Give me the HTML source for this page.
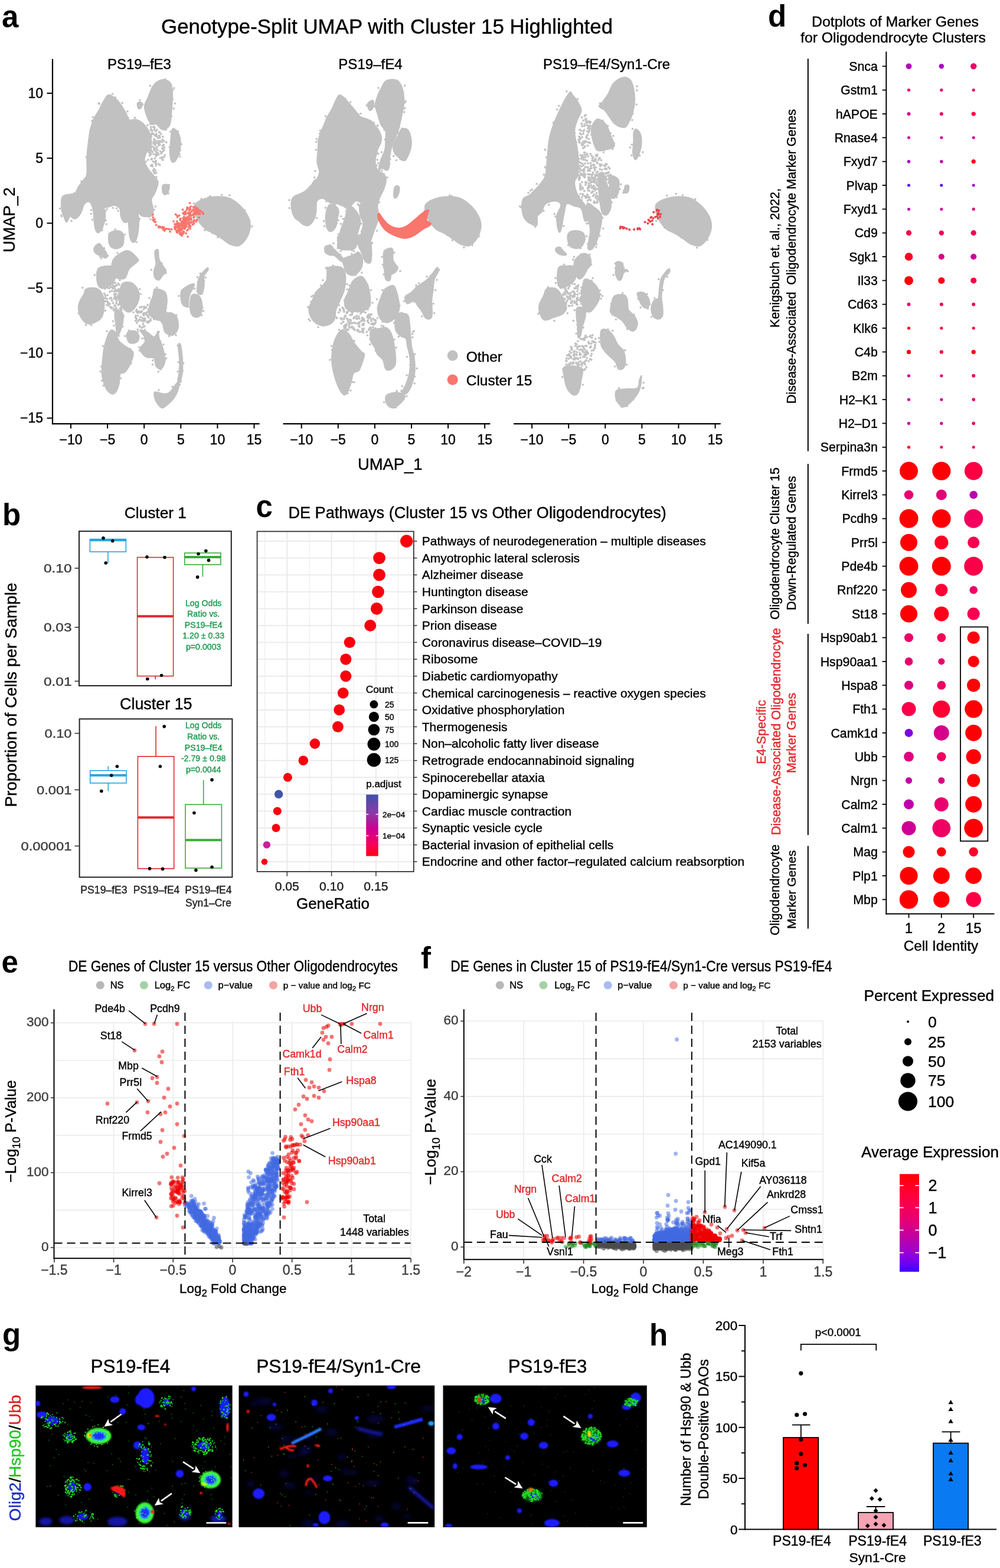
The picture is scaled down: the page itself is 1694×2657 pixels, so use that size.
<!DOCTYPE html>
<html><head><meta charset="utf-8"><title>Figure</title>
<style>
html,body{margin:0;padding:0;background:#fff;}
svg{display:block;}
text{font-family:"Liberation Sans",Arial,Helvetica,sans-serif;}
</style></head>
<body>
<svg width="1694" height="2657" viewBox="0 0 1694 2657">
<rect width="1694" height="2657" fill="#fff"/>
<text x="3.0" y="46.0" font-size="51.00" font-weight="bold">a</text>
<text x="4.0" y="889.8" font-size="51.00" font-weight="bold">b</text>
<text x="433.5" y="876.0" font-size="51.00" font-weight="bold">c</text>
<text x="1301.0" y="45.0" font-size="51.00" font-weight="bold">d</text>
<text x="2.5" y="1648.3" font-size="51.00" font-weight="bold">e</text>
<text x="713.0" y="1641.3" font-size="51.00" font-weight="bold">f</text>
<text x="4.0" y="2278.6" font-size="51.00" font-weight="bold">g</text>
<text x="1100.0" y="2279.9" font-size="51.00" font-weight="bold">h</text>
<text x="273.0" y="57.0" font-size="34.88" stroke="#000" stroke-width="0.4">Genotype-Split UMAP with Cluster 15 Highlighted</text>
<text x="182.0" y="116.5" font-size="23.98" stroke="#000" stroke-width="0.4">PS19–fE3</text>
<text x="573.3" y="116.5" font-size="24.07" stroke="#000" stroke-width="0.4">PS19–fE4</text>
<text x="920.0" y="116.5" font-size="23.88" stroke="#000" stroke-width="0.4">PS19–fE4/Syn1-Cre</text>
<g fill="#c1c1c1" stroke="#c1c1c1" stroke-width="2" stroke-linejoin="round"><path d="M183.9,160.8 C187.5,159.9 192.6,164.6 196.1,167.3 C199.6,170.1 201.8,173.2 204.7,177.3 C207.6,181.4 210.9,187.3 213.3,191.6 C215.7,195.9 216.1,201.3 219.0,203.1 C221.9,204.9 226.7,201.4 230.5,202.4 C234.3,203.4 238.3,205.6 241.9,208.8 C245.5,212.0 249.6,216.9 252.0,221.7 C254.4,226.5 255.8,232.5 256.3,237.5 C256.8,242.5 256.2,248.2 254.8,251.8 C253.4,255.4 249.4,255.4 247.7,259.0 C246.0,262.6 244.1,268.5 244.8,273.3 C245.5,278.1 249.6,283.9 252.0,287.7 C254.4,291.5 256.5,292.7 259.1,296.3 C261.7,299.9 267.2,303.9 267.7,309.2 C268.2,314.4 263.9,323.0 262.0,327.8 C260.1,332.6 256.8,333.5 256.3,337.8 C255.8,342.1 258.9,349.1 259.1,353.6 C259.3,358.2 260.6,363.0 257.7,365.1 C254.8,367.2 246.0,367.5 241.9,366.5 C237.8,365.5 235.9,361.4 233.3,359.3 C230.7,357.2 228.6,354.1 226.2,353.6 C223.8,353.1 220.4,353.1 219.0,356.5 C217.6,359.9 219.0,370.4 217.6,373.7 C216.2,377.0 212.6,377.7 210.4,376.5 C208.3,375.3 205.9,370.3 204.7,366.5 C203.5,362.7 204.9,356.7 203.2,353.6 C201.5,350.5 197.9,348.4 194.6,347.9 C191.3,347.4 186.3,349.8 183.2,350.7 C180.1,351.6 178.2,349.8 176.0,353.6 C173.8,357.4 171.5,368.0 170.3,373.7 C169.1,379.4 169.8,385.1 168.8,388.0 C167.8,390.9 165.9,393.3 164.5,390.9 C163.1,388.5 161.4,379.9 160.2,373.7 C159.0,367.5 158.8,358.9 157.4,353.6 C156.0,348.3 154.0,343.5 151.6,342.1 C149.2,340.7 145.2,342.6 143.0,345.0 C140.8,347.4 140.4,352.9 138.7,356.5 C137.0,360.1 135.2,364.1 133.0,366.5 C130.8,368.9 128.2,370.8 125.8,370.8 C123.4,370.8 120.8,365.6 118.7,366.5 C116.5,367.4 114.6,376.3 112.9,376.5 C111.2,376.7 110.0,371.7 108.6,367.9 C107.2,364.1 104.8,359.3 104.3,353.6 C103.8,347.9 103.4,337.6 105.8,333.5 C108.2,329.4 115.1,330.1 118.7,329.2 C122.3,328.2 124.9,329.9 127.3,327.8 C129.7,325.7 130.6,320.1 133.0,316.3 C135.4,312.5 139.2,308.5 141.6,304.9 C144.0,301.3 146.3,301.2 147.3,294.8 C148.3,288.4 146.8,275.8 147.3,266.2 C147.8,256.6 149.2,245.4 150.2,237.5 C151.2,229.6 151.7,224.9 153.1,218.9 C154.5,212.9 156.4,207.0 158.8,201.7 C161.2,196.4 164.8,192.1 167.4,187.3 C170.0,182.5 171.8,177.4 174.6,173.0 C177.3,168.6 180.3,161.8 183.9,160.8Z"/><path d="M277.8,135.0 C281.6,135.5 286.8,137.6 289.2,141.5 C291.6,145.4 291.8,151.1 292.1,158.7 C292.3,166.3 291.4,178.7 290.7,187.3 C290.0,195.9 289.5,205.0 287.8,210.3 C286.1,215.6 283.0,217.5 280.6,218.9 C278.2,220.3 276.1,220.3 273.5,218.9 C270.9,217.5 267.8,211.7 264.9,210.3 C262.0,208.9 258.9,212.5 256.3,210.3 C253.7,208.2 251.0,202.4 249.1,197.4 C247.2,192.4 244.6,185.5 244.8,180.2 C245.0,174.9 248.3,171.1 250.5,165.8 C252.7,160.5 255.1,153.1 257.7,148.6 C260.3,144.1 262.9,140.9 266.3,138.6 C269.7,136.3 274.0,134.5 277.8,135.0Z"/><path d="M233.5,174.0 C234.6,172.9 238.3,172.5 239.5,173.5 C240.7,174.5 241.1,178.2 240.5,180.0 C239.9,181.8 237.2,184.5 236.0,184.5 C234.8,184.5 233.4,181.8 233.0,180.0 C232.6,178.2 232.4,175.1 233.5,174.0Z"/><path d="M292.1,218.9 C294.0,216.5 298.4,219.9 300.7,223.2 C303.0,226.5 305.2,232.9 305.7,238.9 C306.2,244.9 305.1,253.3 303.6,259.0 C302.0,264.7 298.5,270.9 296.4,273.3 C294.2,275.7 292.1,275.7 290.7,273.3 C289.3,270.9 288.1,265.0 287.8,259.0 C287.6,253.0 288.5,244.2 289.2,237.5 C289.9,230.8 290.2,221.3 292.1,218.9Z"/><path d="M276.0,314.0 C277.5,311.8 283.3,312.5 285.0,313.5 C286.7,314.5 286.9,317.4 286.4,320.0 C285.9,322.6 283.7,328.0 282.0,329.2 C280.3,330.4 277.0,329.5 276.0,327.0 C275.0,324.5 274.5,316.2 276.0,314.0Z"/><path d="M160.2,353.6 C162.8,349.1 173.1,350.2 176.0,353.6 C178.9,357.0 178.4,367.5 177.4,373.7 C176.5,379.9 172.5,387.6 170.3,390.9 C168.2,394.2 166.2,395.4 164.5,393.7 C162.8,392.0 160.9,387.5 160.2,380.8 C159.5,374.1 157.6,358.1 160.2,353.6Z"/><path d="M186.0,395.0 C188.7,392.3 196.2,390.5 200.0,391.0 C203.8,391.5 207.7,394.0 209.0,398.0 C210.3,402.0 209.8,411.2 208.0,415.0 C206.2,418.8 201.3,420.5 198.0,421.0 C194.7,421.5 190.3,420.3 188.0,418.0 C185.7,415.7 184.3,410.8 184.0,407.0 C183.7,403.2 183.3,397.7 186.0,395.0Z"/><path d="M219.0,356.0 C221.2,349.8 229.3,354.0 232.0,358.0 C234.7,362.0 235.2,372.2 235.0,380.0 C234.8,387.8 232.8,400.0 231.0,405.0 C229.2,410.0 226.0,411.7 224.0,410.0 C222.0,408.3 219.8,404.0 219.0,395.0 C218.2,386.0 216.8,362.2 219.0,356.0Z"/><path d="M331.0,345.7 C333.9,342.3 340.5,338.7 347.0,336.6 C353.5,334.5 362.6,333.2 369.8,333.2 C377.0,333.2 383.9,333.8 390.3,336.6 C396.8,339.5 403.6,345.4 408.5,350.3 C413.4,355.2 417.3,361.0 419.9,366.3 C422.5,371.6 423.9,376.9 424.0,382.2 C424.1,387.5 422.2,393.6 420.4,398.2 C418.6,402.8 415.8,406.6 413.1,409.6 C410.4,412.6 407.8,415.6 404.0,416.4 C400.2,417.1 394.9,416.0 390.3,414.1 C385.7,412.2 381.2,408.0 376.6,405.0 C372.0,402.0 367.5,398.5 362.9,395.9 C358.3,393.2 353.0,391.8 349.2,389.1 C345.4,386.4 342.8,383.3 340.1,379.9 C337.5,376.5 335.0,372.3 333.3,368.5 C331.6,364.7 330.3,360.9 329.9,357.1 C329.5,353.3 328.2,349.1 331.0,345.7Z"/></g>
<g fill="#c1c1c1" stroke="#c1c1c1" stroke-width="2" stroke-linejoin="round" opacity="1.00"><path d="M159.3,420.3 C160.3,417.6 165.3,412.7 167.8,412.7 C170.3,412.7 172.2,417.3 174.5,420.3 C176.8,423.3 180.5,427.7 181.3,430.5 C182.2,433.3 181.3,436.7 179.6,437.3 C177.9,437.9 174.1,435.3 171.1,433.9 C168.1,432.5 163.8,431.1 161.8,428.8 C159.8,426.5 158.3,423.0 159.3,420.3Z"/><path d="M191.5,440.7 C194.0,435.6 200.5,431.4 205.0,428.8 C209.5,426.2 213.8,423.7 218.6,425.4 C223.4,427.1 231.6,435.9 233.8,439.0 C236.1,442.1 234.6,441.2 232.1,444.0 C229.6,446.8 222.0,451.4 218.6,455.9 C215.2,460.4 215.2,468.6 211.8,471.1 C208.4,473.6 201.9,473.1 198.2,471.1 C194.5,469.1 190.9,464.4 189.8,459.3 C188.7,454.2 189.0,445.8 191.5,440.7Z"/><path d="M166.1,455.9 C168.9,451.7 176.5,451.1 181.3,450.8 C186.1,450.5 192.6,450.5 194.9,454.2 C197.2,457.9 196.6,467.7 194.9,472.8 C193.2,477.9 188.7,482.1 184.7,484.7 C180.7,487.2 174.5,489.5 171.1,488.1 C167.7,486.7 165.2,481.6 164.4,476.2 C163.6,470.8 163.3,460.1 166.1,455.9Z"/><path d="M145.7,489.8 C148.8,488.1 156.8,487.2 161.0,488.1 C165.2,489.0 168.6,491.2 171.1,494.9 C173.6,498.6 175.6,503.9 176.2,510.1 C176.8,516.3 175.9,526.7 174.5,532.1 C173.1,537.5 171.8,539.5 167.8,542.3 C163.9,545.1 155.6,549.3 150.8,549.0 C146.0,548.7 142.0,544.6 139.0,540.6 C136.0,536.6 133.7,530.1 133.0,525.3 C132.3,520.5 133.1,516.3 134.7,511.8 C136.2,507.3 140.5,501.9 142.3,498.2 C144.1,494.5 142.6,491.5 145.7,489.8Z"/><path d="M208.4,479.6 C211.8,477.6 219.4,477.6 223.6,479.6 C227.8,481.6 231.8,487.3 233.8,491.5 C235.8,495.7 236.1,500.5 235.5,505.0 C234.9,509.5 233.2,514.6 230.4,518.6 C227.6,522.6 222.3,528.1 218.6,528.7 C214.9,529.3 211.2,525.4 208.4,522.0 C205.6,518.6 202.4,513.5 201.6,508.4 C200.7,503.3 202.2,496.3 203.3,491.5 C204.4,486.7 205.0,481.6 208.4,479.6Z"/><path d="M194.9,528.7 C196.6,524.8 204.4,526.2 206.7,528.7 C208.9,531.2 209.0,538.4 208.4,544.0 C207.8,549.6 205.0,558.6 203.3,562.6 C201.6,566.6 199.3,569.4 198.2,567.7 C197.1,566.0 197.0,558.9 196.5,552.4 C196.0,545.9 193.2,532.7 194.9,528.7Z"/><path d="M262.6,425.4 C263.5,423.7 266.6,421.4 267.7,423.7 C268.8,426.0 268.0,434.5 269.4,439.0 C270.8,443.5 274.2,447.4 276.2,450.8 C278.2,454.2 281.5,456.5 281.2,459.3 C280.9,462.1 276.5,465.3 274.5,467.8 C272.5,470.3 271.4,473.9 269.4,474.5 C267.4,475.1 264.0,473.6 262.6,471.1 C261.2,468.6 260.6,463.2 260.9,459.3 C261.2,455.4 264.0,451.6 264.3,447.4 C264.6,443.2 262.9,437.6 262.6,433.9 C262.3,430.2 261.8,427.1 262.6,425.4Z"/><path d="M262.6,489.8 C266.0,488.7 276.1,491.5 279.5,494.9 C282.9,498.3 282.6,504.5 282.9,510.1 C283.2,515.7 279.8,525.3 281.2,528.7 C282.6,532.1 288.3,528.7 291.4,530.4 C294.5,532.1 298.2,534.7 299.9,538.9 C301.6,543.1 302.7,551.0 301.6,555.8 C300.5,560.6 296.8,566.6 293.1,567.7 C289.4,568.8 282.6,566.3 279.5,562.6 C276.4,558.9 277.3,549.4 274.5,545.7 C271.7,542.0 266.3,542.9 262.6,540.6 C258.9,538.3 253.8,536.3 252.4,532.1 C251.0,527.9 253.0,520.3 254.1,515.2 C255.2,510.1 257.8,505.8 259.2,501.6 C260.6,497.4 259.2,490.9 262.6,489.8Z"/><path d="M350.7,454.2 C353.0,452.5 353.2,455.3 352.4,457.6 C351.5,459.9 346.7,463.3 345.6,467.8 C344.5,472.3 346.2,479.6 345.6,484.7 C345.0,489.8 343.9,496.2 342.2,498.2 C340.5,500.2 336.8,499.3 335.5,496.5 C334.2,493.7 334.0,486.1 334.6,481.3 C335.1,476.5 336.1,472.3 338.8,467.8 C341.5,463.3 348.4,455.9 350.7,454.2Z"/><path d="M325.3,499.9 C327.8,497.1 334.3,499.1 337.1,501.6 C339.9,504.2 341.6,510.1 342.2,515.2 C342.8,520.3 341.9,528.4 340.5,532.1 C339.1,535.8 336.3,536.9 333.8,537.2 C331.3,537.5 327.3,536.9 325.3,533.8 C323.3,530.7 321.9,524.2 321.9,518.6 C321.9,513.0 322.8,502.7 325.3,499.9Z"/><path d="M308.3,491.5 C311.4,487.6 321.9,482.4 325.3,481.3 C328.7,480.2 329.6,481.3 328.7,484.7 C327.8,488.1 321.9,496.0 320.2,501.6 C318.5,507.2 320.2,516.1 318.5,518.6 C316.8,521.1 312.0,519.2 310.0,516.9 C308.0,514.6 306.9,509.2 306.6,505.0 C306.3,500.8 305.2,495.4 308.3,491.5Z"/><path d="M186.4,560.9 C189.2,557.5 192.4,559.8 194.9,562.6 C197.4,565.4 198.8,573.8 201.6,577.8 C204.4,581.8 207.8,583.2 211.8,586.3 C215.8,589.4 223.6,592.0 225.3,596.5 C227.0,601.0 224.2,607.8 222.0,613.4 C219.8,619.0 214.9,627.0 211.8,630.4 C208.7,633.8 205.0,630.3 203.3,633.7 C201.6,637.1 203.0,645.3 201.6,650.7 C200.2,656.1 197.4,663.4 194.9,665.9 C192.4,668.4 189.2,667.9 186.4,665.9 C183.6,663.9 180.2,659.5 177.9,654.1 C175.6,648.7 173.4,642.2 172.8,633.7 C172.2,625.2 173.7,611.8 174.5,603.3 C175.3,594.8 175.9,590.0 177.9,582.9 C179.9,575.8 183.6,564.3 186.4,560.9Z"/><path d="M216.9,562.6 C219.2,560.6 225.6,559.8 228.7,560.9 C231.8,562.0 234.9,566.3 235.5,569.4 C236.1,572.5 234.6,577.5 232.1,579.5 C229.6,581.5 223.1,582.3 220.3,581.2 C217.5,580.1 215.8,575.9 215.2,572.8 C214.6,569.7 214.7,564.6 216.9,562.6Z"/><path d="M237.2,559.2 C238.0,558.1 245.1,560.6 249.0,562.6 C252.9,564.6 257.8,571.1 260.9,571.1 C264.0,571.1 266.3,562.3 267.7,562.6 C269.1,562.9 268.0,568.0 269.4,572.8 C270.8,577.6 274.5,584.9 276.2,591.4 C277.9,597.9 280.1,606.1 279.5,611.7 C278.9,617.4 275.3,623.9 272.8,625.3 C270.3,626.7 266.3,623.3 264.3,620.2 C262.3,617.1 263.7,609.1 260.9,606.6 C258.1,604.1 251.4,607.5 247.4,605.0 C243.5,602.5 237.5,595.6 237.2,591.4 C236.9,587.1 244.6,583.2 245.7,579.5 C246.8,575.8 245.4,572.8 244.0,569.4 C242.6,566.0 236.4,560.3 237.2,559.2Z"/><path d="M262.6,664.2 C265.3,663.4 273.6,667.6 277.8,667.6 C282.0,667.6 284.6,667.0 288.0,664.2 C291.4,661.4 295.6,653.5 298.2,650.7 C300.8,647.9 302.7,645.6 303.3,647.3 C303.9,649.0 303.0,656.3 301.6,660.8 C300.2,665.3 297.9,670.2 294.8,674.4 C291.7,678.6 286.3,683.4 282.9,686.2 C279.5,689.0 277.3,691.8 274.5,691.3 C271.7,690.8 268.1,686.0 266.0,682.9 C263.9,679.8 262.4,675.8 261.8,672.7 C261.2,669.6 259.9,665.1 262.6,664.2Z"/><path d="M302.0,585.0 C302.3,581.2 304.8,580.8 306.0,585.0 C307.2,589.2 308.5,602.5 309.0,610.0 C309.5,617.5 309.7,623.8 309.0,630.0 C308.3,636.2 306.3,644.2 305.0,647.0 C303.7,649.8 301.2,650.2 301.0,647.0 C300.8,643.8 303.5,634.5 304.0,628.0 C304.5,621.5 304.3,615.2 304.0,608.0 C303.7,600.8 301.7,588.8 302.0,585.0Z"/></g>
<g fill="#c1c1c1"><circle cx="269.9" cy="239.6" r="1.9"/><circle cx="276.7" cy="246.4" r="1.9"/><circle cx="269.4" cy="223.9" r="1.9"/><circle cx="264.8" cy="241.7" r="1.9"/><circle cx="256.2" cy="231.2" r="1.9"/><circle cx="267.1" cy="254.3" r="1.9"/><circle cx="275.2" cy="269.4" r="1.9"/><circle cx="260.9" cy="286.2" r="1.9"/><circle cx="260.2" cy="240.1" r="1.9"/><circle cx="270.7" cy="279.6" r="1.9"/><circle cx="263.3" cy="289.0" r="1.9"/><circle cx="265.3" cy="263.2" r="1.9"/><circle cx="260.1" cy="226.9" r="1.9"/><circle cx="264.3" cy="280.6" r="1.9"/><circle cx="256.2" cy="254.8" r="1.9"/><circle cx="265.6" cy="230.6" r="1.9"/><circle cx="274.6" cy="266.6" r="1.9"/><circle cx="264.1" cy="275.6" r="1.9"/><circle cx="264.9" cy="228.0" r="1.9"/><circle cx="253.6" cy="258.6" r="1.9"/><circle cx="255.6" cy="261.4" r="1.9"/><circle cx="257.3" cy="226.7" r="1.9"/><circle cx="277.8" cy="254.5" r="1.9"/><circle cx="281.8" cy="241.2" r="1.9"/><circle cx="269.3" cy="244.5" r="1.9"/><circle cx="254.6" cy="252.4" r="1.9"/><circle cx="267.4" cy="242.7" r="1.9"/><circle cx="255.7" cy="215.1" r="1.9"/><circle cx="275.4" cy="236.6" r="1.9"/><circle cx="262.8" cy="244.0" r="1.9"/><circle cx="265.4" cy="239.4" r="1.9"/><circle cx="267.6" cy="259.3" r="1.9"/><circle cx="260.8" cy="253.3" r="1.9"/><circle cx="256.6" cy="227.7" r="1.9"/><circle cx="261.9" cy="239.1" r="1.9"/><circle cx="261.3" cy="254.0" r="1.9"/><circle cx="272.8" cy="259.8" r="1.9"/><circle cx="257.7" cy="225.6" r="1.9"/><circle cx="257.7" cy="279.1" r="1.9"/><circle cx="278.0" cy="265.8" r="1.9"/><circle cx="269.0" cy="239.0" r="1.9"/><circle cx="270.5" cy="232.7" r="1.9"/><circle cx="262.5" cy="268.3" r="1.9"/><circle cx="259.5" cy="289.2" r="1.9"/><circle cx="261.5" cy="219.3" r="1.9"/><circle cx="270.3" cy="233.3" r="1.9"/><circle cx="264.5" cy="257.5" r="1.9"/><circle cx="257.9" cy="226.7" r="1.9"/><circle cx="255.7" cy="218.9" r="1.9"/><circle cx="253.5" cy="263.7" r="1.9"/><circle cx="267.3" cy="233.7" r="1.9"/><circle cx="263.1" cy="245.8" r="1.9"/><circle cx="262.1" cy="274.7" r="1.9"/><circle cx="255.2" cy="241.5" r="1.9"/><circle cx="265.8" cy="219.9" r="1.9"/><circle cx="264.9" cy="227.2" r="1.9"/><circle cx="258.1" cy="221.7" r="1.9"/><circle cx="254.3" cy="260.3" r="1.9"/><circle cx="258.4" cy="281.8" r="1.9"/><circle cx="262.0" cy="293.7" r="1.9"/><circle cx="256.4" cy="220.4" r="1.9"/><circle cx="255.9" cy="270.1" r="1.9"/><circle cx="254.5" cy="253.5" r="1.9"/><circle cx="260.4" cy="243.7" r="1.9"/><circle cx="264.6" cy="292.9" r="1.9"/><circle cx="259.3" cy="273.5" r="1.9"/><circle cx="257.9" cy="257.3" r="1.9"/><circle cx="262.1" cy="228.9" r="1.9"/><circle cx="264.0" cy="261.5" r="1.9"/><circle cx="270.0" cy="230.0" r="1.9"/><circle cx="264.0" cy="264.6" r="1.9"/><circle cx="261.1" cy="250.3" r="1.9"/><circle cx="260.1" cy="261.1" r="1.9"/><circle cx="271.5" cy="256.4" r="1.9"/><circle cx="266.2" cy="260.3" r="1.9"/><circle cx="275.8" cy="247.5" r="1.9"/><circle cx="272.6" cy="239.1" r="1.9"/><circle cx="279.4" cy="262.8" r="1.9"/><circle cx="278.2" cy="238.8" r="1.9"/><circle cx="278.6" cy="250.0" r="1.9"/><circle cx="255.5" cy="250.8" r="1.9"/><circle cx="264.0" cy="230.7" r="1.9"/><circle cx="260.9" cy="214.9" r="1.9"/><circle cx="260.8" cy="235.7" r="1.9"/><circle cx="277.1" cy="245.5" r="1.9"/><circle cx="256.3" cy="249.0" r="1.9"/><circle cx="270.8" cy="224.1" r="1.9"/><circle cx="268.4" cy="277.8" r="1.9"/><circle cx="275.9" cy="231.7" r="1.9"/><circle cx="276.2" cy="246.1" r="1.9"/><circle cx="264.0" cy="256.9" r="1.9"/><circle cx="263.0" cy="252.6" r="1.9"/><circle cx="261.7" cy="216.3" r="1.9"/><circle cx="268.7" cy="261.8" r="1.9"/><circle cx="275.6" cy="256.7" r="1.9"/><circle cx="265.5" cy="249.5" r="1.9"/><circle cx="272.8" cy="227.1" r="1.9"/><circle cx="265.1" cy="251.3" r="1.9"/><circle cx="255.7" cy="220.8" r="1.9"/><circle cx="255.6" cy="231.9" r="1.9"/><circle cx="268.6" cy="246.6" r="1.9"/><circle cx="257.4" cy="268.9" r="1.9"/><circle cx="270.5" cy="241.4" r="1.9"/><circle cx="268.3" cy="242.4" r="1.9"/><circle cx="262.3" cy="237.1" r="1.9"/><circle cx="255.6" cy="280.9" r="1.9"/><circle cx="252.9" cy="255.7" r="1.9"/><circle cx="273.6" cy="259.4" r="1.9"/><circle cx="257.3" cy="257.5" r="1.9"/><circle cx="274.8" cy="251.4" r="1.9"/><circle cx="270.8" cy="232.8" r="1.9"/><circle cx="261.0" cy="292.1" r="1.9"/><circle cx="264.2" cy="272.5" r="1.9"/><circle cx="257.7" cy="257.4" r="1.9"/><circle cx="252.5" cy="258.2" r="1.9"/><circle cx="270.1" cy="230.5" r="1.9"/><circle cx="264.0" cy="277.7" r="1.9"/><circle cx="270.9" cy="245.2" r="1.9"/><circle cx="261.2" cy="242.4" r="1.9"/><circle cx="275.1" cy="240.6" r="1.9"/><circle cx="263.7" cy="222.4" r="1.9"/><circle cx="271.4" cy="267.8" r="1.9"/><circle cx="260.1" cy="243.2" r="1.9"/><circle cx="276.2" cy="251.9" r="1.9"/><circle cx="263.7" cy="256.6" r="1.9"/><circle cx="275.8" cy="271.0" r="1.9"/><circle cx="197.6" cy="483.5" r="1.9"/><circle cx="206.0" cy="500.9" r="1.9"/><circle cx="191.2" cy="488.9" r="1.9"/><circle cx="185.2" cy="514.3" r="1.9"/><circle cx="194.7" cy="489.0" r="1.9"/><circle cx="177.8" cy="479.1" r="1.9"/><circle cx="201.0" cy="515.6" r="1.9"/><circle cx="182.8" cy="513.5" r="1.9"/><circle cx="202.7" cy="512.1" r="1.9"/><circle cx="195.5" cy="498.9" r="1.9"/><circle cx="196.6" cy="491.8" r="1.9"/><circle cx="187.6" cy="486.3" r="1.9"/><circle cx="180.7" cy="480.0" r="1.9"/><circle cx="199.8" cy="502.4" r="1.9"/><circle cx="200.5" cy="500.0" r="1.9"/><circle cx="196.6" cy="497.6" r="1.9"/><circle cx="193.4" cy="493.9" r="1.9"/><circle cx="200.6" cy="499.9" r="1.9"/><circle cx="203.9" cy="515.9" r="1.9"/><circle cx="186.8" cy="484.6" r="1.9"/><circle cx="198.1" cy="492.3" r="1.9"/><circle cx="189.8" cy="487.1" r="1.9"/><circle cx="205.1" cy="520.5" r="1.9"/><circle cx="190.4" cy="481.7" r="1.9"/><circle cx="187.2" cy="520.1" r="1.9"/><circle cx="205.5" cy="520.3" r="1.9"/><circle cx="187.9" cy="521.3" r="1.9"/><circle cx="191.4" cy="485.3" r="1.9"/><circle cx="180.4" cy="482.7" r="1.9"/><circle cx="191.7" cy="513.2" r="1.9"/><circle cx="176.1" cy="505.4" r="1.9"/><circle cx="200.4" cy="516.6" r="1.9"/><circle cx="194.7" cy="493.4" r="1.9"/><circle cx="202.5" cy="506.5" r="1.9"/><circle cx="202.8" cy="497.8" r="1.9"/><circle cx="188.1" cy="505.4" r="1.9"/><circle cx="195.9" cy="484.3" r="1.9"/><circle cx="205.7" cy="489.5" r="1.9"/><circle cx="178.3" cy="500.9" r="1.9"/><circle cx="184.9" cy="488.6" r="1.9"/><circle cx="192.4" cy="525.2" r="1.9"/><circle cx="186.1" cy="505.8" r="1.9"/><circle cx="180.7" cy="510.6" r="1.9"/><circle cx="198.9" cy="491.7" r="1.9"/><circle cx="200.5" cy="494.1" r="1.9"/><circle cx="203.5" cy="522.8" r="1.9"/><circle cx="205.6" cy="508.4" r="1.9"/><circle cx="192.8" cy="486.1" r="1.9"/><circle cx="195.2" cy="479.1" r="1.9"/><circle cx="208.2" cy="519.5" r="1.9"/><circle cx="200.2" cy="480.5" r="1.9"/><circle cx="196.2" cy="505.4" r="1.9"/><circle cx="181.0" cy="483.1" r="1.9"/><circle cx="174.0" cy="485.3" r="1.9"/><circle cx="194.1" cy="485.5" r="1.9"/><circle cx="181.0" cy="516.7" r="1.9"/><circle cx="197.0" cy="505.6" r="1.9"/><circle cx="188.1" cy="504.6" r="1.9"/><circle cx="195.5" cy="518.7" r="1.9"/><circle cx="196.4" cy="483.2" r="1.9"/><circle cx="197.7" cy="493.0" r="1.9"/><circle cx="188.8" cy="522.0" r="1.9"/><circle cx="196.8" cy="522.2" r="1.9"/><circle cx="200.5" cy="506.9" r="1.9"/><circle cx="194.4" cy="501.1" r="1.9"/><circle cx="202.9" cy="512.4" r="1.9"/><circle cx="194.4" cy="503.4" r="1.9"/><circle cx="189.7" cy="509.2" r="1.9"/><circle cx="204.7" cy="500.9" r="1.9"/><circle cx="188.8" cy="520.8" r="1.9"/><circle cx="176.7" cy="497.4" r="1.9"/><circle cx="192.0" cy="521.9" r="1.9"/><circle cx="199.2" cy="504.1" r="1.9"/><circle cx="179.2" cy="480.4" r="1.9"/><circle cx="194.8" cy="484.8" r="1.9"/><circle cx="201.8" cy="499.7" r="1.9"/><circle cx="209.8" cy="503.5" r="1.9"/><circle cx="197.5" cy="510.5" r="1.9"/><circle cx="193.1" cy="505.9" r="1.9"/><circle cx="208.7" cy="497.2" r="1.9"/><circle cx="193.6" cy="498.4" r="1.9"/><circle cx="182.1" cy="500.1" r="1.9"/><circle cx="178.0" cy="489.2" r="1.9"/><circle cx="194.1" cy="526.2" r="1.9"/><circle cx="197.8" cy="503.0" r="1.9"/><circle cx="204.0" cy="515.5" r="1.9"/><circle cx="198.6" cy="525.8" r="1.9"/><circle cx="178.3" cy="510.3" r="1.9"/><circle cx="205.9" cy="490.2" r="1.9"/><circle cx="196.0" cy="526.5" r="1.9"/><circle cx="209.6" cy="514.5" r="1.9"/><circle cx="206.6" cy="511.8" r="1.9"/><circle cx="196.6" cy="522.4" r="1.9"/><circle cx="183.7" cy="517.9" r="1.9"/><circle cx="182.1" cy="487.6" r="1.9"/><circle cx="189.8" cy="480.5" r="1.9"/><circle cx="181.1" cy="506.3" r="1.9"/><circle cx="200.3" cy="492.6" r="1.9"/><circle cx="185.9" cy="494.5" r="1.9"/><circle cx="194.0" cy="517.3" r="1.9"/><circle cx="206.0" cy="524.9" r="1.9"/><circle cx="182.6" cy="511.1" r="1.9"/><circle cx="195.8" cy="524.1" r="1.9"/><circle cx="185.8" cy="515.2" r="1.9"/><circle cx="204.7" cy="524.6" r="1.9"/><circle cx="203.2" cy="503.2" r="1.9"/><circle cx="201.8" cy="482.5" r="1.9"/><circle cx="191.9" cy="478.7" r="1.9"/><circle cx="197.2" cy="514.2" r="1.9"/><circle cx="201.1" cy="491.0" r="1.9"/><circle cx="204.6" cy="522.2" r="1.9"/><circle cx="194.3" cy="504.8" r="1.9"/><circle cx="209.4" cy="517.3" r="1.9"/><circle cx="191.9" cy="484.7" r="1.9"/><circle cx="196.5" cy="507.7" r="1.9"/><circle cx="189.4" cy="493.0" r="1.9"/><circle cx="179.5" cy="484.3" r="1.9"/><circle cx="229.9" cy="535.0" r="1.9"/><circle cx="243.9" cy="544.6" r="1.9"/><circle cx="242.5" cy="532.4" r="1.9"/><circle cx="241.5" cy="538.8" r="1.9"/><circle cx="250.4" cy="535.8" r="1.9"/><circle cx="243.2" cy="533.0" r="1.9"/><circle cx="241.6" cy="544.1" r="1.9"/><circle cx="250.1" cy="534.2" r="1.9"/><circle cx="255.0" cy="543.3" r="1.9"/><circle cx="238.7" cy="542.1" r="1.9"/><circle cx="243.4" cy="523.8" r="1.9"/><circle cx="234.5" cy="544.0" r="1.9"/><circle cx="229.7" cy="543.3" r="1.9"/><circle cx="250.0" cy="516.8" r="1.9"/><circle cx="244.7" cy="541.9" r="1.9"/><circle cx="247.0" cy="520.5" r="1.9"/><circle cx="248.2" cy="533.2" r="1.9"/><circle cx="250.9" cy="537.1" r="1.9"/><circle cx="251.4" cy="524.0" r="1.9"/><circle cx="236.9" cy="553.8" r="1.9"/><circle cx="240.3" cy="527.5" r="1.9"/><circle cx="231.0" cy="539.5" r="1.9"/><circle cx="250.9" cy="545.0" r="1.9"/><circle cx="242.4" cy="549.0" r="1.9"/><circle cx="251.6" cy="537.5" r="1.9"/><circle cx="231.1" cy="527.2" r="1.9"/><circle cx="243.2" cy="541.0" r="1.9"/><circle cx="239.9" cy="520.0" r="1.9"/><circle cx="243.9" cy="519.7" r="1.9"/><circle cx="243.9" cy="534.4" r="1.9"/><circle cx="231.5" cy="528.3" r="1.9"/><circle cx="247.0" cy="521.6" r="1.9"/><circle cx="244.8" cy="552.9" r="1.9"/><circle cx="239.3" cy="528.5" r="1.9"/><circle cx="240.4" cy="555.4" r="1.9"/><circle cx="244.8" cy="521.9" r="1.9"/><circle cx="231.1" cy="542.6" r="1.9"/><circle cx="239.4" cy="543.2" r="1.9"/><circle cx="243.8" cy="530.6" r="1.9"/><circle cx="246.6" cy="521.0" r="1.9"/><circle cx="236.8" cy="528.1" r="1.9"/><circle cx="255.0" cy="540.4" r="1.9"/><circle cx="231.3" cy="524.6" r="1.9"/><circle cx="236.7" cy="529.1" r="1.9"/><circle cx="229.5" cy="538.1" r="1.9"/><circle cx="250.7" cy="528.1" r="1.9"/><circle cx="243.0" cy="553.5" r="1.9"/><circle cx="233.3" cy="534.8" r="1.9"/><circle cx="245.3" cy="530.8" r="1.9"/><circle cx="245.8" cy="542.6" r="1.9"/><circle cx="245.6" cy="539.3" r="1.9"/><circle cx="234.6" cy="527.6" r="1.9"/><circle cx="247.4" cy="530.8" r="1.9"/><circle cx="236.9" cy="520.8" r="1.9"/><circle cx="233.1" cy="530.2" r="1.9"/><circle cx="231.7" cy="547.0" r="1.9"/><circle cx="250.1" cy="546.5" r="1.9"/><circle cx="238.1" cy="537.2" r="1.9"/><circle cx="238.6" cy="529.4" r="1.9"/><circle cx="248.5" cy="529.5" r="1.9"/><circle cx="251.9" cy="546.3" r="1.9"/><circle cx="248.8" cy="545.3" r="1.9"/><circle cx="253.1" cy="543.7" r="1.9"/><circle cx="236.0" cy="541.3" r="1.9"/><circle cx="236.4" cy="552.1" r="1.9"/></g>
<g fill="#c1c1c1"><circle cx="190.6" cy="159.2" r="1.8"/><circle cx="195.4" cy="165.0" r="1.8"/><circle cx="207.2" cy="174.4" r="1.8"/><circle cx="204.8" cy="181.4" r="1.8"/><circle cx="216.0" cy="188.9" r="1.8"/><circle cx="217.0" cy="199.6" r="1.8"/><circle cx="228.5" cy="199.2" r="1.8"/><circle cx="250.0" cy="212.0" r="1.8"/><circle cx="255.1" cy="232.2" r="1.8"/><circle cx="258.1" cy="226.5" r="1.8"/><circle cx="259.0" cy="248.4" r="1.8"/><circle cx="250.5" cy="270.9" r="1.8"/><circle cx="247.3" cy="273.9" r="1.8"/><circle cx="258.6" cy="298.3" r="1.8"/><circle cx="265.0" cy="299.7" r="1.8"/><circle cx="263.2" cy="349.9" r="1.8"/><circle cx="255.2" cy="339.1" r="1.8"/><circle cx="258.7" cy="352.3" r="1.8"/><circle cx="257.2" cy="358.4" r="1.8"/><circle cx="260.9" cy="355.5" r="1.8"/><circle cx="255.1" cy="371.7" r="1.8"/><circle cx="252.6" cy="367.6" r="1.8"/><circle cx="233.7" cy="359.5" r="1.8"/><circle cx="219.1" cy="367.5" r="1.8"/><circle cx="206.6" cy="370.0" r="1.8"/><circle cx="200.1" cy="357.3" r="1.8"/><circle cx="205.6" cy="362.3" r="1.8"/><circle cx="197.3" cy="353.1" r="1.8"/><circle cx="191.5" cy="352.3" r="1.8"/><circle cx="181.3" cy="354.4" r="1.8"/><circle cx="172.0" cy="362.4" r="1.8"/><circle cx="168.8" cy="364.7" r="1.8"/><circle cx="174.9" cy="371.6" r="1.8"/><circle cx="168.7" cy="384.6" r="1.8"/><circle cx="173.1" cy="386.7" r="1.8"/><circle cx="164.9" cy="389.8" r="1.8"/><circle cx="162.2" cy="379.8" r="1.8"/><circle cx="156.6" cy="372.3" r="1.8"/><circle cx="154.2" cy="362.3" r="1.8"/><circle cx="159.1" cy="362.0" r="1.8"/><circle cx="158.6" cy="356.7" r="1.8"/><circle cx="143.1" cy="344.8" r="1.8"/><circle cx="136.2" cy="360.8" r="1.8"/><circle cx="127.1" cy="367.8" r="1.8"/><circle cx="120.9" cy="374.4" r="1.8"/><circle cx="112.2" cy="373.6" r="1.8"/><circle cx="103.9" cy="364.7" r="1.8"/><circle cx="104.3" cy="366.6" r="1.8"/><circle cx="104.9" cy="345.9" r="1.8"/><circle cx="101.6" cy="353.2" r="1.8"/><circle cx="125.6" cy="327.4" r="1.8"/><circle cx="130.8" cy="322.3" r="1.8"/><circle cx="137.8" cy="307.3" r="1.8"/><circle cx="137.2" cy="315.4" r="1.8"/><circle cx="146.5" cy="266.4" r="1.8"/><circle cx="151.8" cy="238.7" r="1.8"/><circle cx="156.5" cy="204.2" r="1.8"/><circle cx="155.9" cy="204.9" r="1.8"/><circle cx="157.5" cy="198.5" r="1.8"/><circle cx="167.1" cy="174.9" r="1.8"/><circle cx="168.4" cy="175.9" r="1.8"/><circle cx="184.2" cy="162.9" r="1.8"/><circle cx="279.8" cy="134.4" r="1.8"/><circle cx="292.8" cy="152.6" r="1.8"/><circle cx="295.0" cy="149.3" r="1.8"/><circle cx="294.3" cy="183.9" r="1.8"/><circle cx="292.6" cy="168.3" r="1.8"/><circle cx="296.4" cy="175.5" r="1.8"/><circle cx="290.5" cy="197.3" r="1.8"/><circle cx="286.6" cy="197.6" r="1.8"/><circle cx="281.1" cy="219.9" r="1.8"/><circle cx="277.4" cy="219.4" r="1.8"/><circle cx="259.4" cy="215.2" r="1.8"/><circle cx="254.6" cy="210.4" r="1.8"/><circle cx="256.2" cy="206.2" r="1.8"/><circle cx="254.5" cy="145.2" r="1.8"/><circle cx="236.9" cy="169.7" r="1.8"/><circle cx="241.6" cy="176.9" r="1.8"/><circle cx="237.3" cy="181.9" r="1.8"/><circle cx="301.4" cy="222.7" r="1.8"/><circle cx="305.3" cy="254.6" r="1.8"/><circle cx="307.2" cy="244.3" r="1.8"/><circle cx="304.9" cy="265.8" r="1.8"/><circle cx="304.0" cy="261.6" r="1.8"/><circle cx="287.3" cy="249.6" r="1.8"/><circle cx="288.6" cy="223.0" r="1.8"/><circle cx="286.4" cy="313.2" r="1.8"/><circle cx="285.4" cy="327.8" r="1.8"/><circle cx="279.0" cy="325.5" r="1.8"/><circle cx="276.0" cy="315.1" r="1.8"/><circle cx="179.0" cy="373.4" r="1.8"/><circle cx="173.6" cy="359.2" r="1.8"/><circle cx="178.8" cy="357.3" r="1.8"/><circle cx="172.7" cy="390.4" r="1.8"/><circle cx="180.4" cy="380.0" r="1.8"/><circle cx="154.6" cy="356.0" r="1.8"/><circle cx="161.4" cy="370.2" r="1.8"/><circle cx="195.3" cy="388.8" r="1.8"/><circle cx="211.4" cy="397.5" r="1.8"/><circle cx="187.0" cy="409.8" r="1.8"/><circle cx="185.0" cy="396.4" r="1.8"/><circle cx="228.3" cy="354.5" r="1.8"/><circle cx="232.6" cy="376.8" r="1.8"/><circle cx="236.3" cy="370.3" r="1.8"/><circle cx="234.4" cy="360.8" r="1.8"/><circle cx="235.4" cy="373.4" r="1.8"/><circle cx="231.2" cy="410.3" r="1.8"/><circle cx="217.4" cy="368.7" r="1.8"/><circle cx="215.4" cy="359.9" r="1.8"/><circle cx="216.3" cy="359.9" r="1.8"/><circle cx="343.4" cy="339.9" r="1.8"/><circle cx="341.0" cy="337.0" r="1.8"/><circle cx="355.8" cy="332.5" r="1.8"/><circle cx="352.9" cy="334.5" r="1.8"/><circle cx="375.7" cy="330.2" r="1.8"/><circle cx="373.4" cy="335.1" r="1.8"/><circle cx="388.8" cy="331.0" r="1.8"/><circle cx="402.0" cy="348.3" r="1.8"/><circle cx="411.3" cy="358.7" r="1.8"/><circle cx="414.8" cy="356.2" r="1.8"/><circle cx="411.1" cy="355.3" r="1.8"/><circle cx="422.8" cy="373.9" r="1.8"/><circle cx="427.0" cy="383.7" r="1.8"/><circle cx="368.8" cy="402.1" r="1.8"/><circle cx="360.0" cy="395.3" r="1.8"/><circle cx="347.0" cy="390.1" r="1.8"/><circle cx="335.7" cy="364.5" r="1.8"/><circle cx="328.3" cy="344.6" r="1.8"/><circle cx="166.5" cy="416.8" r="1.8"/><circle cx="173.3" cy="421.9" r="1.8"/><circle cx="176.5" cy="420.5" r="1.8"/><circle cx="182.7" cy="433.5" r="1.8"/><circle cx="171.7" cy="438.0" r="1.8"/><circle cx="169.8" cy="435.1" r="1.8"/><circle cx="198.9" cy="428.7" r="1.8"/><circle cx="232.1" cy="442.0" r="1.8"/><circle cx="202.9" cy="474.7" r="1.8"/><circle cx="195.9" cy="468.0" r="1.8"/><circle cx="194.6" cy="442.7" r="1.8"/><circle cx="177.2" cy="452.0" r="1.8"/><circle cx="189.9" cy="451.0" r="1.8"/><circle cx="185.7" cy="452.0" r="1.8"/><circle cx="197.6" cy="460.3" r="1.8"/><circle cx="196.3" cy="459.7" r="1.8"/><circle cx="192.2" cy="479.8" r="1.8"/><circle cx="189.9" cy="477.0" r="1.8"/><circle cx="169.5" cy="486.4" r="1.8"/><circle cx="165.2" cy="462.5" r="1.8"/><circle cx="160.3" cy="465.9" r="1.8"/><circle cx="159.2" cy="490.0" r="1.8"/><circle cx="149.7" cy="489.0" r="1.8"/><circle cx="178.9" cy="504.9" r="1.8"/><circle cx="178.5" cy="501.3" r="1.8"/><circle cx="175.4" cy="507.2" r="1.8"/><circle cx="178.4" cy="526.4" r="1.8"/><circle cx="173.7" cy="511.1" r="1.8"/><circle cx="154.6" cy="551.1" r="1.8"/><circle cx="141.9" cy="537.9" r="1.8"/><circle cx="145.4" cy="550.8" r="1.8"/><circle cx="133.2" cy="530.9" r="1.8"/><circle cx="133.3" cy="518.0" r="1.8"/><circle cx="138.6" cy="507.1" r="1.8"/><circle cx="138.8" cy="505.8" r="1.8"/><circle cx="139.9" cy="487.5" r="1.8"/><circle cx="230.6" cy="487.8" r="1.8"/><circle cx="236.7" cy="489.8" r="1.8"/><circle cx="234.0" cy="500.0" r="1.8"/><circle cx="238.1" cy="498.3" r="1.8"/><circle cx="226.2" cy="529.2" r="1.8"/><circle cx="202.3" cy="503.8" r="1.8"/><circle cx="202.1" cy="498.3" r="1.8"/><circle cx="201.0" cy="489.8" r="1.8"/><circle cx="200.1" cy="525.3" r="1.8"/><circle cx="208.6" cy="533.5" r="1.8"/><circle cx="209.1" cy="536.3" r="1.8"/><circle cx="207.5" cy="546.5" r="1.8"/><circle cx="207.8" cy="553.5" r="1.8"/><circle cx="201.3" cy="569.1" r="1.8"/><circle cx="191.4" cy="544.2" r="1.8"/><circle cx="193.0" cy="551.7" r="1.8"/><circle cx="274.2" cy="446.3" r="1.8"/><circle cx="280.3" cy="459.1" r="1.8"/><circle cx="280.9" cy="462.9" r="1.8"/><circle cx="278.7" cy="460.6" r="1.8"/><circle cx="264.4" cy="451.9" r="1.8"/><circle cx="256.3" cy="457.3" r="1.8"/><circle cx="265.7" cy="487.2" r="1.8"/><circle cx="281.3" cy="521.0" r="1.8"/><circle cx="296.9" cy="534.8" r="1.8"/><circle cx="298.8" cy="534.1" r="1.8"/><circle cx="298.0" cy="568.0" r="1.8"/><circle cx="286.5" cy="569.6" r="1.8"/><circle cx="281.7" cy="563.6" r="1.8"/><circle cx="274.3" cy="546.3" r="1.8"/><circle cx="279.6" cy="560.5" r="1.8"/><circle cx="267.7" cy="541.9" r="1.8"/><circle cx="260.7" cy="540.9" r="1.8"/><circle cx="256.7" cy="508.5" r="1.8"/><circle cx="252.9" cy="504.9" r="1.8"/><circle cx="348.2" cy="470.3" r="1.8"/><circle cx="343.4" cy="483.6" r="1.8"/><circle cx="345.8" cy="475.9" r="1.8"/><circle cx="335.8" cy="496.4" r="1.8"/><circle cx="334.0" cy="493.6" r="1.8"/><circle cx="334.4" cy="469.7" r="1.8"/><circle cx="339.3" cy="463.4" r="1.8"/><circle cx="339.6" cy="509.3" r="1.8"/><circle cx="342.9" cy="521.2" r="1.8"/><circle cx="344.6" cy="527.0" r="1.8"/><circle cx="341.6" cy="534.2" r="1.8"/><circle cx="333.4" cy="537.1" r="1.8"/><circle cx="318.8" cy="519.9" r="1.8"/><circle cx="326.4" cy="503.6" r="1.8"/><circle cx="325.9" cy="503.4" r="1.8"/><circle cx="329.7" cy="489.3" r="1.8"/><circle cx="320.7" cy="501.1" r="1.8"/><circle cx="318.8" cy="505.4" r="1.8"/><circle cx="311.7" cy="516.3" r="1.8"/><circle cx="311.9" cy="516.8" r="1.8"/><circle cx="308.3" cy="492.6" r="1.8"/><circle cx="302.8" cy="501.5" r="1.8"/><circle cx="202.3" cy="580.3" r="1.8"/><circle cx="220.1" cy="591.0" r="1.8"/><circle cx="221.7" cy="611.7" r="1.8"/><circle cx="221.9" cy="615.9" r="1.8"/><circle cx="204.6" cy="641.0" r="1.8"/><circle cx="178.1" cy="652.8" r="1.8"/><circle cx="180.2" cy="657.8" r="1.8"/><circle cx="175.3" cy="653.4" r="1.8"/><circle cx="172.7" cy="644.9" r="1.8"/><circle cx="176.2" cy="642.4" r="1.8"/><circle cx="170.2" cy="629.6" r="1.8"/><circle cx="171.7" cy="621.0" r="1.8"/><circle cx="174.6" cy="586.5" r="1.8"/><circle cx="181.0" cy="561.3" r="1.8"/><circle cx="218.4" cy="560.0" r="1.8"/><circle cx="233.1" cy="558.2" r="1.8"/><circle cx="231.9" cy="574.2" r="1.8"/><circle cx="212.0" cy="569.4" r="1.8"/><circle cx="245.6" cy="558.8" r="1.8"/><circle cx="244.1" cy="561.6" r="1.8"/><circle cx="269.2" cy="562.5" r="1.8"/><circle cx="267.4" cy="562.1" r="1.8"/><circle cx="271.8" cy="578.6" r="1.8"/><circle cx="276.9" cy="583.7" r="1.8"/><circle cx="280.2" cy="600.2" r="1.8"/><circle cx="281.6" cy="607.4" r="1.8"/><circle cx="272.6" cy="625.8" r="1.8"/><circle cx="268.3" cy="629.8" r="1.8"/><circle cx="258.5" cy="617.8" r="1.8"/><circle cx="258.8" cy="610.6" r="1.8"/><circle cx="236.4" cy="593.9" r="1.8"/><circle cx="235.9" cy="588.3" r="1.8"/><circle cx="244.6" cy="573.7" r="1.8"/><circle cx="240.8" cy="573.3" r="1.8"/><circle cx="234.0" cy="561.8" r="1.8"/><circle cx="268.8" cy="661.0" r="1.8"/><circle cx="267.7" cy="666.1" r="1.8"/><circle cx="292.1" cy="655.2" r="1.8"/><circle cx="304.6" cy="651.6" r="1.8"/><circle cx="298.1" cy="661.8" r="1.8"/><circle cx="291.8" cy="676.0" r="1.8"/><circle cx="308.5" cy="607.4" r="1.8"/><circle cx="309.3" cy="628.9" r="1.8"/><circle cx="310.7" cy="615.4" r="1.8"/><circle cx="306.4" cy="646.6" r="1.8"/><circle cx="301.1" cy="629.5" r="1.8"/><circle cx="304.1" cy="624.9" r="1.8"/><circle cx="302.1" cy="613.7" r="1.8"/><circle cx="301.1" cy="585.6" r="1.8"/></g>
<line x1="88.5" y1="718.2" x2="439.7" y2="718.2" stroke="#000" stroke-width="2.20" />
<line x1="120.0" y1="718.2" x2="120.0" y2="726.0" stroke="#000" stroke-width="2.00" />
<text x="120.0" y="753.0" font-size="23.00" text-anchor="middle" stroke="#000" stroke-width="0.4">−10</text>
<line x1="182.1" y1="718.2" x2="182.1" y2="726.0" stroke="#000" stroke-width="2.00" />
<text x="182.1" y="753.0" font-size="23.00" text-anchor="middle" stroke="#000" stroke-width="0.4">−5</text>
<line x1="244.2" y1="718.2" x2="244.2" y2="726.0" stroke="#000" stroke-width="2.00" />
<text x="244.2" y="753.0" font-size="23.00" text-anchor="middle" stroke="#000" stroke-width="0.4">0</text>
<line x1="306.3" y1="718.2" x2="306.3" y2="726.0" stroke="#000" stroke-width="2.00" />
<text x="306.3" y="753.0" font-size="23.00" text-anchor="middle" stroke="#000" stroke-width="0.4">5</text>
<line x1="368.4" y1="718.2" x2="368.4" y2="726.0" stroke="#000" stroke-width="2.00" />
<text x="368.4" y="753.0" font-size="23.00" text-anchor="middle" stroke="#000" stroke-width="0.4">10</text>
<line x1="430.5" y1="718.2" x2="430.5" y2="726.0" stroke="#000" stroke-width="2.00" />
<text x="430.5" y="753.0" font-size="23.00" text-anchor="middle" stroke="#000" stroke-width="0.4">15</text>
<g fill="#c1c1c1" stroke="#c1c1c1" stroke-width="2" stroke-linejoin="round"><path d="M574.5,161.1 C576.9,160.2 580.0,163.1 582.9,165.6 C585.8,168.1 589.1,172.6 592.1,176.1 C595.1,179.6 598.4,183.0 601.2,186.5 C604.0,190.0 606.2,194.5 609.0,196.9 C611.8,199.3 614.9,199.5 618.1,200.8 C621.4,202.1 625.5,202.5 628.5,204.7 C631.6,206.9 634.0,210.8 636.4,213.8 C638.8,216.9 641.3,219.5 642.9,223.0 C644.5,226.5 645.9,231.2 646.1,234.7 C646.3,238.2 645.2,241.0 644.2,243.8 C643.2,246.6 641.4,248.8 640.3,251.6 C639.2,254.4 638.5,257.4 637.7,260.7 C636.9,264.0 635.9,267.7 635.7,271.2 C635.5,274.7 635.4,278.4 636.4,281.6 C637.4,284.9 639.6,288.8 641.6,290.7 C643.6,292.6 646.2,291.8 648.1,293.3 C650.0,294.8 652.4,297.0 653.3,299.8 C654.2,302.6 653.9,306.6 653.3,310.3 C652.6,314.0 650.7,318.8 649.4,322.0 C648.1,325.2 646.8,327.0 645.5,329.8 C644.2,332.6 642.7,335.2 641.6,338.9 C640.5,342.6 639.2,348.7 639.0,352.0 C638.8,355.3 642.9,359.2 640.3,358.5 C637.7,357.8 627.4,350.2 623.3,348.0 C619.2,345.8 618.8,346.7 615.5,345.4 C612.3,344.1 606.8,340.2 603.8,340.2 C600.8,340.2 599.7,343.2 597.3,345.4 C594.9,347.6 592.0,352.6 589.4,353.3 C586.8,354.0 584.6,350.6 581.6,349.3 C578.6,348.0 574.7,346.3 571.2,345.4 C567.7,344.5 564.7,345.6 560.8,344.1 C556.9,342.6 551.3,337.4 547.8,336.3 C544.3,335.2 541.9,336.5 539.9,337.6 C537.9,338.7 536.8,339.3 536.0,342.8 C535.3,346.3 536.0,353.7 535.4,358.5 C534.8,363.3 534.2,367.6 532.1,371.5 C530.0,375.4 526.0,380.4 523.0,381.9 C520.0,383.4 516.7,381.9 513.9,380.6 C511.1,379.3 508.5,376.1 506.1,374.1 C503.7,372.2 501.5,371.9 499.5,368.9 C497.5,365.9 495.2,360.9 494.3,355.9 C493.4,350.9 493.4,342.8 494.3,338.9 C495.2,335.0 497.1,334.1 499.5,332.4 C501.9,330.7 505.6,330.0 508.7,328.5 C511.7,327.0 514.8,325.7 517.8,323.3 C520.8,320.9 524.5,317.0 526.9,314.2 C529.3,311.4 530.4,308.4 532.1,306.4 C533.8,304.4 535.8,305.0 537.3,302.4 C538.8,299.8 541.2,295.2 541.2,290.7 C541.2,286.1 537.7,281.2 537.3,275.1 C536.9,269.0 538.2,260.7 538.6,254.2 C539.0,247.7 539.0,241.2 539.9,236.0 C540.8,230.8 542.3,227.1 543.8,223.0 C545.3,218.9 547.6,214.9 549.1,211.2 C550.6,207.5 551.5,204.1 553.0,200.8 C554.5,197.6 556.5,194.7 558.2,191.7 C559.9,188.7 561.7,186.1 563.4,182.6 C565.1,179.1 566.8,174.4 568.6,170.8 C570.5,167.2 572.1,162.0 574.5,161.1Z"/><path d="M558.2,346.7 C560.8,345.2 566.0,347.3 568.6,349.3 C571.2,351.3 573.4,354.8 573.8,358.5 C574.2,362.2 572.1,367.2 571.2,371.5 C570.3,375.8 570.3,381.0 568.6,384.5 C566.9,388.0 563.2,391.9 560.8,392.3 C558.4,392.7 555.8,390.6 554.3,387.1 C552.8,383.6 551.9,376.3 551.7,371.5 C551.5,366.7 551.9,362.6 553.0,358.5 C554.1,354.4 555.6,348.2 558.2,346.7Z"/><path d="M589.4,351.3 C591.6,347.9 594.2,349.0 597.3,351.3 C600.3,353.6 605.5,360.6 607.7,365.0 C609.9,369.4 610.7,372.6 610.3,378.0 C609.9,383.4 606.6,390.4 605.1,397.6 C603.6,404.8 606.2,417.1 601.0,421.0 C595.8,424.9 578.5,423.8 574.0,421.0 C569.5,418.2 573.0,410.2 573.8,404.1 C574.6,398.0 577.3,389.9 579.0,384.5 C580.7,379.1 582.5,377.0 584.2,371.5 C585.9,366.0 587.2,354.7 589.4,351.3Z"/><path d="M610.3,346.0 C612.5,343.3 618.9,347.0 623.3,348.6 C627.6,350.2 633.6,352.1 636.4,355.9 C639.2,359.7 640.7,365.6 640.3,371.5 C639.8,377.4 635.9,384.5 633.7,391.0 C631.5,397.5 628.8,405.6 627.2,410.6 C625.6,415.6 627.3,419.3 624.3,421.0 C621.3,422.7 611.1,424.9 609.0,421.0 C606.9,417.1 610.5,404.8 611.6,397.6 C612.7,390.4 615.7,383.4 615.5,378.0 C615.3,372.6 611.2,370.3 610.3,365.0 C609.4,359.7 608.1,348.7 610.3,346.0Z"/><path d="M660.2,135.1 C663.7,134.7 669.7,134.6 673.0,136.3 C676.3,138.1 678.3,141.9 680.0,145.6 C681.8,149.3 682.8,153.4 683.5,158.4 C684.2,163.4 684.5,170.2 684.1,175.8 C683.7,181.4 682.3,186.7 681.2,192.1 C680.1,197.5 678.9,203.4 677.7,208.4 C676.5,213.4 675.7,217.7 674.2,222.3 C672.6,227.0 670.1,232.0 668.4,236.3 C666.6,240.6 665.1,243.1 663.7,247.9 C662.3,252.7 661.0,259.5 660.2,265.3 C659.4,271.1 659.9,278.9 659.1,282.8 C658.3,286.7 657.6,288.2 655.6,288.6 C653.6,289.0 649.7,285.3 647.4,285.1 C645.1,284.9 642.0,289.7 641.6,287.4 C641.2,285.1 643.4,276.8 645.1,271.2 C646.9,265.6 650.7,259.5 652.1,253.7 C653.5,247.9 653.1,241.5 653.3,236.3 C653.5,231.1 654.7,226.6 653.3,222.3 C651.9,218.0 647.2,215.1 645.1,210.7 C643.0,206.2 642.1,201.0 640.5,195.6 C639.0,190.2 635.8,183.9 635.8,178.1 C635.8,172.3 638.6,165.9 640.5,160.7 C642.4,155.5 645.5,150.4 647.4,146.7 C649.3,143.0 650.0,140.5 652.1,138.6 C654.2,136.7 656.7,135.5 660.2,135.1Z"/><path d="M623.5,174.7 C624.9,172.8 630.0,169.4 631.6,170.2 C633.2,171.0 633.8,176.5 633.2,179.3 C632.5,182.2 629.4,186.9 627.7,187.3 C626.0,187.7 623.9,183.7 623.2,181.6 C622.5,179.5 622.1,176.6 623.5,174.7Z"/><path d="M680.0,218.8 C682.3,217.2 686.9,217.4 689.3,218.8 C691.7,220.2 693.2,223.1 694.5,227.0 C695.8,230.9 696.8,237.7 696.9,242.1 C697.0,246.5 696.0,250.2 695.1,253.7 C694.2,257.2 693.0,260.1 691.6,263.0 C690.2,265.9 688.9,269.8 687.0,271.2 C685.1,272.6 682.1,272.2 680.0,271.2 C677.9,270.2 676.1,267.2 674.2,265.3 C672.3,263.4 669.8,262.4 668.4,259.5 C667.0,256.6 665.6,251.8 666.0,247.9 C666.4,244.0 669.1,239.6 670.7,236.3 C672.2,233.0 673.7,231.0 675.3,228.1 C676.8,225.2 677.7,220.4 680.0,218.8Z"/><path d="M669.0,316.5 C670.3,314.8 673.8,314.6 675.0,315.5 C676.3,316.4 676.8,319.1 676.5,322.0 C676.2,324.9 674.4,330.8 673.0,333.0 C671.6,335.2 669.0,336.2 668.0,335.0 C667.0,333.8 667.0,329.1 667.2,326.0 C667.4,322.9 667.7,318.2 669.0,316.5Z"/><path d="M721.7,345.7 C724.5,342.3 731.2,338.7 737.7,336.6 C744.2,334.5 753.3,333.2 760.5,333.2 C767.7,333.2 774.6,333.8 781.0,336.6 C787.5,339.5 794.3,345.4 799.2,350.3 C804.1,355.2 808.0,361.0 810.6,366.3 C813.2,371.6 814.6,376.9 814.7,382.2 C814.8,387.5 812.9,393.6 811.1,398.2 C809.3,402.8 806.5,406.6 803.8,409.6 C801.1,412.6 798.5,415.6 794.7,416.4 C790.9,417.1 785.6,416.0 781.0,414.1 C776.4,412.2 771.9,408.0 767.3,405.0 C762.7,402.0 758.2,398.5 753.6,395.9 C749.0,393.2 743.7,391.8 739.9,389.1 C736.1,386.4 733.4,383.3 730.8,379.9 C728.1,376.5 725.7,372.3 724.0,368.5 C722.3,364.7 721.0,360.9 720.6,357.1 C720.2,353.3 718.8,349.1 721.7,345.7Z"/></g>
<g fill="#c1c1c1" stroke="#c1c1c1" stroke-width="2" stroke-linejoin="round" opacity="1.00"><path d="M573.5,400.0 C577.7,397.7 596.7,397.0 600.8,400.0 C605.0,403.0 600.8,414.4 598.6,418.2 C596.3,422.0 591.0,423.6 587.2,422.8 C583.4,422.0 578.0,417.5 575.8,413.7 C573.5,409.9 569.3,402.3 573.5,400.0Z"/><path d="M605.4,400.0 C608.6,397.7 622.1,393.2 625.9,400.0 C629.8,406.8 629.7,433.7 628.7,441.0 C627.6,448.3 622.3,446.1 619.5,443.8 C616.8,441.5 614.4,432.4 612.2,427.4 C610.1,422.3 607.7,418.2 606.5,413.7 C605.4,409.1 602.2,402.3 605.4,400.0Z"/><path d="M550.7,418.2 C552.1,416.3 557.2,414.7 559.8,415.5 C562.4,416.3 563.5,420.1 566.2,422.8 C568.8,425.5 573.1,429.1 575.8,431.9 C578.4,434.8 581.8,438.1 582.2,439.9 C582.5,441.7 580.6,444.0 578.0,442.9 C575.5,441.7 569.9,434.8 566.6,433.1 C563.4,431.3 561.2,433.3 558.7,432.4 C556.1,431.4 552.5,429.7 551.1,427.4 C549.8,425.0 549.2,420.2 550.7,418.2Z"/><path d="M581.5,438.8 C584.1,435.7 594.2,433.8 598.6,431.9 C602.9,430.0 605.1,425.8 607.7,427.4 C610.3,428.9 613.6,436.1 614.1,441.0 C614.5,446.0 613.0,452.7 610.4,457.0 C607.8,461.3 602.4,465.7 598.6,466.6 C594.7,467.4 589.8,464.8 587.2,462.0 C584.5,459.3 583.6,454.0 582.6,450.2 C581.7,446.3 578.8,441.8 581.5,438.8Z"/><path d="M555.2,454.7 C557.3,452.6 562.5,451.3 566.6,451.3 C570.8,451.3 577.2,451.9 580.3,454.7 C583.4,457.6 584.9,462.3 585.3,468.4 C585.8,474.5 584.7,484.4 583.1,491.2 C581.5,498.0 578.1,503.7 575.8,509.4 C573.4,515.1 570.4,520.1 568.9,525.4 C567.4,530.7 568.9,537.1 566.6,541.4 C564.4,545.6 559.8,549.5 555.2,550.9 C550.7,552.4 543.8,551.7 539.3,549.8 C534.7,547.9 530.5,544.0 527.9,539.5 C525.2,535.1 523.1,528.1 523.3,523.1 C523.5,518.1 527.1,514.0 529.0,509.4 C530.9,504.9 531.9,499.9 534.7,495.8 C537.6,491.6 543.1,487.8 546.1,484.4 C549.2,480.9 551.6,478.7 553.0,475.2 C554.3,471.8 553.7,467.3 554.1,463.8 C554.5,460.4 553.2,456.8 555.2,454.7Z"/><path d="M598.6,475.2 C601.6,472.6 608.4,467.6 612.2,468.4 C616.0,469.2 619.0,474.9 621.4,479.8 C623.7,484.7 625.5,491.6 626.4,498.0 C627.2,504.5 628.0,513.9 626.4,518.6 C624.8,523.2 620.7,524.3 616.8,525.9 C612.9,527.5 608.1,528.5 603.1,528.1 C598.2,527.8 590.4,526.7 587.2,523.6 C583.9,520.5 583.4,514.1 583.7,509.4 C584.1,504.8 587.7,499.9 589.4,495.8 C591.2,491.6 592.5,487.8 594.0,484.4 C595.5,480.9 595.5,477.9 598.6,475.2Z"/><path d="M651.0,425.1 C653.5,421.9 662.2,419.0 664.7,421.7 C667.2,424.3 664.3,435.7 665.8,441.0 C667.4,446.4 673.2,450.2 673.8,453.6 C674.4,457.0 671.2,459.5 669.3,461.6 C667.4,463.7 663.9,463.8 662.4,466.1 C660.9,468.4 661.7,474.1 660.1,475.2 C658.6,476.4 654.8,476.0 653.3,473.0 C651.8,469.9 651.6,462.3 651.0,457.0 C650.4,451.7 649.9,446.4 649.9,441.0 C649.9,435.7 648.5,428.3 651.0,425.1Z"/><path d="M653.3,488.9 C656.3,487.0 663.6,482.1 667.0,484.4 C670.4,486.6 672.2,496.5 673.8,502.6 C675.4,508.7 676.9,515.5 676.5,520.8 C676.2,526.2 674.3,531.1 672.0,535.0 C669.6,538.9 665.5,542.2 662.4,544.1 C659.3,546.0 656.3,547.1 653.3,546.4 C650.3,545.6 646.5,543.4 644.2,539.5 C641.9,535.7 639.6,528.5 639.6,523.1 C639.6,517.7 642.6,511.7 644.2,507.2 C645.7,502.6 647.2,498.8 648.7,495.8 C650.3,492.7 650.3,490.8 653.3,488.9Z"/><path d="M739.9,453.6 C741.9,452.4 743.4,456.1 742.7,459.3 C742.0,462.5 737.4,467.6 735.8,473.0 C734.3,478.3 734.3,485.1 733.6,491.2 C732.8,497.3 731.7,501.8 731.3,509.4 C730.9,517.0 732.9,531.8 731.3,536.8 C729.7,541.8 724.4,541.1 721.7,539.5 C719.0,538.0 717.1,531.2 714.9,527.7 C712.6,524.2 710.3,521.5 708.0,518.6 C705.7,515.6 704.2,510.6 701.2,509.9 C698.1,509.2 692.2,515.7 689.8,514.5 C687.3,513.2 685.2,505.7 686.4,502.6 C687.5,499.5 693.4,498.4 696.6,495.8 C699.8,493.1 701.6,490.1 705.7,486.6 C709.9,483.2 717.5,478.7 721.7,475.2 C725.9,471.8 727.8,469.7 730.8,466.1 C733.9,462.5 738.0,454.7 739.9,453.6Z"/><path d="M578.0,559.6 C581.8,557.3 585.6,560.4 589.4,564.2 C593.2,568.0 597.0,577.1 600.8,582.4 C604.6,587.7 609.5,593.1 612.2,596.1 C615.0,599.1 617.2,597.2 617.3,600.7 C617.3,604.1 614.3,612.1 612.7,616.6 C611.1,621.2 610.0,625.4 607.7,628.0 C605.3,630.7 600.8,628.8 598.6,632.6 C596.3,636.4 595.9,645.0 594.0,650.8 C592.1,656.6 589.4,664.5 587.2,667.2 C584.9,670.0 583.0,670.0 580.3,667.2 C577.7,664.5 573.9,657.4 571.2,650.8 C568.5,644.3 565.9,635.6 564.4,628.0 C562.8,620.4 561.7,613.6 562.1,605.2 C562.5,596.9 564.0,585.5 566.6,577.9 C569.3,570.3 574.2,561.9 578.0,559.6Z"/><path d="M628.2,559.6 C630.1,556.2 635.4,558.1 639.6,557.3 C643.8,556.6 649.5,553.9 653.3,555.0 C657.1,556.2 660.1,559.6 662.4,564.2 C664.8,568.7 666.2,576.3 667.4,582.4 C668.6,588.5 669.3,595.0 669.7,600.7 C670.1,606.4 670.9,612.4 669.7,616.6 C668.5,620.9 665.1,624.8 662.4,626.2 C659.7,627.6 655.6,627.8 653.3,625.0 C651.0,622.3 651.0,613.8 648.7,609.8 C646.5,605.7 641.9,604.1 639.6,600.7 C637.3,597.2 636.9,593.1 635.0,589.3 C633.1,585.5 629.3,582.8 628.2,577.9 C627.1,572.9 626.3,563.0 628.2,559.6Z"/><path d="M671.5,532.2 C674.2,529.8 681.8,530.3 685.2,531.1 C688.6,531.9 690.5,532.1 692.1,536.8 C693.6,541.6 694.0,551.2 694.8,559.6 C695.6,568.0 695.9,579.4 697.1,587.0 C698.2,594.6 700.7,598.4 701.6,605.2 C702.6,612.1 703.1,621.2 702.8,628.0 C702.4,634.9 701.1,640.6 699.3,646.3 C697.6,652.0 694.9,658.5 692.5,662.2 C690.2,665.9 687.2,667.9 685.2,668.4 C683.2,668.8 680.2,667.9 680.7,665.0 C681.1,662.0 685.7,657.0 687.9,650.8 C690.2,644.7 693.3,635.6 694.3,628.0 C695.4,620.4 695.0,612.1 694.3,605.2 C693.6,598.4 691.4,592.2 690.2,587.0 C689.1,581.7 689.5,576.7 687.5,573.7 C685.5,570.8 681.2,571.5 678.4,569.2 C675.5,566.8 671.9,563.5 670.4,559.6 C668.9,555.7 669.1,550.5 669.3,545.9 C669.4,541.4 668.9,534.7 671.5,532.2Z"/><path d="M655.6,669.1 C658.2,667.0 665.1,666.0 669.3,665.6 C673.4,665.3 677.9,665.4 680.7,666.8 C683.4,668.1 686.4,670.6 685.7,673.6 C685.0,676.7 679.7,682.1 676.5,685.0 C673.4,687.9 670.1,690.7 667.0,691.2 C663.9,691.6 660.1,689.9 657.9,687.8 C655.6,685.6 653.7,681.3 653.3,678.2 C652.9,675.1 652.9,671.1 655.6,669.1Z"/></g>
<g fill="#c1c1c1"><circle cx="598.7" cy="555.4" r="1.9"/><circle cx="605.2" cy="539.7" r="1.9"/><circle cx="587.5" cy="549.4" r="1.9"/><circle cx="577.8" cy="539.1" r="1.9"/><circle cx="609.3" cy="562.4" r="1.9"/><circle cx="629.3" cy="532.8" r="1.9"/><circle cx="614.8" cy="558.1" r="1.9"/><circle cx="583.3" cy="556.2" r="1.9"/><circle cx="586.3" cy="552.6" r="1.9"/><circle cx="636.1" cy="556.5" r="1.9"/><circle cx="627.0" cy="533.1" r="1.9"/><circle cx="576.2" cy="526.2" r="1.9"/><circle cx="577.2" cy="539.4" r="1.9"/><circle cx="622.9" cy="544.7" r="1.9"/><circle cx="610.6" cy="531.5" r="1.9"/><circle cx="581.2" cy="545.2" r="1.9"/><circle cx="597.3" cy="529.6" r="1.9"/><circle cx="612.5" cy="528.7" r="1.9"/><circle cx="591.7" cy="554.9" r="1.9"/><circle cx="636.2" cy="547.1" r="1.9"/><circle cx="612.2" cy="544.0" r="1.9"/><circle cx="599.0" cy="556.6" r="1.9"/><circle cx="593.4" cy="526.0" r="1.9"/><circle cx="595.9" cy="533.2" r="1.9"/><circle cx="582.5" cy="524.4" r="1.9"/><circle cx="619.2" cy="529.7" r="1.9"/><circle cx="630.7" cy="548.5" r="1.9"/><circle cx="629.1" cy="549.4" r="1.9"/><circle cx="628.9" cy="543.9" r="1.9"/><circle cx="633.8" cy="542.1" r="1.9"/><circle cx="624.4" cy="536.8" r="1.9"/><circle cx="594.7" cy="547.9" r="1.9"/><circle cx="604.3" cy="534.8" r="1.9"/><circle cx="625.6" cy="536.7" r="1.9"/><circle cx="636.1" cy="542.3" r="1.9"/><circle cx="607.9" cy="536.5" r="1.9"/><circle cx="613.2" cy="541.8" r="1.9"/><circle cx="573.7" cy="529.3" r="1.9"/><circle cx="591.4" cy="546.8" r="1.9"/><circle cx="602.7" cy="537.7" r="1.9"/><circle cx="594.8" cy="554.8" r="1.9"/><circle cx="595.8" cy="527.2" r="1.9"/><circle cx="585.3" cy="554.9" r="1.9"/><circle cx="593.0" cy="534.0" r="1.9"/><circle cx="588.4" cy="529.4" r="1.9"/><circle cx="589.7" cy="558.2" r="1.9"/><circle cx="604.2" cy="540.6" r="1.9"/><circle cx="606.7" cy="559.2" r="1.9"/><circle cx="582.5" cy="540.6" r="1.9"/><circle cx="584.2" cy="550.8" r="1.9"/><circle cx="586.8" cy="558.6" r="1.9"/><circle cx="634.5" cy="548.8" r="1.9"/><circle cx="617.5" cy="543.4" r="1.9"/><circle cx="578.9" cy="540.9" r="1.9"/><circle cx="625.5" cy="532.6" r="1.9"/><circle cx="593.7" cy="544.9" r="1.9"/><circle cx="616.3" cy="557.0" r="1.9"/><circle cx="627.0" cy="557.1" r="1.9"/><circle cx="609.4" cy="545.7" r="1.9"/><circle cx="583.2" cy="538.1" r="1.9"/><circle cx="583.0" cy="528.2" r="1.9"/><circle cx="613.8" cy="557.1" r="1.9"/><circle cx="596.2" cy="553.1" r="1.9"/><circle cx="632.0" cy="554.5" r="1.9"/><circle cx="630.9" cy="548.6" r="1.9"/><circle cx="590.4" cy="525.9" r="1.9"/><circle cx="608.1" cy="549.3" r="1.9"/><circle cx="605.6" cy="560.6" r="1.9"/><circle cx="585.2" cy="535.9" r="1.9"/><circle cx="575.5" cy="524.2" r="1.9"/><circle cx="627.4" cy="555.2" r="1.9"/><circle cx="622.2" cy="537.1" r="1.9"/><circle cx="582.9" cy="553.2" r="1.9"/><circle cx="592.0" cy="524.4" r="1.9"/><circle cx="616.4" cy="548.1" r="1.9"/><circle cx="597.4" cy="547.3" r="1.9"/><circle cx="605.9" cy="528.2" r="1.9"/><circle cx="587.5" cy="528.9" r="1.9"/><circle cx="592.2" cy="541.6" r="1.9"/><circle cx="591.3" cy="551.7" r="1.9"/><circle cx="601.6" cy="547.4" r="1.9"/><circle cx="581.7" cy="545.8" r="1.9"/><circle cx="591.9" cy="548.4" r="1.9"/><circle cx="633.0" cy="550.0" r="1.9"/><circle cx="589.8" cy="545.6" r="1.9"/><circle cx="614.4" cy="560.1" r="1.9"/><circle cx="586.3" cy="558.7" r="1.9"/><circle cx="632.1" cy="540.2" r="1.9"/><circle cx="626.1" cy="556.5" r="1.9"/><circle cx="615.8" cy="550.9" r="1.9"/><circle cx="580.2" cy="521.2" r="1.9"/><circle cx="632.5" cy="548.0" r="1.9"/><circle cx="613.5" cy="550.2" r="1.9"/><circle cx="584.4" cy="554.5" r="1.9"/><circle cx="634.6" cy="559.6" r="1.9"/><circle cx="596.5" cy="526.7" r="1.9"/><circle cx="599.6" cy="546.9" r="1.9"/><circle cx="636.4" cy="543.9" r="1.9"/><circle cx="615.3" cy="559.2" r="1.9"/><circle cx="606.1" cy="558.8" r="1.9"/><circle cx="628.5" cy="540.6" r="1.9"/><circle cx="589.5" cy="559.2" r="1.9"/><circle cx="601.1" cy="559.1" r="1.9"/><circle cx="607.6" cy="546.8" r="1.9"/><circle cx="596.0" cy="532.3" r="1.9"/><circle cx="600.4" cy="537.5" r="1.9"/><circle cx="614.1" cy="539.9" r="1.9"/><circle cx="623.3" cy="534.3" r="1.9"/><circle cx="594.3" cy="542.7" r="1.9"/><circle cx="609.0" cy="553.8" r="1.9"/><circle cx="614.9" cy="549.7" r="1.9"/><circle cx="599.2" cy="539.4" r="1.9"/><circle cx="600.7" cy="558.7" r="1.9"/><circle cx="606.1" cy="561.0" r="1.9"/><circle cx="589.3" cy="542.5" r="1.9"/><circle cx="607.9" cy="552.3" r="1.9"/><circle cx="624.5" cy="547.1" r="1.9"/><circle cx="608.7" cy="539.8" r="1.9"/><circle cx="587.7" cy="530.6" r="1.9"/><circle cx="627.1" cy="537.5" r="1.9"/><circle cx="585.0" cy="534.6" r="1.9"/><circle cx="621.2" cy="562.4" r="1.9"/><circle cx="624.2" cy="539.5" r="1.9"/><circle cx="616.5" cy="540.5" r="1.9"/><circle cx="587.8" cy="539.6" r="1.9"/><circle cx="586.1" cy="552.0" r="1.9"/><circle cx="582.1" cy="525.8" r="1.9"/><circle cx="580.9" cy="522.2" r="1.9"/><circle cx="615.2" cy="542.1" r="1.9"/><circle cx="613.2" cy="528.8" r="1.9"/><circle cx="615.6" cy="543.0" r="1.9"/><circle cx="628.4" cy="555.4" r="1.9"/><circle cx="605.0" cy="548.1" r="1.9"/><circle cx="622.3" cy="537.2" r="1.9"/><circle cx="624.6" cy="559.0" r="1.9"/><circle cx="578.1" cy="548.1" r="1.9"/><circle cx="598.2" cy="556.8" r="1.9"/><circle cx="622.8" cy="543.1" r="1.9"/><circle cx="615.2" cy="563.5" r="1.9"/><circle cx="613.7" cy="538.2" r="1.9"/><circle cx="612.6" cy="561.9" r="1.9"/></g>
<g fill="#c1c1c1"><circle cx="593.7" cy="173.1" r="1.8"/><circle cx="584.7" cy="167.3" r="1.8"/><circle cx="592.9" cy="178.1" r="1.8"/><circle cx="607.1" cy="193.7" r="1.8"/><circle cx="610.9" cy="192.5" r="1.8"/><circle cx="621.2" cy="202.2" r="1.8"/><circle cx="633.4" cy="208.0" r="1.8"/><circle cx="639.9" cy="219.7" r="1.8"/><circle cx="639.5" cy="212.6" r="1.8"/><circle cx="640.7" cy="260.2" r="1.8"/><circle cx="640.0" cy="260.4" r="1.8"/><circle cx="640.3" cy="276.7" r="1.8"/><circle cx="639.2" cy="270.7" r="1.8"/><circle cx="642.1" cy="289.7" r="1.8"/><circle cx="638.0" cy="280.4" r="1.8"/><circle cx="646.8" cy="289.2" r="1.8"/><circle cx="650.4" cy="295.1" r="1.8"/><circle cx="656.0" cy="300.7" r="1.8"/><circle cx="642.3" cy="342.6" r="1.8"/><circle cx="638.3" cy="349.3" r="1.8"/><circle cx="639.1" cy="352.7" r="1.8"/><circle cx="632.8" cy="355.9" r="1.8"/><circle cx="618.4" cy="348.9" r="1.8"/><circle cx="606.4" cy="345.8" r="1.8"/><circle cx="604.1" cy="339.0" r="1.8"/><circle cx="591.3" cy="348.2" r="1.8"/><circle cx="566.6" cy="347.4" r="1.8"/><circle cx="564.4" cy="349.0" r="1.8"/><circle cx="552.8" cy="341.3" r="1.8"/><circle cx="551.6" cy="336.6" r="1.8"/><circle cx="558.1" cy="341.4" r="1.8"/><circle cx="546.0" cy="334.3" r="1.8"/><circle cx="533.7" cy="343.2" r="1.8"/><circle cx="536.7" cy="369.3" r="1.8"/><circle cx="512.9" cy="377.5" r="1.8"/><circle cx="500.0" cy="367.8" r="1.8"/><circle cx="490.3" cy="352.7" r="1.8"/><circle cx="489.9" cy="339.1" r="1.8"/><circle cx="495.3" cy="337.9" r="1.8"/><circle cx="499.1" cy="333.4" r="1.8"/><circle cx="524.9" cy="316.5" r="1.8"/><circle cx="532.6" cy="300.7" r="1.8"/><circle cx="534.0" cy="289.8" r="1.8"/><circle cx="539.4" cy="279.1" r="1.8"/><circle cx="539.2" cy="275.5" r="1.8"/><circle cx="535.3" cy="253.9" r="1.8"/><circle cx="536.4" cy="235.6" r="1.8"/><circle cx="535.7" cy="240.5" r="1.8"/><circle cx="539.8" cy="238.4" r="1.8"/><circle cx="541.6" cy="226.0" r="1.8"/><circle cx="544.6" cy="224.6" r="1.8"/><circle cx="542.3" cy="221.2" r="1.8"/><circle cx="551.7" cy="196.9" r="1.8"/><circle cx="567.2" cy="346.7" r="1.8"/><circle cx="577.7" cy="366.5" r="1.8"/><circle cx="572.9" cy="373.3" r="1.8"/><circle cx="570.4" cy="378.5" r="1.8"/><circle cx="562.0" cy="389.7" r="1.8"/><circle cx="561.8" cy="388.9" r="1.8"/><circle cx="555.2" cy="384.8" r="1.8"/><circle cx="552.0" cy="372.4" r="1.8"/><circle cx="548.6" cy="374.9" r="1.8"/><circle cx="549.6" cy="383.3" r="1.8"/><circle cx="554.1" cy="355.5" r="1.8"/><circle cx="551.3" cy="351.9" r="1.8"/><circle cx="594.9" cy="347.1" r="1.8"/><circle cx="598.5" cy="353.0" r="1.8"/><circle cx="614.7" cy="374.3" r="1.8"/><circle cx="610.4" cy="378.5" r="1.8"/><circle cx="599.3" cy="416.4" r="1.8"/><circle cx="600.8" cy="418.7" r="1.8"/><circle cx="584.1" cy="421.5" r="1.8"/><circle cx="579.4" cy="423.0" r="1.8"/><circle cx="575.6" cy="406.5" r="1.8"/><circle cx="572.2" cy="407.4" r="1.8"/><circle cx="573.6" cy="401.0" r="1.8"/><circle cx="573.6" cy="396.7" r="1.8"/><circle cx="577.5" cy="379.2" r="1.8"/><circle cx="581.3" cy="370.9" r="1.8"/><circle cx="584.4" cy="370.1" r="1.8"/><circle cx="588.3" cy="360.5" r="1.8"/><circle cx="586.5" cy="357.6" r="1.8"/><circle cx="618.7" cy="344.4" r="1.8"/><circle cx="615.8" cy="348.4" r="1.8"/><circle cx="636.0" cy="350.5" r="1.8"/><circle cx="645.7" cy="371.4" r="1.8"/><circle cx="638.7" cy="391.1" r="1.8"/><circle cx="631.9" cy="390.0" r="1.8"/><circle cx="624.5" cy="412.9" r="1.8"/><circle cx="627.7" cy="417.9" r="1.8"/><circle cx="615.1" cy="420.5" r="1.8"/><circle cx="609.6" cy="408.0" r="1.8"/><circle cx="612.1" cy="379.0" r="1.8"/><circle cx="612.6" cy="391.8" r="1.8"/><circle cx="607.2" cy="347.9" r="1.8"/><circle cx="664.2" cy="135.2" r="1.8"/><circle cx="685.8" cy="145.1" r="1.8"/><circle cx="685.7" cy="173.9" r="1.8"/><circle cx="687.3" cy="171.5" r="1.8"/><circle cx="684.9" cy="190.1" r="1.8"/><circle cx="685.9" cy="183.1" r="1.8"/><circle cx="683.2" cy="184.7" r="1.8"/><circle cx="676.5" cy="204.9" r="1.8"/><circle cx="675.9" cy="215.8" r="1.8"/><circle cx="677.8" cy="225.2" r="1.8"/><circle cx="672.4" cy="225.0" r="1.8"/><circle cx="660.8" cy="260.4" r="1.8"/><circle cx="659.7" cy="277.4" r="1.8"/><circle cx="660.8" cy="269.9" r="1.8"/><circle cx="642.8" cy="286.6" r="1.8"/><circle cx="644.4" cy="279.5" r="1.8"/><circle cx="646.5" cy="257.9" r="1.8"/><circle cx="652.4" cy="236.6" r="1.8"/><circle cx="655.5" cy="222.6" r="1.8"/><circle cx="640.1" cy="213.1" r="1.8"/><circle cx="650.8" cy="219.6" r="1.8"/><circle cx="634.5" cy="180.5" r="1.8"/><circle cx="641.0" cy="149.0" r="1.8"/><circle cx="641.2" cy="161.8" r="1.8"/><circle cx="632.3" cy="178.8" r="1.8"/><circle cx="621.1" cy="178.5" r="1.8"/><circle cx="680.9" cy="217.8" r="1.8"/><circle cx="694.5" cy="252.9" r="1.8"/><circle cx="692.7" cy="254.5" r="1.8"/><circle cx="671.5" cy="271.5" r="1.8"/><circle cx="666.6" cy="264.5" r="1.8"/><circle cx="674.7" cy="225.5" r="1.8"/><circle cx="669.6" cy="333.9" r="1.8"/><circle cx="729.3" cy="340.5" r="1.8"/><circle cx="743.6" cy="335.6" r="1.8"/><circle cx="761.8" cy="331.0" r="1.8"/><circle cx="776.0" cy="335.7" r="1.8"/><circle cx="765.2" cy="332.3" r="1.8"/><circle cx="811.5" cy="400.2" r="1.8"/><circle cx="800.7" cy="408.0" r="1.8"/><circle cx="800.1" cy="415.4" r="1.8"/><circle cx="788.2" cy="414.4" r="1.8"/><circle cx="785.9" cy="419.2" r="1.8"/><circle cx="758.5" cy="398.5" r="1.8"/><circle cx="766.3" cy="407.1" r="1.8"/><circle cx="736.2" cy="380.9" r="1.8"/><circle cx="719.1" cy="357.1" r="1.8"/><circle cx="721.2" cy="348.1" r="1.8"/><circle cx="580.4" cy="394.9" r="1.8"/><circle cx="591.5" cy="394.6" r="1.8"/><circle cx="605.5" cy="405.9" r="1.8"/><circle cx="596.5" cy="424.3" r="1.8"/><circle cx="581.2" cy="420.1" r="1.8"/><circle cx="626.8" cy="428.7" r="1.8"/><circle cx="626.8" cy="431.3" r="1.8"/><circle cx="625.9" cy="412.4" r="1.8"/><circle cx="627.0" cy="431.7" r="1.8"/><circle cx="629.1" cy="431.6" r="1.8"/><circle cx="630.5" cy="411.9" r="1.8"/><circle cx="615.2" cy="437.4" r="1.8"/><circle cx="605.7" cy="412.7" r="1.8"/><circle cx="604.4" cy="402.8" r="1.8"/><circle cx="564.7" cy="412.3" r="1.8"/><circle cx="572.2" cy="420.4" r="1.8"/><circle cx="576.9" cy="425.7" r="1.8"/><circle cx="576.4" cy="431.5" r="1.8"/><circle cx="576.7" cy="437.0" r="1.8"/><circle cx="552.3" cy="421.0" r="1.8"/><circle cx="595.8" cy="430.3" r="1.8"/><circle cx="599.8" cy="425.8" r="1.8"/><circle cx="618.6" cy="442.0" r="1.8"/><circle cx="612.9" cy="462.1" r="1.8"/><circle cx="602.2" cy="466.2" r="1.8"/><circle cx="595.6" cy="464.3" r="1.8"/><circle cx="553.8" cy="453.3" r="1.8"/><circle cx="563.9" cy="450.0" r="1.8"/><circle cx="577.8" cy="455.9" r="1.8"/><circle cx="581.1" cy="480.6" r="1.8"/><circle cx="584.0" cy="469.6" r="1.8"/><circle cx="587.9" cy="481.4" r="1.8"/><circle cx="577.0" cy="500.9" r="1.8"/><circle cx="574.5" cy="517.3" r="1.8"/><circle cx="570.8" cy="539.3" r="1.8"/><circle cx="570.2" cy="537.7" r="1.8"/><circle cx="547.2" cy="552.0" r="1.8"/><circle cx="538.9" cy="554.5" r="1.8"/><circle cx="525.2" cy="543.3" r="1.8"/><circle cx="527.8" cy="536.8" r="1.8"/><circle cx="523.0" cy="540.9" r="1.8"/><circle cx="526.8" cy="511.4" r="1.8"/><circle cx="521.7" cy="520.2" r="1.8"/><circle cx="530.1" cy="501.0" r="1.8"/><circle cx="527.8" cy="502.5" r="1.8"/><circle cx="543.6" cy="483.8" r="1.8"/><circle cx="539.2" cy="491.1" r="1.8"/><circle cx="546.9" cy="474.8" r="1.8"/><circle cx="552.2" cy="454.8" r="1.8"/><circle cx="601.8" cy="474.4" r="1.8"/><circle cx="603.4" cy="473.1" r="1.8"/><circle cx="628.5" cy="491.5" r="1.8"/><circle cx="622.8" cy="483.4" r="1.8"/><circle cx="626.5" cy="508.2" r="1.8"/><circle cx="626.7" cy="502.8" r="1.8"/><circle cx="630.9" cy="513.1" r="1.8"/><circle cx="623.1" cy="524.7" r="1.8"/><circle cx="616.3" cy="528.4" r="1.8"/><circle cx="596.9" cy="526.4" r="1.8"/><circle cx="595.5" cy="528.4" r="1.8"/><circle cx="590.9" cy="527.0" r="1.8"/><circle cx="583.4" cy="509.1" r="1.8"/><circle cx="588.1" cy="490.5" r="1.8"/><circle cx="591.8" cy="489.9" r="1.8"/><circle cx="592.1" cy="483.5" r="1.8"/><circle cx="661.3" cy="424.5" r="1.8"/><circle cx="667.8" cy="428.0" r="1.8"/><circle cx="666.3" cy="427.8" r="1.8"/><circle cx="677.9" cy="459.2" r="1.8"/><circle cx="660.8" cy="470.4" r="1.8"/><circle cx="656.2" cy="471.8" r="1.8"/><circle cx="650.0" cy="465.1" r="1.8"/><circle cx="648.3" cy="448.5" r="1.8"/><circle cx="650.3" cy="451.9" r="1.8"/><circle cx="650.5" cy="453.2" r="1.8"/><circle cx="647.1" cy="435.3" r="1.8"/><circle cx="668.4" cy="488.6" r="1.8"/><circle cx="672.9" cy="501.0" r="1.8"/><circle cx="677.0" cy="517.8" r="1.8"/><circle cx="671.6" cy="533.0" r="1.8"/><circle cx="672.0" cy="530.7" r="1.8"/><circle cx="671.8" cy="532.9" r="1.8"/><circle cx="663.1" cy="543.0" r="1.8"/><circle cx="657.7" cy="545.0" r="1.8"/><circle cx="648.4" cy="545.3" r="1.8"/><circle cx="648.2" cy="541.5" r="1.8"/><circle cx="639.4" cy="539.0" r="1.8"/><circle cx="638.4" cy="507.1" r="1.8"/><circle cx="643.0" cy="513.8" r="1.8"/><circle cx="647.8" cy="491.6" r="1.8"/><circle cx="743.8" cy="457.5" r="1.8"/><circle cx="738.9" cy="457.8" r="1.8"/><circle cx="739.9" cy="474.2" r="1.8"/><circle cx="737.5" cy="491.8" r="1.8"/><circle cx="734.1" cy="514.6" r="1.8"/><circle cx="731.0" cy="517.8" r="1.8"/><circle cx="735.5" cy="530.5" r="1.8"/><circle cx="714.8" cy="536.0" r="1.8"/><circle cx="714.8" cy="525.7" r="1.8"/><circle cx="701.1" cy="511.0" r="1.8"/><circle cx="684.5" cy="510.3" r="1.8"/><circle cx="695.1" cy="498.4" r="1.8"/><circle cx="705.3" cy="486.6" r="1.8"/><circle cx="705.1" cy="483.3" r="1.8"/><circle cx="709.7" cy="479.7" r="1.8"/><circle cx="711.1" cy="484.1" r="1.8"/><circle cx="723.0" cy="468.5" r="1.8"/><circle cx="729.7" cy="467.1" r="1.8"/><circle cx="740.5" cy="457.7" r="1.8"/><circle cx="741.1" cy="455.4" r="1.8"/><circle cx="586.1" cy="562.0" r="1.8"/><circle cx="593.4" cy="570.1" r="1.8"/><circle cx="600.1" cy="577.5" r="1.8"/><circle cx="603.7" cy="588.4" r="1.8"/><circle cx="614.2" cy="605.9" r="1.8"/><circle cx="609.1" cy="620.3" r="1.8"/><circle cx="611.7" cy="617.8" r="1.8"/><circle cx="600.0" cy="647.7" r="1.8"/><circle cx="597.3" cy="647.5" r="1.8"/><circle cx="588.9" cy="666.2" r="1.8"/><circle cx="593.9" cy="661.8" r="1.8"/><circle cx="559.0" cy="609.8" r="1.8"/><circle cx="564.7" cy="612.3" r="1.8"/><circle cx="561.5" cy="586.2" r="1.8"/><circle cx="562.3" cy="593.0" r="1.8"/><circle cx="569.2" cy="573.6" r="1.8"/><circle cx="574.6" cy="558.9" r="1.8"/><circle cx="646.2" cy="551.7" r="1.8"/><circle cx="649.5" cy="552.7" r="1.8"/><circle cx="658.5" cy="563.5" r="1.8"/><circle cx="668.0" cy="575.2" r="1.8"/><circle cx="671.3" cy="589.1" r="1.8"/><circle cx="668.9" cy="607.2" r="1.8"/><circle cx="667.9" cy="619.7" r="1.8"/><circle cx="636.3" cy="594.1" r="1.8"/><circle cx="626.8" cy="583.5" r="1.8"/><circle cx="626.8" cy="574.7" r="1.8"/><circle cx="622.5" cy="568.2" r="1.8"/><circle cx="680.2" cy="530.1" r="1.8"/><circle cx="693.8" cy="561.5" r="1.8"/><circle cx="699.7" cy="562.0" r="1.8"/><circle cx="698.6" cy="565.7" r="1.8"/><circle cx="701.3" cy="561.0" r="1.8"/><circle cx="699.0" cy="571.5" r="1.8"/><circle cx="694.3" cy="588.7" r="1.8"/><circle cx="702.6" cy="600.3" r="1.8"/><circle cx="706.2" cy="624.3" r="1.8"/><circle cx="702.7" cy="638.0" r="1.8"/><circle cx="693.9" cy="655.1" r="1.8"/><circle cx="702.3" cy="649.7" r="1.8"/><circle cx="688.9" cy="671.2" r="1.8"/><circle cx="681.4" cy="654.3" r="1.8"/><circle cx="679.8" cy="662.4" r="1.8"/><circle cx="689.1" cy="635.8" r="1.8"/><circle cx="693.2" cy="643.2" r="1.8"/><circle cx="694.7" cy="618.5" r="1.8"/><circle cx="696.9" cy="614.3" r="1.8"/><circle cx="689.3" cy="604.7" r="1.8"/><circle cx="682.0" cy="570.2" r="1.8"/><circle cx="675.3" cy="570.4" r="1.8"/><circle cx="667.7" cy="547.1" r="1.8"/><circle cx="668.5" cy="536.9" r="1.8"/><circle cx="668.4" cy="665.7" r="1.8"/><circle cx="672.1" cy="662.4" r="1.8"/><circle cx="672.4" cy="665.1" r="1.8"/><circle cx="682.3" cy="664.2" r="1.8"/><circle cx="682.6" cy="677.4" r="1.8"/><circle cx="670.4" cy="690.6" r="1.8"/><circle cx="650.6" cy="681.6" r="1.8"/></g>
<path d="M641.6,360.7 C643.0,361.0 646.1,366.9 648.6,370.0 C651.1,373.1 653.6,376.8 656.7,379.3 C659.8,381.8 663.5,383.9 667.2,385.1 C670.9,386.3 674.9,386.9 678.8,386.3 C682.7,385.7 686.6,383.9 690.5,381.6 C694.4,379.3 698.6,375.2 702.1,372.3 C705.6,369.4 708.3,366.7 711.4,364.2 C714.5,361.7 718.2,358.6 720.7,357.2 C723.2,355.8 725.9,354.8 726.5,356.0 C727.1,357.2 724.8,361.3 724.2,364.2 C723.6,367.1 722.0,371.2 723.0,373.5 C724.0,375.8 729.2,376.6 730.0,378.1 C730.8,379.7 729.6,381.2 727.7,382.8 C725.8,384.4 721.3,385.6 718.4,387.4 C715.5,389.1 713.3,391.2 710.2,393.3 C707.1,395.4 704.0,398.2 700.0,400.0 C696.0,401.8 691.4,404.0 686.4,404.0 C681.4,404.0 675.2,402.0 670.0,400.0 C664.8,398.0 659.2,395.3 655.0,392.0 C650.8,388.7 647.5,384.0 645.0,380.0 C642.5,376.0 640.6,371.2 640.0,368.0 C639.4,364.8 640.2,360.4 641.6,360.7Z" fill="#f8766d" stroke="#f8766d" stroke-width="1.5"/>
<line x1="479.6" y1="718.2" x2="830.4" y2="718.2" stroke="#000" stroke-width="2.20" />
<line x1="510.7" y1="718.2" x2="510.7" y2="726.0" stroke="#000" stroke-width="2.00" />
<text x="510.7" y="753.0" font-size="23.00" text-anchor="middle" stroke="#000" stroke-width="0.4">−10</text>
<line x1="572.8" y1="718.2" x2="572.8" y2="726.0" stroke="#000" stroke-width="2.00" />
<text x="572.8" y="753.0" font-size="23.00" text-anchor="middle" stroke="#000" stroke-width="0.4">−5</text>
<line x1="634.9" y1="718.2" x2="634.9" y2="726.0" stroke="#000" stroke-width="2.00" />
<text x="634.9" y="753.0" font-size="23.00" text-anchor="middle" stroke="#000" stroke-width="0.4">0</text>
<line x1="697.0" y1="718.2" x2="697.0" y2="726.0" stroke="#000" stroke-width="2.00" />
<text x="697.0" y="753.0" font-size="23.00" text-anchor="middle" stroke="#000" stroke-width="0.4">5</text>
<line x1="759.1" y1="718.2" x2="759.1" y2="726.0" stroke="#000" stroke-width="2.00" />
<text x="759.1" y="753.0" font-size="23.00" text-anchor="middle" stroke="#000" stroke-width="0.4">10</text>
<line x1="821.2" y1="718.2" x2="821.2" y2="726.0" stroke="#000" stroke-width="2.00" />
<text x="821.2" y="753.0" font-size="23.00" text-anchor="middle" stroke="#000" stroke-width="0.4">15</text>
<g fill="#c1c1c1" stroke="#c1c1c1" stroke-width="2" stroke-linejoin="round"><path d="M963.9,158.0 C968.2,152.5 967.8,159.0 970.3,161.5 C972.8,164.0 976.5,168.7 978.9,173.0 C981.3,177.3 984.9,182.1 984.7,187.3 C984.5,192.6 979.4,198.5 977.5,204.5 C975.6,210.5 973.0,214.1 973.2,223.2 C973.4,232.3 977.9,247.1 978.9,259.0 C979.8,270.9 979.8,286.4 978.9,294.8 C977.9,303.2 973.2,303.2 973.2,309.2 C973.2,315.2 975.3,323.3 978.9,330.7 C982.5,338.1 991.8,346.9 994.7,353.6 C997.6,360.3 996.8,367.5 996.1,370.8 C995.4,374.1 992.3,376.6 990.4,373.7 C988.5,370.8 987.6,357.7 984.7,353.6 C981.8,349.5 977.3,350.7 973.2,349.3 C969.1,347.9 963.2,343.3 960.3,345.0 C957.4,346.7 957.7,351.9 956.0,359.3 C954.3,366.7 952.0,384.1 950.3,389.4 C948.6,394.7 947.2,394.7 946.0,390.9 C944.8,387.1 942.4,373.7 943.1,366.5 C943.8,359.3 950.5,352.2 950.3,347.9 C950.1,343.6 946.0,341.2 941.7,340.7 C937.4,340.2 928.6,341.9 924.5,345.0 C920.4,348.1 919.7,355.7 917.3,359.3 C914.9,362.9 911.5,362.7 910.1,366.5 C908.7,370.3 911.8,381.1 908.7,382.3 C905.6,383.5 895.5,377.5 891.5,373.7 C887.5,369.9 886.0,365.3 885.0,359.3 C884.0,353.3 883.5,342.8 885.8,337.8 C888.1,332.8 893.5,334.0 898.7,329.2 C904.0,324.4 913.0,314.9 917.3,309.2 C921.6,303.5 922.8,302.0 924.5,294.8 C926.2,287.6 926.1,276.9 927.3,266.2 C928.5,255.4 928.7,242.2 931.6,230.3 C934.5,218.4 939.1,206.6 944.5,194.5 C949.9,182.4 959.6,163.5 963.9,158.0Z"/><path d="M1013.3,201.7 C1016.6,202.2 1022.6,205.5 1026.2,210.3 C1029.8,215.1 1032.4,224.1 1034.8,230.3 C1037.2,236.5 1041.8,243.7 1040.6,247.5 C1039.4,251.3 1032.5,252.1 1027.7,253.3 C1022.9,254.5 1015.7,257.1 1011.9,254.7 C1008.1,252.3 1006.4,244.9 1004.7,238.9 C1003.0,232.9 1001.6,224.2 1001.9,218.9 C1002.1,213.7 1004.3,210.3 1006.2,207.4 C1008.1,204.5 1010.0,201.2 1013.3,201.7Z"/><path d="M1054.9,131.4 C1059.7,130.4 1064.7,132.3 1067.8,135.7 C1070.9,139.0 1072.3,145.3 1073.5,151.5 C1074.7,157.7 1075.5,165.8 1075.0,173.0 C1074.5,180.2 1072.6,188.3 1070.7,194.5 C1068.8,200.7 1065.9,206.7 1063.5,210.3 C1061.1,213.9 1059.9,216.0 1056.3,216.0 C1052.7,216.0 1046.1,213.4 1042.0,210.3 C1038.0,207.2 1034.9,201.2 1032.0,197.4 C1029.1,193.6 1027.7,190.2 1024.8,187.3 C1021.9,184.4 1015.5,182.6 1014.8,180.2 C1014.1,177.8 1017.9,176.6 1020.5,173.0 C1023.1,169.4 1027.4,163.9 1030.5,158.7 C1033.6,153.4 1035.0,146.1 1039.1,141.5 C1043.2,136.9 1050.1,132.4 1054.9,131.4Z"/><path d="M1077.8,218.9 C1079.7,219.4 1083.6,223.2 1085.0,227.5 C1086.4,231.8 1086.9,239.0 1086.4,244.7 C1085.9,250.4 1083.8,257.6 1082.1,261.9 C1080.4,266.2 1078.1,271.0 1076.4,270.5 C1074.7,270.0 1072.6,264.3 1072.1,259.0 C1071.6,253.7 1073.3,244.6 1073.5,238.9 C1073.7,233.2 1072.8,227.9 1073.5,224.6 C1074.2,221.3 1075.9,218.4 1077.8,218.9Z"/><path d="M1013.3,297.7 C1014.5,292.2 1018.4,289.9 1022.0,297.0 C1025.6,304.1 1033.5,329.1 1034.8,340.0 C1036.1,350.9 1032.5,358.9 1030.0,362.2 C1027.5,365.5 1022.5,365.4 1020.0,360.0 C1017.5,354.6 1016.1,340.4 1015.0,330.0 C1013.9,319.6 1012.1,303.2 1013.3,297.7Z"/><path d="M1032.0,297.7 C1034.5,296.0 1045.4,299.6 1047.7,305.0 C1050.0,310.4 1048.0,325.0 1046.0,330.0 C1044.1,335.0 1038.2,337.5 1036.0,335.0 C1033.8,332.5 1033.7,321.2 1033.0,315.0 C1032.3,308.8 1029.6,299.4 1032.0,297.7Z"/><path d="M963.2,395.0 C965.4,392.1 970.9,390.9 975.0,390.9 C979.1,390.9 985.4,392.1 988.0,395.0 C990.6,397.9 991.4,403.8 990.4,408.0 C989.4,412.2 985.7,418.2 982.0,420.0 C978.3,421.8 971.3,421.0 968.0,419.0 C964.7,417.0 962.8,412.0 962.0,408.0 C961.2,404.0 961.0,397.9 963.2,395.0Z"/><path d="M994.7,345.0 C996.4,342.5 1001.0,346.7 1005.0,350.0 C1009.0,353.3 1017.3,357.5 1019.0,365.0 C1020.7,372.5 1017.3,385.8 1015.0,395.0 C1012.7,404.2 1008.2,415.8 1005.0,420.0 C1001.8,424.2 996.8,425.0 996.0,420.0 C995.2,415.0 1000.2,399.2 1000.0,390.0 C999.8,380.8 995.9,372.5 995.0,365.0 C994.1,357.5 993.0,347.5 994.7,345.0Z"/><path d="M1059.0,315.0 C1060.2,313.1 1064.2,313.2 1065.0,314.9 C1065.8,316.6 1065.2,323.1 1064.0,325.0 C1062.8,326.9 1058.8,328.1 1058.0,326.4 C1057.2,324.7 1057.8,316.9 1059.0,315.0Z"/><path d="M1112.1,345.7 C1114.9,342.3 1121.6,338.7 1128.1,336.6 C1134.6,334.5 1143.7,333.2 1150.9,333.2 C1158.1,333.2 1165.0,333.8 1171.4,336.6 C1177.9,339.5 1184.7,345.4 1189.6,350.3 C1194.5,355.2 1198.4,361.0 1201.0,366.3 C1203.6,371.6 1205.0,376.9 1205.1,382.2 C1205.2,387.5 1203.3,393.6 1201.5,398.2 C1199.7,402.8 1196.9,406.6 1194.2,409.6 C1191.5,412.6 1188.9,415.6 1185.1,416.4 C1181.3,417.1 1176.0,416.0 1171.4,414.1 C1166.8,412.2 1162.3,408.0 1157.7,405.0 C1153.1,402.0 1148.6,398.5 1144.0,395.9 C1139.4,393.2 1134.1,391.8 1130.3,389.1 C1126.5,386.4 1123.8,383.3 1121.2,379.9 C1118.5,376.5 1116.1,372.3 1114.4,368.5 C1112.7,364.7 1111.4,360.9 1111.0,357.1 C1110.6,353.3 1109.2,349.1 1112.1,345.7Z"/></g>
<g fill="#c1c1c1" stroke="#c1c1c1" stroke-width="2" stroke-linejoin="round" opacity="1.00"><path d="M941.0,422.0 C941.6,420.3 945.5,418.0 947.8,418.6 C950.0,419.2 952.5,423.3 954.5,425.4 C956.5,427.5 959.9,430.2 959.6,431.3 C959.3,432.4 955.3,432.6 952.8,432.2 C950.3,431.8 946.4,430.5 944.4,428.8 C942.4,427.1 940.4,423.7 941.0,422.0Z"/><path d="M974.9,439.0 C977.6,435.5 984.4,430.5 988.4,429.6 C992.3,428.8 996.5,430.9 998.6,433.9 C1000.7,436.9 1001.7,443.7 1001.1,447.4 C1000.5,451.1 997.3,452.5 995.2,455.9 C993.1,459.3 990.7,465.0 988.4,467.8 C986.1,470.6 983.9,473.4 981.6,472.8 C979.4,472.2 976.4,468.1 974.9,464.4 C973.3,460.7 972.3,455.0 972.3,450.8 C972.3,446.6 972.2,442.5 974.9,439.0Z"/><path d="M946.0,454.2 C948.4,449.1 955.1,451.1 959.6,450.8 C964.1,450.5 970.7,449.1 973.2,452.5 C975.8,455.9 975.7,466.6 974.9,471.1 C974.0,475.6 971.8,476.8 968.1,479.6 C964.4,482.4 956.6,487.8 952.8,488.1 C949.0,488.4 946.3,487.0 945.2,481.3 C944.1,475.6 943.6,459.3 946.0,454.2Z"/><path d="M925.7,489.8 C928.8,487.6 935.6,487.2 939.3,488.1 C943.0,489.0 945.3,491.5 947.8,494.9 C950.3,498.3 952.5,503.9 954.5,508.4 C956.5,512.9 959.9,518.0 959.6,522.0 C959.3,526.0 956.2,529.6 952.8,532.1 C949.4,534.6 944.4,535.5 939.3,537.2 C934.2,538.9 926.5,543.7 922.3,542.3 C918.1,540.9 915.3,533.2 913.9,528.7 C912.5,524.2 912.8,519.7 913.9,515.2 C915.0,510.7 918.7,505.8 920.7,501.6 C922.7,497.4 922.6,492.1 925.7,489.8Z"/><path d="M991.8,472.8 C994.9,472.0 1001.6,476.5 1005.3,479.6 C1009.0,482.7 1012.1,487.3 1013.8,491.5 C1015.5,495.7 1016.4,500.5 1015.5,505.0 C1014.6,509.5 1011.5,514.6 1008.7,518.6 C1005.9,522.6 1002.0,528.1 998.6,528.7 C995.2,529.3 990.7,526.5 988.4,522.0 C986.1,517.5 985.3,507.8 985.0,501.6 C984.7,495.4 985.6,489.5 986.7,484.7 C987.8,479.9 988.7,473.6 991.8,472.8Z"/><path d="M977.4,522.0 C979.4,519.8 986.0,519.8 988.4,522.0 C990.8,524.2 992.1,530.4 991.8,535.5 C991.5,540.6 988.1,546.8 986.7,552.4 C985.3,558.0 984.6,566.3 983.3,569.4 C982.0,572.5 980.0,573.9 979.1,571.1 C978.3,568.3 978.6,558.3 978.2,552.4 C977.8,546.5 976.6,540.6 976.5,535.5 C976.4,530.4 975.4,524.2 977.4,522.0Z"/><path d="M1040.9,501.6 C1044.6,499.1 1054.1,498.5 1057.8,499.9 C1061.5,501.3 1061.8,505.9 1062.9,510.1 C1064.0,514.3 1062.6,521.1 1064.6,525.3 C1066.6,529.5 1072.2,531.5 1074.8,535.5 C1077.3,539.5 1080.2,544.8 1079.9,549.0 C1079.6,553.2 1075.9,559.8 1073.1,560.9 C1070.3,562.0 1066.0,558.6 1062.9,555.8 C1059.8,553.0 1057.9,547.4 1054.5,544.0 C1051.1,540.6 1046.0,538.0 1042.6,535.5 C1039.2,533.0 1035.2,532.1 1034.1,528.7 C1033.0,525.3 1034.7,519.7 1035.8,515.2 C1036.9,510.7 1037.2,504.2 1040.9,501.6Z"/><path d="M1132.4,455.9 C1134.7,454.2 1135.2,458.5 1134.1,461.0 C1133.0,463.5 1127.6,467.2 1125.6,471.1 C1123.6,475.1 1123.0,479.1 1122.2,484.7 C1121.4,490.3 1120.5,499.4 1120.5,505.0 C1120.5,510.6 1121.9,513.5 1122.2,518.6 C1122.5,523.7 1123.6,531.8 1122.2,535.5 C1120.8,539.2 1116.5,540.9 1113.7,540.6 C1110.9,540.3 1107.0,537.5 1105.3,533.8 C1103.6,530.1 1103.0,522.8 1103.6,518.6 C1104.2,514.4 1106.7,510.7 1108.7,508.4 C1110.7,506.1 1114.0,508.4 1115.4,505.0 C1116.8,501.6 1116.2,493.8 1117.1,488.1 C1117.9,482.5 1118.0,476.5 1120.5,471.1 C1123.1,465.7 1130.1,457.6 1132.4,455.9Z"/><path d="M1079.9,496.5 C1081.6,495.1 1088.3,494.2 1091.7,496.5 C1095.1,498.8 1099.4,505.9 1100.2,510.1 C1101.0,514.4 1098.8,520.6 1096.8,522.0 C1094.8,523.4 1090.8,521.4 1088.3,518.6 C1085.8,515.8 1083.0,508.7 1081.6,505.0 C1080.2,501.3 1078.2,497.9 1079.9,496.5Z"/><path d="M1044.3,444.0 C1046.2,442.6 1052.5,443.7 1054.5,445.7 C1056.5,447.7 1054.8,453.9 1056.2,455.9 C1057.6,457.9 1062.9,456.5 1062.9,457.6 C1062.9,458.7 1057.9,460.2 1056.2,462.7 C1054.5,465.2 1054.2,470.8 1052.8,472.8 C1051.4,474.8 1049.4,475.9 1047.7,474.5 C1046.0,473.1 1043.3,467.8 1042.6,464.4 C1041.9,461.0 1043.1,457.6 1043.4,454.2 C1043.7,450.8 1042.4,445.4 1044.3,444.0Z"/><path d="M956.2,621.9 C961.0,619.1 980.3,619.6 985.0,623.6 C989.7,627.6 985.1,638.8 984.2,645.6 C983.4,652.4 982.0,660.2 979.9,664.2 C977.8,668.2 974.6,670.1 971.5,669.3 C968.4,668.4 963.8,663.9 961.3,659.1 C958.8,654.3 957.1,646.7 956.2,640.5 C955.4,634.3 951.4,624.7 956.2,621.9Z"/><path d="M1018.9,559.2 C1020.9,556.9 1025.7,557.5 1029.1,559.2 C1032.5,560.9 1036.4,565.4 1039.2,569.4 C1042.0,573.4 1043.2,578.8 1046.0,583.0 C1048.8,587.2 1054.0,590.0 1056.2,594.8 C1058.5,599.6 1059.5,606.9 1059.5,611.7 C1059.5,616.5 1058.2,621.3 1056.2,623.6 C1054.2,625.9 1050.0,627.0 1047.7,625.3 C1045.4,623.6 1045.1,617.1 1042.6,613.4 C1040.0,609.7 1035.2,606.1 1032.4,603.3 C1029.6,600.5 1028.0,599.3 1025.7,596.5 C1023.5,593.7 1020.3,590.2 1018.9,586.3 C1017.5,582.3 1017.2,577.3 1017.2,572.8 C1017.2,568.3 1016.9,561.5 1018.9,559.2Z"/><path d="M1046.0,660.8 C1049.4,659.4 1057.2,659.6 1062.9,659.1 C1068.5,658.6 1076.5,660.0 1079.9,657.5 C1083.3,655.0 1082.2,647.3 1083.3,643.9 C1084.4,640.5 1086.3,635.4 1086.6,637.1 C1086.9,638.8 1085.8,649.6 1085.0,654.1 C1084.2,658.6 1083.3,660.8 1081.6,664.2 C1079.9,667.6 1077.9,670.7 1074.8,674.4 C1071.7,678.1 1066.3,683.7 1062.9,686.2 C1059.5,688.7 1057.5,690.7 1054.5,689.6 C1051.5,688.5 1047.1,683.2 1045.1,679.5 C1043.1,675.8 1042.4,670.7 1042.6,667.6 C1042.7,664.5 1042.6,662.2 1046.0,660.8Z"/></g>
<g fill="#c1c1c1"><circle cx="1037.8" cy="303.5" r="1.9"/><circle cx="1012.3" cy="297.7" r="1.9"/><circle cx="989.7" cy="258.4" r="1.9"/><circle cx="1002.7" cy="300.3" r="1.9"/><circle cx="1026.1" cy="285.6" r="1.9"/><circle cx="991.6" cy="266.5" r="1.9"/><circle cx="1012.3" cy="332.6" r="1.9"/><circle cx="1021.6" cy="329.5" r="1.9"/><circle cx="1001.4" cy="314.0" r="1.9"/><circle cx="996.0" cy="276.7" r="1.9"/><circle cx="995.6" cy="339.9" r="1.9"/><circle cx="1004.9" cy="332.1" r="1.9"/><circle cx="986.5" cy="277.3" r="1.9"/><circle cx="978.7" cy="297.6" r="1.9"/><circle cx="1036.9" cy="301.8" r="1.9"/><circle cx="981.7" cy="275.1" r="1.9"/><circle cx="994.2" cy="272.2" r="1.9"/><circle cx="1016.0" cy="267.7" r="1.9"/><circle cx="1008.0" cy="303.4" r="1.9"/><circle cx="1003.4" cy="268.6" r="1.9"/><circle cx="1016.7" cy="318.7" r="1.9"/><circle cx="1002.6" cy="297.8" r="1.9"/><circle cx="1019.4" cy="279.6" r="1.9"/><circle cx="997.4" cy="317.9" r="1.9"/><circle cx="1006.3" cy="330.1" r="1.9"/><circle cx="1005.6" cy="320.3" r="1.9"/><circle cx="1011.8" cy="276.5" r="1.9"/><circle cx="1000.6" cy="305.2" r="1.9"/><circle cx="1007.3" cy="318.4" r="1.9"/><circle cx="1019.8" cy="317.5" r="1.9"/><circle cx="993.1" cy="333.0" r="1.9"/><circle cx="1033.9" cy="297.9" r="1.9"/><circle cx="994.8" cy="260.6" r="1.9"/><circle cx="1020.6" cy="316.9" r="1.9"/><circle cx="1018.9" cy="293.1" r="1.9"/><circle cx="1016.4" cy="313.9" r="1.9"/><circle cx="1011.9" cy="343.0" r="1.9"/><circle cx="1009.8" cy="297.0" r="1.9"/><circle cx="1016.2" cy="286.7" r="1.9"/><circle cx="1009.2" cy="334.3" r="1.9"/><circle cx="1020.8" cy="337.2" r="1.9"/><circle cx="1008.5" cy="271.6" r="1.9"/><circle cx="1008.2" cy="322.5" r="1.9"/><circle cx="997.4" cy="311.0" r="1.9"/><circle cx="1019.6" cy="287.7" r="1.9"/><circle cx="1014.3" cy="334.7" r="1.9"/><circle cx="1030.3" cy="333.8" r="1.9"/><circle cx="1023.0" cy="314.2" r="1.9"/><circle cx="1023.5" cy="321.0" r="1.9"/><circle cx="1007.8" cy="288.7" r="1.9"/><circle cx="988.6" cy="290.4" r="1.9"/><circle cx="1010.3" cy="336.0" r="1.9"/><circle cx="992.9" cy="335.0" r="1.9"/><circle cx="1026.4" cy="286.6" r="1.9"/><circle cx="1019.7" cy="343.0" r="1.9"/><circle cx="1032.8" cy="323.2" r="1.9"/><circle cx="998.9" cy="289.5" r="1.9"/><circle cx="1002.3" cy="280.2" r="1.9"/><circle cx="1006.1" cy="330.0" r="1.9"/><circle cx="1023.5" cy="280.4" r="1.9"/><circle cx="1018.8" cy="307.5" r="1.9"/><circle cx="984.1" cy="276.1" r="1.9"/><circle cx="993.9" cy="262.2" r="1.9"/><circle cx="1020.6" cy="312.2" r="1.9"/><circle cx="1000.7" cy="339.1" r="1.9"/><circle cx="1003.3" cy="272.2" r="1.9"/><circle cx="1004.5" cy="292.5" r="1.9"/><circle cx="989.0" cy="286.7" r="1.9"/><circle cx="1021.6" cy="311.3" r="1.9"/><circle cx="983.8" cy="314.6" r="1.9"/><circle cx="995.7" cy="319.1" r="1.9"/><circle cx="1027.1" cy="325.6" r="1.9"/><circle cx="998.7" cy="334.4" r="1.9"/><circle cx="1011.2" cy="314.0" r="1.9"/><circle cx="996.1" cy="283.9" r="1.9"/><circle cx="986.7" cy="266.7" r="1.9"/><circle cx="1018.9" cy="292.9" r="1.9"/><circle cx="997.8" cy="295.6" r="1.9"/><circle cx="1030.8" cy="309.5" r="1.9"/><circle cx="1005.2" cy="307.6" r="1.9"/><circle cx="992.0" cy="334.6" r="1.9"/><circle cx="1028.2" cy="317.3" r="1.9"/><circle cx="1018.2" cy="333.3" r="1.9"/><circle cx="988.7" cy="294.7" r="1.9"/><circle cx="982.4" cy="286.0" r="1.9"/><circle cx="1022.0" cy="326.0" r="1.9"/><circle cx="1005.7" cy="315.4" r="1.9"/><circle cx="1002.1" cy="284.9" r="1.9"/><circle cx="989.6" cy="290.7" r="1.9"/><circle cx="1036.5" cy="311.2" r="1.9"/><circle cx="1005.6" cy="306.1" r="1.9"/><circle cx="1015.7" cy="321.5" r="1.9"/><circle cx="1010.1" cy="303.7" r="1.9"/><circle cx="996.3" cy="322.3" r="1.9"/><circle cx="1034.9" cy="308.4" r="1.9"/><circle cx="984.1" cy="288.2" r="1.9"/><circle cx="1018.6" cy="271.4" r="1.9"/><circle cx="1034.6" cy="321.9" r="1.9"/><circle cx="1014.0" cy="306.1" r="1.9"/><circle cx="1033.5" cy="299.0" r="1.9"/><circle cx="1010.1" cy="331.3" r="1.9"/><circle cx="987.2" cy="328.7" r="1.9"/><circle cx="1008.0" cy="317.9" r="1.9"/><circle cx="1002.2" cy="264.1" r="1.9"/><circle cx="1013.3" cy="337.8" r="1.9"/><circle cx="1001.0" cy="285.0" r="1.9"/><circle cx="1022.3" cy="295.5" r="1.9"/><circle cx="978.9" cy="291.1" r="1.9"/><circle cx="990.6" cy="331.9" r="1.9"/><circle cx="1020.4" cy="311.5" r="1.9"/><circle cx="1006.8" cy="280.0" r="1.9"/><circle cx="1004.6" cy="324.7" r="1.9"/><circle cx="998.9" cy="316.5" r="1.9"/><circle cx="992.2" cy="282.8" r="1.9"/><circle cx="996.4" cy="300.7" r="1.9"/><circle cx="1027.2" cy="339.0" r="1.9"/><circle cx="1008.9" cy="272.5" r="1.9"/><circle cx="980.8" cy="268.8" r="1.9"/><circle cx="999.6" cy="289.4" r="1.9"/><circle cx="1016.7" cy="330.4" r="1.9"/><circle cx="1022.5" cy="312.7" r="1.9"/><circle cx="1027.7" cy="338.1" r="1.9"/><circle cx="997.8" cy="302.9" r="1.9"/><circle cx="983.3" cy="319.6" r="1.9"/><circle cx="1010.7" cy="308.2" r="1.9"/><circle cx="1027.8" cy="278.3" r="1.9"/><circle cx="1032.7" cy="285.7" r="1.9"/><circle cx="1029.1" cy="293.2" r="1.9"/><circle cx="1015.3" cy="337.5" r="1.9"/><circle cx="993.1" cy="309.7" r="1.9"/><circle cx="998.5" cy="300.5" r="1.9"/><circle cx="986.5" cy="317.8" r="1.9"/><circle cx="1016.6" cy="339.3" r="1.9"/><circle cx="1005.1" cy="278.8" r="1.9"/><circle cx="983.3" cy="296.4" r="1.9"/><circle cx="1003.3" cy="317.2" r="1.9"/><circle cx="980.1" cy="282.5" r="1.9"/><circle cx="1029.3" cy="335.0" r="1.9"/><circle cx="1018.4" cy="278.8" r="1.9"/><circle cx="1005.7" cy="273.3" r="1.9"/><circle cx="981.2" cy="304.8" r="1.9"/><circle cx="1022.0" cy="293.2" r="1.9"/><circle cx="1031.2" cy="292.0" r="1.9"/><circle cx="981.3" cy="284.3" r="1.9"/><circle cx="1009.5" cy="263.7" r="1.9"/><circle cx="1000.5" cy="276.4" r="1.9"/><circle cx="1012.4" cy="290.9" r="1.9"/><circle cx="1005.9" cy="301.3" r="1.9"/><circle cx="998.2" cy="286.6" r="1.9"/><circle cx="1028.1" cy="293.0" r="1.9"/><circle cx="1032.2" cy="331.9" r="1.9"/><circle cx="987.2" cy="319.5" r="1.9"/><circle cx="986.8" cy="320.0" r="1.9"/><circle cx="1017.0" cy="322.2" r="1.9"/><circle cx="979.0" cy="268.8" r="1.9"/><circle cx="1011.3" cy="264.4" r="1.9"/><circle cx="1014.7" cy="300.6" r="1.9"/><circle cx="992.0" cy="309.1" r="1.9"/><circle cx="1034.8" cy="302.7" r="1.9"/><circle cx="1016.1" cy="306.7" r="1.9"/><circle cx="1010.5" cy="327.2" r="1.9"/><circle cx="1009.1" cy="343.4" r="1.9"/><circle cx="987.0" cy="297.5" r="1.9"/><circle cx="1015.8" cy="267.8" r="1.9"/><circle cx="1015.9" cy="278.3" r="1.9"/><circle cx="986.0" cy="308.7" r="1.9"/><circle cx="1015.6" cy="300.0" r="1.9"/><circle cx="991.1" cy="270.8" r="1.9"/><circle cx="1023.6" cy="331.8" r="1.9"/><circle cx="1017.3" cy="342.0" r="1.9"/><circle cx="986.4" cy="317.7" r="1.9"/><circle cx="1030.8" cy="283.2" r="1.9"/><circle cx="979.8" cy="273.2" r="1.9"/><circle cx="995.1" cy="329.7" r="1.9"/><circle cx="1009.4" cy="283.7" r="1.9"/><circle cx="1006.3" cy="283.6" r="1.9"/><circle cx="1007.1" cy="309.3" r="1.9"/><circle cx="1012.0" cy="296.0" r="1.9"/><circle cx="988.3" cy="270.7" r="1.9"/><circle cx="1034.8" cy="312.0" r="1.9"/><circle cx="1011.0" cy="262.4" r="1.9"/><circle cx="1007.4" cy="285.4" r="1.9"/><circle cx="1011.8" cy="262.1" r="1.9"/><circle cx="1003.2" cy="308.4" r="1.9"/><circle cx="1008.9" cy="297.3" r="1.9"/><circle cx="982.5" cy="316.9" r="1.9"/><circle cx="980.9" cy="286.0" r="1.9"/><circle cx="991.1" cy="258.6" r="1.9"/><circle cx="981.8" cy="302.3" r="1.9"/><circle cx="991.0" cy="297.0" r="1.9"/><circle cx="1014.4" cy="315.4" r="1.9"/><circle cx="996.3" cy="265.0" r="1.9"/><circle cx="987.2" cy="289.1" r="1.9"/><circle cx="993.4" cy="309.0" r="1.9"/><circle cx="991.2" cy="276.8" r="1.9"/><circle cx="980.2" cy="297.1" r="1.9"/><circle cx="989.9" cy="297.8" r="1.9"/><circle cx="1021.0" cy="323.5" r="1.9"/><circle cx="999.4" cy="303.3" r="1.9"/><circle cx="1000.6" cy="309.8" r="1.9"/><circle cx="992.5" cy="262.5" r="1.9"/><circle cx="1011.6" cy="275.4" r="1.9"/><circle cx="983.1" cy="262.8" r="1.9"/><circle cx="1021.8" cy="298.2" r="1.9"/><circle cx="984.9" cy="269.1" r="1.9"/><circle cx="1003.1" cy="302.7" r="1.9"/><circle cx="1034.3" cy="296.1" r="1.9"/><circle cx="981.7" cy="291.1" r="1.9"/><circle cx="991.0" cy="294.8" r="1.9"/><circle cx="1024.3" cy="286.0" r="1.9"/><circle cx="990.1" cy="300.5" r="1.9"/><circle cx="1015.0" cy="268.3" r="1.9"/><circle cx="1023.5" cy="320.9" r="1.9"/><circle cx="994.2" cy="334.7" r="1.9"/><circle cx="990.7" cy="299.6" r="1.9"/><circle cx="1000.3" cy="261.0" r="1.9"/><circle cx="1008.1" cy="302.8" r="1.9"/><circle cx="1026.4" cy="301.9" r="1.9"/><circle cx="1038.9" cy="302.5" r="1.9"/><circle cx="990.0" cy="323.6" r="1.9"/><circle cx="981.4" cy="300.8" r="1.9"/><circle cx="1024.7" cy="335.1" r="1.9"/><circle cx="1008.0" cy="296.3" r="1.9"/><circle cx="982.7" cy="312.0" r="1.9"/><circle cx="986.2" cy="295.4" r="1.9"/><circle cx="1005.7" cy="314.7" r="1.9"/><circle cx="996.9" cy="305.2" r="1.9"/><circle cx="998.1" cy="338.0" r="1.9"/><circle cx="1027.1" cy="313.9" r="1.9"/><circle cx="988.3" cy="266.7" r="1.9"/><circle cx="1025.1" cy="325.4" r="1.9"/><circle cx="985.3" cy="281.8" r="1.9"/><circle cx="1020.5" cy="299.0" r="1.9"/><circle cx="1022.3" cy="326.1" r="1.9"/><circle cx="1002.1" cy="326.6" r="1.9"/><circle cx="1034.1" cy="304.8" r="1.9"/><circle cx="1003.7" cy="295.4" r="1.9"/><circle cx="1020.1" cy="342.3" r="1.9"/><circle cx="995.8" cy="295.2" r="1.9"/><circle cx="1026.2" cy="277.9" r="1.9"/><circle cx="991.9" cy="313.0" r="1.9"/><circle cx="1003.2" cy="324.9" r="1.9"/><circle cx="996.5" cy="315.6" r="1.9"/><circle cx="1026.2" cy="293.9" r="1.9"/><circle cx="1009.3" cy="297.1" r="1.9"/><circle cx="999.9" cy="295.4" r="1.9"/><circle cx="1018.4" cy="310.1" r="1.9"/><circle cx="1002.7" cy="318.3" r="1.9"/><circle cx="1022.6" cy="340.9" r="1.9"/><circle cx="1001.0" cy="307.9" r="1.9"/><circle cx="1026.1" cy="294.6" r="1.9"/><circle cx="1011.3" cy="320.3" r="1.9"/><circle cx="1033.6" cy="309.0" r="1.9"/><circle cx="1020.3" cy="325.9" r="1.9"/><circle cx="1008.9" cy="269.1" r="1.9"/><circle cx="1027.7" cy="286.3" r="1.9"/><circle cx="1005.4" cy="306.2" r="1.9"/><circle cx="1016.3" cy="295.4" r="1.9"/><circle cx="1007.4" cy="270.5" r="1.9"/><circle cx="987.5" cy="266.9" r="1.9"/><circle cx="987.1" cy="331.1" r="1.9"/><circle cx="1019.9" cy="344.3" r="1.9"/><circle cx="980.7" cy="302.4" r="1.9"/><circle cx="1027.1" cy="304.5" r="1.9"/><circle cx="988.4" cy="279.9" r="1.9"/><circle cx="991.3" cy="283.7" r="1.9"/><circle cx="1034.5" cy="301.3" r="1.9"/><circle cx="1011.0" cy="320.1" r="1.9"/><circle cx="1013.8" cy="271.1" r="1.9"/><circle cx="1032.2" cy="319.2" r="1.9"/><circle cx="987.0" cy="263.0" r="1.9"/><circle cx="1006.4" cy="341.1" r="1.9"/><circle cx="1010.6" cy="292.6" r="1.9"/><circle cx="1006.1" cy="343.8" r="1.9"/><circle cx="990.5" cy="262.7" r="1.9"/><circle cx="1022.9" cy="332.2" r="1.9"/><circle cx="982.2" cy="300.9" r="1.9"/><circle cx="1025.1" cy="298.6" r="1.9"/><circle cx="998.1" cy="323.6" r="1.9"/><circle cx="1005.5" cy="303.8" r="1.9"/><circle cx="1027.2" cy="318.4" r="1.9"/><circle cx="1028.6" cy="314.5" r="1.9"/><circle cx="994.5" cy="332.0" r="1.9"/><circle cx="981.5" cy="300.1" r="1.9"/><circle cx="1027.4" cy="314.3" r="1.9"/><circle cx="1024.6" cy="341.4" r="1.9"/><circle cx="999.8" cy="307.0" r="1.9"/><circle cx="1004.7" cy="266.3" r="1.9"/><circle cx="1006.4" cy="300.8" r="1.9"/><circle cx="1029.6" cy="297.7" r="1.9"/><circle cx="984.1" cy="293.8" r="1.9"/><circle cx="978.6" cy="294.1" r="1.9"/><circle cx="985.3" cy="265.2" r="1.9"/><circle cx="1024.2" cy="340.7" r="1.9"/><circle cx="1000.9" cy="281.0" r="1.9"/><circle cx="989.6" cy="287.0" r="1.9"/><circle cx="1032.1" cy="296.8" r="1.9"/><circle cx="1016.8" cy="281.5" r="1.9"/><circle cx="997.4" cy="313.7" r="1.9"/><circle cx="995.7" cy="289.0" r="1.9"/><circle cx="996.0" cy="283.6" r="1.9"/><circle cx="991.8" cy="308.6" r="1.9"/><circle cx="1025.5" cy="281.3" r="1.9"/><circle cx="1007.7" cy="306.2" r="1.9"/><circle cx="1025.9" cy="313.2" r="1.9"/><circle cx="996.7" cy="333.5" r="1.9"/><circle cx="983.2" cy="321.4" r="1.9"/><circle cx="994.2" cy="212.3" r="1.9"/><circle cx="997.9" cy="205.3" r="1.9"/><circle cx="993.8" cy="233.8" r="1.9"/><circle cx="984.1" cy="221.3" r="1.9"/><circle cx="994.8" cy="222.3" r="1.9"/><circle cx="985.8" cy="245.0" r="1.9"/><circle cx="990.3" cy="210.8" r="1.9"/><circle cx="981.4" cy="241.6" r="1.9"/><circle cx="999.4" cy="242.2" r="1.9"/><circle cx="995.5" cy="246.7" r="1.9"/><circle cx="989.4" cy="242.3" r="1.9"/><circle cx="996.1" cy="241.2" r="1.9"/><circle cx="986.4" cy="246.3" r="1.9"/><circle cx="998.1" cy="221.6" r="1.9"/><circle cx="985.3" cy="242.7" r="1.9"/><circle cx="990.2" cy="249.6" r="1.9"/><circle cx="996.2" cy="223.0" r="1.9"/><circle cx="985.6" cy="198.8" r="1.9"/><circle cx="998.7" cy="241.7" r="1.9"/><circle cx="991.2" cy="238.8" r="1.9"/><circle cx="982.4" cy="226.2" r="1.9"/><circle cx="997.7" cy="213.4" r="1.9"/><circle cx="982.2" cy="219.8" r="1.9"/><circle cx="993.0" cy="208.1" r="1.9"/><circle cx="997.3" cy="224.3" r="1.9"/><circle cx="1002.0" cy="228.3" r="1.9"/><circle cx="982.6" cy="233.6" r="1.9"/><circle cx="987.5" cy="245.3" r="1.9"/><circle cx="987.5" cy="251.0" r="1.9"/><circle cx="982.8" cy="235.4" r="1.9"/><circle cx="981.2" cy="231.3" r="1.9"/><circle cx="993.3" cy="232.6" r="1.9"/><circle cx="985.5" cy="210.1" r="1.9"/><circle cx="993.7" cy="230.6" r="1.9"/><circle cx="989.7" cy="220.1" r="1.9"/><circle cx="997.4" cy="235.4" r="1.9"/><circle cx="988.1" cy="222.5" r="1.9"/><circle cx="995.9" cy="217.2" r="1.9"/><circle cx="985.3" cy="209.4" r="1.9"/><circle cx="981.3" cy="235.9" r="1.9"/><circle cx="998.8" cy="217.9" r="1.9"/><circle cx="989.9" cy="213.6" r="1.9"/><circle cx="993.0" cy="240.0" r="1.9"/><circle cx="986.2" cy="213.8" r="1.9"/><circle cx="1000.1" cy="212.9" r="1.9"/><circle cx="994.2" cy="206.8" r="1.9"/><circle cx="988.1" cy="226.5" r="1.9"/><circle cx="996.1" cy="212.6" r="1.9"/><circle cx="990.7" cy="247.8" r="1.9"/><circle cx="988.4" cy="204.2" r="1.9"/><circle cx="990.6" cy="240.6" r="1.9"/><circle cx="995.0" cy="207.5" r="1.9"/><circle cx="992.0" cy="194.7" r="1.9"/><circle cx="985.0" cy="227.8" r="1.9"/><circle cx="993.0" cy="204.6" r="1.9"/><circle cx="987.9" cy="239.9" r="1.9"/><circle cx="991.8" cy="202.1" r="1.9"/><circle cx="995.5" cy="228.3" r="1.9"/><circle cx="981.4" cy="239.2" r="1.9"/><circle cx="998.8" cy="215.9" r="1.9"/><circle cx="1000.3" cy="206.6" r="1.9"/><circle cx="990.5" cy="196.7" r="1.9"/><circle cx="998.7" cy="220.1" r="1.9"/><circle cx="993.3" cy="205.2" r="1.9"/><circle cx="999.2" cy="208.2" r="1.9"/><circle cx="997.4" cy="207.4" r="1.9"/><circle cx="993.1" cy="201.4" r="1.9"/><circle cx="986.0" cy="232.5" r="1.9"/><circle cx="976.9" cy="515.3" r="1.9"/><circle cx="956.8" cy="495.8" r="1.9"/><circle cx="968.1" cy="512.5" r="1.9"/><circle cx="987.4" cy="495.8" r="1.9"/><circle cx="958.9" cy="514.9" r="1.9"/><circle cx="957.1" cy="487.7" r="1.9"/><circle cx="966.8" cy="512.9" r="1.9"/><circle cx="962.7" cy="488.7" r="1.9"/><circle cx="972.9" cy="495.7" r="1.9"/><circle cx="970.8" cy="494.3" r="1.9"/><circle cx="978.8" cy="486.0" r="1.9"/><circle cx="986.0" cy="503.1" r="1.9"/><circle cx="980.5" cy="508.1" r="1.9"/><circle cx="961.0" cy="509.5" r="1.9"/><circle cx="977.7" cy="508.9" r="1.9"/><circle cx="972.2" cy="500.5" r="1.9"/><circle cx="977.4" cy="515.5" r="1.9"/><circle cx="961.4" cy="496.0" r="1.9"/><circle cx="984.8" cy="493.0" r="1.9"/><circle cx="953.8" cy="498.6" r="1.9"/><circle cx="970.3" cy="503.8" r="1.9"/><circle cx="967.0" cy="496.3" r="1.9"/><circle cx="956.0" cy="496.0" r="1.9"/><circle cx="964.5" cy="483.6" r="1.9"/><circle cx="965.4" cy="504.2" r="1.9"/><circle cx="977.2" cy="506.7" r="1.9"/><circle cx="985.7" cy="493.2" r="1.9"/><circle cx="958.2" cy="494.5" r="1.9"/><circle cx="972.9" cy="500.8" r="1.9"/><circle cx="986.1" cy="500.6" r="1.9"/><circle cx="968.8" cy="513.1" r="1.9"/><circle cx="973.1" cy="488.3" r="1.9"/><circle cx="954.4" cy="505.3" r="1.9"/><circle cx="965.8" cy="500.2" r="1.9"/><circle cx="973.1" cy="510.1" r="1.9"/><circle cx="986.5" cy="491.1" r="1.9"/><circle cx="954.5" cy="500.2" r="1.9"/><circle cx="968.2" cy="501.2" r="1.9"/><circle cx="985.6" cy="502.5" r="1.9"/><circle cx="969.3" cy="480.6" r="1.9"/><circle cx="960.5" cy="493.5" r="1.9"/><circle cx="983.4" cy="510.8" r="1.9"/><circle cx="976.6" cy="512.0" r="1.9"/><circle cx="972.7" cy="498.8" r="1.9"/><circle cx="964.4" cy="485.6" r="1.9"/><circle cx="986.4" cy="497.7" r="1.9"/><circle cx="958.3" cy="498.8" r="1.9"/><circle cx="984.1" cy="506.6" r="1.9"/><circle cx="969.4" cy="517.7" r="1.9"/><circle cx="969.1" cy="509.9" r="1.9"/><circle cx="978.0" cy="516.3" r="1.9"/><circle cx="974.9" cy="488.7" r="1.9"/><circle cx="978.6" cy="489.7" r="1.9"/><circle cx="983.7" cy="504.0" r="1.9"/><circle cx="964.1" cy="497.4" r="1.9"/><circle cx="960.5" cy="502.3" r="1.9"/><circle cx="962.7" cy="506.4" r="1.9"/><circle cx="978.3" cy="499.1" r="1.9"/><circle cx="964.3" cy="503.0" r="1.9"/><circle cx="973.4" cy="481.3" r="1.9"/><circle cx="979.5" cy="483.5" r="1.9"/><circle cx="977.2" cy="505.5" r="1.9"/><circle cx="971.4" cy="493.6" r="1.9"/><circle cx="956.1" cy="485.2" r="1.9"/><circle cx="960.0" cy="480.8" r="1.9"/><circle cx="987.6" cy="488.1" r="1.9"/><circle cx="982.6" cy="507.3" r="1.9"/><circle cx="962.9" cy="497.7" r="1.9"/><circle cx="976.1" cy="485.6" r="1.9"/><circle cx="965.1" cy="518.3" r="1.9"/><circle cx="978.9" cy="484.8" r="1.9"/><circle cx="978.6" cy="504.1" r="1.9"/><circle cx="974.2" cy="512.7" r="1.9"/><circle cx="978.1" cy="493.7" r="1.9"/><circle cx="959.1" cy="512.0" r="1.9"/><circle cx="973.0" cy="513.0" r="1.9"/><circle cx="970.1" cy="502.1" r="1.9"/><circle cx="966.3" cy="507.0" r="1.9"/><circle cx="985.1" cy="487.3" r="1.9"/><circle cx="957.7" cy="489.3" r="1.9"/><circle cx="956.0" cy="507.2" r="1.9"/><circle cx="970.2" cy="494.2" r="1.9"/><circle cx="960.7" cy="503.2" r="1.9"/><circle cx="974.6" cy="498.3" r="1.9"/><circle cx="973.3" cy="502.2" r="1.9"/><circle cx="958.2" cy="491.2" r="1.9"/><circle cx="969.9" cy="616.5" r="1.9"/><circle cx="967.1" cy="605.5" r="1.9"/><circle cx="1001.3" cy="582.1" r="1.9"/><circle cx="1000.8" cy="586.9" r="1.9"/><circle cx="1001.7" cy="609.5" r="1.9"/><circle cx="993.6" cy="586.3" r="1.9"/><circle cx="979.0" cy="619.3" r="1.9"/><circle cx="993.8" cy="600.1" r="1.9"/><circle cx="962.8" cy="601.7" r="1.9"/><circle cx="976.3" cy="606.9" r="1.9"/><circle cx="966.6" cy="614.4" r="1.9"/><circle cx="990.1" cy="572.6" r="1.9"/><circle cx="995.8" cy="597.9" r="1.9"/><circle cx="959.4" cy="617.3" r="1.9"/><circle cx="990.7" cy="592.3" r="1.9"/><circle cx="962.0" cy="619.5" r="1.9"/><circle cx="958.9" cy="611.1" r="1.9"/><circle cx="980.4" cy="617.8" r="1.9"/><circle cx="991.3" cy="625.5" r="1.9"/><circle cx="977.1" cy="596.7" r="1.9"/><circle cx="970.8" cy="613.6" r="1.9"/><circle cx="976.7" cy="601.7" r="1.9"/><circle cx="986.3" cy="586.7" r="1.9"/><circle cx="979.5" cy="587.5" r="1.9"/><circle cx="966.8" cy="605.9" r="1.9"/><circle cx="987.9" cy="596.8" r="1.9"/><circle cx="1003.2" cy="577.9" r="1.9"/><circle cx="973.3" cy="609.3" r="1.9"/><circle cx="983.4" cy="606.2" r="1.9"/><circle cx="978.6" cy="616.8" r="1.9"/><circle cx="999.1" cy="570.5" r="1.9"/><circle cx="983.7" cy="574.3" r="1.9"/><circle cx="978.9" cy="578.1" r="1.9"/><circle cx="1002.7" cy="572.3" r="1.9"/><circle cx="986.3" cy="586.5" r="1.9"/><circle cx="963.8" cy="600.5" r="1.9"/><circle cx="1000.3" cy="569.2" r="1.9"/><circle cx="983.4" cy="612.3" r="1.9"/><circle cx="994.2" cy="571.2" r="1.9"/><circle cx="968.6" cy="591.6" r="1.9"/><circle cx="960.9" cy="602.1" r="1.9"/><circle cx="1007.2" cy="589.7" r="1.9"/><circle cx="992.8" cy="610.4" r="1.9"/><circle cx="1008.2" cy="584.4" r="1.9"/><circle cx="986.1" cy="574.5" r="1.9"/><circle cx="997.1" cy="612.0" r="1.9"/><circle cx="996.3" cy="599.0" r="1.9"/><circle cx="967.5" cy="606.8" r="1.9"/><circle cx="990.5" cy="604.7" r="1.9"/><circle cx="1003.7" cy="568.0" r="1.9"/><circle cx="968.7" cy="592.8" r="1.9"/><circle cx="963.1" cy="607.9" r="1.9"/><circle cx="988.6" cy="574.6" r="1.9"/><circle cx="985.1" cy="616.3" r="1.9"/><circle cx="973.3" cy="599.7" r="1.9"/><circle cx="983.7" cy="600.5" r="1.9"/><circle cx="976.5" cy="600.5" r="1.9"/><circle cx="990.0" cy="601.2" r="1.9"/><circle cx="967.8" cy="591.6" r="1.9"/><circle cx="971.5" cy="608.2" r="1.9"/><circle cx="963.7" cy="616.9" r="1.9"/><circle cx="1005.4" cy="593.6" r="1.9"/><circle cx="993.4" cy="621.9" r="1.9"/><circle cx="1008.0" cy="585.0" r="1.9"/><circle cx="989.1" cy="626.9" r="1.9"/><circle cx="994.7" cy="597.7" r="1.9"/><circle cx="964.8" cy="603.3" r="1.9"/><circle cx="997.1" cy="579.2" r="1.9"/><circle cx="989.1" cy="575.9" r="1.9"/><circle cx="986.6" cy="592.9" r="1.9"/><circle cx="967.2" cy="587.8" r="1.9"/><circle cx="976.7" cy="616.3" r="1.9"/><circle cx="988.4" cy="587.3" r="1.9"/><circle cx="981.9" cy="598.3" r="1.9"/><circle cx="983.7" cy="601.0" r="1.9"/><circle cx="965.6" cy="616.9" r="1.9"/><circle cx="980.4" cy="613.6" r="1.9"/><circle cx="989.5" cy="613.7" r="1.9"/><circle cx="972.6" cy="602.9" r="1.9"/><circle cx="1006.4" cy="578.6" r="1.9"/><circle cx="1006.4" cy="591.1" r="1.9"/><circle cx="991.4" cy="571.6" r="1.9"/><circle cx="986.0" cy="617.1" r="1.9"/><circle cx="994.3" cy="594.7" r="1.9"/><circle cx="991.3" cy="596.3" r="1.9"/><circle cx="971.8" cy="596.5" r="1.9"/><circle cx="976.0" cy="614.4" r="1.9"/><circle cx="986.3" cy="615.2" r="1.9"/><circle cx="981.8" cy="593.2" r="1.9"/><circle cx="1002.3" cy="594.1" r="1.9"/><circle cx="982.3" cy="601.2" r="1.9"/><circle cx="973.5" cy="595.0" r="1.9"/><circle cx="986.8" cy="594.6" r="1.9"/><circle cx="979.0" cy="608.6" r="1.9"/><circle cx="988.8" cy="589.5" r="1.9"/><circle cx="987.9" cy="604.5" r="1.9"/><circle cx="968.2" cy="588.8" r="1.9"/><circle cx="999.6" cy="608.3" r="1.9"/><circle cx="994.5" cy="606.6" r="1.9"/><circle cx="1007.9" cy="588.4" r="1.9"/><circle cx="971.6" cy="615.6" r="1.9"/><circle cx="990.4" cy="575.3" r="1.9"/><circle cx="992.0" cy="611.5" r="1.9"/><circle cx="989.8" cy="615.2" r="1.9"/><circle cx="964.1" cy="600.3" r="1.9"/><circle cx="978.1" cy="591.1" r="1.9"/><circle cx="960.0" cy="611.9" r="1.9"/><circle cx="998.0" cy="581.8" r="1.9"/><circle cx="1001.1" cy="603.1" r="1.9"/><circle cx="979.4" cy="607.1" r="1.9"/><circle cx="982.0" cy="586.4" r="1.9"/><circle cx="1008.8" cy="574.1" r="1.9"/><circle cx="991.9" cy="585.9" r="1.9"/><circle cx="992.7" cy="601.1" r="1.9"/><circle cx="999.5" cy="588.8" r="1.9"/><circle cx="967.0" cy="603.9" r="1.9"/><circle cx="997.2" cy="581.9" r="1.9"/><circle cx="971.3" cy="601.9" r="1.9"/><circle cx="977.6" cy="587.7" r="1.9"/><circle cx="987.0" cy="595.1" r="1.9"/><circle cx="985.7" cy="574.4" r="1.9"/><circle cx="985.7" cy="619.6" r="1.9"/><circle cx="983.6" cy="592.1" r="1.9"/><circle cx="981.4" cy="618.0" r="1.9"/><circle cx="991.2" cy="602.7" r="1.9"/><circle cx="967.5" cy="598.1" r="1.9"/><circle cx="1004.9" cy="580.1" r="1.9"/><circle cx="974.7" cy="582.1" r="1.9"/><circle cx="991.6" cy="598.9" r="1.9"/><circle cx="1000.5" cy="588.2" r="1.9"/><circle cx="991.9" cy="568.7" r="1.9"/><circle cx="1008.8" cy="580.6" r="1.9"/><circle cx="977.1" cy="607.1" r="1.9"/><circle cx="965.1" cy="595.7" r="1.9"/><circle cx="1002.3" cy="599.7" r="1.9"/><circle cx="976.9" cy="583.2" r="1.9"/><circle cx="959.8" cy="607.2" r="1.9"/><circle cx="974.1" cy="606.3" r="1.9"/><circle cx="991.1" cy="617.4" r="1.9"/><circle cx="986.9" cy="626.7" r="1.9"/><circle cx="974.5" cy="586.2" r="1.9"/></g>
<g fill="#c1c1c1"><circle cx="967.1" cy="159.5" r="1.8"/><circle cx="978.4" cy="167.8" r="1.8"/><circle cx="982.6" cy="189.4" r="1.8"/><circle cx="980.1" cy="195.6" r="1.8"/><circle cx="973.6" cy="225.3" r="1.8"/><circle cx="980.1" cy="237.4" r="1.8"/><circle cx="976.4" cy="241.2" r="1.8"/><circle cx="982.6" cy="280.5" r="1.8"/><circle cx="983.2" cy="328.5" r="1.8"/><circle cx="985.9" cy="334.7" r="1.8"/><circle cx="988.5" cy="346.4" r="1.8"/><circle cx="981.1" cy="332.5" r="1.8"/><circle cx="985.5" cy="339.1" r="1.8"/><circle cx="995.0" cy="356.2" r="1.8"/><circle cx="990.9" cy="370.6" r="1.8"/><circle cx="957.7" cy="347.6" r="1.8"/><circle cx="954.8" cy="383.0" r="1.8"/><circle cx="943.0" cy="368.0" r="1.8"/><circle cx="939.2" cy="362.6" r="1.8"/><circle cx="941.0" cy="366.8" r="1.8"/><circle cx="929.7" cy="347.1" r="1.8"/><circle cx="920.9" cy="357.4" r="1.8"/><circle cx="911.4" cy="362.0" r="1.8"/><circle cx="909.6" cy="371.3" r="1.8"/><circle cx="907.2" cy="381.3" r="1.8"/><circle cx="907.8" cy="381.8" r="1.8"/><circle cx="895.1" cy="376.8" r="1.8"/><circle cx="906.7" cy="384.3" r="1.8"/><circle cx="880.6" cy="349.7" r="1.8"/><circle cx="882.3" cy="350.9" r="1.8"/><circle cx="895.0" cy="326.8" r="1.8"/><circle cx="898.7" cy="323.1" r="1.8"/><circle cx="909.2" cy="311.6" r="1.8"/><circle cx="901.6" cy="321.3" r="1.8"/><circle cx="921.3" cy="295.9" r="1.8"/><circle cx="923.2" cy="283.1" r="1.8"/><circle cx="925.9" cy="286.7" r="1.8"/><circle cx="924.4" cy="283.9" r="1.8"/><circle cx="926.6" cy="279.6" r="1.8"/><circle cx="923.5" cy="254.0" r="1.8"/><circle cx="923.3" cy="253.5" r="1.8"/><circle cx="925.6" cy="266.8" r="1.8"/><circle cx="930.4" cy="247.1" r="1.8"/><circle cx="937.3" cy="208.1" r="1.8"/><circle cx="936.4" cy="218.6" r="1.8"/><circle cx="939.8" cy="206.4" r="1.8"/><circle cx="946.7" cy="179.2" r="1.8"/><circle cx="961.3" cy="163.2" r="1.8"/><circle cx="959.9" cy="154.9" r="1.8"/><circle cx="943.7" cy="185.6" r="1.8"/><circle cx="1020.9" cy="204.3" r="1.8"/><circle cx="1034.4" cy="225.8" r="1.8"/><circle cx="1029.7" cy="213.4" r="1.8"/><circle cx="1039.1" cy="230.2" r="1.8"/><circle cx="1040.4" cy="242.9" r="1.8"/><circle cx="1037.8" cy="252.4" r="1.8"/><circle cx="1029.4" cy="251.5" r="1.8"/><circle cx="1022.7" cy="258.1" r="1.8"/><circle cx="997.4" cy="216.6" r="1.8"/><circle cx="1078.9" cy="146.2" r="1.8"/><circle cx="1078.9" cy="153.1" r="1.8"/><circle cx="1078.3" cy="177.0" r="1.8"/><circle cx="1072.0" cy="192.8" r="1.8"/><circle cx="1071.0" cy="203.4" r="1.8"/><circle cx="1039.0" cy="201.6" r="1.8"/><circle cx="1034.6" cy="198.2" r="1.8"/><circle cx="1037.9" cy="201.4" r="1.8"/><circle cx="1016.5" cy="174.7" r="1.8"/><circle cx="1034.3" cy="155.9" r="1.8"/><circle cx="1079.1" cy="224.2" r="1.8"/><circle cx="1088.9" cy="257.9" r="1.8"/><circle cx="1082.7" cy="256.4" r="1.8"/><circle cx="1083.5" cy="263.8" r="1.8"/><circle cx="1069.7" cy="263.2" r="1.8"/><circle cx="1067.6" cy="249.9" r="1.8"/><circle cx="1070.4" cy="245.0" r="1.8"/><circle cx="1071.6" cy="218.4" r="1.8"/><circle cx="1031.4" cy="320.9" r="1.8"/><circle cx="1029.4" cy="322.6" r="1.8"/><circle cx="1026.8" cy="310.5" r="1.8"/><circle cx="1026.4" cy="299.8" r="1.8"/><circle cx="1028.5" cy="322.4" r="1.8"/><circle cx="1034.1" cy="347.8" r="1.8"/><circle cx="1032.4" cy="353.7" r="1.8"/><circle cx="1036.2" cy="342.9" r="1.8"/><circle cx="1021.4" cy="361.5" r="1.8"/><circle cx="1011.9" cy="340.1" r="1.8"/><circle cx="1016.1" cy="341.5" r="1.8"/><circle cx="1008.5" cy="299.3" r="1.8"/><circle cx="1010.2" cy="311.5" r="1.8"/><circle cx="1036.9" cy="302.6" r="1.8"/><circle cx="1039.2" cy="299.5" r="1.8"/><circle cx="1047.0" cy="324.9" r="1.8"/><circle cx="1051.9" cy="312.3" r="1.8"/><circle cx="1050.1" cy="320.5" r="1.8"/><circle cx="1039.1" cy="333.1" r="1.8"/><circle cx="1044.5" cy="334.3" r="1.8"/><circle cx="1032.1" cy="317.5" r="1.8"/><circle cx="1030.8" cy="334.9" r="1.8"/><circle cx="1029.2" cy="304.2" r="1.8"/><circle cx="977.1" cy="392.3" r="1.8"/><circle cx="993.6" cy="400.2" r="1.8"/><circle cx="983.6" cy="420.5" r="1.8"/><circle cx="974.8" cy="417.9" r="1.8"/><circle cx="975.9" cy="418.8" r="1.8"/><circle cx="962.6" cy="415.5" r="1.8"/><circle cx="964.9" cy="403.8" r="1.8"/><circle cx="1020.9" cy="357.7" r="1.8"/><circle cx="1021.9" cy="387.0" r="1.8"/><circle cx="1020.7" cy="368.9" r="1.8"/><circle cx="1015.7" cy="399.2" r="1.8"/><circle cx="1010.0" cy="418.8" r="1.8"/><circle cx="1010.6" cy="413.9" r="1.8"/><circle cx="1014.2" cy="399.3" r="1.8"/><circle cx="995.8" cy="413.2" r="1.8"/><circle cx="999.1" cy="401.7" r="1.8"/><circle cx="999.7" cy="408.2" r="1.8"/><circle cx="1000.8" cy="408.5" r="1.8"/><circle cx="993.8" cy="378.9" r="1.8"/><circle cx="996.7" cy="378.3" r="1.8"/><circle cx="989.9" cy="351.1" r="1.8"/><circle cx="1064.6" cy="317.4" r="1.8"/><circle cx="1062.5" cy="325.2" r="1.8"/><circle cx="1056.6" cy="322.9" r="1.8"/><circle cx="1056.0" cy="326.4" r="1.8"/><circle cx="1145.3" cy="328.3" r="1.8"/><circle cx="1129.7" cy="331.4" r="1.8"/><circle cx="1156.4" cy="330.8" r="1.8"/><circle cx="1182.2" cy="346.4" r="1.8"/><circle cx="1177.6" cy="337.4" r="1.8"/><circle cx="1201.9" cy="375.4" r="1.8"/><circle cx="1198.5" cy="406.6" r="1.8"/><circle cx="1180.5" cy="419.8" r="1.8"/><circle cx="1154.3" cy="401.1" r="1.8"/><circle cx="1154.0" cy="402.1" r="1.8"/><circle cx="1150.8" cy="398.4" r="1.8"/><circle cx="1125.9" cy="385.8" r="1.8"/><circle cx="1111.8" cy="374.5" r="1.8"/><circle cx="1106.9" cy="359.9" r="1.8"/><circle cx="950.0" cy="420.9" r="1.8"/><circle cx="983.0" cy="432.6" r="1.8"/><circle cx="972.2" cy="435.4" r="1.8"/><circle cx="984.4" cy="430.8" r="1.8"/><circle cx="998.8" cy="431.3" r="1.8"/><circle cx="998.3" cy="436.6" r="1.8"/><circle cx="995.6" cy="452.1" r="1.8"/><circle cx="1001.4" cy="448.3" r="1.8"/><circle cx="970.9" cy="464.5" r="1.8"/><circle cx="970.7" cy="440.1" r="1.8"/><circle cx="955.7" cy="448.2" r="1.8"/><circle cx="949.6" cy="488.0" r="1.8"/><circle cx="945.3" cy="479.7" r="1.8"/><circle cx="941.3" cy="479.6" r="1.8"/><circle cx="944.3" cy="468.9" r="1.8"/><circle cx="944.6" cy="472.8" r="1.8"/><circle cx="940.9" cy="471.2" r="1.8"/><circle cx="928.3" cy="486.5" r="1.8"/><circle cx="957.1" cy="506.9" r="1.8"/><circle cx="963.3" cy="518.4" r="1.8"/><circle cx="961.4" cy="530.8" r="1.8"/><circle cx="947.1" cy="533.0" r="1.8"/><circle cx="939.0" cy="543.6" r="1.8"/><circle cx="912.0" cy="531.8" r="1.8"/><circle cx="913.5" cy="530.5" r="1.8"/><circle cx="920.9" cy="536.3" r="1.8"/><circle cx="927.5" cy="497.0" r="1.8"/><circle cx="1004.1" cy="471.3" r="1.8"/><circle cx="1002.2" cy="475.6" r="1.8"/><circle cx="1002.1" cy="478.5" r="1.8"/><circle cx="1016.2" cy="492.1" r="1.8"/><circle cx="1017.6" cy="498.9" r="1.8"/><circle cx="1020.4" cy="501.5" r="1.8"/><circle cx="1018.3" cy="506.2" r="1.8"/><circle cx="992.6" cy="528.4" r="1.8"/><circle cx="982.1" cy="497.0" r="1.8"/><circle cx="986.4" cy="487.7" r="1.8"/><circle cx="989.4" cy="475.3" r="1.8"/><circle cx="984.3" cy="515.0" r="1.8"/><circle cx="988.5" cy="523.7" r="1.8"/><circle cx="987.4" cy="548.5" r="1.8"/><circle cx="988.0" cy="555.0" r="1.8"/><circle cx="976.2" cy="565.2" r="1.8"/><circle cx="978.8" cy="558.0" r="1.8"/><circle cx="978.1" cy="550.8" r="1.8"/><circle cx="971.3" cy="543.4" r="1.8"/><circle cx="973.3" cy="525.6" r="1.8"/><circle cx="1054.7" cy="496.9" r="1.8"/><circle cx="1047.6" cy="499.7" r="1.8"/><circle cx="1062.3" cy="508.4" r="1.8"/><circle cx="1060.8" cy="505.3" r="1.8"/><circle cx="1074.1" cy="533.3" r="1.8"/><circle cx="1076.6" cy="557.5" r="1.8"/><circle cx="1062.4" cy="557.7" r="1.8"/><circle cx="1043.4" cy="541.2" r="1.8"/><circle cx="1038.0" cy="533.7" r="1.8"/><circle cx="1041.9" cy="535.1" r="1.8"/><circle cx="1035.3" cy="514.7" r="1.8"/><circle cx="1132.5" cy="463.1" r="1.8"/><circle cx="1130.1" cy="469.1" r="1.8"/><circle cx="1124.5" cy="472.8" r="1.8"/><circle cx="1122.1" cy="473.5" r="1.8"/><circle cx="1123.0" cy="491.6" r="1.8"/><circle cx="1120.6" cy="521.5" r="1.8"/><circle cx="1121.4" cy="525.4" r="1.8"/><circle cx="1103.6" cy="537.0" r="1.8"/><circle cx="1108.9" cy="505.0" r="1.8"/><circle cx="1119.2" cy="491.7" r="1.8"/><circle cx="1117.9" cy="488.2" r="1.8"/><circle cx="1115.8" cy="473.2" r="1.8"/><circle cx="1123.3" cy="470.4" r="1.8"/><circle cx="1095.9" cy="498.2" r="1.8"/><circle cx="1100.2" cy="515.0" r="1.8"/><circle cx="1100.3" cy="515.5" r="1.8"/><circle cx="1097.6" cy="522.8" r="1.8"/><circle cx="1081.1" cy="506.2" r="1.8"/><circle cx="1085.1" cy="521.0" r="1.8"/><circle cx="1056.5" cy="454.2" r="1.8"/><circle cx="1063.6" cy="459.8" r="1.8"/><circle cx="1051.0" cy="471.7" r="1.8"/><circle cx="1039.1" cy="466.1" r="1.8"/><circle cx="1044.1" cy="462.0" r="1.8"/><circle cx="1042.5" cy="454.7" r="1.8"/><circle cx="1042.5" cy="446.4" r="1.8"/><circle cx="985.8" cy="627.9" r="1.8"/><circle cx="987.3" cy="652.0" r="1.8"/><circle cx="978.4" cy="661.1" r="1.8"/><circle cx="975.8" cy="666.1" r="1.8"/><circle cx="963.5" cy="658.3" r="1.8"/><circle cx="961.7" cy="657.3" r="1.8"/><circle cx="959.3" cy="652.6" r="1.8"/><circle cx="953.7" cy="625.6" r="1.8"/><circle cx="952.7" cy="638.9" r="1.8"/><circle cx="1025.2" cy="559.2" r="1.8"/><circle cx="1037.9" cy="560.5" r="1.8"/><circle cx="1029.9" cy="558.0" r="1.8"/><circle cx="1055.8" cy="593.6" r="1.8"/><circle cx="1056.8" cy="600.9" r="1.8"/><circle cx="1059.0" cy="593.6" r="1.8"/><circle cx="1061.4" cy="617.9" r="1.8"/><circle cx="1041.6" cy="621.0" r="1.8"/><circle cx="1037.7" cy="606.6" r="1.8"/><circle cx="1029.4" cy="599.3" r="1.8"/><circle cx="1014.5" cy="572.9" r="1.8"/><circle cx="1015.0" cy="579.4" r="1.8"/><circle cx="1048.3" cy="657.9" r="1.8"/><circle cx="1090.0" cy="648.6" r="1.8"/><circle cx="1088.4" cy="657.9" r="1.8"/><circle cx="1090.1" cy="657.1" r="1.8"/><circle cx="1072.7" cy="677.0" r="1.8"/><circle cx="1062.2" cy="688.2" r="1.8"/><circle cx="1053.1" cy="689.2" r="1.8"/><circle cx="1044.6" cy="678.4" r="1.8"/></g>
<line x1="870.0" y1="718.2" x2="1220.8" y2="718.2" stroke="#000" stroke-width="2.20" />
<line x1="901.1" y1="718.2" x2="901.1" y2="726.0" stroke="#000" stroke-width="2.00" />
<text x="901.1" y="753.0" font-size="23.00" text-anchor="middle" stroke="#000" stroke-width="0.4">−10</text>
<line x1="963.2" y1="718.2" x2="963.2" y2="726.0" stroke="#000" stroke-width="2.00" />
<text x="963.2" y="753.0" font-size="23.00" text-anchor="middle" stroke="#000" stroke-width="0.4">−5</text>
<line x1="1025.3" y1="718.2" x2="1025.3" y2="726.0" stroke="#000" stroke-width="2.00" />
<text x="1025.3" y="753.0" font-size="23.00" text-anchor="middle" stroke="#000" stroke-width="0.4">0</text>
<line x1="1087.4" y1="718.2" x2="1087.4" y2="726.0" stroke="#000" stroke-width="2.00" />
<text x="1087.4" y="753.0" font-size="23.00" text-anchor="middle" stroke="#000" stroke-width="0.4">5</text>
<line x1="1149.5" y1="718.2" x2="1149.5" y2="726.0" stroke="#000" stroke-width="2.00" />
<text x="1149.5" y="753.0" font-size="23.00" text-anchor="middle" stroke="#000" stroke-width="0.4">10</text>
<line x1="1211.6" y1="718.2" x2="1211.6" y2="726.0" stroke="#000" stroke-width="2.00" />
<text x="1211.6" y="753.0" font-size="23.00" text-anchor="middle" stroke="#000" stroke-width="0.4">15</text>
<g fill="#f8766d"><circle cx="315.4" cy="384.1" r="1.9"/><circle cx="308.3" cy="395.8" r="1.9"/><circle cx="317.3" cy="370.5" r="1.9"/><circle cx="318.8" cy="373.9" r="1.9"/><circle cx="299.0" cy="390.3" r="1.9"/><circle cx="303.5" cy="390.4" r="1.9"/><circle cx="315.8" cy="377.2" r="1.9"/><circle cx="305.0" cy="382.2" r="1.9"/><circle cx="328.3" cy="373.5" r="1.9"/><circle cx="311.3" cy="375.3" r="1.9"/><circle cx="344.1" cy="362.3" r="1.9"/><circle cx="312.8" cy="384.2" r="1.9"/><circle cx="308.0" cy="390.4" r="1.9"/><circle cx="331.5" cy="362.8" r="1.9"/><circle cx="299.3" cy="380.3" r="1.9"/><circle cx="309.0" cy="375.0" r="1.9"/><circle cx="320.6" cy="372.5" r="1.9"/><circle cx="307.5" cy="385.6" r="1.9"/><circle cx="319.5" cy="362.1" r="1.9"/><circle cx="322.2" cy="371.3" r="1.9"/><circle cx="312.7" cy="372.4" r="1.9"/><circle cx="333.2" cy="372.7" r="1.9"/><circle cx="302.4" cy="378.4" r="1.9"/><circle cx="327.6" cy="355.2" r="1.9"/><circle cx="321.8" cy="360.6" r="1.9"/><circle cx="318.1" cy="401.1" r="1.9"/><circle cx="314.4" cy="376.5" r="1.9"/><circle cx="313.8" cy="370.8" r="1.9"/><circle cx="296.5" cy="388.0" r="1.9"/><circle cx="312.0" cy="363.2" r="1.9"/><circle cx="327.3" cy="354.9" r="1.9"/><circle cx="328.0" cy="375.7" r="1.9"/><circle cx="310.3" cy="361.3" r="1.9"/><circle cx="335.7" cy="357.3" r="1.9"/><circle cx="315.3" cy="373.2" r="1.9"/><circle cx="322.7" cy="363.4" r="1.9"/><circle cx="332.2" cy="375.5" r="1.9"/><circle cx="309.1" cy="381.4" r="1.9"/><circle cx="312.6" cy="377.2" r="1.9"/><circle cx="314.9" cy="373.7" r="1.9"/><circle cx="306.8" cy="387.7" r="1.9"/><circle cx="327.9" cy="363.1" r="1.9"/><circle cx="304.2" cy="388.2" r="1.9"/><circle cx="335.6" cy="362.4" r="1.9"/><circle cx="296.0" cy="384.6" r="1.9"/><circle cx="332.9" cy="359.2" r="1.9"/><circle cx="331.3" cy="362.4" r="1.9"/><circle cx="311.0" cy="373.7" r="1.9"/><circle cx="322.1" cy="387.4" r="1.9"/><circle cx="296.0" cy="379.6" r="1.9"/><circle cx="306.2" cy="386.6" r="1.9"/><circle cx="320.5" cy="376.9" r="1.9"/><circle cx="320.3" cy="369.3" r="1.9"/><circle cx="314.8" cy="376.7" r="1.9"/><circle cx="300.6" cy="367.9" r="1.9"/><circle cx="318.7" cy="360.6" r="1.9"/><circle cx="311.9" cy="367.3" r="1.9"/><circle cx="296.1" cy="386.5" r="1.9"/><circle cx="333.4" cy="358.5" r="1.9"/><circle cx="317.2" cy="351.7" r="1.9"/><circle cx="311.4" cy="375.7" r="1.9"/><circle cx="323.4" cy="368.8" r="1.9"/><circle cx="305.0" cy="393.7" r="1.9"/><circle cx="306.7" cy="388.1" r="1.9"/><circle cx="311.6" cy="379.6" r="1.9"/><circle cx="304.9" cy="387.3" r="1.9"/><circle cx="302.3" cy="388.6" r="1.9"/><circle cx="331.4" cy="358.5" r="1.9"/><circle cx="323.6" cy="370.4" r="1.9"/><circle cx="315.0" cy="382.0" r="1.9"/><circle cx="319.8" cy="384.9" r="1.9"/><circle cx="341.8" cy="359.1" r="1.9"/><circle cx="313.8" cy="372.5" r="1.9"/><circle cx="303.3" cy="389.4" r="1.9"/><circle cx="310.7" cy="378.6" r="1.9"/><circle cx="315.1" cy="395.4" r="1.9"/><circle cx="306.5" cy="397.8" r="1.9"/><circle cx="302.7" cy="385.7" r="1.9"/><circle cx="325.1" cy="376.8" r="1.9"/><circle cx="335.2" cy="354.4" r="1.9"/><circle cx="328.7" cy="357.0" r="1.9"/><circle cx="308.6" cy="375.1" r="1.9"/><circle cx="306.3" cy="387.4" r="1.9"/><circle cx="320.6" cy="356.0" r="1.9"/><circle cx="312.8" cy="381.4" r="1.9"/><circle cx="343.9" cy="361.5" r="1.9"/><circle cx="333.1" cy="361.5" r="1.9"/><circle cx="316.5" cy="355.3" r="1.9"/><circle cx="302.6" cy="379.9" r="1.9"/><circle cx="300.0" cy="391.7" r="1.9"/><circle cx="299.7" cy="391.6" r="1.9"/><circle cx="328.0" cy="368.6" r="1.9"/><circle cx="321.6" cy="344.2" r="1.9"/><circle cx="338.5" cy="356.6" r="1.9"/><circle cx="330.8" cy="352.3" r="1.9"/><circle cx="310.3" cy="386.6" r="1.9"/><circle cx="308.6" cy="387.2" r="1.9"/><circle cx="338.5" cy="362.8" r="1.9"/><circle cx="321.6" cy="352.5" r="1.9"/><circle cx="328.8" cy="361.6" r="1.9"/><circle cx="296.3" cy="384.6" r="1.9"/><circle cx="317.4" cy="353.0" r="1.9"/><circle cx="322.8" cy="360.0" r="1.9"/><circle cx="327.9" cy="361.6" r="1.9"/><circle cx="315.7" cy="383.7" r="1.9"/><circle cx="300.1" cy="365.6" r="1.9"/><circle cx="321.7" cy="384.0" r="1.9"/><circle cx="302.7" cy="384.0" r="1.9"/><circle cx="310.7" cy="394.0" r="1.9"/><circle cx="337.4" cy="368.6" r="1.9"/><circle cx="311.5" cy="393.4" r="1.9"/><circle cx="309.6" cy="355.2" r="1.9"/><circle cx="309.2" cy="376.8" r="1.9"/><circle cx="299.2" cy="392.1" r="1.9"/><circle cx="330.1" cy="350.5" r="1.9"/><circle cx="327.3" cy="350.8" r="1.9"/><circle cx="321.7" cy="381.6" r="1.9"/><circle cx="299.8" cy="378.6" r="1.9"/><circle cx="307.4" cy="382.2" r="1.9"/><circle cx="324.0" cy="372.8" r="1.9"/><circle cx="306.2" cy="380.7" r="1.9"/><circle cx="333.1" cy="357.5" r="1.9"/><circle cx="305.3" cy="373.1" r="1.9"/><circle cx="333.3" cy="358.1" r="1.9"/><circle cx="319.8" cy="380.9" r="1.9"/><circle cx="315.2" cy="369.0" r="1.9"/><circle cx="323.7" cy="377.0" r="1.9"/><circle cx="306.6" cy="386.5" r="1.9"/><circle cx="300.6" cy="394.1" r="1.9"/><circle cx="313.2" cy="371.4" r="1.9"/><circle cx="320.8" cy="360.0" r="1.9"/><circle cx="316.2" cy="370.8" r="1.9"/><circle cx="319.7" cy="371.2" r="1.9"/><circle cx="316.9" cy="368.4" r="1.9"/><circle cx="306.8" cy="381.9" r="1.9"/><circle cx="326.4" cy="380.5" r="1.9"/><circle cx="320.1" cy="371.1" r="1.9"/><circle cx="303.5" cy="365.2" r="1.9"/><circle cx="314.9" cy="362.9" r="1.9"/><circle cx="323.8" cy="365.0" r="1.9"/><circle cx="309.6" cy="369.8" r="1.9"/><circle cx="331.6" cy="353.9" r="1.9"/><circle cx="333.3" cy="372.7" r="1.9"/><circle cx="299.9" cy="375.1" r="1.9"/><circle cx="328.8" cy="378.8" r="1.9"/><circle cx="300.8" cy="384.7" r="1.9"/><circle cx="301.9" cy="386.8" r="1.9"/><circle cx="308.7" cy="384.2" r="1.9"/><circle cx="297.6" cy="386.5" r="1.9"/><circle cx="323.2" cy="349.8" r="1.9"/><circle cx="303.3" cy="385.7" r="1.9"/><circle cx="297.0" cy="381.0" r="1.9"/><circle cx="334.4" cy="360.6" r="1.9"/><circle cx="332.5" cy="353.9" r="1.9"/><circle cx="297.6" cy="363.3" r="1.9"/><circle cx="330.3" cy="360.6" r="1.9"/><circle cx="299.4" cy="381.8" r="1.9"/><circle cx="314.2" cy="381.9" r="1.9"/><circle cx="302.9" cy="382.3" r="1.9"/><circle cx="307.9" cy="399.3" r="1.9"/><circle cx="318.2" cy="370.0" r="1.9"/><circle cx="311.6" cy="380.2" r="1.9"/><circle cx="319.7" cy="366.3" r="1.9"/><circle cx="334.2" cy="353.1" r="1.9"/><circle cx="329.9" cy="363.4" r="1.9"/><circle cx="308.5" cy="382.2" r="1.9"/><circle cx="301.7" cy="392.4" r="1.9"/><circle cx="300.0" cy="384.5" r="1.9"/><circle cx="322.7" cy="383.4" r="1.9"/><circle cx="303.5" cy="378.4" r="1.9"/><circle cx="310.8" cy="392.5" r="1.9"/><circle cx="321.0" cy="361.9" r="1.9"/><circle cx="310.2" cy="396.3" r="1.9"/><circle cx="317.4" cy="378.5" r="1.9"/><circle cx="309.0" cy="396.5" r="1.9"/><circle cx="325.0" cy="358.2" r="1.9"/><circle cx="303.7" cy="391.0" r="1.9"/><circle cx="328.5" cy="356.9" r="1.9"/><circle cx="312.0" cy="371.8" r="1.9"/><circle cx="338.0" cy="360.5" r="1.9"/><circle cx="313.4" cy="386.3" r="1.9"/><circle cx="312.6" cy="387.7" r="1.9"/><circle cx="304.3" cy="389.7" r="1.9"/><circle cx="308.1" cy="386.4" r="1.9"/><circle cx="307.5" cy="378.0" r="1.9"/><circle cx="318.2" cy="388.9" r="1.9"/><circle cx="319.3" cy="374.9" r="1.9"/><circle cx="304.5" cy="396.5" r="1.9"/><circle cx="316.9" cy="390.6" r="1.9"/><circle cx="319.8" cy="371.6" r="1.9"/><circle cx="294.0" cy="375.1" r="1.9"/><circle cx="305.2" cy="390.7" r="1.9"/><circle cx="322.9" cy="355.1" r="1.9"/><circle cx="331.6" cy="361.6" r="1.9"/><circle cx="305.4" cy="370.4" r="1.9"/><circle cx="333.9" cy="353.0" r="1.9"/><circle cx="315.7" cy="383.0" r="1.9"/><circle cx="314.8" cy="361.2" r="1.9"/><circle cx="312.8" cy="376.0" r="1.9"/><circle cx="305.5" cy="389.3" r="1.9"/><circle cx="301.8" cy="390.3" r="1.9"/><circle cx="301.2" cy="383.2" r="1.9"/><circle cx="308.3" cy="395.0" r="1.9"/><circle cx="314.3" cy="358.3" r="1.9"/><circle cx="309.7" cy="382.1" r="1.9"/><circle cx="320.2" cy="378.5" r="1.9"/><circle cx="301.2" cy="383.6" r="1.9"/><circle cx="334.9" cy="355.4" r="1.9"/><circle cx="330.1" cy="350.4" r="1.9"/><circle cx="332.5" cy="353.0" r="1.9"/><circle cx="310.3" cy="380.6" r="1.9"/><circle cx="313.2" cy="378.0" r="1.9"/><circle cx="312.8" cy="371.0" r="1.9"/><circle cx="317.3" cy="372.8" r="1.9"/><circle cx="299.5" cy="393.0" r="1.9"/><circle cx="315.9" cy="379.1" r="1.9"/><circle cx="305.4" cy="395.6" r="1.9"/><circle cx="308.4" cy="384.4" r="1.9"/><circle cx="311.6" cy="362.0" r="1.9"/><circle cx="321.2" cy="365.2" r="1.9"/><circle cx="328.7" cy="367.5" r="1.9"/><circle cx="307.4" cy="376.9" r="1.9"/><circle cx="339.4" cy="357.6" r="1.9"/><circle cx="329.1" cy="373.1" r="1.9"/><circle cx="306.7" cy="396.5" r="1.9"/><circle cx="312.1" cy="359.5" r="1.9"/><circle cx="326.6" cy="364.4" r="1.9"/><circle cx="315.4" cy="369.7" r="1.9"/><circle cx="322.2" cy="377.0" r="1.9"/><circle cx="320.5" cy="352.6" r="1.9"/><circle cx="275.5" cy="384.7" r="1.9"/><circle cx="278.0" cy="388.0" r="1.9"/><circle cx="260.2" cy="372.9" r="1.9"/><circle cx="282.2" cy="387.7" r="1.9"/><circle cx="274.5" cy="385.2" r="1.9"/><circle cx="259.0" cy="363.8" r="1.9"/><circle cx="268.7" cy="384.1" r="1.9"/><circle cx="259.2" cy="368.2" r="1.9"/><circle cx="259.3" cy="372.1" r="1.9"/><circle cx="262.0" cy="371.3" r="1.9"/><circle cx="269.2" cy="385.5" r="1.9"/><circle cx="277.8" cy="385.5" r="1.9"/><circle cx="276.7" cy="387.4" r="1.9"/><circle cx="263.4" cy="376.0" r="1.9"/><circle cx="273.6" cy="385.9" r="1.9"/><circle cx="262.7" cy="375.8" r="1.9"/><circle cx="276.8" cy="389.2" r="1.9"/><circle cx="268.8" cy="383.8" r="1.9"/><circle cx="288.2" cy="392.4" r="1.9"/><circle cx="290.6" cy="388.6" r="1.9"/><circle cx="285.0" cy="388.1" r="1.9"/><circle cx="264.7" cy="381.3" r="1.9"/><circle cx="261.6" cy="375.2" r="1.9"/><circle cx="272.3" cy="384.8" r="1.9"/><circle cx="280.3" cy="388.3" r="1.9"/><circle cx="278.7" cy="390.9" r="1.9"/><circle cx="270.4" cy="384.2" r="1.9"/><circle cx="269.2" cy="384.7" r="1.9"/><circle cx="260.1" cy="373.8" r="1.9"/><circle cx="286.9" cy="388.5" r="1.9"/></g>
<g fill="#e8434a"><circle cx="1118.0" cy="367.8" r="2.0"/><circle cx="1114.5" cy="369.9" r="2.0"/><circle cx="1115.0" cy="360.5" r="2.0"/><circle cx="1104.8" cy="374.1" r="2.0"/><circle cx="1116.1" cy="356.8" r="2.0"/><circle cx="1102.3" cy="368.8" r="2.0"/><circle cx="1100.6" cy="374.8" r="2.0"/><circle cx="1114.2" cy="363.0" r="2.0"/><circle cx="1101.5" cy="375.4" r="2.0"/><circle cx="1098.6" cy="372.6" r="2.0"/><circle cx="1106.4" cy="369.9" r="2.0"/><circle cx="1119.1" cy="363.1" r="2.0"/><circle cx="1116.4" cy="363.3" r="2.0"/><circle cx="1112.7" cy="356.8" r="2.0"/><circle cx="1112.9" cy="355.6" r="2.0"/><circle cx="1092.6" cy="376.2" r="2.0"/><circle cx="1107.4" cy="359.4" r="2.0"/><circle cx="1110.2" cy="367.8" r="2.0"/><circle cx="1105.1" cy="380.1" r="2.0"/><circle cx="1097.5" cy="378.4" r="2.0"/><circle cx="1103.5" cy="368.0" r="2.0"/><circle cx="1113.1" cy="366.6" r="2.0"/><circle cx="1084.2" cy="388.5" r="2.0"/><circle cx="1057.9" cy="386.0" r="2.0"/><circle cx="1055.3" cy="385.8" r="2.0"/><circle cx="1080.5" cy="387.0" r="2.0"/><circle cx="1083.2" cy="386.9" r="2.0"/><circle cx="1054.1" cy="385.1" r="2.0"/><circle cx="1061.6" cy="387.6" r="2.0"/><circle cx="1055.0" cy="384.8" r="2.0"/><circle cx="1074.2" cy="388.8" r="2.0"/><circle cx="1066.2" cy="389.0" r="2.0"/><circle cx="1050.6" cy="387.1" r="2.0"/><circle cx="1051.3" cy="384.2" r="2.0"/><circle cx="1080.1" cy="388.5" r="2.0"/><circle cx="1056.2" cy="386.9" r="2.0"/></g>
<line x1="89.0" y1="100.0" x2="89.0" y2="719.3" stroke="#000" stroke-width="2.20" />
<line x1="79.5" y1="158.0" x2="89.0" y2="158.0" stroke="#000" stroke-width="2.00" />
<text x="73.0" y="165.8" font-size="23.00" text-anchor="end" stroke="#000" stroke-width="0.4">10</text>
<line x1="79.5" y1="268.1" x2="89.0" y2="268.1" stroke="#000" stroke-width="2.00" />
<text x="73.0" y="275.9" font-size="23.00" text-anchor="end" stroke="#000" stroke-width="0.4">5</text>
<line x1="79.5" y1="378.2" x2="89.0" y2="378.2" stroke="#000" stroke-width="2.00" />
<text x="73.0" y="386.0" font-size="23.00" text-anchor="end" stroke="#000" stroke-width="0.4">0</text>
<line x1="79.5" y1="488.3" x2="89.0" y2="488.3" stroke="#000" stroke-width="2.00" />
<text x="73.0" y="496.1" font-size="23.00" text-anchor="end" stroke="#000" stroke-width="0.4">−5</text>
<line x1="79.5" y1="598.4" x2="89.0" y2="598.4" stroke="#000" stroke-width="2.00" />
<text x="73.0" y="606.2" font-size="23.00" text-anchor="end" stroke="#000" stroke-width="0.4">−10</text>
<line x1="79.5" y1="708.5" x2="89.0" y2="708.5" stroke="#000" stroke-width="2.00" />
<text x="73.0" y="716.3" font-size="23.00" text-anchor="end" stroke="#000" stroke-width="0.4">−15</text>
<text x="24.9" y="372.6" font-size="27.59" text-anchor="middle" stroke="#000" stroke-width="0.4" transform="rotate(-90 24.9 372.6)">UMAP_2</text>
<text x="605.9" y="795.5" font-size="27.42" stroke="#000" stroke-width="0.4">UMAP_1</text>
<circle cx="766.7" cy="602.5" r="9.00" fill="#c1c1c1" />
<circle cx="766.7" cy="643.4" r="9.00" fill="#f8766d" />
<text x="789.7" y="612.7" font-size="24.50" stroke="#000" stroke-width="0.4">Other</text>
<text x="789.7" y="652.8" font-size="24.50" stroke="#000" stroke-width="0.4">Cluster 15</text>
<text x="210.7" y="877.5" font-size="26.32" stroke="#000" stroke-width="0.4">Cluster 1</text>
<text x="203.0" y="1202.4" font-size="26.90" stroke="#000" stroke-width="0.4">Cluster 15</text>
<rect x="134.0" y="900.2" width="257.8" height="261.8" fill="none" stroke="#222" stroke-width="2.00" />
<rect x="134.6" y="1218.3" width="258.8" height="268.1" fill="none" stroke="#222" stroke-width="2.00" />
<line x1="126.5" y1="962.8" x2="134.0" y2="962.8" stroke="#333" stroke-width="1.60" />
<text x="121.5" y="970.1" font-size="20.50" text-anchor="end" fill="#3d3d3d" stroke="#3d3d3d" stroke-width="0.4" textLength="47.5" lengthAdjust="spacingAndGlyphs">0.10</text>
<line x1="126.5" y1="1063.0" x2="134.0" y2="1063.0" stroke="#333" stroke-width="1.60" />
<text x="121.5" y="1070.3" font-size="20.50" text-anchor="end" fill="#3d3d3d" stroke="#3d3d3d" stroke-width="0.4" textLength="47.5" lengthAdjust="spacingAndGlyphs">0.03</text>
<line x1="126.5" y1="1154.3" x2="134.0" y2="1154.3" stroke="#333" stroke-width="1.60" />
<text x="121.5" y="1161.6" font-size="20.50" text-anchor="end" fill="#3d3d3d" stroke="#3d3d3d" stroke-width="0.4" textLength="47.5" lengthAdjust="spacingAndGlyphs">0.01</text>
<line x1="126.5" y1="1242.6" x2="134.0" y2="1242.6" stroke="#333" stroke-width="1.60" />
<text x="121.5" y="1249.9" font-size="20.50" text-anchor="end" fill="#3d3d3d" stroke="#3d3d3d" stroke-width="0.4" textLength="46.0" lengthAdjust="spacingAndGlyphs">0.10</text>
<line x1="126.5" y1="1338.4" x2="134.0" y2="1338.4" stroke="#333" stroke-width="1.60" />
<text x="121.5" y="1345.7" font-size="20.50" text-anchor="end" fill="#3d3d3d" stroke="#3d3d3d" stroke-width="0.4" textLength="59.5" lengthAdjust="spacingAndGlyphs">0.001</text>
<line x1="126.5" y1="1433.6" x2="134.0" y2="1433.6" stroke="#333" stroke-width="1.60" />
<text x="121.5" y="1440.9" font-size="20.50" text-anchor="end" fill="#3d3d3d" stroke="#3d3d3d" stroke-width="0.4" textLength="86.0" lengthAdjust="spacingAndGlyphs">0.00001</text>
<rect x="152.4" y="913.6" width="61.0" height="21.4" fill="none" stroke="#27a5df" stroke-width="1.60" />
<line x1="152.4" y1="915.3" x2="213.4" y2="915.3" stroke="#27a5df" stroke-width="4.00" />
<line x1="182.9" y1="935.0" x2="182.9" y2="954.0" stroke="#27a5df" stroke-width="1.60" />
<rect x="232.6" y="944.5" width="61.0" height="201.1" fill="none" stroke="#e2272e" stroke-width="1.60" />
<line x1="232.6" y1="1044.3" x2="293.6" y2="1044.3" stroke="#e2272e" stroke-width="4.00" />
<line x1="263.1" y1="1145.6" x2="263.1" y2="1151.0" stroke="#e2272e" stroke-width="1.60" />
<rect x="312.7" y="937.0" width="61.3" height="19.8" fill="none" stroke="#3aab3a" stroke-width="1.60" />
<line x1="312.7" y1="944.0" x2="374.0" y2="944.0" stroke="#3aab3a" stroke-width="4.00" />
<line x1="343.4" y1="956.8" x2="343.4" y2="977.3" stroke="#3aab3a" stroke-width="1.60" />
<circle cx="175.0" cy="911.7" r="2.80" fill="#000" />
<circle cx="190.7" cy="916.6" r="2.80" fill="#000" />
<circle cx="179.2" cy="954.0" r="2.80" fill="#000" />
<circle cx="249.0" cy="943.7" r="2.80" fill="#000" />
<circle cx="279.0" cy="944.5" r="2.80" fill="#000" />
<circle cx="249.8" cy="1150.5" r="2.80" fill="#000" />
<circle cx="273.6" cy="1144.5" r="2.80" fill="#000" />
<circle cx="336.0" cy="938.5" r="2.80" fill="#000" />
<circle cx="348.8" cy="933.5" r="2.80" fill="#000" />
<circle cx="353.5" cy="949.4" r="2.80" fill="#000" />
<circle cx="334.6" cy="977.9" r="2.80" fill="#000" />
<rect x="152.7" y="1305.8" width="61.3" height="21.1" fill="none" stroke="#27a5df" stroke-width="1.60" />
<line x1="152.7" y1="1313.8" x2="214.0" y2="1313.8" stroke="#27a5df" stroke-width="4.00" />
<line x1="183.3" y1="1298.2" x2="183.3" y2="1305.8" stroke="#27a5df" stroke-width="1.60" />
<line x1="183.3" y1="1326.9" x2="183.3" y2="1340.6" stroke="#27a5df" stroke-width="1.60" />
<rect x="233.4" y="1281.8" width="61.3" height="190.1" fill="none" stroke="#e2272e" stroke-width="1.60" />
<line x1="233.4" y1="1385.2" x2="294.7" y2="1385.2" stroke="#e2272e" stroke-width="4.00" />
<line x1="264.1" y1="1230.6" x2="264.1" y2="1281.8" stroke="#e2272e" stroke-width="1.60" />
<rect x="314.0" y="1363.3" width="61.4" height="107.7" fill="none" stroke="#3aab3a" stroke-width="1.60" />
<line x1="314.0" y1="1423.5" x2="375.4" y2="1423.5" stroke="#3aab3a" stroke-width="4.00" />
<line x1="344.7" y1="1322.0" x2="344.7" y2="1363.3" stroke="#3aab3a" stroke-width="1.60" />
<circle cx="198.4" cy="1298.7" r="2.80" fill="#000" />
<circle cx="188.8" cy="1314.0" r="2.80" fill="#000" />
<circle cx="171.8" cy="1340.6" r="2.80" fill="#000" />
<circle cx="278.2" cy="1231.1" r="2.80" fill="#000" />
<circle cx="271.4" cy="1298.7" r="2.80" fill="#000" />
<circle cx="253.6" cy="1471.9" r="2.80" fill="#000" />
<circle cx="275.5" cy="1472.4" r="2.80" fill="#000" />
<circle cx="359.0" cy="1321.4" r="2.80" fill="#000" />
<circle cx="328.9" cy="1377.5" r="2.80" fill="#000" />
<circle cx="359.0" cy="1469.2" r="2.80" fill="#000" />
<circle cx="331.9" cy="1474.6" r="2.80" fill="#000" />
<text x="344.7" y="1026.6" font-size="14.20" text-anchor="middle" fill="#1e9a50" stroke="#1e9a50" stroke-width="0.4">Log Odds</text>
<text x="344.7" y="1045.2" font-size="14.20" text-anchor="middle" fill="#1e9a50" stroke="#1e9a50" stroke-width="0.4">Ratio vs.</text>
<text x="344.7" y="1063.8" font-size="14.20" text-anchor="middle" fill="#1e9a50" stroke="#1e9a50" stroke-width="0.4">PS19–fE4</text>
<text x="344.7" y="1082.4" font-size="14.20" text-anchor="middle" fill="#1e9a50" stroke="#1e9a50" stroke-width="0.4">1.20 ± 0.33</text>
<text x="344.7" y="1101.0" font-size="14.20" text-anchor="middle" fill="#1e9a50" stroke="#1e9a50" stroke-width="0.4">p=0.0003</text>
<text x="344.7" y="1233.9" font-size="14.20" text-anchor="middle" fill="#1e9a50" stroke="#1e9a50" stroke-width="0.4">Log Odds</text>
<text x="344.7" y="1252.7" font-size="14.20" text-anchor="middle" fill="#1e9a50" stroke="#1e9a50" stroke-width="0.4">Ratio vs.</text>
<text x="344.7" y="1271.5" font-size="14.20" text-anchor="middle" fill="#1e9a50" stroke="#1e9a50" stroke-width="0.4">PS19–fE4</text>
<text x="344.7" y="1290.3" font-size="14.20" text-anchor="middle" fill="#1e9a50" stroke="#1e9a50" stroke-width="0.4">-2.79 ± 0.98</text>
<text x="344.7" y="1309.1" font-size="14.20" text-anchor="middle" fill="#1e9a50" stroke="#1e9a50" stroke-width="0.4">p=0.0044</text>
<text x="176.0" y="1514.3" font-size="17.61" text-anchor="middle" fill="#222" stroke="#222" stroke-width="0.4">PS19–fE3</text>
<text x="265.0" y="1514.3" font-size="17.43" text-anchor="middle" fill="#222" stroke="#222" stroke-width="0.4">PS19–fE4</text>
<text x="353.0" y="1514.3" font-size="17.61" text-anchor="middle" fill="#222" stroke="#222" stroke-width="0.4">PS19–fE4</text>
<text x="353.0" y="1536.2" font-size="17.50" text-anchor="middle" fill="#222" stroke="#222" stroke-width="0.4">Syn1–Cre</text>
<text x="28.3" y="1177.6" font-size="27.91" text-anchor="middle" stroke="#000" stroke-width="0.4" transform="rotate(-90 28.3 1177.6)">Proportion of Cells per Sample</text>
<text x="488.4" y="877.7" font-size="28.00" stroke="#000" stroke-width="0.4" textLength="640.5" lengthAdjust="spacingAndGlyphs">DE Pathways (Cluster 15 vs Other Oligodendrocytes)</text>
<g stroke="#ebebeb">
<line x1="448.6" y1="900.5" x2="448.6" y2="1477.0" stroke-width="1"/>
<line x1="524.0" y1="900.5" x2="524.0" y2="1477.0" stroke-width="1"/>
<line x1="599.2" y1="900.5" x2="599.2" y2="1477.0" stroke-width="1"/>
<line x1="674.5" y1="900.5" x2="674.5" y2="1477.0" stroke-width="1"/>
<line x1="486.3" y1="900.5" x2="486.3" y2="1477.0" stroke-width="2"/>
<line x1="561.6" y1="900.5" x2="561.6" y2="1477.0" stroke-width="2"/>
<line x1="636.9" y1="900.5" x2="636.9" y2="1477.0" stroke-width="2"/>
<line x1="435.6" y1="917.0" x2="700.8" y2="917.0" stroke-width="2"/>
<line x1="435.6" y1="945.6" x2="700.8" y2="945.6" stroke-width="2"/>
<line x1="435.6" y1="974.2" x2="700.8" y2="974.2" stroke-width="2"/>
<line x1="435.6" y1="1002.8" x2="700.8" y2="1002.8" stroke-width="2"/>
<line x1="435.6" y1="1031.4" x2="700.8" y2="1031.4" stroke-width="2"/>
<line x1="435.6" y1="1060.0" x2="700.8" y2="1060.0" stroke-width="2"/>
<line x1="435.6" y1="1088.5" x2="700.8" y2="1088.5" stroke-width="2"/>
<line x1="435.6" y1="1117.1" x2="700.8" y2="1117.1" stroke-width="2"/>
<line x1="435.6" y1="1145.7" x2="700.8" y2="1145.7" stroke-width="2"/>
<line x1="435.6" y1="1174.3" x2="700.8" y2="1174.3" stroke-width="2"/>
<line x1="435.6" y1="1202.9" x2="700.8" y2="1202.9" stroke-width="2"/>
<line x1="435.6" y1="1231.5" x2="700.8" y2="1231.5" stroke-width="2"/>
<line x1="435.6" y1="1260.1" x2="700.8" y2="1260.1" stroke-width="2"/>
<line x1="435.6" y1="1288.7" x2="700.8" y2="1288.7" stroke-width="2"/>
<line x1="435.6" y1="1317.3" x2="700.8" y2="1317.3" stroke-width="2"/>
<line x1="435.6" y1="1345.8" x2="700.8" y2="1345.8" stroke-width="2"/>
<line x1="435.6" y1="1374.4" x2="700.8" y2="1374.4" stroke-width="2"/>
<line x1="435.6" y1="1403.0" x2="700.8" y2="1403.0" stroke-width="2"/>
<line x1="435.6" y1="1431.6" x2="700.8" y2="1431.6" stroke-width="2"/>
<line x1="435.6" y1="1460.2" x2="700.8" y2="1460.2" stroke-width="2"/>
</g>
<circle cx="688.7" cy="917.0" r="10.70" fill="#f8000e" />
<circle cx="642.5" cy="945.6" r="10.40" fill="#f8000e" />
<circle cx="642.5" cy="974.2" r="10.40" fill="#f8000e" />
<circle cx="640.5" cy="1002.8" r="10.40" fill="#f8000e" />
<circle cx="638.2" cy="1031.4" r="10.30" fill="#f8000e" />
<circle cx="627.2" cy="1060.0" r="10.00" fill="#f8000e" />
<circle cx="592.3" cy="1088.5" r="9.60" fill="#f8000e" />
<circle cx="585.8" cy="1117.1" r="9.60" fill="#f8000e" />
<circle cx="585.8" cy="1145.7" r="9.60" fill="#f8000e" />
<circle cx="581.2" cy="1174.3" r="9.40" fill="#f8000e" />
<circle cx="574.7" cy="1202.9" r="9.40" fill="#f8000e" />
<circle cx="572.4" cy="1231.5" r="9.40" fill="#f8000e" />
<circle cx="533.4" cy="1260.1" r="8.80" fill="#f8000e" />
<circle cx="513.8" cy="1288.7" r="8.30" fill="#f8000e" />
<circle cx="487.4" cy="1317.3" r="7.50" fill="#f8000e" />
<circle cx="472.1" cy="1345.8" r="7.20" fill="#3f55a8" />
<circle cx="469.8" cy="1374.4" r="7.00" fill="#f8000e" />
<circle cx="467.6" cy="1403.0" r="7.00" fill="#f8000e" />
<circle cx="451.9" cy="1431.6" r="6.20" fill="#cc1e9c" />
<circle cx="448.0" cy="1460.2" r="5.30" fill="#f8000e" />
<text x="619.7" y="1174.0" font-size="17.31" stroke="#000" stroke-width="0.4">Count</text>
<circle cx="633.4" cy="1193.6" r="7.00" fill="#000" />
<text x="651.9" y="1198.6" font-size="14.00" stroke="#000" stroke-width="0.4">25</text>
<circle cx="633.4" cy="1214.7" r="8.60" fill="#000" />
<text x="651.9" y="1219.7" font-size="14.00" stroke="#000" stroke-width="0.4">50</text>
<circle cx="633.4" cy="1236.5" r="9.80" fill="#000" />
<text x="651.9" y="1241.5" font-size="14.00" stroke="#000" stroke-width="0.4">75</text>
<circle cx="633.4" cy="1261.0" r="10.90" fill="#000" />
<text x="651.9" y="1266.0" font-size="14.00" stroke="#000" stroke-width="0.4">100</text>
<circle cx="633.4" cy="1287.7" r="11.70" fill="#000" />
<text x="651.9" y="1292.7" font-size="14.00" stroke="#000" stroke-width="0.4">125</text>
<text x="620.2" y="1334.0" font-size="17.02" stroke="#000" stroke-width="0.4">p.adjust</text>
<defs><linearGradient id="padj" x1="0" y1="0" x2="0" y2="1"><stop offset="0" stop-color="#3f52a9"/><stop offset="0.3" stop-color="#8a3aa6"/><stop offset="0.55" stop-color="#cc0096"/><stop offset="0.8" stop-color="#f5005c"/><stop offset="1" stop-color="#ff0012"/></linearGradient></defs>
<rect x="620.2" y="1346.4" width="20.5" height="104.2" fill="url(#padj)" stroke="none" stroke-width="1.00" />
<line x1="620.2" y1="1379.8" x2="624.2" y2="1379.8" stroke="#fff" stroke-width="1.50" />
<line x1="636.7" y1="1379.8" x2="640.7" y2="1379.8" stroke="#fff" stroke-width="1.50" />
<line x1="620.2" y1="1416.1" x2="624.2" y2="1416.1" stroke="#fff" stroke-width="1.50" />
<line x1="636.7" y1="1416.1" x2="640.7" y2="1416.1" stroke="#fff" stroke-width="1.50" />
<text x="647.9" y="1385.0" font-size="13.67" stroke="#000" stroke-width="0.4">2e−04</text>
<text x="647.9" y="1421.3" font-size="13.67" stroke="#000" stroke-width="0.4">1e−04</text>
<rect x="435.6" y="900.5" width="265.2" height="576.5" fill="none" stroke="#333" stroke-width="1.80" />
<line x1="700.8" y1="917.0" x2="706.5" y2="917.0" stroke="#333" stroke-width="1.50" />
<line x1="700.8" y1="945.6" x2="706.5" y2="945.6" stroke="#333" stroke-width="1.50" />
<line x1="700.8" y1="974.2" x2="706.5" y2="974.2" stroke="#333" stroke-width="1.50" />
<line x1="700.8" y1="1002.8" x2="706.5" y2="1002.8" stroke="#333" stroke-width="1.50" />
<line x1="700.8" y1="1031.4" x2="706.5" y2="1031.4" stroke="#333" stroke-width="1.50" />
<line x1="700.8" y1="1060.0" x2="706.5" y2="1060.0" stroke="#333" stroke-width="1.50" />
<line x1="700.8" y1="1088.5" x2="706.5" y2="1088.5" stroke="#333" stroke-width="1.50" />
<line x1="700.8" y1="1117.1" x2="706.5" y2="1117.1" stroke="#333" stroke-width="1.50" />
<line x1="700.8" y1="1145.7" x2="706.5" y2="1145.7" stroke="#333" stroke-width="1.50" />
<line x1="700.8" y1="1174.3" x2="706.5" y2="1174.3" stroke="#333" stroke-width="1.50" />
<line x1="700.8" y1="1202.9" x2="706.5" y2="1202.9" stroke="#333" stroke-width="1.50" />
<line x1="700.8" y1="1231.5" x2="706.5" y2="1231.5" stroke="#333" stroke-width="1.50" />
<line x1="700.8" y1="1260.1" x2="706.5" y2="1260.1" stroke="#333" stroke-width="1.50" />
<line x1="700.8" y1="1288.7" x2="706.5" y2="1288.7" stroke="#333" stroke-width="1.50" />
<line x1="700.8" y1="1317.3" x2="706.5" y2="1317.3" stroke="#333" stroke-width="1.50" />
<line x1="700.8" y1="1345.8" x2="706.5" y2="1345.8" stroke="#333" stroke-width="1.50" />
<line x1="700.8" y1="1374.4" x2="706.5" y2="1374.4" stroke="#333" stroke-width="1.50" />
<line x1="700.8" y1="1403.0" x2="706.5" y2="1403.0" stroke="#333" stroke-width="1.50" />
<line x1="700.8" y1="1431.6" x2="706.5" y2="1431.6" stroke="#333" stroke-width="1.50" />
<line x1="700.8" y1="1460.2" x2="706.5" y2="1460.2" stroke="#333" stroke-width="1.50" />
<text x="714.8" y="924.2" font-size="21.00" stroke="#000" stroke-width="0.4">Pathways of neurodegeneration – multiple diseases</text>
<text x="714.8" y="952.8" font-size="21.00" stroke="#000" stroke-width="0.4">Amyotrophic lateral sclerosis</text>
<text x="714.8" y="981.4" font-size="21.00" stroke="#000" stroke-width="0.4">Alzheimer disease</text>
<text x="714.8" y="1010.0" font-size="21.00" stroke="#000" stroke-width="0.4">Huntington disease</text>
<text x="714.8" y="1038.6" font-size="21.00" stroke="#000" stroke-width="0.4">Parkinson disease</text>
<text x="714.8" y="1067.2" font-size="21.00" stroke="#000" stroke-width="0.4">Prion disease</text>
<text x="714.8" y="1095.7" font-size="21.00" stroke="#000" stroke-width="0.4">Coronavirus disease–COVID–19</text>
<text x="714.8" y="1124.3" font-size="21.00" stroke="#000" stroke-width="0.4">Ribosome</text>
<text x="714.8" y="1152.9" font-size="21.00" stroke="#000" stroke-width="0.4">Diabetic cardiomyopathy</text>
<text x="714.8" y="1181.5" font-size="21.00" stroke="#000" stroke-width="0.4">Chemical carcinogenesis – reactive oxygen species</text>
<text x="714.8" y="1210.1" font-size="21.00" stroke="#000" stroke-width="0.4">Oxidative phosphorylation</text>
<text x="714.8" y="1238.7" font-size="21.00" stroke="#000" stroke-width="0.4">Thermogenesis</text>
<text x="714.8" y="1267.3" font-size="21.00" stroke="#000" stroke-width="0.4">Non–alcoholic fatty liver disease</text>
<text x="714.8" y="1295.9" font-size="21.00" stroke="#000" stroke-width="0.4">Retrograde endocannabinoid signaling</text>
<text x="714.8" y="1324.5" font-size="21.00" stroke="#000" stroke-width="0.4">Spinocerebellar ataxia</text>
<text x="714.8" y="1353.0" font-size="21.00" stroke="#000" stroke-width="0.4">Dopaminergic synapse</text>
<text x="714.8" y="1381.6" font-size="21.00" stroke="#000" stroke-width="0.4">Cardiac muscle contraction</text>
<text x="714.8" y="1410.2" font-size="21.00" stroke="#000" stroke-width="0.4">Synaptic vesicle cycle</text>
<text x="714.8" y="1438.8" font-size="21.00" stroke="#000" stroke-width="0.4">Bacterial invasion of epithelial cells</text>
<text x="714.8" y="1467.4" font-size="21.00" stroke="#000" stroke-width="0.4">Endocrine and other factor–regulated calcium reabsorption</text>
<line x1="486.3" y1="1477.0" x2="486.3" y2="1484.7" stroke="#333" stroke-width="1.50" />
<text x="486.3" y="1509.0" font-size="21.12" text-anchor="middle" fill="#1a1a1a" stroke="#1a1a1a" stroke-width="0.4">0.05</text>
<line x1="561.6" y1="1477.0" x2="561.6" y2="1484.7" stroke="#333" stroke-width="1.50" />
<text x="561.6" y="1509.0" font-size="21.12" text-anchor="middle" fill="#1a1a1a" stroke="#1a1a1a" stroke-width="0.4">0.10</text>
<line x1="636.9" y1="1477.0" x2="636.9" y2="1484.7" stroke="#333" stroke-width="1.50" />
<text x="636.9" y="1509.0" font-size="21.12" text-anchor="middle" fill="#1a1a1a" stroke="#1a1a1a" stroke-width="0.4">0.15</text>
<text x="502.0" y="1540.0" font-size="25.94" stroke="#000" stroke-width="0.4">GeneRatio</text>
<text x="1375.0" y="45.0" font-size="24.84" stroke="#000" stroke-width="0.4">Dotplots of Marker Genes</text>
<text x="1356.0" y="72.0" font-size="24.78" stroke="#000" stroke-width="0.4">for Oligodendrocyte Clusters</text>
<circle cx="1539.5" cy="112.3" r="4.90" fill="#b200b8" />
<circle cx="1594.8" cy="112.3" r="4.20" fill="#ab00c0" />
<circle cx="1649.2" cy="112.3" r="5.20" fill="#e9006d" />
<circle cx="1539.5" cy="152.6" r="2.60" fill="#e9006d" />
<circle cx="1594.8" cy="152.6" r="2.60" fill="#e9006d" />
<circle cx="1649.2" cy="152.6" r="2.60" fill="#ec0068" />
<circle cx="1539.5" cy="193.0" r="3.00" fill="#d6008a" />
<circle cx="1594.8" cy="193.0" r="3.00" fill="#ef0062" />
<circle cx="1649.2" cy="193.0" r="3.60" fill="#fa0048" />
<circle cx="1539.5" cy="233.3" r="2.50" fill="#d20090" />
<circle cx="1594.8" cy="233.3" r="2.50" fill="#d20090" />
<circle cx="1649.2" cy="233.3" r="2.50" fill="#d6008a" />
<circle cx="1539.5" cy="273.7" r="2.80" fill="#a500c8" />
<circle cx="1594.8" cy="273.7" r="2.80" fill="#c200a3" />
<circle cx="1649.2" cy="273.7" r="3.60" fill="#ff0020" />
<circle cx="1539.5" cy="314.0" r="2.50" fill="#5300f9" />
<circle cx="1594.8" cy="314.0" r="2.50" fill="#5300f9" />
<circle cx="1649.2" cy="314.0" r="2.50" fill="#a500c8" />
<circle cx="1539.5" cy="354.4" r="2.50" fill="#b800b0" />
<circle cx="1594.8" cy="354.4" r="2.50" fill="#cd0096" />
<circle cx="1649.2" cy="354.4" r="2.60" fill="#e9006d" />
<circle cx="1539.5" cy="394.7" r="4.60" fill="#f8004e" />
<circle cx="1594.8" cy="394.7" r="4.20" fill="#f50058" />
<circle cx="1649.2" cy="394.7" r="4.60" fill="#f8004e" />
<circle cx="1539.5" cy="435.0" r="6.80" fill="#ff0020" />
<circle cx="1594.8" cy="435.0" r="5.00" fill="#da0084" />
<circle cx="1649.2" cy="435.0" r="5.00" fill="#cd0096" />
<circle cx="1539.5" cy="475.4" r="7.50" fill="#fe0007" />
<circle cx="1594.8" cy="475.4" r="5.60" fill="#ff0013" />
<circle cx="1649.2" cy="475.4" r="5.00" fill="#fb0043" />
<circle cx="1539.5" cy="515.7" r="3.00" fill="#e20078" />
<circle cx="1594.8" cy="515.7" r="3.00" fill="#f2005d" />
<circle cx="1649.2" cy="515.7" r="3.00" fill="#f50058" />
<circle cx="1539.5" cy="556.1" r="2.60" fill="#ff0020" />
<circle cx="1594.8" cy="556.1" r="2.60" fill="#fd003e" />
<circle cx="1649.2" cy="556.1" r="2.60" fill="#fa0048" />
<circle cx="1539.5" cy="596.4" r="3.60" fill="#ff0013" />
<circle cx="1594.8" cy="596.4" r="3.10" fill="#fd003e" />
<circle cx="1649.2" cy="596.4" r="3.60" fill="#ff0020" />
<circle cx="1539.5" cy="636.8" r="2.60" fill="#c8009d" />
<circle cx="1594.8" cy="636.8" r="2.60" fill="#da0084" />
<circle cx="1649.2" cy="636.8" r="3.00" fill="#f50058" />
<circle cx="1539.5" cy="677.1" r="2.60" fill="#d20090" />
<circle cx="1594.8" cy="677.1" r="2.60" fill="#d20090" />
<circle cx="1649.2" cy="677.1" r="2.80" fill="#ec0068" />
<circle cx="1539.5" cy="717.4" r="2.60" fill="#c200a3" />
<circle cx="1594.8" cy="717.4" r="2.60" fill="#d20090" />
<circle cx="1649.2" cy="717.4" r="2.80" fill="#ef0062" />
<circle cx="1539.5" cy="757.8" r="2.60" fill="#fe002c" />
<circle cx="1594.8" cy="757.8" r="2.50" fill="#fa0048" />
<circle cx="1649.2" cy="757.8" r="2.50" fill="#fa0048" />
<circle cx="1539.5" cy="798.1" r="15.50" fill="#fe0001" />
<circle cx="1594.8" cy="798.1" r="15.60" fill="#fe0004" />
<circle cx="1649.2" cy="798.1" r="15.30" fill="#fb0043" />
<circle cx="1539.5" cy="838.5" r="7.80" fill="#e60072" />
<circle cx="1594.8" cy="838.5" r="9.00" fill="#e20078" />
<circle cx="1649.2" cy="838.5" r="6.80" fill="#b800b0" />
<circle cx="1539.5" cy="878.8" r="16.00" fill="#fe0001" />
<circle cx="1594.8" cy="878.8" r="15.80" fill="#fe0004" />
<circle cx="1649.2" cy="878.8" r="16.00" fill="#f2005d" />
<circle cx="1539.5" cy="919.2" r="14.50" fill="#fe0004" />
<circle cx="1594.8" cy="919.2" r="11.60" fill="#ff0026" />
<circle cx="1649.2" cy="919.2" r="10.00" fill="#f8004e" />
<circle cx="1539.5" cy="959.5" r="16.00" fill="#fe0001" />
<circle cx="1594.8" cy="959.5" r="16.00" fill="#fe0004" />
<circle cx="1649.2" cy="959.5" r="16.00" fill="#fa0048" />
<circle cx="1539.5" cy="999.8" r="13.50" fill="#fe0007" />
<circle cx="1594.8" cy="999.8" r="10.60" fill="#fd0038" />
<circle cx="1649.2" cy="999.8" r="6.80" fill="#ec0068" />
<circle cx="1539.5" cy="1040.2" r="14.60" fill="#fe0004" />
<circle cx="1594.8" cy="1040.2" r="12.50" fill="#ff001a" />
<circle cx="1649.2" cy="1040.2" r="10.60" fill="#f70053" />
<circle cx="1539.5" cy="1080.5" r="7.60" fill="#ec0068" />
<circle cx="1594.8" cy="1080.5" r="7.40" fill="#f50058" />
<circle cx="1649.2" cy="1080.5" r="10.60" fill="#fe000d" />
<circle cx="1539.5" cy="1120.9" r="6.80" fill="#e9006d" />
<circle cx="1594.8" cy="1120.9" r="5.60" fill="#e9006d" />
<circle cx="1649.2" cy="1120.9" r="9.60" fill="#fe000d" />
<circle cx="1539.5" cy="1161.2" r="7.60" fill="#de007e" />
<circle cx="1594.8" cy="1161.2" r="7.40" fill="#ef0062" />
<circle cx="1649.2" cy="1161.2" r="11.20" fill="#fe0007" />
<circle cx="1539.5" cy="1201.6" r="12.00" fill="#fa0048" />
<circle cx="1594.8" cy="1201.6" r="14.60" fill="#fe0032" />
<circle cx="1649.2" cy="1201.6" r="15.00" fill="#fe0004" />
<circle cx="1539.5" cy="1241.9" r="7.00" fill="#7e00e6" />
<circle cx="1594.8" cy="1241.9" r="13.00" fill="#d6008a" />
<circle cx="1649.2" cy="1241.9" r="14.00" fill="#fe0004" />
<circle cx="1539.5" cy="1282.2" r="8.40" fill="#de007e" />
<circle cx="1594.8" cy="1282.2" r="7.80" fill="#ef0062" />
<circle cx="1649.2" cy="1282.2" r="12.60" fill="#fe0007" />
<circle cx="1539.5" cy="1322.6" r="5.60" fill="#c200a3" />
<circle cx="1594.8" cy="1322.6" r="5.60" fill="#da0084" />
<circle cx="1649.2" cy="1322.6" r="11.00" fill="#fe0007" />
<circle cx="1539.5" cy="1362.9" r="8.50" fill="#bd00aa" />
<circle cx="1594.8" cy="1362.9" r="12.00" fill="#e9006d" />
<circle cx="1649.2" cy="1362.9" r="14.00" fill="#fe0004" />
<circle cx="1539.5" cy="1403.3" r="12.10" fill="#cd0096" />
<circle cx="1594.8" cy="1403.3" r="15.40" fill="#ef0062" />
<circle cx="1649.2" cy="1403.3" r="15.90" fill="#fe0004" />
<circle cx="1539.5" cy="1443.6" r="10.10" fill="#fe0007" />
<circle cx="1594.8" cy="1443.6" r="7.80" fill="#fe000d" />
<circle cx="1649.2" cy="1443.6" r="7.80" fill="#fe002c" />
<circle cx="1539.5" cy="1484.0" r="15.10" fill="#fe0001" />
<circle cx="1594.8" cy="1484.0" r="13.90" fill="#fe0004" />
<circle cx="1649.2" cy="1484.0" r="13.90" fill="#fe000a" />
<circle cx="1539.5" cy="1524.3" r="15.80" fill="#fe0001" />
<circle cx="1594.8" cy="1524.3" r="13.70" fill="#fe0004" />
<circle cx="1649.2" cy="1524.3" r="12.80" fill="#fb0043" />
<line x1="1501.3" y1="87.5" x2="1501.3" y2="1549.4" stroke="#000" stroke-width="2.00" />
<line x1="1500.4" y1="1548.5" x2="1684.5" y2="1548.5" stroke="#000" stroke-width="2.00" />
<line x1="1494.6" y1="112.3" x2="1501.3" y2="112.3" stroke="#000" stroke-width="1.80" />
<text x="1486.8" y="119.9" font-size="21.30" text-anchor="end" stroke="#000" stroke-width="0.4">Snca</text>
<line x1="1494.6" y1="152.6" x2="1501.3" y2="152.6" stroke="#000" stroke-width="1.80" />
<text x="1486.8" y="160.2" font-size="21.30" text-anchor="end" stroke="#000" stroke-width="0.4">Gstm1</text>
<line x1="1494.6" y1="193.0" x2="1501.3" y2="193.0" stroke="#000" stroke-width="1.80" />
<text x="1486.8" y="200.6" font-size="21.30" text-anchor="end" stroke="#000" stroke-width="0.4">hAPOE</text>
<line x1="1494.6" y1="233.3" x2="1501.3" y2="233.3" stroke="#000" stroke-width="1.80" />
<text x="1486.8" y="240.9" font-size="21.30" text-anchor="end" stroke="#000" stroke-width="0.4">Rnase4</text>
<line x1="1494.6" y1="273.7" x2="1501.3" y2="273.7" stroke="#000" stroke-width="1.80" />
<text x="1486.8" y="281.3" font-size="21.30" text-anchor="end" stroke="#000" stroke-width="0.4">Fxyd7</text>
<line x1="1494.6" y1="314.0" x2="1501.3" y2="314.0" stroke="#000" stroke-width="1.80" />
<text x="1486.8" y="321.6" font-size="21.30" text-anchor="end" stroke="#000" stroke-width="0.4">Plvap</text>
<line x1="1494.6" y1="354.4" x2="1501.3" y2="354.4" stroke="#000" stroke-width="1.80" />
<text x="1486.8" y="362.0" font-size="21.30" text-anchor="end" stroke="#000" stroke-width="0.4">Fxyd1</text>
<line x1="1494.6" y1="394.7" x2="1501.3" y2="394.7" stroke="#000" stroke-width="1.80" />
<text x="1486.8" y="402.3" font-size="21.30" text-anchor="end" stroke="#000" stroke-width="0.4">Cd9</text>
<line x1="1494.6" y1="435.0" x2="1501.3" y2="435.0" stroke="#000" stroke-width="1.80" />
<text x="1486.8" y="442.6" font-size="21.30" text-anchor="end" stroke="#000" stroke-width="0.4">Sgk1</text>
<line x1="1494.6" y1="475.4" x2="1501.3" y2="475.4" stroke="#000" stroke-width="1.80" />
<text x="1486.8" y="483.0" font-size="21.30" text-anchor="end" stroke="#000" stroke-width="0.4">Il33</text>
<line x1="1494.6" y1="515.7" x2="1501.3" y2="515.7" stroke="#000" stroke-width="1.80" />
<text x="1486.8" y="523.3" font-size="21.30" text-anchor="end" stroke="#000" stroke-width="0.4">Cd63</text>
<line x1="1494.6" y1="556.1" x2="1501.3" y2="556.1" stroke="#000" stroke-width="1.80" />
<text x="1486.8" y="563.7" font-size="21.30" text-anchor="end" stroke="#000" stroke-width="0.4">Klk6</text>
<line x1="1494.6" y1="596.4" x2="1501.3" y2="596.4" stroke="#000" stroke-width="1.80" />
<text x="1486.8" y="604.0" font-size="21.30" text-anchor="end" stroke="#000" stroke-width="0.4">C4b</text>
<line x1="1494.6" y1="636.8" x2="1501.3" y2="636.8" stroke="#000" stroke-width="1.80" />
<text x="1486.8" y="644.4" font-size="21.30" text-anchor="end" stroke="#000" stroke-width="0.4">B2m</text>
<line x1="1494.6" y1="677.1" x2="1501.3" y2="677.1" stroke="#000" stroke-width="1.80" />
<text x="1486.8" y="684.7" font-size="21.30" text-anchor="end" stroke="#000" stroke-width="0.4">H2–K1</text>
<line x1="1494.6" y1="717.4" x2="1501.3" y2="717.4" stroke="#000" stroke-width="1.80" />
<text x="1486.8" y="725.0" font-size="21.30" text-anchor="end" stroke="#000" stroke-width="0.4">H2–D1</text>
<line x1="1494.6" y1="757.8" x2="1501.3" y2="757.8" stroke="#000" stroke-width="1.80" />
<text x="1486.8" y="765.4" font-size="21.30" text-anchor="end" stroke="#000" stroke-width="0.4">Serpina3n</text>
<line x1="1494.6" y1="798.1" x2="1501.3" y2="798.1" stroke="#000" stroke-width="1.80" />
<text x="1486.8" y="805.7" font-size="21.30" text-anchor="end" stroke="#000" stroke-width="0.4">Frmd5</text>
<line x1="1494.6" y1="838.5" x2="1501.3" y2="838.5" stroke="#000" stroke-width="1.80" />
<text x="1486.8" y="846.1" font-size="21.30" text-anchor="end" stroke="#000" stroke-width="0.4">Kirrel3</text>
<line x1="1494.6" y1="878.8" x2="1501.3" y2="878.8" stroke="#000" stroke-width="1.80" />
<text x="1486.8" y="886.4" font-size="21.30" text-anchor="end" stroke="#000" stroke-width="0.4">Pcdh9</text>
<line x1="1494.6" y1="919.2" x2="1501.3" y2="919.2" stroke="#000" stroke-width="1.80" />
<text x="1486.8" y="926.8" font-size="21.30" text-anchor="end" stroke="#000" stroke-width="0.4">Prr5l</text>
<line x1="1494.6" y1="959.5" x2="1501.3" y2="959.5" stroke="#000" stroke-width="1.80" />
<text x="1486.8" y="967.1" font-size="21.30" text-anchor="end" stroke="#000" stroke-width="0.4">Pde4b</text>
<line x1="1494.6" y1="999.8" x2="1501.3" y2="999.8" stroke="#000" stroke-width="1.80" />
<text x="1486.8" y="1007.4" font-size="21.30" text-anchor="end" stroke="#000" stroke-width="0.4">Rnf220</text>
<line x1="1494.6" y1="1040.2" x2="1501.3" y2="1040.2" stroke="#000" stroke-width="1.80" />
<text x="1486.8" y="1047.8" font-size="21.30" text-anchor="end" stroke="#000" stroke-width="0.4">St18</text>
<line x1="1494.6" y1="1080.5" x2="1501.3" y2="1080.5" stroke="#000" stroke-width="1.80" />
<text x="1486.8" y="1088.1" font-size="21.30" text-anchor="end" stroke="#000" stroke-width="0.4">Hsp90ab1</text>
<line x1="1494.6" y1="1120.9" x2="1501.3" y2="1120.9" stroke="#000" stroke-width="1.80" />
<text x="1486.8" y="1128.5" font-size="21.30" text-anchor="end" stroke="#000" stroke-width="0.4">Hsp90aa1</text>
<line x1="1494.6" y1="1161.2" x2="1501.3" y2="1161.2" stroke="#000" stroke-width="1.80" />
<text x="1486.8" y="1168.8" font-size="21.30" text-anchor="end" stroke="#000" stroke-width="0.4">Hspa8</text>
<line x1="1494.6" y1="1201.6" x2="1501.3" y2="1201.6" stroke="#000" stroke-width="1.80" />
<text x="1486.8" y="1209.2" font-size="21.30" text-anchor="end" stroke="#000" stroke-width="0.4">Fth1</text>
<line x1="1494.6" y1="1241.9" x2="1501.3" y2="1241.9" stroke="#000" stroke-width="1.80" />
<text x="1486.8" y="1249.5" font-size="21.30" text-anchor="end" stroke="#000" stroke-width="0.4">Camk1d</text>
<line x1="1494.6" y1="1282.2" x2="1501.3" y2="1282.2" stroke="#000" stroke-width="1.80" />
<text x="1486.8" y="1289.8" font-size="21.30" text-anchor="end" stroke="#000" stroke-width="0.4">Ubb</text>
<line x1="1494.6" y1="1322.6" x2="1501.3" y2="1322.6" stroke="#000" stroke-width="1.80" />
<text x="1486.8" y="1330.2" font-size="21.30" text-anchor="end" stroke="#000" stroke-width="0.4">Nrgn</text>
<line x1="1494.6" y1="1362.9" x2="1501.3" y2="1362.9" stroke="#000" stroke-width="1.80" />
<text x="1486.8" y="1370.5" font-size="21.30" text-anchor="end" stroke="#000" stroke-width="0.4">Calm2</text>
<line x1="1494.6" y1="1403.3" x2="1501.3" y2="1403.3" stroke="#000" stroke-width="1.80" />
<text x="1486.8" y="1410.9" font-size="21.30" text-anchor="end" stroke="#000" stroke-width="0.4">Calm1</text>
<line x1="1494.6" y1="1443.6" x2="1501.3" y2="1443.6" stroke="#000" stroke-width="1.80" />
<text x="1486.8" y="1451.2" font-size="21.30" text-anchor="end" stroke="#000" stroke-width="0.4">Mag</text>
<line x1="1494.6" y1="1484.0" x2="1501.3" y2="1484.0" stroke="#000" stroke-width="1.80" />
<text x="1486.8" y="1491.6" font-size="21.30" text-anchor="end" stroke="#000" stroke-width="0.4">Plp1</text>
<line x1="1494.6" y1="1524.3" x2="1501.3" y2="1524.3" stroke="#000" stroke-width="1.80" />
<text x="1486.8" y="1531.9" font-size="21.30" text-anchor="end" stroke="#000" stroke-width="0.4">Mbp</text>
<line x1="1539.5" y1="1548.5" x2="1539.5" y2="1555.5" stroke="#000" stroke-width="1.80" />
<text x="1539.5" y="1581.2" font-size="24.00" text-anchor="middle" stroke="#000" stroke-width="0.4">1</text>
<line x1="1594.8" y1="1548.5" x2="1594.8" y2="1555.5" stroke="#000" stroke-width="1.80" />
<text x="1594.8" y="1581.2" font-size="24.00" text-anchor="middle" stroke="#000" stroke-width="0.4">2</text>
<line x1="1649.2" y1="1548.5" x2="1649.2" y2="1555.5" stroke="#000" stroke-width="1.80" />
<text x="1649.2" y="1581.2" font-size="24.00" text-anchor="middle" stroke="#000" stroke-width="0.4">15</text>
<text x="1530.8" y="1610.6" font-size="24.16" stroke="#000" stroke-width="0.4">Cell Identity</text>
<rect x="1627.0" y="1062.4" width="46.3" height="362.9" fill="none" stroke="#000" stroke-width="1.80" />
<line x1="1368.8" y1="99.4" x2="1368.8" y2="764.6" stroke="#000" stroke-width="2.00" />
<line x1="1368.8" y1="786.0" x2="1368.8" y2="1057.0" stroke="#000" stroke-width="2.00" />
<line x1="1368.8" y1="1074.0" x2="1368.8" y2="1415.0" stroke="#000" stroke-width="2.00" />
<line x1="1368.8" y1="1433.4" x2="1368.8" y2="1573.6" stroke="#000" stroke-width="2.00" />
<text x="1319.5" y="437.0" font-size="21.44" text-anchor="middle" stroke="#000" stroke-width="0.4" transform="rotate(-90 1319.5 437.0)">Kenigsbuch et. al., 2022,</text>
<text x="1348.2" y="434.5" font-size="21.43" text-anchor="middle" stroke="#000" stroke-width="0.4" transform="rotate(-90 1348.2 434.5)">Disease-Associated  Oligodendrocyte Marker Genes</text>
<text x="1319.8" y="921.0" font-size="21.29" text-anchor="middle" stroke="#000" stroke-width="0.4" transform="rotate(-90 1319.8 921.0)">Oligodendrocyte Cluster 15</text>
<text x="1348.2" y="920.3" font-size="21.31" text-anchor="middle" stroke="#000" stroke-width="0.4" transform="rotate(-90 1348.2 920.3)">Down-Regulated Genes</text>
<text x="1297.0" y="1240.4" font-size="21.49" text-anchor="middle" fill="#e3262b" stroke="#e3262b" stroke-width="0.4" transform="rotate(-90 1297.0 1240.4)">E4-Specific</text>
<text x="1322.0" y="1239.5" font-size="21.41" text-anchor="middle" fill="#e3262b" stroke="#e3262b" stroke-width="0.4" transform="rotate(-90 1322.0 1239.5)">Disease-Associated Oligodendrocyte</text>
<text x="1348.2" y="1242.0" font-size="21.47" text-anchor="middle" fill="#e3262b" stroke="#e3262b" stroke-width="0.4" transform="rotate(-90 1348.2 1242.0)">Marker Genes</text>
<text x="1320.0" y="1508.0" font-size="21.15" text-anchor="middle" stroke="#000" stroke-width="0.4" transform="rotate(-90 1320.0 1508.0)">Oligodendrocyte</text>
<text x="1348.5" y="1507.4" font-size="21.04" text-anchor="middle" stroke="#000" stroke-width="0.4" transform="rotate(-90 1348.5 1507.4)">Marker Genes</text>
<text x="1463.6" y="1696.0" font-size="26.09" stroke="#000" stroke-width="0.4">Percent Expressed</text>
<circle cx="1538.0" cy="1731.3" r="2.00" fill="#000" />
<text x="1572.0" y="1741.3" font-size="26.50" stroke="#000" stroke-width="0.4">0</text>
<circle cx="1538.0" cy="1765.2" r="6.00" fill="#000" />
<text x="1572.0" y="1775.0" font-size="26.50" stroke="#000" stroke-width="0.4">25</text>
<circle cx="1538.0" cy="1798.2" r="9.00" fill="#000" />
<text x="1572.0" y="1807.7" font-size="26.50" stroke="#000" stroke-width="0.4">50</text>
<circle cx="1538.0" cy="1831.0" r="12.70" fill="#000" />
<text x="1572.0" y="1840.3" font-size="26.50" stroke="#000" stroke-width="0.4">75</text>
<circle cx="1538.0" cy="1866.3" r="16.10" fill="#000" />
<text x="1572.0" y="1875.6" font-size="26.50" stroke="#000" stroke-width="0.4">100</text>
<text x="1459.0" y="1960.7" font-size="26.09" stroke="#000" stroke-width="0.4">Average Expression</text>
<defs><linearGradient id="avgexp" x1="0" y1="0" x2="0" y2="1"><stop offset="0.00" stop-color="#fe0000"/><stop offset="0.10" stop-color="#ff001b"/><stop offset="0.20" stop-color="#fe0036"/><stop offset="0.30" stop-color="#f8004d"/><stop offset="0.40" stop-color="#ee0064"/><stop offset="0.50" stop-color="#df007c"/><stop offset="0.60" stop-color="#cc0097"/><stop offset="0.70" stop-color="#b500b3"/><stop offset="0.80" stop-color="#9900d6"/><stop offset="0.90" stop-color="#7400ec"/><stop offset="1.00" stop-color="#4000ff"/></linearGradient></defs>
<rect x="1524.0" y="1989.4" width="33.0" height="165.6" fill="url(#avgexp)" stroke="none" stroke-width="1.00" />
<line x1="1524.0" y1="2008.9" x2="1530.6" y2="2008.9" stroke="#fff" stroke-width="1.80" />
<line x1="1550.4" y1="2008.9" x2="1557.0" y2="2008.9" stroke="#fff" stroke-width="1.80" />
<text x="1572.6" y="2018.4" font-size="27.00" stroke="#000" stroke-width="0.4">2</text>
<line x1="1524.0" y1="2046.4" x2="1530.6" y2="2046.4" stroke="#fff" stroke-width="1.80" />
<line x1="1550.4" y1="2046.4" x2="1557.0" y2="2046.4" stroke="#fff" stroke-width="1.80" />
<text x="1572.6" y="2055.9" font-size="27.00" stroke="#000" stroke-width="0.4">1</text>
<line x1="1524.0" y1="2084.5" x2="1530.6" y2="2084.5" stroke="#fff" stroke-width="1.80" />
<line x1="1550.4" y1="2084.5" x2="1557.0" y2="2084.5" stroke="#fff" stroke-width="1.80" />
<text x="1572.6" y="2094.0" font-size="27.00" stroke="#000" stroke-width="0.4">0</text>
<line x1="1524.0" y1="2122.7" x2="1530.6" y2="2122.7" stroke="#fff" stroke-width="1.80" />
<line x1="1550.4" y1="2122.7" x2="1557.0" y2="2122.7" stroke="#fff" stroke-width="1.80" />
<text x="1572.6" y="2132.2" font-size="27.00" stroke="#000" stroke-width="0.4">−1</text>
<text x="115.9" y="1645.5" font-size="25.00" stroke="#000" stroke-width="0.4" textLength="558.0" lengthAdjust="spacingAndGlyphs">DE Genes of Cluster 15 versus Other Oligodendrocytes</text>
<circle cx="169.8" cy="1669.4" r="7.00" fill="#b8b8b8" />
<circle cx="243.9" cy="1669.4" r="7.00" fill="#a6d1a6" />
<circle cx="352.7" cy="1669.4" r="7.00" fill="#a9bbf0" />
<circle cx="463.0" cy="1669.4" r="7.00" fill="#f5a3a3" />
<text x="186.7" y="1675.2" font-size="16.50" stroke="#000" stroke-width="0.4">NS</text>
<text x="261.7" y="1675.2" font-size="16.5" stroke="#000" stroke-width="0.4">Log<tspan font-size="11.5" dy="4">2</tspan><tspan dy="-4"> FC</tspan></text>
<text x="369.6" y="1675.2" font-size="16.50" stroke="#000" stroke-width="0.4">p−value</text>
<text x="479.8" y="1675.2" font-size="15.3" stroke="#000" stroke-width="0.4">p − value and log<tspan font-size="11.5" dy="4">2</tspan><tspan dy="-4"> FC</tspan></text>
<g stroke="#ebebeb" stroke-width="1.6">
<line x1="91.5" y1="2114.0" x2="695.6" y2="2114.0"/>
<line x1="91.5" y1="2050.6" x2="695.6" y2="2050.6"/>
<line x1="91.5" y1="1987.1" x2="695.6" y2="1987.1"/>
<line x1="91.5" y1="1923.7" x2="695.6" y2="1923.7"/>
<line x1="91.5" y1="1860.2" x2="695.6" y2="1860.2"/>
<line x1="91.5" y1="1796.8" x2="695.6" y2="1796.8"/>
<line x1="91.5" y1="1733.3" x2="695.6" y2="1733.3"/>
<line x1="192.6" y1="1730.2" x2="192.6" y2="2132.2"/>
<line x1="293.3" y1="1730.2" x2="293.3" y2="2132.2"/>
<line x1="394.0" y1="1730.2" x2="394.0" y2="2132.2"/>
<line x1="494.7" y1="1730.2" x2="494.7" y2="2132.2"/>
<line x1="595.4" y1="1730.2" x2="595.4" y2="2132.2"/>
<line x1="696.1" y1="1730.2" x2="696.1" y2="2132.2"/>
</g>
<g fill="#4169e1" fill-opacity="0.50"><circle cx="346.0" cy="2083.5" r="3.4"/><circle cx="361.5" cy="2088.3" r="3.4"/><circle cx="334.9" cy="2061.3" r="3.4"/><circle cx="354.8" cy="2088.0" r="3.4"/><circle cx="356.2" cy="2086.1" r="3.4"/><circle cx="332.7" cy="2064.2" r="3.4"/><circle cx="331.4" cy="2068.5" r="3.4"/><circle cx="364.8" cy="2097.7" r="3.4"/><circle cx="367.1" cy="2099.1" r="3.4"/><circle cx="365.0" cy="2095.9" r="3.4"/><circle cx="316.5" cy="2040.8" r="3.4"/><circle cx="321.2" cy="2047.2" r="3.4"/><circle cx="337.8" cy="2066.3" r="3.4"/><circle cx="355.7" cy="2086.7" r="3.4"/><circle cx="352.6" cy="2082.9" r="3.4"/><circle cx="352.6" cy="2084.8" r="3.4"/><circle cx="355.8" cy="2095.0" r="3.4"/><circle cx="340.0" cy="2055.2" r="3.4"/><circle cx="340.2" cy="2056.9" r="3.4"/><circle cx="330.2" cy="2062.7" r="3.4"/><circle cx="336.2" cy="2060.9" r="3.4"/><circle cx="370.0" cy="2104.0" r="3.4"/><circle cx="314.2" cy="2037.5" r="3.4"/><circle cx="320.7" cy="2038.9" r="3.4"/><circle cx="356.0" cy="2077.0" r="3.4"/><circle cx="356.1" cy="2086.2" r="3.4"/><circle cx="347.5" cy="2080.9" r="3.4"/><circle cx="361.0" cy="2099.9" r="3.4"/><circle cx="337.7" cy="2053.9" r="3.4"/><circle cx="346.5" cy="2080.1" r="3.4"/><circle cx="353.4" cy="2077.3" r="3.4"/><circle cx="328.3" cy="2038.4" r="3.4"/><circle cx="359.6" cy="2101.6" r="3.4"/><circle cx="324.2" cy="2026.6" r="3.4"/><circle cx="353.8" cy="2088.1" r="3.4"/><circle cx="363.2" cy="2098.9" r="3.4"/><circle cx="352.5" cy="2078.2" r="3.4"/><circle cx="353.1" cy="2087.0" r="3.4"/><circle cx="321.4" cy="2045.5" r="3.4"/><circle cx="324.5" cy="2058.7" r="3.4"/><circle cx="340.3" cy="2056.7" r="3.4"/><circle cx="350.5" cy="2084.9" r="3.4"/><circle cx="368.2" cy="2097.0" r="3.4"/><circle cx="323.2" cy="2054.0" r="3.4"/><circle cx="342.5" cy="2069.1" r="3.4"/><circle cx="323.4" cy="2041.3" r="3.4"/><circle cx="360.1" cy="2098.9" r="3.4"/><circle cx="331.0" cy="2062.7" r="3.4"/><circle cx="350.2" cy="2070.1" r="3.4"/><circle cx="369.6" cy="2095.8" r="3.4"/><circle cx="358.3" cy="2094.8" r="3.4"/><circle cx="320.3" cy="2042.5" r="3.4"/><circle cx="340.0" cy="2055.6" r="3.4"/><circle cx="370.6" cy="2106.6" r="3.4"/><circle cx="324.8" cy="2054.2" r="3.4"/><circle cx="351.8" cy="2089.9" r="3.4"/><circle cx="352.9" cy="2079.2" r="3.4"/><circle cx="332.2" cy="2059.1" r="3.4"/><circle cx="326.3" cy="2058.2" r="3.4"/><circle cx="351.3" cy="2081.2" r="3.4"/><circle cx="355.2" cy="2077.7" r="3.4"/><circle cx="344.6" cy="2072.4" r="3.4"/><circle cx="342.0" cy="2065.3" r="3.4"/><circle cx="363.8" cy="2107.0" r="3.4"/><circle cx="342.7" cy="2063.2" r="3.4"/><circle cx="335.1" cy="2046.4" r="3.4"/><circle cx="360.1" cy="2081.9" r="3.4"/><circle cx="339.6" cy="2060.8" r="3.4"/><circle cx="320.2" cy="2051.7" r="3.4"/><circle cx="355.4" cy="2084.0" r="3.4"/><circle cx="349.6" cy="2077.0" r="3.4"/><circle cx="323.4" cy="2045.7" r="3.4"/><circle cx="323.8" cy="2035.1" r="3.4"/><circle cx="348.2" cy="2069.9" r="3.4"/><circle cx="370.7" cy="2093.5" r="3.4"/><circle cx="321.2" cy="2048.2" r="3.4"/><circle cx="369.8" cy="2104.1" r="3.4"/><circle cx="326.8" cy="2052.6" r="3.4"/><circle cx="363.5" cy="2097.8" r="3.4"/><circle cx="371.0" cy="2096.7" r="3.4"/><circle cx="357.8" cy="2098.7" r="3.4"/><circle cx="366.6" cy="2091.4" r="3.4"/><circle cx="340.1" cy="2063.5" r="3.4"/><circle cx="338.3" cy="2059.3" r="3.4"/><circle cx="342.2" cy="2061.6" r="3.4"/><circle cx="344.6" cy="2063.8" r="3.4"/><circle cx="338.1" cy="2052.8" r="3.4"/><circle cx="361.8" cy="2107.0" r="3.4"/><circle cx="338.6" cy="2052.0" r="3.4"/><circle cx="354.9" cy="2090.9" r="3.4"/><circle cx="345.5" cy="2073.5" r="3.4"/><circle cx="326.7" cy="2035.2" r="3.4"/><circle cx="361.0" cy="2069.3" r="3.4"/><circle cx="335.0" cy="2060.8" r="3.4"/><circle cx="354.2" cy="2087.8" r="3.4"/><circle cx="329.8" cy="2063.7" r="3.4"/><circle cx="369.9" cy="2105.8" r="3.4"/><circle cx="341.0" cy="2075.6" r="3.4"/><circle cx="344.7" cy="2068.3" r="3.4"/><circle cx="331.5" cy="2052.1" r="3.4"/><circle cx="355.9" cy="2096.8" r="3.4"/><circle cx="344.1" cy="2065.5" r="3.4"/><circle cx="350.8" cy="2086.2" r="3.4"/><circle cx="351.5" cy="2060.5" r="3.4"/><circle cx="348.2" cy="2082.1" r="3.4"/><circle cx="346.5" cy="2081.6" r="3.4"/><circle cx="353.7" cy="2090.4" r="3.4"/><circle cx="340.3" cy="2076.9" r="3.4"/><circle cx="362.6" cy="2098.3" r="3.4"/><circle cx="358.7" cy="2076.8" r="3.4"/><circle cx="355.8" cy="2076.5" r="3.4"/><circle cx="369.0" cy="2099.7" r="3.4"/><circle cx="329.9" cy="2054.9" r="3.4"/><circle cx="349.4" cy="2068.5" r="3.4"/><circle cx="331.9" cy="2057.5" r="3.4"/><circle cx="359.3" cy="2073.8" r="3.4"/><circle cx="347.5" cy="2078.5" r="3.4"/><circle cx="354.1" cy="2083.3" r="3.4"/><circle cx="357.6" cy="2094.6" r="3.4"/><circle cx="370.1" cy="2097.3" r="3.4"/><circle cx="359.3" cy="2089.0" r="3.4"/><circle cx="335.6" cy="2069.3" r="3.4"/><circle cx="353.9" cy="2088.1" r="3.4"/><circle cx="345.2" cy="2085.7" r="3.4"/><circle cx="342.3" cy="2078.0" r="3.4"/><circle cx="319.7" cy="2040.2" r="3.4"/><circle cx="342.7" cy="2059.4" r="3.4"/><circle cx="326.5" cy="2045.4" r="3.4"/><circle cx="367.9" cy="2102.9" r="3.4"/><circle cx="365.8" cy="2086.8" r="3.4"/><circle cx="313.0" cy="2041.7" r="3.4"/><circle cx="335.9" cy="2058.4" r="3.4"/><circle cx="331.4" cy="2051.3" r="3.4"/><circle cx="362.9" cy="2091.2" r="3.4"/><circle cx="362.5" cy="2063.7" r="3.4"/><circle cx="346.6" cy="2086.0" r="3.4"/><circle cx="364.8" cy="2103.2" r="3.4"/><circle cx="337.9" cy="2070.4" r="3.4"/><circle cx="344.5" cy="2078.5" r="3.4"/><circle cx="370.2" cy="2099.1" r="3.4"/><circle cx="355.7" cy="2087.4" r="3.4"/><circle cx="362.0" cy="2086.7" r="3.4"/><circle cx="347.6" cy="2069.9" r="3.4"/><circle cx="331.8" cy="2050.6" r="3.4"/><circle cx="347.0" cy="2072.0" r="3.4"/><circle cx="324.9" cy="2052.9" r="3.4"/><circle cx="345.5" cy="2039.3" r="3.4"/><circle cx="328.7" cy="2042.4" r="3.4"/><circle cx="362.0" cy="2089.2" r="3.4"/><circle cx="319.6" cy="2042.5" r="3.4"/><circle cx="338.5" cy="2058.0" r="3.4"/><circle cx="355.9" cy="2091.2" r="3.4"/><circle cx="330.7" cy="2060.5" r="3.4"/><circle cx="352.9" cy="2078.5" r="3.4"/><circle cx="331.9" cy="2053.7" r="3.4"/><circle cx="328.6" cy="2051.8" r="3.4"/><circle cx="326.9" cy="2059.6" r="3.4"/><circle cx="369.6" cy="2104.8" r="3.4"/><circle cx="333.9" cy="2042.0" r="3.4"/><circle cx="344.3" cy="2073.2" r="3.4"/><circle cx="330.8" cy="2036.1" r="3.4"/><circle cx="326.2" cy="2036.5" r="3.4"/><circle cx="346.7" cy="2080.5" r="3.4"/><circle cx="356.7" cy="2081.7" r="3.4"/><circle cx="347.1" cy="2070.8" r="3.4"/><circle cx="339.1" cy="2063.6" r="3.4"/><circle cx="365.1" cy="2090.7" r="3.4"/><circle cx="322.7" cy="2047.5" r="3.4"/><circle cx="346.0" cy="2071.0" r="3.4"/><circle cx="355.8" cy="2090.0" r="3.4"/><circle cx="370.8" cy="2098.3" r="3.4"/><circle cx="343.9" cy="2066.7" r="3.4"/><circle cx="370.6" cy="2102.1" r="3.4"/><circle cx="359.7" cy="2091.5" r="3.4"/><circle cx="330.4" cy="2045.7" r="3.4"/><circle cx="339.5" cy="2054.0" r="3.4"/><circle cx="333.4" cy="2069.2" r="3.4"/><circle cx="357.8" cy="2083.9" r="3.4"/><circle cx="351.5" cy="2090.8" r="3.4"/><circle cx="360.7" cy="2085.9" r="3.4"/><circle cx="353.2" cy="2079.1" r="3.4"/><circle cx="341.4" cy="2063.6" r="3.4"/><circle cx="341.7" cy="2061.5" r="3.4"/><circle cx="348.5" cy="2085.1" r="3.4"/><circle cx="346.2" cy="2059.8" r="3.4"/><circle cx="355.1" cy="2087.1" r="3.4"/><circle cx="328.0" cy="2053.0" r="3.4"/><circle cx="332.3" cy="2049.9" r="3.4"/><circle cx="347.2" cy="2076.5" r="3.4"/><circle cx="327.2" cy="2062.3" r="3.4"/><circle cx="342.7" cy="2084.9" r="3.4"/><circle cx="332.7" cy="2047.0" r="3.4"/><circle cx="357.3" cy="2087.9" r="3.4"/><circle cx="334.6" cy="2062.7" r="3.4"/><circle cx="366.6" cy="2105.7" r="3.4"/><circle cx="359.3" cy="2089.2" r="3.4"/><circle cx="352.6" cy="2074.8" r="3.4"/><circle cx="369.8" cy="2107.0" r="3.4"/><circle cx="346.2" cy="2073.8" r="3.4"/><circle cx="332.3" cy="2061.5" r="3.4"/><circle cx="346.0" cy="2079.7" r="3.4"/><circle cx="361.5" cy="2087.1" r="3.4"/><circle cx="359.8" cy="2073.8" r="3.4"/><circle cx="357.2" cy="2080.3" r="3.4"/><circle cx="344.3" cy="2066.2" r="3.4"/><circle cx="348.8" cy="2086.1" r="3.4"/><circle cx="366.4" cy="2102.6" r="3.4"/><circle cx="368.7" cy="2093.0" r="3.4"/><circle cx="341.4" cy="2056.3" r="3.4"/><circle cx="359.9" cy="2077.3" r="3.4"/><circle cx="357.6" cy="2094.1" r="3.4"/><circle cx="347.4" cy="2073.5" r="3.4"/><circle cx="327.6" cy="2040.3" r="3.4"/><circle cx="349.5" cy="2079.7" r="3.4"/><circle cx="321.7" cy="2054.4" r="3.4"/><circle cx="361.0" cy="2097.8" r="3.4"/><circle cx="329.8" cy="2063.2" r="3.4"/><circle cx="350.0" cy="2086.6" r="3.4"/><circle cx="340.6" cy="2062.3" r="3.4"/><circle cx="358.6" cy="2094.3" r="3.4"/><circle cx="341.6" cy="2070.2" r="3.4"/><circle cx="345.0" cy="2059.1" r="3.4"/><circle cx="336.5" cy="2040.3" r="3.4"/><circle cx="353.4" cy="2070.1" r="3.4"/><circle cx="362.6" cy="2091.3" r="3.4"/><circle cx="358.8" cy="2089.7" r="3.4"/><circle cx="364.7" cy="2099.8" r="3.4"/><circle cx="345.3" cy="2068.4" r="3.4"/><circle cx="320.8" cy="2045.0" r="3.4"/><circle cx="356.5" cy="2075.6" r="3.4"/><circle cx="370.9" cy="2100.6" r="3.4"/><circle cx="365.0" cy="2099.9" r="3.4"/><circle cx="335.1" cy="2052.1" r="3.4"/><circle cx="364.9" cy="2095.3" r="3.4"/><circle cx="359.2" cy="2094.3" r="3.4"/><circle cx="347.5" cy="2071.3" r="3.4"/><circle cx="356.2" cy="2081.7" r="3.4"/><circle cx="327.8" cy="2038.5" r="3.4"/><circle cx="362.2" cy="2106.1" r="3.4"/><circle cx="335.2" cy="2063.5" r="3.4"/><circle cx="364.8" cy="2101.4" r="3.4"/><circle cx="326.6" cy="2048.9" r="3.4"/><circle cx="365.2" cy="2086.1" r="3.4"/><circle cx="335.7" cy="2071.5" r="3.4"/><circle cx="350.0" cy="2071.5" r="3.4"/><circle cx="372.9" cy="2103.6" r="3.4"/><circle cx="356.4" cy="2089.6" r="3.4"/><circle cx="323.7" cy="2052.7" r="3.4"/><circle cx="347.4" cy="2048.5" r="3.4"/><circle cx="326.8" cy="2053.9" r="3.4"/><circle cx="328.5" cy="2043.7" r="3.4"/><circle cx="332.0" cy="2065.2" r="3.4"/><circle cx="325.5" cy="2037.5" r="3.4"/><circle cx="332.8" cy="2047.8" r="3.4"/><circle cx="356.6" cy="2072.6" r="3.4"/><circle cx="352.2" cy="2078.2" r="3.4"/><circle cx="360.2" cy="2095.3" r="3.4"/><circle cx="327.2" cy="2043.1" r="3.4"/><circle cx="347.2" cy="2077.3" r="3.4"/><circle cx="345.2" cy="2068.0" r="3.4"/><circle cx="359.8" cy="2093.7" r="3.4"/><circle cx="354.0" cy="2085.5" r="3.4"/><circle cx="370.2" cy="2101.8" r="3.4"/><circle cx="362.0" cy="2089.0" r="3.4"/><circle cx="363.0" cy="2092.7" r="3.4"/><circle cx="337.9" cy="2067.1" r="3.4"/><circle cx="323.6" cy="2044.0" r="3.4"/><circle cx="360.3" cy="2098.9" r="3.4"/><circle cx="317.2" cy="2044.9" r="3.4"/><circle cx="352.0" cy="2075.0" r="3.4"/><circle cx="323.9" cy="2045.2" r="3.4"/><circle cx="364.6" cy="2084.7" r="3.4"/><circle cx="340.8" cy="2065.8" r="3.4"/><circle cx="332.4" cy="2050.8" r="3.4"/><circle cx="360.4" cy="2093.6" r="3.4"/><circle cx="363.6" cy="2089.6" r="3.4"/><circle cx="328.8" cy="2040.3" r="3.4"/><circle cx="353.6" cy="2085.8" r="3.4"/><circle cx="326.1" cy="2034.1" r="3.4"/><circle cx="345.8" cy="2082.2" r="3.4"/><circle cx="330.6" cy="2053.4" r="3.4"/><circle cx="361.0" cy="2094.9" r="3.4"/><circle cx="315.6" cy="2038.4" r="3.4"/><circle cx="354.4" cy="2082.3" r="3.4"/><circle cx="339.8" cy="2061.6" r="3.4"/><circle cx="355.2" cy="2088.4" r="3.4"/><circle cx="319.7" cy="2040.8" r="3.4"/><circle cx="325.2" cy="2054.5" r="3.4"/><circle cx="329.5" cy="2063.1" r="3.4"/><circle cx="356.6" cy="2086.1" r="3.4"/><circle cx="354.9" cy="2071.4" r="3.4"/><circle cx="365.0" cy="2097.0" r="3.4"/><circle cx="355.6" cy="2088.8" r="3.4"/><circle cx="362.9" cy="2094.4" r="3.4"/><circle cx="360.5" cy="2102.4" r="3.4"/><circle cx="346.3" cy="2074.6" r="3.4"/><circle cx="335.8" cy="2065.7" r="3.4"/><circle cx="354.1" cy="2078.6" r="3.4"/><circle cx="362.6" cy="2090.3" r="3.4"/><circle cx="333.0" cy="2051.6" r="3.4"/><circle cx="349.2" cy="2085.4" r="3.4"/><circle cx="358.4" cy="2088.0" r="3.4"/><circle cx="352.2" cy="2074.8" r="3.4"/><circle cx="320.3" cy="2045.8" r="3.4"/><circle cx="332.8" cy="2064.7" r="3.4"/><circle cx="337.0" cy="2072.9" r="3.4"/><circle cx="330.9" cy="2046.4" r="3.4"/><circle cx="345.9" cy="2069.1" r="3.4"/><circle cx="364.6" cy="2101.4" r="3.4"/><circle cx="339.8" cy="2062.1" r="3.4"/><circle cx="363.2" cy="2099.2" r="3.4"/><circle cx="332.8" cy="2053.9" r="3.4"/><circle cx="342.3" cy="2074.6" r="3.4"/><circle cx="340.4" cy="2065.6" r="3.4"/><circle cx="347.0" cy="2088.1" r="3.4"/><circle cx="359.9" cy="2091.7" r="3.4"/><circle cx="361.9" cy="2096.9" r="3.4"/><circle cx="371.4" cy="2103.3" r="3.4"/><circle cx="358.5" cy="2080.0" r="3.4"/><circle cx="364.2" cy="2097.4" r="3.4"/><circle cx="361.0" cy="2085.9" r="3.4"/><circle cx="337.5" cy="2064.8" r="3.4"/><circle cx="340.3" cy="2052.7" r="3.4"/><circle cx="330.5" cy="2044.1" r="3.4"/><circle cx="364.8" cy="2092.7" r="3.4"/><circle cx="353.9" cy="2091.3" r="3.4"/><circle cx="335.3" cy="2051.6" r="3.4"/><circle cx="342.2" cy="2065.3" r="3.4"/><circle cx="332.3" cy="2055.5" r="3.4"/><circle cx="345.4" cy="2081.9" r="3.4"/><circle cx="351.0" cy="2067.9" r="3.4"/><circle cx="341.3" cy="2077.7" r="3.4"/><circle cx="355.9" cy="2078.8" r="3.4"/><circle cx="336.6" cy="2052.6" r="3.4"/><circle cx="343.0" cy="2081.7" r="3.4"/><circle cx="355.9" cy="2086.8" r="3.4"/><circle cx="327.0" cy="2051.8" r="3.4"/><circle cx="331.0" cy="2048.9" r="3.4"/><circle cx="342.2" cy="2056.0" r="3.4"/><circle cx="365.0" cy="2096.8" r="3.4"/><circle cx="323.6" cy="2051.2" r="3.4"/><circle cx="355.9" cy="2077.4" r="3.4"/><circle cx="340.4" cy="2053.4" r="3.4"/><circle cx="322.0" cy="2045.4" r="3.4"/><circle cx="320.4" cy="2042.2" r="3.4"/><circle cx="367.2" cy="2081.8" r="3.4"/><circle cx="327.1" cy="2053.2" r="3.4"/><circle cx="345.5" cy="2071.0" r="3.4"/><circle cx="362.8" cy="2101.0" r="3.4"/><circle cx="347.7" cy="2077.8" r="3.4"/><circle cx="361.0" cy="2083.6" r="3.4"/><circle cx="343.1" cy="2064.9" r="3.4"/><circle cx="363.3" cy="2091.7" r="3.4"/><circle cx="356.8" cy="2095.5" r="3.4"/><circle cx="348.4" cy="2048.3" r="3.4"/><circle cx="341.3" cy="2059.0" r="3.4"/><circle cx="330.0" cy="2031.7" r="3.4"/><circle cx="338.8" cy="2056.9" r="3.4"/><circle cx="344.6" cy="2067.0" r="3.4"/><circle cx="347.0" cy="2063.9" r="3.4"/><circle cx="363.7" cy="2103.1" r="3.4"/><circle cx="366.9" cy="2100.9" r="3.4"/><circle cx="351.2" cy="2084.9" r="3.4"/><circle cx="330.4" cy="2059.3" r="3.4"/><circle cx="338.9" cy="2057.5" r="3.4"/><circle cx="328.8" cy="2042.8" r="3.4"/><circle cx="366.8" cy="2095.4" r="3.4"/><circle cx="345.2" cy="2064.7" r="3.4"/><circle cx="362.8" cy="2092.8" r="3.4"/><circle cx="358.0" cy="2089.3" r="3.4"/><circle cx="351.8" cy="2076.1" r="3.4"/><circle cx="360.4" cy="2085.0" r="3.4"/><circle cx="344.3" cy="2068.0" r="3.4"/><circle cx="344.9" cy="2076.2" r="3.4"/><circle cx="330.3" cy="2048.9" r="3.4"/><circle cx="366.2" cy="2104.3" r="3.4"/><circle cx="362.7" cy="2099.8" r="3.4"/><circle cx="361.0" cy="2084.6" r="3.4"/><circle cx="331.5" cy="2058.4" r="3.4"/><circle cx="363.6" cy="2086.8" r="3.4"/><circle cx="360.9" cy="2095.0" r="3.4"/><circle cx="353.4" cy="2094.7" r="3.4"/><circle cx="345.6" cy="2062.1" r="3.4"/><circle cx="346.1" cy="2060.5" r="3.4"/><circle cx="352.6" cy="2077.0" r="3.4"/><circle cx="352.9" cy="2083.0" r="3.4"/><circle cx="345.7" cy="2065.1" r="3.4"/><circle cx="367.6" cy="2099.8" r="3.4"/><circle cx="315.1" cy="2043.0" r="3.4"/><circle cx="354.4" cy="2089.8" r="3.4"/><circle cx="370.3" cy="2099.7" r="3.4"/><circle cx="323.1" cy="2052.2" r="3.4"/><circle cx="341.5" cy="2076.6" r="3.4"/><circle cx="359.0" cy="2088.4" r="3.4"/><circle cx="355.2" cy="2079.9" r="3.4"/><circle cx="353.0" cy="2080.0" r="3.4"/><circle cx="345.1" cy="2065.0" r="3.4"/><circle cx="367.8" cy="2103.5" r="3.4"/><circle cx="352.5" cy="2087.7" r="3.4"/><circle cx="341.1" cy="2074.3" r="3.4"/><circle cx="341.2" cy="2061.5" r="3.4"/><circle cx="324.8" cy="2042.5" r="3.4"/><circle cx="337.1" cy="2062.3" r="3.4"/><circle cx="334.1" cy="2062.7" r="3.4"/><circle cx="340.5" cy="2058.9" r="3.4"/><circle cx="342.0" cy="2064.3" r="3.4"/><circle cx="347.5" cy="2075.6" r="3.4"/><circle cx="354.9" cy="2075.8" r="3.4"/><circle cx="331.6" cy="2058.7" r="3.4"/><circle cx="346.0" cy="2073.1" r="3.4"/><circle cx="350.0" cy="2069.5" r="3.4"/><circle cx="343.1" cy="2063.1" r="3.4"/><circle cx="342.5" cy="2073.2" r="3.4"/><circle cx="372.1" cy="2105.2" r="3.4"/><circle cx="367.4" cy="2105.3" r="3.4"/><circle cx="354.4" cy="2088.5" r="3.4"/><circle cx="339.3" cy="2076.6" r="3.4"/><circle cx="346.5" cy="2074.0" r="3.4"/><circle cx="340.2" cy="2067.9" r="3.4"/><circle cx="333.7" cy="2068.9" r="3.4"/><circle cx="351.9" cy="2075.3" r="3.4"/><circle cx="362.7" cy="2091.3" r="3.4"/><circle cx="364.3" cy="2093.4" r="3.4"/><circle cx="372.5" cy="2103.4" r="3.4"/><circle cx="354.2" cy="2078.3" r="3.4"/><circle cx="358.1" cy="2081.7" r="3.4"/><circle cx="348.2" cy="2076.6" r="3.4"/><circle cx="332.0" cy="2049.6" r="3.4"/><circle cx="366.2" cy="2088.0" r="3.4"/><circle cx="328.4" cy="2050.9" r="3.4"/><circle cx="431.6" cy="2048.4" r="3.4"/><circle cx="425.0" cy="2078.1" r="3.4"/><circle cx="460.9" cy="2001.2" r="3.4"/><circle cx="431.4" cy="2026.5" r="3.4"/><circle cx="427.9" cy="2084.0" r="3.4"/><circle cx="421.1" cy="2086.6" r="3.4"/><circle cx="430.1" cy="2085.4" r="3.4"/><circle cx="468.5" cy="1980.3" r="3.4"/><circle cx="414.9" cy="2077.3" r="3.4"/><circle cx="470.3" cy="1965.1" r="3.4"/><circle cx="469.3" cy="1972.4" r="3.4"/><circle cx="444.6" cy="2017.8" r="3.4"/><circle cx="425.1" cy="2053.8" r="3.4"/><circle cx="459.0" cy="2042.7" r="3.4"/><circle cx="435.5" cy="2013.6" r="3.4"/><circle cx="431.1" cy="2079.3" r="3.4"/><circle cx="445.9" cy="2047.4" r="3.4"/><circle cx="435.8" cy="2015.4" r="3.4"/><circle cx="437.5" cy="1996.5" r="3.4"/><circle cx="451.2" cy="2058.6" r="3.4"/><circle cx="459.7" cy="1989.9" r="3.4"/><circle cx="434.7" cy="2082.8" r="3.4"/><circle cx="454.4" cy="1977.1" r="3.4"/><circle cx="466.6" cy="2010.9" r="3.4"/><circle cx="456.5" cy="1982.4" r="3.4"/><circle cx="471.5" cy="1977.8" r="3.4"/><circle cx="432.9" cy="2072.3" r="3.4"/><circle cx="469.6" cy="1974.3" r="3.4"/><circle cx="418.8" cy="2107.0" r="3.4"/><circle cx="444.2" cy="2084.8" r="3.4"/><circle cx="440.4" cy="2048.9" r="3.4"/><circle cx="423.6" cy="2049.9" r="3.4"/><circle cx="414.6" cy="2093.8" r="3.4"/><circle cx="429.6" cy="2090.0" r="3.4"/><circle cx="456.9" cy="2001.9" r="3.4"/><circle cx="468.5" cy="1988.1" r="3.4"/><circle cx="457.5" cy="2000.7" r="3.4"/><circle cx="414.5" cy="2092.5" r="3.4"/><circle cx="420.4" cy="2072.5" r="3.4"/><circle cx="468.0" cy="2011.0" r="3.4"/><circle cx="436.3" cy="2081.3" r="3.4"/><circle cx="432.3" cy="2018.5" r="3.4"/><circle cx="417.4" cy="2092.4" r="3.4"/><circle cx="465.4" cy="1986.4" r="3.4"/><circle cx="415.4" cy="2077.2" r="3.4"/><circle cx="432.8" cy="2029.0" r="3.4"/><circle cx="414.5" cy="2094.7" r="3.4"/><circle cx="436.0" cy="2054.8" r="3.4"/><circle cx="438.4" cy="2051.0" r="3.4"/><circle cx="434.0" cy="2079.8" r="3.4"/><circle cx="450.5" cy="1981.7" r="3.4"/><circle cx="420.8" cy="2102.0" r="3.4"/><circle cx="420.0" cy="2096.0" r="3.4"/><circle cx="418.4" cy="2092.9" r="3.4"/><circle cx="422.8" cy="2046.6" r="3.4"/><circle cx="420.4" cy="2103.9" r="3.4"/><circle cx="454.6" cy="1994.4" r="3.4"/><circle cx="418.7" cy="2101.2" r="3.4"/><circle cx="462.4" cy="1993.2" r="3.4"/><circle cx="454.9" cy="2013.9" r="3.4"/><circle cx="416.9" cy="2107.0" r="3.4"/><circle cx="456.9" cy="1981.8" r="3.4"/><circle cx="456.3" cy="1971.2" r="3.4"/><circle cx="469.1" cy="2009.7" r="3.4"/><circle cx="443.1" cy="2029.6" r="3.4"/><circle cx="469.0" cy="1988.1" r="3.4"/><circle cx="439.2" cy="2063.2" r="3.4"/><circle cx="440.6" cy="2020.2" r="3.4"/><circle cx="424.2" cy="2083.8" r="3.4"/><circle cx="413.0" cy="2084.0" r="3.4"/><circle cx="416.1" cy="2101.7" r="3.4"/><circle cx="454.0" cy="2038.9" r="3.4"/><circle cx="421.4" cy="2080.7" r="3.4"/><circle cx="437.0" cy="2022.1" r="3.4"/><circle cx="453.6" cy="1999.5" r="3.4"/><circle cx="415.1" cy="2096.1" r="3.4"/><circle cx="413.0" cy="2092.8" r="3.4"/><circle cx="422.1" cy="2098.7" r="3.4"/><circle cx="422.6" cy="2063.8" r="3.4"/><circle cx="419.2" cy="2107.0" r="3.4"/><circle cx="438.7" cy="2076.7" r="3.4"/><circle cx="450.9" cy="2029.8" r="3.4"/><circle cx="422.3" cy="2076.7" r="3.4"/><circle cx="419.3" cy="2089.9" r="3.4"/><circle cx="425.6" cy="2107.0" r="3.4"/><circle cx="442.2" cy="2022.8" r="3.4"/><circle cx="458.4" cy="2054.4" r="3.4"/><circle cx="448.9" cy="2000.5" r="3.4"/><circle cx="419.6" cy="2055.4" r="3.4"/><circle cx="451.8" cy="2056.7" r="3.4"/><circle cx="435.7" cy="2078.7" r="3.4"/><circle cx="461.7" cy="2030.4" r="3.4"/><circle cx="425.7" cy="2039.7" r="3.4"/><circle cx="463.5" cy="2028.3" r="3.4"/><circle cx="448.0" cy="1991.7" r="3.4"/><circle cx="432.7" cy="2077.1" r="3.4"/><circle cx="459.6" cy="2035.0" r="3.4"/><circle cx="453.0" cy="2019.2" r="3.4"/><circle cx="453.0" cy="2046.2" r="3.4"/><circle cx="422.9" cy="2107.0" r="3.4"/><circle cx="460.6" cy="1976.4" r="3.4"/><circle cx="429.1" cy="2082.8" r="3.4"/><circle cx="435.6" cy="2080.7" r="3.4"/><circle cx="433.6" cy="2062.9" r="3.4"/><circle cx="422.1" cy="2063.3" r="3.4"/><circle cx="428.8" cy="2097.7" r="3.4"/><circle cx="451.2" cy="2055.9" r="3.4"/><circle cx="436.4" cy="2058.5" r="3.4"/><circle cx="414.9" cy="2084.7" r="3.4"/><circle cx="439.1" cy="2045.5" r="3.4"/><circle cx="418.5" cy="2087.3" r="3.4"/><circle cx="444.9" cy="2053.4" r="3.4"/><circle cx="439.2" cy="2023.9" r="3.4"/><circle cx="445.7" cy="2017.0" r="3.4"/><circle cx="429.9" cy="2094.3" r="3.4"/><circle cx="455.6" cy="2055.4" r="3.4"/><circle cx="446.7" cy="2042.8" r="3.4"/><circle cx="469.6" cy="1992.6" r="3.4"/><circle cx="458.1" cy="2015.6" r="3.4"/><circle cx="431.5" cy="2088.1" r="3.4"/><circle cx="418.2" cy="2100.8" r="3.4"/><circle cx="452.1" cy="2026.3" r="3.4"/><circle cx="436.9" cy="2055.7" r="3.4"/><circle cx="418.5" cy="2104.8" r="3.4"/><circle cx="443.0" cy="2086.2" r="3.4"/><circle cx="459.9" cy="2022.0" r="3.4"/><circle cx="454.9" cy="1983.1" r="3.4"/><circle cx="424.5" cy="2089.9" r="3.4"/><circle cx="449.7" cy="1994.6" r="3.4"/><circle cx="436.1" cy="2064.0" r="3.4"/><circle cx="464.5" cy="1963.6" r="3.4"/><circle cx="461.2" cy="2017.3" r="3.4"/><circle cx="439.4" cy="2003.4" r="3.4"/><circle cx="413.0" cy="2105.2" r="3.4"/><circle cx="423.0" cy="2084.5" r="3.4"/><circle cx="457.2" cy="2041.0" r="3.4"/><circle cx="420.8" cy="2101.1" r="3.4"/><circle cx="468.6" cy="1989.2" r="3.4"/><circle cx="417.7" cy="2059.9" r="3.4"/><circle cx="462.8" cy="1987.1" r="3.4"/><circle cx="423.7" cy="2099.3" r="3.4"/><circle cx="453.7" cy="2044.3" r="3.4"/><circle cx="446.4" cy="2017.0" r="3.4"/><circle cx="435.9" cy="2084.2" r="3.4"/><circle cx="448.5" cy="2060.7" r="3.4"/><circle cx="432.2" cy="2100.0" r="3.4"/><circle cx="450.9" cy="2014.3" r="3.4"/><circle cx="449.2" cy="2057.0" r="3.4"/><circle cx="440.4" cy="2074.3" r="3.4"/><circle cx="438.6" cy="2003.6" r="3.4"/><circle cx="443.4" cy="2075.3" r="3.4"/><circle cx="463.2" cy="1975.8" r="3.4"/><circle cx="454.5" cy="2025.0" r="3.4"/><circle cx="461.7" cy="2003.4" r="3.4"/><circle cx="414.4" cy="2098.2" r="3.4"/><circle cx="445.4" cy="2004.9" r="3.4"/><circle cx="413.0" cy="2096.0" r="3.4"/><circle cx="415.2" cy="2083.0" r="3.4"/><circle cx="422.4" cy="2085.3" r="3.4"/><circle cx="416.8" cy="2102.4" r="3.4"/><circle cx="421.9" cy="2096.8" r="3.4"/><circle cx="424.3" cy="2080.3" r="3.4"/><circle cx="426.5" cy="2107.0" r="3.4"/><circle cx="428.1" cy="2031.1" r="3.4"/><circle cx="418.0" cy="2063.6" r="3.4"/><circle cx="418.5" cy="2105.6" r="3.4"/><circle cx="433.6" cy="2062.2" r="3.4"/><circle cx="429.9" cy="2083.7" r="3.4"/><circle cx="430.5" cy="2036.6" r="3.4"/><circle cx="462.3" cy="1976.4" r="3.4"/><circle cx="457.5" cy="2028.0" r="3.4"/><circle cx="466.6" cy="2000.8" r="3.4"/><circle cx="462.0" cy="1965.5" r="3.4"/><circle cx="419.2" cy="2096.4" r="3.4"/><circle cx="471.7" cy="1969.8" r="3.4"/><circle cx="441.1" cy="2055.4" r="3.4"/><circle cx="422.2" cy="2084.4" r="3.4"/><circle cx="422.2" cy="2093.0" r="3.4"/><circle cx="445.2" cy="2032.0" r="3.4"/><circle cx="464.4" cy="1968.9" r="3.4"/><circle cx="447.6" cy="2014.0" r="3.4"/><circle cx="464.9" cy="2003.0" r="3.4"/><circle cx="433.6" cy="2059.2" r="3.4"/><circle cx="455.7" cy="2021.4" r="3.4"/><circle cx="441.6" cy="2006.7" r="3.4"/><circle cx="433.5" cy="2062.1" r="3.4"/><circle cx="466.2" cy="1972.5" r="3.4"/><circle cx="446.4" cy="2066.1" r="3.4"/><circle cx="446.2" cy="2048.5" r="3.4"/><circle cx="441.2" cy="2027.3" r="3.4"/><circle cx="427.9" cy="2031.5" r="3.4"/><circle cx="443.4" cy="2061.9" r="3.4"/><circle cx="464.9" cy="1974.3" r="3.4"/><circle cx="439.7" cy="2046.8" r="3.4"/><circle cx="445.9" cy="2032.2" r="3.4"/><circle cx="456.6" cy="2006.3" r="3.4"/><circle cx="431.7" cy="2049.9" r="3.4"/><circle cx="452.9" cy="2060.5" r="3.4"/><circle cx="429.4" cy="2098.7" r="3.4"/><circle cx="423.6" cy="2057.3" r="3.4"/><circle cx="436.4" cy="2044.9" r="3.4"/><circle cx="422.1" cy="2075.7" r="3.4"/><circle cx="444.9" cy="2001.9" r="3.4"/><circle cx="435.0" cy="2016.0" r="3.4"/><circle cx="464.1" cy="1969.0" r="3.4"/><circle cx="461.2" cy="2041.2" r="3.4"/><circle cx="422.7" cy="2086.4" r="3.4"/><circle cx="415.2" cy="2063.2" r="3.4"/><circle cx="431.9" cy="2027.4" r="3.4"/><circle cx="438.7" cy="2014.0" r="3.4"/><circle cx="463.0" cy="2010.0" r="3.4"/><circle cx="452.7" cy="1988.5" r="3.4"/><circle cx="428.1" cy="2071.8" r="3.4"/><circle cx="445.8" cy="2052.0" r="3.4"/><circle cx="448.3" cy="2030.2" r="3.4"/><circle cx="461.2" cy="1990.5" r="3.4"/><circle cx="462.1" cy="1996.3" r="3.4"/><circle cx="414.1" cy="2104.6" r="3.4"/><circle cx="417.4" cy="2098.8" r="3.4"/><circle cx="435.4" cy="2052.2" r="3.4"/><circle cx="419.4" cy="2096.6" r="3.4"/><circle cx="454.6" cy="2023.2" r="3.4"/><circle cx="468.5" cy="1962.8" r="3.4"/><circle cx="427.4" cy="2074.0" r="3.4"/><circle cx="417.2" cy="2104.0" r="3.4"/><circle cx="469.6" cy="1997.8" r="3.4"/><circle cx="438.4" cy="2045.7" r="3.4"/><circle cx="457.6" cy="1989.6" r="3.4"/><circle cx="413.0" cy="2099.8" r="3.4"/><circle cx="428.6" cy="2075.6" r="3.4"/><circle cx="421.9" cy="2090.9" r="3.4"/><circle cx="424.3" cy="2033.9" r="3.4"/><circle cx="426.2" cy="2098.4" r="3.4"/><circle cx="444.1" cy="1993.0" r="3.4"/><circle cx="452.3" cy="2015.7" r="3.4"/><circle cx="464.0" cy="1995.0" r="3.4"/><circle cx="445.6" cy="2072.5" r="3.4"/><circle cx="454.7" cy="1998.5" r="3.4"/><circle cx="470.4" cy="1966.7" r="3.4"/><circle cx="436.7" cy="2042.1" r="3.4"/><circle cx="455.0" cy="2016.3" r="3.4"/><circle cx="416.5" cy="2088.9" r="3.4"/><circle cx="417.2" cy="2100.5" r="3.4"/><circle cx="436.9" cy="2077.6" r="3.4"/><circle cx="420.1" cy="2084.4" r="3.4"/><circle cx="432.5" cy="2011.3" r="3.4"/><circle cx="469.3" cy="1982.7" r="3.4"/><circle cx="450.9" cy="1982.6" r="3.4"/><circle cx="453.6" cy="1987.1" r="3.4"/><circle cx="459.0" cy="1999.5" r="3.4"/><circle cx="441.1" cy="2049.2" r="3.4"/><circle cx="441.4" cy="2059.2" r="3.4"/><circle cx="451.5" cy="1983.2" r="3.4"/><circle cx="461.8" cy="1976.2" r="3.4"/><circle cx="462.3" cy="1980.9" r="3.4"/><circle cx="459.6" cy="2011.7" r="3.4"/><circle cx="443.1" cy="2053.3" r="3.4"/><circle cx="428.0" cy="2044.1" r="3.4"/><circle cx="422.7" cy="2057.4" r="3.4"/><circle cx="433.1" cy="2078.3" r="3.4"/><circle cx="441.2" cy="2034.8" r="3.4"/><circle cx="413.8" cy="2107.0" r="3.4"/><circle cx="453.2" cy="2008.6" r="3.4"/><circle cx="414.4" cy="2062.2" r="3.4"/><circle cx="461.3" cy="1971.8" r="3.4"/><circle cx="432.8" cy="2023.1" r="3.4"/><circle cx="460.0" cy="1975.4" r="3.4"/><circle cx="447.6" cy="2063.8" r="3.4"/><circle cx="420.4" cy="2089.4" r="3.4"/><circle cx="430.2" cy="2089.6" r="3.4"/><circle cx="431.0" cy="2014.2" r="3.4"/><circle cx="430.4" cy="2085.0" r="3.4"/><circle cx="420.1" cy="2107.0" r="3.4"/><circle cx="419.1" cy="2048.5" r="3.4"/><circle cx="417.9" cy="2100.3" r="3.4"/><circle cx="442.6" cy="2072.2" r="3.4"/><circle cx="427.5" cy="2094.5" r="3.4"/><circle cx="463.8" cy="1964.1" r="3.4"/><circle cx="418.7" cy="2041.1" r="3.4"/><circle cx="455.4" cy="2009.8" r="3.4"/><circle cx="420.3" cy="2089.9" r="3.4"/><circle cx="413.6" cy="2091.9" r="3.4"/><circle cx="455.6" cy="2000.6" r="3.4"/><circle cx="416.3" cy="2080.7" r="3.4"/><circle cx="413.7" cy="2073.5" r="3.4"/><circle cx="455.9" cy="2030.0" r="3.4"/><circle cx="462.2" cy="2016.7" r="3.4"/><circle cx="439.7" cy="2042.7" r="3.4"/><circle cx="445.2" cy="2017.1" r="3.4"/><circle cx="465.0" cy="1976.1" r="3.4"/><circle cx="420.9" cy="2092.7" r="3.4"/><circle cx="472.2" cy="1966.3" r="3.4"/><circle cx="457.9" cy="1980.2" r="3.4"/><circle cx="438.6" cy="2063.2" r="3.4"/><circle cx="468.2" cy="2006.6" r="3.4"/><circle cx="416.0" cy="2100.1" r="3.4"/><circle cx="413.3" cy="2104.0" r="3.4"/><circle cx="445.4" cy="2023.8" r="3.4"/><circle cx="442.2" cy="2064.6" r="3.4"/><circle cx="435.4" cy="2032.9" r="3.4"/><circle cx="429.3" cy="2076.6" r="3.4"/><circle cx="435.5" cy="2049.7" r="3.4"/><circle cx="459.4" cy="2026.9" r="3.4"/><circle cx="458.1" cy="2015.8" r="3.4"/><circle cx="447.0" cy="1995.9" r="3.4"/><circle cx="440.5" cy="2057.1" r="3.4"/><circle cx="437.4" cy="2074.4" r="3.4"/><circle cx="457.4" cy="2013.6" r="3.4"/><circle cx="433.4" cy="2084.8" r="3.4"/><circle cx="438.6" cy="2012.5" r="3.4"/><circle cx="427.0" cy="2094.5" r="3.4"/><circle cx="438.4" cy="2013.4" r="3.4"/><circle cx="449.2" cy="2004.9" r="3.4"/><circle cx="424.4" cy="2039.0" r="3.4"/><circle cx="430.1" cy="2049.5" r="3.4"/><circle cx="422.1" cy="2066.9" r="3.4"/><circle cx="421.9" cy="2097.2" r="3.4"/><circle cx="419.1" cy="2044.0" r="3.4"/><circle cx="453.2" cy="1985.5" r="3.4"/><circle cx="431.8" cy="2093.8" r="3.4"/><circle cx="460.2" cy="1996.0" r="3.4"/><circle cx="426.8" cy="2056.4" r="3.4"/><circle cx="443.0" cy="2060.0" r="3.4"/><circle cx="431.9" cy="2067.8" r="3.4"/><circle cx="455.5" cy="1986.4" r="3.4"/><circle cx="459.1" cy="1962.7" r="3.4"/><circle cx="427.2" cy="2055.2" r="3.4"/><circle cx="420.0" cy="2037.2" r="3.4"/><circle cx="425.9" cy="2085.8" r="3.4"/><circle cx="440.3" cy="2058.7" r="3.4"/><circle cx="449.7" cy="2052.0" r="3.4"/><circle cx="444.5" cy="2015.0" r="3.4"/><circle cx="417.2" cy="2105.2" r="3.4"/><circle cx="467.7" cy="1997.1" r="3.4"/><circle cx="457.8" cy="1969.6" r="3.4"/><circle cx="436.8" cy="2006.0" r="3.4"/><circle cx="428.6" cy="2042.3" r="3.4"/><circle cx="469.9" cy="1965.6" r="3.4"/><circle cx="427.4" cy="2102.5" r="3.4"/><circle cx="444.7" cy="2013.9" r="3.4"/><circle cx="461.4" cy="1971.4" r="3.4"/><circle cx="444.7" cy="1998.1" r="3.4"/><circle cx="439.2" cy="2040.8" r="3.4"/><circle cx="420.8" cy="2079.9" r="3.4"/><circle cx="461.5" cy="1999.8" r="3.4"/><circle cx="413.3" cy="2075.8" r="3.4"/><circle cx="431.8" cy="2085.4" r="3.4"/><circle cx="422.0" cy="2090.4" r="3.4"/><circle cx="435.0" cy="2064.2" r="3.4"/><circle cx="420.6" cy="2074.1" r="3.4"/><circle cx="414.6" cy="2093.2" r="3.4"/><circle cx="431.8" cy="2010.6" r="3.4"/><circle cx="453.1" cy="1996.6" r="3.4"/><circle cx="431.6" cy="2070.1" r="3.4"/><circle cx="438.8" cy="2021.7" r="3.4"/><circle cx="431.5" cy="2061.8" r="3.4"/><circle cx="443.7" cy="2002.0" r="3.4"/><circle cx="413.0" cy="2095.9" r="3.4"/><circle cx="470.3" cy="2000.1" r="3.4"/><circle cx="436.9" cy="2071.7" r="3.4"/><circle cx="449.6" cy="2025.5" r="3.4"/><circle cx="413.5" cy="2107.0" r="3.4"/><circle cx="460.7" cy="1988.5" r="3.4"/><circle cx="452.6" cy="2001.5" r="3.4"/><circle cx="418.3" cy="2105.3" r="3.4"/><circle cx="453.8" cy="2001.1" r="3.4"/><circle cx="420.6" cy="2104.9" r="3.4"/><circle cx="418.0" cy="2091.6" r="3.4"/><circle cx="450.6" cy="1983.6" r="3.4"/><circle cx="425.2" cy="2074.3" r="3.4"/><circle cx="422.1" cy="2040.1" r="3.4"/><circle cx="434.4" cy="2089.9" r="3.4"/><circle cx="445.3" cy="2046.6" r="3.4"/><circle cx="470.3" cy="1960.2" r="3.4"/><circle cx="432.9" cy="2059.2" r="3.4"/><circle cx="433.6" cy="2048.6" r="3.4"/><circle cx="418.9" cy="2091.6" r="3.4"/><circle cx="440.0" cy="2012.2" r="3.4"/><circle cx="467.8" cy="1968.2" r="3.4"/><circle cx="461.6" cy="1954.0" r="3.4"/><circle cx="437.6" cy="2027.5" r="3.4"/><circle cx="426.0" cy="2093.5" r="3.4"/><circle cx="434.8" cy="2086.6" r="3.4"/><circle cx="466.8" cy="1989.9" r="3.4"/><circle cx="425.5" cy="2092.5" r="3.4"/><circle cx="453.9" cy="1974.6" r="3.4"/><circle cx="466.4" cy="2012.1" r="3.4"/><circle cx="436.2" cy="2087.0" r="3.4"/><circle cx="460.3" cy="1984.5" r="3.4"/><circle cx="415.7" cy="2103.2" r="3.4"/><circle cx="425.7" cy="2094.5" r="3.4"/><circle cx="414.3" cy="2087.6" r="3.4"/><circle cx="465.8" cy="2016.1" r="3.4"/><circle cx="419.3" cy="2101.1" r="3.4"/><circle cx="467.6" cy="1984.4" r="3.4"/><circle cx="463.8" cy="1965.6" r="3.4"/><circle cx="462.7" cy="1978.2" r="3.4"/><circle cx="414.6" cy="2096.5" r="3.4"/><circle cx="468.9" cy="1979.9" r="3.4"/><circle cx="434.6" cy="2089.1" r="3.4"/><circle cx="465.4" cy="2018.7" r="3.4"/><circle cx="429.3" cy="2031.9" r="3.4"/><circle cx="435.4" cy="2079.4" r="3.4"/><circle cx="471.1" cy="1978.9" r="3.4"/><circle cx="452.5" cy="2064.6" r="3.4"/><circle cx="461.6" cy="2032.3" r="3.4"/><circle cx="462.4" cy="1962.3" r="3.4"/><circle cx="427.1" cy="2090.3" r="3.4"/><circle cx="440.2" cy="2087.4" r="3.4"/><circle cx="423.6" cy="2106.2" r="3.4"/><circle cx="461.7" cy="2023.8" r="3.4"/><circle cx="413.0" cy="2083.0" r="3.4"/><circle cx="414.2" cy="2085.1" r="3.4"/><circle cx="468.0" cy="2011.6" r="3.4"/><circle cx="460.5" cy="1982.0" r="3.4"/><circle cx="420.2" cy="2101.3" r="3.4"/><circle cx="462.9" cy="1988.3" r="3.4"/><circle cx="424.9" cy="2098.1" r="3.4"/><circle cx="422.0" cy="2077.9" r="3.4"/><circle cx="420.0" cy="2090.5" r="3.4"/><circle cx="453.0" cy="2013.1" r="3.4"/><circle cx="448.2" cy="2032.8" r="3.4"/><circle cx="417.3" cy="2052.9" r="3.4"/><circle cx="453.8" cy="1983.9" r="3.4"/><circle cx="415.4" cy="2100.1" r="3.4"/><circle cx="459.1" cy="2019.1" r="3.4"/><circle cx="419.9" cy="2080.2" r="3.4"/><circle cx="456.7" cy="2038.6" r="3.4"/><circle cx="419.3" cy="2089.7" r="3.4"/><circle cx="451.2" cy="2024.6" r="3.4"/><circle cx="413.0" cy="2089.3" r="3.4"/><circle cx="425.4" cy="2102.5" r="3.4"/><circle cx="425.2" cy="2068.8" r="3.4"/><circle cx="421.0" cy="2099.2" r="3.4"/><circle cx="433.3" cy="2086.4" r="3.4"/><circle cx="425.7" cy="2083.5" r="3.4"/><circle cx="418.6" cy="2090.9" r="3.4"/><circle cx="431.2" cy="2024.8" r="3.4"/><circle cx="432.0" cy="2075.3" r="3.4"/><circle cx="455.8" cy="2039.1" r="3.4"/><circle cx="454.2" cy="1989.3" r="3.4"/><circle cx="453.3" cy="2050.1" r="3.4"/><circle cx="419.1" cy="2056.8" r="3.4"/><circle cx="455.6" cy="2044.2" r="3.4"/><circle cx="460.7" cy="1998.7" r="3.4"/><circle cx="441.8" cy="2006.1" r="3.4"/><circle cx="472.2" cy="1968.6" r="3.4"/><circle cx="454.5" cy="2057.3" r="3.4"/><circle cx="455.7" cy="2052.2" r="3.4"/><circle cx="439.5" cy="2075.5" r="3.4"/><circle cx="454.7" cy="1977.3" r="3.4"/><circle cx="421.5" cy="2075.0" r="3.4"/><circle cx="451.9" cy="2055.5" r="3.4"/><circle cx="436.0" cy="2039.3" r="3.4"/><circle cx="419.5" cy="2054.7" r="3.4"/><circle cx="470.6" cy="1972.3" r="3.4"/><circle cx="424.6" cy="2037.6" r="3.4"/><circle cx="427.1" cy="2074.9" r="3.4"/><circle cx="431.8" cy="2063.9" r="3.4"/><circle cx="415.6" cy="2078.1" r="3.4"/><circle cx="452.3" cy="2039.7" r="3.4"/><circle cx="420.3" cy="2073.7" r="3.4"/><circle cx="466.7" cy="2010.0" r="3.4"/><circle cx="450.9" cy="1996.8" r="3.4"/><circle cx="427.3" cy="2077.6" r="3.4"/><circle cx="451.2" cy="1986.7" r="3.4"/><circle cx="465.7" cy="1971.1" r="3.4"/><circle cx="440.0" cy="2057.3" r="3.4"/><circle cx="416.3" cy="2092.0" r="3.4"/><circle cx="465.3" cy="2001.2" r="3.4"/><circle cx="457.1" cy="1998.5" r="3.4"/><circle cx="423.0" cy="2050.0" r="3.4"/><circle cx="468.0" cy="1994.0" r="3.4"/><circle cx="466.4" cy="1995.1" r="3.4"/><circle cx="424.9" cy="2087.4" r="3.4"/><circle cx="437.9" cy="2075.9" r="3.4"/><circle cx="444.4" cy="2048.1" r="3.4"/><circle cx="435.5" cy="2066.9" r="3.4"/><circle cx="432.4" cy="2087.0" r="3.4"/><circle cx="432.0" cy="2089.8" r="3.4"/><circle cx="458.8" cy="2008.0" r="3.4"/><circle cx="424.4" cy="2095.6" r="3.4"/><circle cx="470.3" cy="1967.7" r="3.4"/><circle cx="424.1" cy="2074.8" r="3.4"/><circle cx="421.4" cy="2104.2" r="3.4"/><circle cx="465.0" cy="1980.4" r="3.4"/><circle cx="423.1" cy="2032.6" r="3.4"/><circle cx="445.1" cy="2082.3" r="3.4"/><circle cx="443.0" cy="2023.5" r="3.4"/><circle cx="425.3" cy="2084.3" r="3.4"/><circle cx="460.8" cy="2019.2" r="3.4"/><circle cx="445.9" cy="2047.6" r="3.4"/><circle cx="454.8" cy="1989.5" r="3.4"/><circle cx="414.8" cy="2071.5" r="3.4"/><circle cx="426.4" cy="2096.0" r="3.4"/><circle cx="433.4" cy="2074.4" r="3.4"/><circle cx="457.0" cy="1988.3" r="3.4"/><circle cx="467.6" cy="1988.5" r="3.4"/><circle cx="458.5" cy="1996.6" r="3.4"/><circle cx="456.3" cy="2008.3" r="3.4"/><circle cx="465.4" cy="1962.0" r="3.4"/><circle cx="421.2" cy="2105.1" r="3.4"/><circle cx="428.9" cy="2036.9" r="3.4"/><circle cx="452.4" cy="2040.2" r="3.4"/><circle cx="465.3" cy="1974.0" r="3.4"/><circle cx="467.7" cy="1992.9" r="3.4"/><circle cx="413.4" cy="2092.0" r="3.4"/><circle cx="463.6" cy="2001.1" r="3.4"/><circle cx="428.0" cy="2088.7" r="3.4"/><circle cx="440.3" cy="2070.0" r="3.4"/><circle cx="438.9" cy="2073.3" r="3.4"/><circle cx="440.2" cy="2079.2" r="3.4"/><circle cx="452.4" cy="2044.1" r="3.4"/><circle cx="425.4" cy="2095.7" r="3.4"/><circle cx="454.1" cy="2045.6" r="3.4"/><circle cx="423.9" cy="2104.1" r="3.4"/><circle cx="415.5" cy="2090.0" r="3.4"/><circle cx="461.2" cy="1984.6" r="3.4"/><circle cx="436.9" cy="2074.5" r="3.4"/><circle cx="432.2" cy="2023.5" r="3.4"/><circle cx="425.3" cy="2026.5" r="3.4"/><circle cx="429.2" cy="2097.9" r="3.4"/><circle cx="449.1" cy="2054.4" r="3.4"/><circle cx="441.7" cy="2030.6" r="3.4"/><circle cx="464.3" cy="1973.9" r="3.4"/><circle cx="413.0" cy="2066.8" r="3.4"/><circle cx="441.5" cy="2075.1" r="3.4"/><circle cx="434.9" cy="2034.3" r="3.4"/><circle cx="443.1" cy="2020.7" r="3.4"/><circle cx="429.0" cy="2037.5" r="3.4"/><circle cx="451.3" cy="1994.5" r="3.4"/><circle cx="436.7" cy="2039.7" r="3.4"/><circle cx="471.2" cy="1980.3" r="3.4"/><circle cx="419.3" cy="2075.2" r="3.4"/><circle cx="470.7" cy="1972.0" r="3.4"/><circle cx="437.8" cy="2014.1" r="3.4"/><circle cx="454.6" cy="2013.2" r="3.4"/><circle cx="427.9" cy="2028.3" r="3.4"/><circle cx="454.7" cy="1985.8" r="3.4"/><circle cx="469.3" cy="1965.7" r="3.4"/><circle cx="427.4" cy="2022.9" r="3.4"/><circle cx="434.1" cy="2061.3" r="3.4"/><circle cx="422.2" cy="2050.0" r="3.4"/><circle cx="434.1" cy="2070.3" r="3.4"/><circle cx="438.1" cy="2021.3" r="3.4"/><circle cx="446.6" cy="1993.7" r="3.4"/><circle cx="436.6" cy="2015.3" r="3.4"/><circle cx="416.2" cy="2089.1" r="3.4"/><circle cx="427.5" cy="2082.2" r="3.4"/><circle cx="413.0" cy="2082.3" r="3.4"/><circle cx="425.6" cy="2052.0" r="3.4"/><circle cx="419.8" cy="2103.5" r="3.4"/><circle cx="468.4" cy="1980.6" r="3.4"/><circle cx="420.4" cy="2096.9" r="3.4"/><circle cx="436.4" cy="2013.0" r="3.4"/><circle cx="465.1" cy="1970.0" r="3.4"/><circle cx="419.5" cy="2053.9" r="3.4"/><circle cx="438.3" cy="2077.9" r="3.4"/><circle cx="437.5" cy="2079.7" r="3.4"/><circle cx="423.4" cy="2106.2" r="3.4"/><circle cx="434.2" cy="2020.2" r="3.4"/><circle cx="460.7" cy="2032.9" r="3.4"/><circle cx="425.6" cy="2100.3" r="3.4"/><circle cx="462.6" cy="1975.5" r="3.4"/><circle cx="446.4" cy="2066.2" r="3.4"/><circle cx="443.5" cy="1995.3" r="3.4"/><circle cx="432.5" cy="2019.8" r="3.4"/><circle cx="437.7" cy="2059.4" r="3.4"/><circle cx="460.8" cy="2001.5" r="3.4"/><circle cx="413.1" cy="2071.6" r="3.4"/><circle cx="461.6" cy="2021.6" r="3.4"/><circle cx="456.2" cy="1979.0" r="3.4"/><circle cx="415.2" cy="2060.6" r="3.4"/><circle cx="456.4" cy="2019.7" r="3.4"/><circle cx="456.0" cy="1995.6" r="3.4"/><circle cx="441.3" cy="2017.5" r="3.4"/><circle cx="448.2" cy="2049.6" r="3.4"/><circle cx="421.4" cy="2085.4" r="3.4"/><circle cx="443.6" cy="2023.5" r="3.4"/><circle cx="462.4" cy="1962.9" r="3.4"/><circle cx="432.2" cy="2030.6" r="3.4"/><circle cx="449.9" cy="1981.9" r="3.4"/><circle cx="426.7" cy="2050.6" r="3.4"/><circle cx="429.2" cy="2084.9" r="3.4"/><circle cx="422.6" cy="2055.1" r="3.4"/><circle cx="450.6" cy="2057.5" r="3.4"/><circle cx="419.5" cy="2050.0" r="3.4"/><circle cx="419.0" cy="2097.8" r="3.4"/><circle cx="419.9" cy="2044.1" r="3.4"/><circle cx="436.7" cy="2032.9" r="3.4"/><circle cx="426.1" cy="2042.3" r="3.4"/><circle cx="414.2" cy="2058.8" r="3.4"/><circle cx="423.8" cy="2079.9" r="3.4"/><circle cx="443.6" cy="2050.0" r="3.4"/><circle cx="436.2" cy="2014.5" r="3.4"/><circle cx="442.7" cy="2067.6" r="3.4"/><circle cx="463.0" cy="1965.3" r="3.4"/><circle cx="414.6" cy="2101.6" r="3.4"/><circle cx="426.5" cy="2093.7" r="3.4"/><circle cx="431.3" cy="2029.4" r="3.4"/><circle cx="461.8" cy="1970.8" r="3.4"/><circle cx="436.1" cy="2016.0" r="3.4"/><circle cx="451.4" cy="2063.2" r="3.4"/><circle cx="452.1" cy="2000.4" r="3.4"/><circle cx="465.3" cy="2026.8" r="3.4"/><circle cx="420.5" cy="2047.1" r="3.4"/><circle cx="469.2" cy="1971.9" r="3.4"/><circle cx="457.3" cy="1979.7" r="3.4"/><circle cx="452.4" cy="2039.0" r="3.4"/><circle cx="459.9" cy="2035.7" r="3.4"/><circle cx="433.6" cy="2056.4" r="3.4"/><circle cx="445.6" cy="2005.5" r="3.4"/><circle cx="471.7" cy="1969.5" r="3.4"/><circle cx="442.0" cy="2061.3" r="3.4"/><circle cx="445.4" cy="2006.6" r="3.4"/><circle cx="466.2" cy="2007.4" r="3.4"/><circle cx="433.3" cy="2025.5" r="3.4"/><circle cx="437.0" cy="2067.5" r="3.4"/><circle cx="468.5" cy="1973.0" r="3.4"/><circle cx="442.4" cy="2016.6" r="3.4"/><circle cx="418.2" cy="2091.4" r="3.4"/><circle cx="444.3" cy="2022.9" r="3.4"/><circle cx="464.0" cy="2007.3" r="3.4"/><circle cx="456.6" cy="2006.4" r="3.4"/><circle cx="414.4" cy="2102.5" r="3.4"/><circle cx="440.8" cy="2006.3" r="3.4"/><circle cx="419.4" cy="2080.7" r="3.4"/><circle cx="436.9" cy="2071.2" r="3.4"/><circle cx="422.3" cy="2107.0" r="3.4"/><circle cx="464.6" cy="2015.3" r="3.4"/><circle cx="454.1" cy="2010.5" r="3.4"/><circle cx="449.0" cy="2007.4" r="3.4"/><circle cx="464.3" cy="2015.1" r="3.4"/><circle cx="464.2" cy="1975.9" r="3.4"/><circle cx="420.1" cy="2040.3" r="3.4"/><circle cx="466.0" cy="2009.1" r="3.4"/><circle cx="468.4" cy="1993.5" r="3.4"/><circle cx="454.3" cy="2002.3" r="3.4"/><circle cx="455.5" cy="2035.7" r="3.4"/><circle cx="427.8" cy="2089.5" r="3.4"/><circle cx="415.3" cy="2085.3" r="3.4"/><circle cx="437.0" cy="2058.1" r="3.4"/><circle cx="423.2" cy="2095.0" r="3.4"/><circle cx="437.2" cy="2018.9" r="3.4"/><circle cx="418.4" cy="2101.5" r="3.4"/><circle cx="451.4" cy="2033.4" r="3.4"/><circle cx="440.9" cy="2045.1" r="3.4"/><circle cx="419.2" cy="2078.9" r="3.4"/><circle cx="413.0" cy="2085.4" r="3.4"/><circle cx="422.7" cy="2042.5" r="3.4"/><circle cx="416.9" cy="2083.4" r="3.4"/><circle cx="432.1" cy="2088.9" r="3.4"/><circle cx="461.4" cy="2048.6" r="3.4"/><circle cx="419.9" cy="2094.6" r="3.4"/><circle cx="452.5" cy="2051.8" r="3.4"/><circle cx="467.8" cy="1968.8" r="3.4"/><circle cx="444.4" cy="2076.8" r="3.4"/><circle cx="431.1" cy="2040.8" r="3.4"/><circle cx="468.2" cy="1975.8" r="3.4"/><circle cx="416.3" cy="2061.2" r="3.4"/><circle cx="455.4" cy="1973.5" r="3.4"/><circle cx="433.7" cy="2090.4" r="3.4"/><circle cx="419.1" cy="2047.9" r="3.4"/><circle cx="465.6" cy="2007.1" r="3.4"/><circle cx="418.0" cy="2053.0" r="3.4"/><circle cx="469.7" cy="1967.8" r="3.4"/><circle cx="464.2" cy="2025.5" r="3.4"/><circle cx="429.1" cy="2051.8" r="3.4"/><circle cx="413.0" cy="2100.5" r="3.4"/><circle cx="430.7" cy="2031.9" r="3.4"/><circle cx="423.1" cy="2078.0" r="3.4"/><circle cx="420.1" cy="2101.2" r="3.4"/><circle cx="446.3" cy="2038.0" r="3.4"/><circle cx="451.5" cy="2030.6" r="3.4"/><circle cx="426.1" cy="2105.9" r="3.4"/><circle cx="414.1" cy="2079.9" r="3.4"/><circle cx="451.3" cy="2001.5" r="3.4"/><circle cx="438.4" cy="2055.6" r="3.4"/><circle cx="419.5" cy="2096.0" r="3.4"/><circle cx="460.7" cy="1967.4" r="3.4"/><circle cx="432.9" cy="2026.1" r="3.4"/><circle cx="435.5" cy="2017.8" r="3.4"/><circle cx="426.2" cy="2027.7" r="3.4"/><circle cx="430.2" cy="2010.0" r="3.4"/><circle cx="420.7" cy="1985.2" r="3.4"/><circle cx="431.1" cy="2009.2" r="3.4"/><circle cx="438.8" cy="1998.7" r="3.4"/><circle cx="434.5" cy="2025.7" r="3.4"/><circle cx="425.6" cy="2003.6" r="3.4"/><circle cx="432.2" cy="2008.1" r="3.4"/><circle cx="421.5" cy="1994.9" r="3.4"/><circle cx="436.4" cy="1993.7" r="3.4"/><circle cx="422.0" cy="2021.0" r="3.4"/><circle cx="436.7" cy="2023.3" r="3.4"/><circle cx="438.5" cy="2029.7" r="3.4"/><circle cx="428.1" cy="2009.7" r="3.4"/><circle cx="424.4" cy="1988.0" r="3.4"/><circle cx="420.2" cy="2017.7" r="3.4"/><circle cx="428.7" cy="1999.9" r="3.4"/><circle cx="420.8" cy="2014.5" r="3.4"/><circle cx="420.2" cy="2012.9" r="3.4"/><circle cx="437.8" cy="1999.3" r="3.4"/><circle cx="427.9" cy="2012.7" r="3.4"/><circle cx="424.7" cy="2011.3" r="3.4"/><circle cx="430.4" cy="2001.4" r="3.4"/></g>
<g fill="#ee0000" fill-opacity="0.55"><circle cx="296.6" cy="2015.8" r="3.4"/><circle cx="289.1" cy="2006.6" r="3.4"/><circle cx="294.3" cy="2031.7" r="3.4"/><circle cx="299.5" cy="2036.8" r="3.4"/><circle cx="292.2" cy="2031.4" r="3.4"/><circle cx="310.1" cy="2017.6" r="3.4"/><circle cx="297.6" cy="2009.6" r="3.4"/><circle cx="302.2" cy="2003.0" r="3.4"/><circle cx="303.6" cy="2036.9" r="3.4"/><circle cx="309.6" cy="2001.1" r="3.4"/><circle cx="301.9" cy="2007.4" r="3.4"/><circle cx="310.3" cy="1997.9" r="3.4"/><circle cx="290.8" cy="1995.0" r="3.4"/><circle cx="301.2" cy="1995.6" r="3.4"/><circle cx="303.0" cy="2014.7" r="3.4"/><circle cx="303.2" cy="2040.2" r="3.4"/><circle cx="302.2" cy="2021.7" r="3.4"/><circle cx="313.0" cy="2018.1" r="3.4"/><circle cx="307.6" cy="2012.7" r="3.4"/><circle cx="294.4" cy="2033.4" r="3.4"/><circle cx="306.6" cy="2008.8" r="3.4"/><circle cx="300.2" cy="2020.0" r="3.4"/><circle cx="298.5" cy="2019.6" r="3.4"/><circle cx="304.9" cy="2037.2" r="3.4"/><circle cx="308.4" cy="2025.3" r="3.4"/><circle cx="293.0" cy="2020.2" r="3.4"/><circle cx="299.7" cy="2003.1" r="3.4"/><circle cx="311.8" cy="2027.6" r="3.4"/><circle cx="312.2" cy="2031.5" r="3.4"/><circle cx="300.6" cy="2012.3" r="3.4"/><circle cx="294.3" cy="2018.9" r="3.4"/><circle cx="290.5" cy="2012.8" r="3.4"/><circle cx="290.0" cy="2004.5" r="3.4"/><circle cx="310.8" cy="2012.4" r="3.4"/><circle cx="300.3" cy="2017.2" r="3.4"/><circle cx="290.1" cy="2044.0" r="3.4"/><circle cx="296.8" cy="2029.9" r="3.4"/><circle cx="301.5" cy="2036.3" r="3.4"/><circle cx="309.0" cy="2007.4" r="3.4"/><circle cx="302.1" cy="2002.9" r="3.4"/><circle cx="304.7" cy="2012.6" r="3.4"/><circle cx="304.7" cy="2036.6" r="3.4"/><circle cx="301.4" cy="2013.2" r="3.4"/><circle cx="310.8" cy="2020.3" r="3.4"/><circle cx="297.5" cy="2038.3" r="3.4"/><circle cx="300.7" cy="2018.6" r="3.4"/><circle cx="303.5" cy="2019.6" r="3.4"/><circle cx="292.3" cy="2002.4" r="3.4"/><circle cx="290.9" cy="2026.8" r="3.4"/><circle cx="294.1" cy="2003.5" r="3.4"/><circle cx="297.7" cy="2030.6" r="3.4"/><circle cx="291.8" cy="2005.7" r="3.4"/><circle cx="308.5" cy="2030.7" r="3.4"/><circle cx="300.6" cy="2018.4" r="3.4"/><circle cx="294.1" cy="2002.2" r="3.4"/><circle cx="309.0" cy="1995.1" r="3.4"/><circle cx="290.0" cy="2023.2" r="3.4"/><circle cx="292.9" cy="2026.1" r="3.4"/><circle cx="289.9" cy="2023.2" r="3.4"/><circle cx="290.3" cy="2007.2" r="3.4"/><circle cx="293.3" cy="2042.9" r="3.4"/><circle cx="303.4" cy="2022.7" r="3.4"/><circle cx="289.4" cy="2030.7" r="3.4"/><circle cx="304.9" cy="2008.5" r="3.4"/><circle cx="291.1" cy="2016.9" r="3.4"/><circle cx="312.8" cy="2038.2" r="3.4"/><circle cx="293.1" cy="2036.3" r="3.4"/><circle cx="303.4" cy="2034.5" r="3.4"/><circle cx="308.7" cy="2003.3" r="3.4"/><circle cx="304.8" cy="2007.5" r="3.4"/><circle cx="305.0" cy="2015.0" r="3.4"/><circle cx="300.0" cy="2060.0" r="3.4"/><circle cx="310.0" cy="2080.0" r="3.4"/><circle cx="283.0" cy="1955.0" r="3.4"/><circle cx="295.0" cy="1945.0" r="3.4"/><circle cx="272.0" cy="1935.0" r="3.4"/><circle cx="275.0" cy="1915.0" r="3.4"/><circle cx="280.0" cy="1885.0" r="3.4"/><circle cx="288.0" cy="1875.0" r="3.4"/><circle cx="278.0" cy="1860.0" r="3.4"/><circle cx="258.0" cy="1827.0" r="3.4"/><circle cx="300.0" cy="1905.0" r="3.4"/><circle cx="312.0" cy="1925.0" r="3.4"/><circle cx="306.0" cy="1975.0" r="3.4"/><circle cx="276.0" cy="1960.0" r="3.4"/><circle cx="266.0" cy="1835.0" r="3.4"/><circle cx="270.0" cy="1790.0" r="3.4"/><circle cx="274.0" cy="1800.0" r="3.4"/><circle cx="275.0" cy="1782.0" r="3.4"/><circle cx="285.0" cy="1845.0" r="3.4"/><circle cx="300.0" cy="1870.0" r="3.4"/><circle cx="246.0" cy="1735.0" r="3.4"/><circle cx="261.0" cy="1735.0" r="3.4"/><circle cx="300.0" cy="1735.0" r="3.4"/><circle cx="228.0" cy="1780.0" r="3.4"/><circle cx="266.0" cy="1825.0" r="3.4"/><circle cx="251.0" cy="1866.0" r="3.4"/><circle cx="232.0" cy="1868.0" r="3.4"/><circle cx="272.0" cy="1888.0" r="3.4"/><circle cx="250.0" cy="1885.0" r="3.4"/><circle cx="182.0" cy="1870.0" r="3.4"/><circle cx="265.0" cy="2063.0" r="3.4"/><circle cx="270.0" cy="2005.0" r="3.4"/><circle cx="296.0" cy="2012.0" r="3.4"/><circle cx="495.9" cy="1949.5" r="3.4"/><circle cx="480.1" cy="1999.3" r="3.4"/><circle cx="482.3" cy="1930.6" r="3.4"/><circle cx="488.2" cy="1982.7" r="3.4"/><circle cx="492.7" cy="1942.9" r="3.4"/><circle cx="506.7" cy="1967.5" r="3.4"/><circle cx="488.0" cy="1942.7" r="3.4"/><circle cx="490.5" cy="1970.5" r="3.4"/><circle cx="508.6" cy="1939.4" r="3.4"/><circle cx="480.3" cy="1961.8" r="3.4"/><circle cx="491.9" cy="1984.0" r="3.4"/><circle cx="487.6" cy="2002.8" r="3.4"/><circle cx="484.1" cy="1942.6" r="3.4"/><circle cx="489.0" cy="1956.1" r="3.4"/><circle cx="486.4" cy="2018.8" r="3.4"/><circle cx="488.2" cy="1992.4" r="3.4"/><circle cx="495.0" cy="1940.4" r="3.4"/><circle cx="485.3" cy="1978.9" r="3.4"/><circle cx="495.7" cy="1996.0" r="3.4"/><circle cx="497.8" cy="1940.9" r="3.4"/><circle cx="484.8" cy="2021.9" r="3.4"/><circle cx="497.6" cy="1962.3" r="3.4"/><circle cx="492.7" cy="1926.9" r="3.4"/><circle cx="479.8" cy="1987.8" r="3.4"/><circle cx="486.5" cy="2036.1" r="3.4"/><circle cx="498.0" cy="1978.9" r="3.4"/><circle cx="495.0" cy="1930.2" r="3.4"/><circle cx="500.6" cy="1953.4" r="3.4"/><circle cx="478.3" cy="2030.1" r="3.4"/><circle cx="476.3" cy="2031.4" r="3.4"/><circle cx="483.0" cy="2031.5" r="3.4"/><circle cx="497.0" cy="1969.5" r="3.4"/><circle cx="489.3" cy="2035.9" r="3.4"/><circle cx="492.7" cy="2000.9" r="3.4"/><circle cx="493.1" cy="1972.0" r="3.4"/><circle cx="478.6" cy="2004.1" r="3.4"/><circle cx="497.8" cy="2014.9" r="3.4"/><circle cx="503.0" cy="1938.9" r="3.4"/><circle cx="516.8" cy="1914.6" r="3.4"/><circle cx="491.5" cy="1981.0" r="3.4"/><circle cx="488.6" cy="2038.4" r="3.4"/><circle cx="486.0" cy="1960.3" r="3.4"/><circle cx="510.8" cy="1924.5" r="3.4"/><circle cx="488.4" cy="2028.8" r="3.4"/><circle cx="487.8" cy="2037.1" r="3.4"/><circle cx="494.4" cy="2004.9" r="3.4"/><circle cx="513.2" cy="1926.8" r="3.4"/><circle cx="480.7" cy="2015.2" r="3.4"/><circle cx="506.9" cy="1967.4" r="3.4"/><circle cx="501.5" cy="1962.8" r="3.4"/><circle cx="495.4" cy="1981.7" r="3.4"/><circle cx="521.8" cy="1923.6" r="3.4"/><circle cx="484.2" cy="1994.4" r="3.4"/><circle cx="486.8" cy="1969.5" r="3.4"/><circle cx="491.8" cy="1975.7" r="3.4"/><circle cx="491.2" cy="2017.2" r="3.4"/><circle cx="486.9" cy="1984.4" r="3.4"/><circle cx="487.1" cy="2000.1" r="3.4"/><circle cx="493.8" cy="1974.7" r="3.4"/><circle cx="488.6" cy="1986.9" r="3.4"/><circle cx="480.3" cy="1998.3" r="3.4"/><circle cx="482.5" cy="1967.0" r="3.4"/><circle cx="481.9" cy="2008.2" r="3.4"/><circle cx="491.4" cy="1931.3" r="3.4"/><circle cx="488.2" cy="1999.1" r="3.4"/><circle cx="502.2" cy="1953.6" r="3.4"/><circle cx="492.2" cy="1967.0" r="3.4"/><circle cx="499.1" cy="1939.8" r="3.4"/><circle cx="497.3" cy="1983.1" r="3.4"/><circle cx="477.7" cy="2014.0" r="3.4"/><circle cx="503.8" cy="1939.8" r="3.4"/><circle cx="485.7" cy="2018.1" r="3.4"/><circle cx="504.5" cy="1949.4" r="3.4"/><circle cx="485.0" cy="2006.4" r="3.4"/><circle cx="487.1" cy="2021.8" r="3.4"/><circle cx="480.4" cy="1933.0" r="3.4"/><circle cx="486.2" cy="2010.6" r="3.4"/><circle cx="491.2" cy="2012.0" r="3.4"/><circle cx="484.2" cy="1983.1" r="3.4"/><circle cx="484.6" cy="2029.1" r="3.4"/><circle cx="483.5" cy="1926.4" r="3.4"/><circle cx="484.8" cy="2030.0" r="3.4"/><circle cx="479.2" cy="2028.7" r="3.4"/><circle cx="490.7" cy="2027.5" r="3.4"/><circle cx="485.3" cy="2003.0" r="3.4"/><circle cx="484.9" cy="1944.3" r="3.4"/><circle cx="516.0" cy="1933.7" r="3.4"/><circle cx="492.5" cy="2013.4" r="3.4"/><circle cx="501.2" cy="1959.9" r="3.4"/><circle cx="495.5" cy="1979.6" r="3.4"/><circle cx="491.3" cy="1998.6" r="3.4"/><circle cx="483.4" cy="2002.2" r="3.4"/><circle cx="481.6" cy="2044.6" r="3.4"/><circle cx="487.7" cy="2028.3" r="3.4"/><circle cx="484.4" cy="1989.1" r="3.4"/><circle cx="481.0" cy="2039.5" r="3.4"/><circle cx="497.2" cy="1969.9" r="3.4"/><circle cx="485.0" cy="1996.8" r="3.4"/><circle cx="492.0" cy="2012.5" r="3.4"/><circle cx="494.2" cy="1992.7" r="3.4"/><circle cx="488.4" cy="1992.8" r="3.4"/><circle cx="490.2" cy="1962.8" r="3.4"/><circle cx="482.2" cy="2019.4" r="3.4"/><circle cx="485.7" cy="2028.0" r="3.4"/><circle cx="494.5" cy="1953.1" r="3.4"/><circle cx="497.9" cy="2006.0" r="3.4"/><circle cx="503.1" cy="1985.7" r="3.4"/><circle cx="478.6" cy="2028.1" r="3.4"/><circle cx="501.3" cy="1987.7" r="3.4"/><circle cx="482.7" cy="2036.1" r="3.4"/><circle cx="522.0" cy="1897.0" r="3.4"/><circle cx="528.0" cy="1900.0" r="3.4"/><circle cx="510.0" cy="1905.0" r="3.4"/><circle cx="500.0" cy="1880.0" r="3.4"/><circle cx="517.0" cy="1890.0" r="3.4"/><circle cx="506.0" cy="1872.0" r="3.4"/><circle cx="520.0" cy="1862.0" r="3.4"/><circle cx="532.0" cy="1857.0" r="3.4"/><circle cx="540.0" cy="1860.0" r="3.4"/><circle cx="514.0" cy="1858.0" r="3.4"/><circle cx="524.0" cy="1843.0" r="3.4"/><circle cx="532.0" cy="1841.0" r="3.4"/><circle cx="518.0" cy="1830.0" r="3.4"/><circle cx="528.0" cy="1834.0" r="3.4"/><circle cx="540.0" cy="1843.0" r="3.4"/><circle cx="549.0" cy="1849.0" r="3.4"/><circle cx="558.0" cy="1813.0" r="3.4"/><circle cx="559.0" cy="1795.0" r="3.4"/><circle cx="548.0" cy="1762.0" r="3.4"/><circle cx="556.0" cy="1768.0" r="3.4"/><circle cx="552.0" cy="1757.0" r="3.4"/><circle cx="546.0" cy="1750.0" r="3.4"/><circle cx="562.0" cy="1757.0" r="3.4"/><circle cx="580.0" cy="1735.0" r="3.4"/><circle cx="583.0" cy="1735.0" r="3.4"/><circle cx="576.0" cy="1735.0" r="3.4"/><circle cx="596.0" cy="1735.0" r="3.4"/><circle cx="644.0" cy="1735.0" r="3.4"/><circle cx="553.0" cy="1740.0" r="3.4"/><circle cx="556.0" cy="1738.0" r="3.4"/><circle cx="548.0" cy="1742.0" r="3.4"/><circle cx="577.0" cy="1737.0" r="3.4"/><circle cx="520.0" cy="2037.0" r="3.4"/><circle cx="481.0" cy="2063.0" r="3.4"/></g>
<g fill="#4d4d4d" fill-opacity="0.60"><circle cx="367.0" cy="2113.0" r="3.4"/><circle cx="372.0" cy="2112.0" r="3.4"/><circle cx="375.0" cy="2114.0" r="3.4"/><circle cx="414.0" cy="2107.0" r="3.4"/><circle cx="417.0" cy="2108.0" r="3.4"/></g>
<line x1="313.4" y1="1716.0" x2="313.4" y2="2132.2" stroke="#000" stroke-width="2.00" stroke-dasharray="14,8"/>
<line x1="474.6" y1="1716.0" x2="474.6" y2="2132.2" stroke="#000" stroke-width="2.00" stroke-dasharray="14,8"/>
<line x1="91.5" y1="2106.4" x2="695.6" y2="2106.4" stroke="#000" stroke-width="2.00" stroke-dasharray="14,8"/>
<line x1="91.5" y1="1710.2" x2="91.5" y2="2133.2" stroke="#000" stroke-width="2.00" />
<line x1="90.5" y1="2132.2" x2="695.6" y2="2132.2" stroke="#000" stroke-width="2.00" />
<line x1="86.0" y1="2114.0" x2="91.5" y2="2114.0" stroke="#333" stroke-width="1.60" />
<text x="82.5" y="2119.8" font-size="22.50" text-anchor="end" fill="#3d3d3d" stroke="#3d3d3d" stroke-width="0.4">0</text>
<line x1="86.0" y1="1987.1" x2="91.5" y2="1987.1" stroke="#333" stroke-width="1.60" />
<text x="82.5" y="1992.9" font-size="22.50" text-anchor="end" fill="#3d3d3d" stroke="#3d3d3d" stroke-width="0.4">100</text>
<line x1="86.0" y1="1860.2" x2="91.5" y2="1860.2" stroke="#333" stroke-width="1.60" />
<text x="82.5" y="1866.0" font-size="22.50" text-anchor="end" fill="#3d3d3d" stroke="#3d3d3d" stroke-width="0.4">200</text>
<line x1="86.0" y1="1733.3" x2="91.5" y2="1733.3" stroke="#333" stroke-width="1.60" />
<text x="82.5" y="1739.1" font-size="22.50" text-anchor="end" fill="#3d3d3d" stroke="#3d3d3d" stroke-width="0.4">300</text>
<line x1="91.9" y1="2132.2" x2="91.9" y2="2139.2" stroke="#333" stroke-width="1.60" />
<text x="91.9" y="2160.3" font-size="23.00" text-anchor="middle" fill="#3d3d3d" stroke="#3d3d3d" stroke-width="0.4">−1.5</text>
<line x1="192.6" y1="2132.2" x2="192.6" y2="2139.2" stroke="#333" stroke-width="1.60" />
<text x="192.6" y="2160.3" font-size="23.00" text-anchor="middle" fill="#3d3d3d" stroke="#3d3d3d" stroke-width="0.4">−1</text>
<line x1="293.3" y1="2132.2" x2="293.3" y2="2139.2" stroke="#333" stroke-width="1.60" />
<text x="293.3" y="2160.3" font-size="23.00" text-anchor="middle" fill="#3d3d3d" stroke="#3d3d3d" stroke-width="0.4">−0.5</text>
<line x1="394.0" y1="2132.2" x2="394.0" y2="2139.2" stroke="#333" stroke-width="1.60" />
<text x="394.0" y="2160.3" font-size="23.00" text-anchor="middle" fill="#3d3d3d" stroke="#3d3d3d" stroke-width="0.4">0</text>
<line x1="494.7" y1="2132.2" x2="494.7" y2="2139.2" stroke="#333" stroke-width="1.60" />
<text x="494.7" y="2160.3" font-size="23.00" text-anchor="middle" fill="#3d3d3d" stroke="#3d3d3d" stroke-width="0.4">0.5</text>
<line x1="595.4" y1="2132.2" x2="595.4" y2="2139.2" stroke="#333" stroke-width="1.60" />
<text x="595.4" y="2160.3" font-size="23.00" text-anchor="middle" fill="#3d3d3d" stroke="#3d3d3d" stroke-width="0.4">1</text>
<line x1="696.1" y1="2132.2" x2="696.1" y2="2139.2" stroke="#333" stroke-width="1.60" />
<text x="696.1" y="2160.3" font-size="23.00" text-anchor="middle" fill="#3d3d3d" stroke="#3d3d3d" stroke-width="0.4">1.5</text>
<text x="304.0" y="2190.8" font-size="22.5" stroke="#000" stroke-width="0.4" textLength="181.5" lengthAdjust="spacingAndGlyphs">Log<tspan font-size="16.9" dy="6">2</tspan><tspan dy="-6"> Fold Change</tspan></text>
<text x="27.3" y="2004.0" font-size="26.0" stroke="#000" stroke-width="0.4" textLength="173.6" lengthAdjust="spacingAndGlyphs" transform="rotate(-90 27.3 2004.0)">−Log<tspan font-size="18.7" dy="7">10</tspan><tspan dy="-7"> P-Value</tspan></text>
<text x="634.1" y="2071.2" font-size="17.80" text-anchor="middle" stroke="#000" stroke-width="0.4">Total</text>
<text x="576.0" y="2093.7" font-size="17.96" stroke="#000" stroke-width="0.4">1448 variables</text>
<text x="160.4" y="1714.9" font-size="17.80" stroke="#000" stroke-width="0.4">Pde4b</text>
<text x="254.2" y="1714.9" font-size="17.80" stroke="#000" stroke-width="0.4">Pcdh9</text>
<text x="169.8" y="1760.9" font-size="17.80" stroke="#000" stroke-width="0.4">St18</text>
<text x="200.3" y="1812.0" font-size="17.80" stroke="#000" stroke-width="0.4">Mbp</text>
<text x="202.6" y="1840.2" font-size="17.80" stroke="#000" stroke-width="0.4">Prr5l</text>
<text x="161.8" y="1904.0" font-size="17.80" stroke="#000" stroke-width="0.4">Rnf220</text>
<text x="206.4" y="1930.7" font-size="17.80" stroke="#000" stroke-width="0.4">Frmd5</text>
<text x="206.4" y="2026.6" font-size="17.80" stroke="#000" stroke-width="0.4">Kirrel3</text>
<line x1="218.1" y1="1712.6" x2="246.2" y2="1734.6" stroke="#000" stroke-width="1.60" />
<line x1="266.4" y1="1719.6" x2="261.3" y2="1734.6" stroke="#000" stroke-width="1.60" />
<line x1="206.4" y1="1765.1" x2="228.4" y2="1779.6" stroke="#000" stroke-width="1.60" />
<line x1="240.2" y1="1809.7" x2="266.4" y2="1824.2" stroke="#000" stroke-width="1.60" />
<line x1="232.2" y1="1844.8" x2="250.9" y2="1866.0" stroke="#000" stroke-width="1.60" />
<line x1="213.4" y1="1885.2" x2="232.2" y2="1867.4" stroke="#000" stroke-width="1.60" />
<line x1="237.8" y1="1916.6" x2="273.0" y2="1883.8" stroke="#000" stroke-width="1.60" />
<line x1="244.8" y1="2033.7" x2="265.0" y2="2063.2" stroke="#000" stroke-width="1.60" />
<text x="512.7" y="1714.9" font-size="17.80" fill="#e3262b" stroke="#e3262b" stroke-width="0.4">Ubb</text>
<text x="612.1" y="1712.6" font-size="17.80" fill="#e3262b" stroke="#e3262b" stroke-width="0.4">Nrgn</text>
<text x="615.4" y="1760.4" font-size="17.80" fill="#e3262b" stroke="#e3262b" stroke-width="0.4">Calm1</text>
<text x="571.3" y="1784.3" font-size="17.80" fill="#e3262b" stroke="#e3262b" stroke-width="0.4">Calm2</text>
<text x="478.4" y="1792.3" font-size="17.80" fill="#e3262b" stroke="#e3262b" stroke-width="0.4">Camk1d</text>
<text x="480.8" y="1821.9" font-size="17.80" fill="#e3262b" stroke="#e3262b" stroke-width="0.4">Fth1</text>
<text x="586.3" y="1836.9" font-size="17.80" fill="#e3262b" stroke="#e3262b" stroke-width="0.4">Hspa8</text>
<text x="562.9" y="1908.2" font-size="17.80" fill="#e3262b" stroke="#e3262b" stroke-width="0.4">Hsp90aa1</text>
<text x="555.8" y="1972.9" font-size="17.80" fill="#e3262b" stroke="#e3262b" stroke-width="0.4">Hsp90ab1</text>
<line x1="544.1" y1="1719.6" x2="576.0" y2="1735.0" stroke="#000" stroke-width="1.60" />
<line x1="621.5" y1="1717.3" x2="581.6" y2="1735.0" stroke="#000" stroke-width="1.60" />
<line x1="612.1" y1="1751.0" x2="581.6" y2="1735.0" stroke="#000" stroke-width="1.60" />
<line x1="577.9" y1="1768.9" x2="576.9" y2="1736.0" stroke="#000" stroke-width="1.60" />
<line x1="529.1" y1="1775.9" x2="544.1" y2="1757.1" stroke="#000" stroke-width="1.60" />
<line x1="504.2" y1="1826.5" x2="517.4" y2="1843.9" stroke="#000" stroke-width="1.60" />
<line x1="579.3" y1="1833.1" x2="539.4" y2="1848.6" stroke="#000" stroke-width="1.60" />
<line x1="559.6" y1="1911.9" x2="513.6" y2="1929.7" stroke="#000" stroke-width="1.60" />
<line x1="551.1" y1="1960.2" x2="513.6" y2="1940.0" stroke="#000" stroke-width="1.60" />
<text x="763.3" y="1645.5" font-size="25.00" stroke="#000" stroke-width="0.4" textLength="646.4" lengthAdjust="spacingAndGlyphs">DE Genes in Cluster 15 of PS19-fE4/Syn1-Cre versus PS19-fE4</text>
<circle cx="846.8" cy="1669.4" r="7.00" fill="#b8b8b8" />
<circle cx="920.4" cy="1669.4" r="7.00" fill="#a6d1a6" />
<circle cx="1029.7" cy="1669.4" r="7.00" fill="#a9bbf0" />
<circle cx="1140.9" cy="1669.4" r="7.00" fill="#f5a3a3" />
<text x="863.2" y="1675.2" font-size="16.50" stroke="#000" stroke-width="0.4">NS</text>
<text x="939.2" y="1675.2" font-size="16.5" stroke="#000" stroke-width="0.4">Log<tspan font-size="11.5" dy="4">2</tspan><tspan dy="-4"> FC</tspan></text>
<text x="1046.2" y="1675.2" font-size="16.50" stroke="#000" stroke-width="0.4">p−value</text>
<text x="1157.3" y="1675.2" font-size="15.3" stroke="#000" stroke-width="0.4">p − value and log<tspan font-size="11.5" dy="4">2</tspan><tspan dy="-4"> FC</tspan></text>
<g stroke="#ebebeb" stroke-width="1.6">
<line x1="785.8" y1="2113.1" x2="1395.1" y2="2113.1"/>
<line x1="785.8" y1="2049.3" x2="1395.1" y2="2049.3"/>
<line x1="785.8" y1="1985.5" x2="1395.1" y2="1985.5"/>
<line x1="785.8" y1="1921.7" x2="1395.1" y2="1921.7"/>
<line x1="785.8" y1="1857.9" x2="1395.1" y2="1857.9"/>
<line x1="785.8" y1="1794.1" x2="1395.1" y2="1794.1"/>
<line x1="785.8" y1="1730.3" x2="1395.1" y2="1730.3"/>
<line x1="887.2" y1="1730.2" x2="887.2" y2="2134.2"/>
<line x1="988.6" y1="1730.2" x2="988.6" y2="2134.2"/>
<line x1="1090.0" y1="1730.2" x2="1090.0" y2="2134.2"/>
<line x1="1191.4" y1="1730.2" x2="1191.4" y2="2134.2"/>
<line x1="1292.8" y1="1730.2" x2="1292.8" y2="2134.2"/>
<line x1="1394.2" y1="1730.2" x2="1394.2" y2="2134.2"/>
</g>
<g fill="#4d4d4d" fill-opacity="0.60"><circle cx="1060.6" cy="2106.4" r="3.4"/><circle cx="1014.1" cy="2109.4" r="3.4"/><circle cx="1041.0" cy="2109.7" r="3.4"/><circle cx="1073.9" cy="2107.9" r="3.4"/><circle cx="1041.8" cy="2108.4" r="3.4"/><circle cx="1032.4" cy="2106.9" r="3.4"/><circle cx="1051.6" cy="2115.5" r="3.4"/><circle cx="1044.8" cy="2111.0" r="3.4"/><circle cx="1028.0" cy="2107.6" r="3.4"/><circle cx="1067.9" cy="2109.4" r="3.4"/><circle cx="1066.4" cy="2110.8" r="3.4"/><circle cx="1051.9" cy="2111.0" r="3.4"/><circle cx="1032.4" cy="2109.9" r="3.4"/><circle cx="1019.5" cy="2110.0" r="3.4"/><circle cx="1061.7" cy="2111.1" r="3.4"/><circle cx="1061.4" cy="2110.4" r="3.4"/><circle cx="1041.9" cy="2107.4" r="3.4"/><circle cx="1017.6" cy="2106.8" r="3.4"/><circle cx="1021.9" cy="2111.3" r="3.4"/><circle cx="1070.6" cy="2112.7" r="3.4"/><circle cx="1074.8" cy="2110.4" r="3.4"/><circle cx="1052.6" cy="2109.3" r="3.4"/><circle cx="1056.2" cy="2110.4" r="3.4"/><circle cx="1026.7" cy="2107.3" r="3.4"/><circle cx="1073.8" cy="2112.0" r="3.4"/><circle cx="1062.7" cy="2106.3" r="3.4"/><circle cx="1039.6" cy="2110.6" r="3.4"/><circle cx="1034.6" cy="2112.6" r="3.4"/><circle cx="1020.5" cy="2110.6" r="3.4"/><circle cx="1039.6" cy="2107.5" r="3.4"/><circle cx="1030.6" cy="2108.2" r="3.4"/><circle cx="1023.8" cy="2106.9" r="3.4"/><circle cx="1033.9" cy="2108.7" r="3.4"/><circle cx="1064.4" cy="2108.5" r="3.4"/><circle cx="1069.6" cy="2109.8" r="3.4"/><circle cx="1021.8" cy="2108.0" r="3.4"/><circle cx="1030.6" cy="2108.6" r="3.4"/><circle cx="1012.0" cy="2110.2" r="3.4"/><circle cx="1052.2" cy="2108.7" r="3.4"/><circle cx="1013.2" cy="2109.0" r="3.4"/><circle cx="1066.0" cy="2110.8" r="3.4"/><circle cx="1057.4" cy="2108.3" r="3.4"/><circle cx="1053.5" cy="2107.5" r="3.4"/><circle cx="1045.0" cy="2108.9" r="3.4"/><circle cx="1043.3" cy="2106.2" r="3.4"/><circle cx="1032.3" cy="2107.8" r="3.4"/><circle cx="1052.4" cy="2112.2" r="3.4"/><circle cx="1016.2" cy="2110.0" r="3.4"/><circle cx="1064.6" cy="2114.0" r="3.4"/><circle cx="1024.7" cy="2112.2" r="3.4"/><circle cx="1042.6" cy="2112.0" r="3.4"/><circle cx="1064.7" cy="2112.4" r="3.4"/><circle cx="1053.4" cy="2106.1" r="3.4"/><circle cx="1028.1" cy="2108.0" r="3.4"/><circle cx="1035.1" cy="2108.3" r="3.4"/><circle cx="1070.6" cy="2110.2" r="3.4"/><circle cx="1025.2" cy="2103.3" r="3.4"/><circle cx="1017.0" cy="2108.4" r="3.4"/><circle cx="1062.5" cy="2113.3" r="3.4"/><circle cx="1071.1" cy="2112.0" r="3.4"/><circle cx="1038.2" cy="2106.5" r="3.4"/><circle cx="1063.9" cy="2113.3" r="3.4"/><circle cx="1028.7" cy="2109.6" r="3.4"/><circle cx="1031.1" cy="2109.0" r="3.4"/><circle cx="1071.5" cy="2111.9" r="3.4"/><circle cx="1057.7" cy="2109.9" r="3.4"/><circle cx="1045.5" cy="2110.7" r="3.4"/><circle cx="1027.7" cy="2111.5" r="3.4"/><circle cx="1051.4" cy="2111.6" r="3.4"/><circle cx="1038.2" cy="2112.9" r="3.4"/><circle cx="1018.6" cy="2106.7" r="3.4"/><circle cx="1040.9" cy="2107.5" r="3.4"/><circle cx="1053.9" cy="2111.1" r="3.4"/><circle cx="1023.4" cy="2107.4" r="3.4"/><circle cx="1037.3" cy="2108.3" r="3.4"/><circle cx="1074.9" cy="2112.2" r="3.4"/><circle cx="1039.9" cy="2107.9" r="3.4"/><circle cx="1074.5" cy="2112.7" r="3.4"/><circle cx="1032.5" cy="2105.9" r="3.4"/><circle cx="1039.1" cy="2112.3" r="3.4"/><circle cx="1057.7" cy="2107.6" r="3.4"/><circle cx="1025.5" cy="2106.5" r="3.4"/><circle cx="1060.2" cy="2112.0" r="3.4"/><circle cx="1072.6" cy="2110.0" r="3.4"/><circle cx="1040.2" cy="2106.0" r="3.4"/><circle cx="1073.9" cy="2113.4" r="3.4"/><circle cx="1049.5" cy="2101.9" r="3.4"/><circle cx="1031.0" cy="2107.9" r="3.4"/><circle cx="1030.9" cy="2109.7" r="3.4"/><circle cx="1013.4" cy="2112.8" r="3.4"/><circle cx="1063.8" cy="2109.7" r="3.4"/><circle cx="1046.9" cy="2107.7" r="3.4"/><circle cx="1047.0" cy="2110.9" r="3.4"/><circle cx="1014.4" cy="2107.3" r="3.4"/><circle cx="1034.4" cy="2110.5" r="3.4"/><circle cx="1048.7" cy="2111.5" r="3.4"/><circle cx="1026.7" cy="2109.0" r="3.4"/><circle cx="1037.2" cy="2108.1" r="3.4"/><circle cx="1069.8" cy="2110.3" r="3.4"/><circle cx="1062.0" cy="2106.4" r="3.4"/><circle cx="1022.9" cy="2110.1" r="3.4"/><circle cx="1048.3" cy="2106.3" r="3.4"/><circle cx="1069.2" cy="2109.0" r="3.4"/><circle cx="1058.0" cy="2109.0" r="3.4"/><circle cx="1048.3" cy="2110.4" r="3.4"/><circle cx="1060.6" cy="2110.7" r="3.4"/><circle cx="1033.9" cy="2110.0" r="3.4"/><circle cx="1066.7" cy="2108.2" r="3.4"/><circle cx="1066.8" cy="2111.1" r="3.4"/><circle cx="1049.9" cy="2113.3" r="3.4"/><circle cx="1012.7" cy="2108.3" r="3.4"/><circle cx="1031.2" cy="2106.4" r="3.4"/><circle cx="1014.6" cy="2106.6" r="3.4"/><circle cx="1043.7" cy="2109.1" r="3.4"/><circle cx="1025.9" cy="2112.4" r="3.4"/><circle cx="1036.8" cy="2110.4" r="3.4"/><circle cx="1040.1" cy="2106.8" r="3.4"/><circle cx="1026.0" cy="2106.9" r="3.4"/><circle cx="1030.3" cy="2107.7" r="3.4"/><circle cx="1017.2" cy="2108.9" r="3.4"/><circle cx="1048.0" cy="2112.1" r="3.4"/><circle cx="1017.4" cy="2108.9" r="3.4"/><circle cx="1043.6" cy="2109.6" r="3.4"/><circle cx="1020.5" cy="2107.0" r="3.4"/><circle cx="1047.2" cy="2106.0" r="3.4"/><circle cx="1024.4" cy="2108.7" r="3.4"/><circle cx="1050.8" cy="2109.6" r="3.4"/><circle cx="1016.5" cy="2106.2" r="3.4"/><circle cx="1060.9" cy="2107.8" r="3.4"/><circle cx="1017.6" cy="2113.2" r="3.4"/><circle cx="1054.3" cy="2107.9" r="3.4"/><circle cx="1032.2" cy="2109.9" r="3.4"/><circle cx="1049.4" cy="2111.8" r="3.4"/><circle cx="1074.2" cy="2111.3" r="3.4"/><circle cx="1050.8" cy="2112.5" r="3.4"/><circle cx="1021.2" cy="2108.1" r="3.4"/><circle cx="1014.8" cy="2108.7" r="3.4"/><circle cx="1035.6" cy="2107.5" r="3.4"/><circle cx="1059.7" cy="2111.0" r="3.4"/><circle cx="1015.4" cy="2107.0" r="3.4"/><circle cx="1071.8" cy="2115.4" r="3.4"/><circle cx="1063.7" cy="2108.2" r="3.4"/><circle cx="1012.9" cy="2107.5" r="3.4"/><circle cx="1040.4" cy="2108.1" r="3.4"/><circle cx="1013.4" cy="2108.7" r="3.4"/><circle cx="1024.8" cy="2111.5" r="3.4"/><circle cx="1045.0" cy="2109.3" r="3.4"/><circle cx="1058.0" cy="2113.0" r="3.4"/><circle cx="1020.9" cy="2108.1" r="3.4"/><circle cx="1048.7" cy="2109.2" r="3.4"/><circle cx="1053.8" cy="2111.4" r="3.4"/><circle cx="1029.9" cy="2109.2" r="3.4"/><circle cx="1061.7" cy="2109.7" r="3.4"/><circle cx="1053.2" cy="2109.4" r="3.4"/><circle cx="1012.5" cy="2106.4" r="3.4"/><circle cx="1065.7" cy="2111.8" r="3.4"/><circle cx="1053.6" cy="2110.3" r="3.4"/><circle cx="1066.6" cy="2110.2" r="3.4"/><circle cx="1052.9" cy="2110.2" r="3.4"/><circle cx="1073.5" cy="2113.4" r="3.4"/><circle cx="1018.3" cy="2106.2" r="3.4"/><circle cx="1045.5" cy="2114.1" r="3.4"/><circle cx="1023.7" cy="2105.7" r="3.4"/><circle cx="1070.4" cy="2110.8" r="3.4"/><circle cx="1013.4" cy="2108.0" r="3.4"/><circle cx="1033.0" cy="2112.0" r="3.4"/><circle cx="1036.8" cy="2110.4" r="3.4"/><circle cx="1034.2" cy="2110.9" r="3.4"/><circle cx="1051.4" cy="2110.4" r="3.4"/><circle cx="1043.6" cy="2116.3" r="3.4"/><circle cx="1063.1" cy="2106.8" r="3.4"/><circle cx="1068.1" cy="2107.0" r="3.4"/><circle cx="1063.3" cy="2113.5" r="3.4"/><circle cx="1029.7" cy="2109.3" r="3.4"/><circle cx="1021.6" cy="2111.2" r="3.4"/><circle cx="1017.5" cy="2105.9" r="3.4"/><circle cx="1036.1" cy="2112.4" r="3.4"/><circle cx="1051.4" cy="2109.0" r="3.4"/><circle cx="1026.3" cy="2108.7" r="3.4"/><circle cx="1073.1" cy="2112.3" r="3.4"/><circle cx="1069.3" cy="2109.2" r="3.4"/><circle cx="1025.0" cy="2111.2" r="3.4"/><circle cx="1020.7" cy="2104.0" r="3.4"/><circle cx="1066.3" cy="2109.4" r="3.4"/><circle cx="1031.5" cy="2108.0" r="3.4"/><circle cx="1020.5" cy="2105.4" r="3.4"/><circle cx="1074.7" cy="2112.4" r="3.4"/><circle cx="1070.8" cy="2110.6" r="3.4"/><circle cx="1069.8" cy="2109.4" r="3.4"/><circle cx="1071.8" cy="2113.7" r="3.4"/><circle cx="1019.5" cy="2106.1" r="3.4"/><circle cx="1057.8" cy="2114.8" r="3.4"/><circle cx="1060.2" cy="2112.1" r="3.4"/><circle cx="1037.9" cy="2107.4" r="3.4"/><circle cx="1039.9" cy="2114.1" r="3.4"/><circle cx="1070.8" cy="2108.6" r="3.4"/><circle cx="1029.2" cy="2108.9" r="3.4"/><circle cx="1023.6" cy="2107.3" r="3.4"/><circle cx="1060.0" cy="2108.7" r="3.4"/><circle cx="1047.7" cy="2108.4" r="3.4"/><circle cx="1026.5" cy="2109.0" r="3.4"/><circle cx="1034.6" cy="2112.8" r="3.4"/><circle cx="1055.4" cy="2107.1" r="3.4"/><circle cx="1050.1" cy="2110.2" r="3.4"/><circle cx="1056.9" cy="2106.7" r="3.4"/><circle cx="1043.0" cy="2112.9" r="3.4"/><circle cx="1020.7" cy="2108.5" r="3.4"/><circle cx="1060.2" cy="2110.9" r="3.4"/><circle cx="1012.9" cy="2107.6" r="3.4"/><circle cx="1058.8" cy="2112.7" r="3.4"/><circle cx="1074.3" cy="2111.0" r="3.4"/><circle cx="1070.4" cy="2109.8" r="3.4"/><circle cx="1074.1" cy="2112.9" r="3.4"/><circle cx="1032.5" cy="2106.7" r="3.4"/><circle cx="1040.8" cy="2109.3" r="3.4"/><circle cx="1014.6" cy="2110.5" r="3.4"/><circle cx="1058.3" cy="2108.6" r="3.4"/><circle cx="1050.5" cy="2111.3" r="3.4"/><circle cx="1058.8" cy="2107.7" r="3.4"/><circle cx="1067.2" cy="2108.9" r="3.4"/><circle cx="1061.6" cy="2107.6" r="3.4"/><circle cx="1064.1" cy="2110.1" r="3.4"/><circle cx="1014.7" cy="2111.0" r="3.4"/><circle cx="1036.9" cy="2109.0" r="3.4"/><circle cx="1058.3" cy="2107.3" r="3.4"/><circle cx="1051.7" cy="2108.8" r="3.4"/><circle cx="1015.1" cy="2107.4" r="3.4"/><circle cx="1031.2" cy="2111.2" r="3.4"/><circle cx="1064.1" cy="2107.9" r="3.4"/><circle cx="1050.6" cy="2110.4" r="3.4"/><circle cx="1015.4" cy="2106.6" r="3.4"/><circle cx="1064.3" cy="2110.3" r="3.4"/><circle cx="1040.5" cy="2109.1" r="3.4"/><circle cx="1061.1" cy="2109.1" r="3.4"/><circle cx="1071.1" cy="2110.4" r="3.4"/><circle cx="1038.1" cy="2107.9" r="3.4"/><circle cx="1040.4" cy="2110.7" r="3.4"/><circle cx="1056.9" cy="2113.1" r="3.4"/><circle cx="1024.7" cy="2106.7" r="3.4"/><circle cx="1055.6" cy="2110.6" r="3.4"/><circle cx="1069.2" cy="2111.9" r="3.4"/><circle cx="1019.8" cy="2104.4" r="3.4"/><circle cx="1019.2" cy="2106.0" r="3.4"/><circle cx="1045.0" cy="2110.2" r="3.4"/><circle cx="1036.2" cy="2109.8" r="3.4"/><circle cx="1071.8" cy="2107.9" r="3.4"/><circle cx="1035.9" cy="2105.9" r="3.4"/><circle cx="1069.5" cy="2113.6" r="3.4"/><circle cx="1047.6" cy="2108.9" r="3.4"/><circle cx="1066.7" cy="2109.4" r="3.4"/><circle cx="1023.3" cy="2107.8" r="3.4"/><circle cx="1031.5" cy="2106.3" r="3.4"/><circle cx="1060.4" cy="2107.0" r="3.4"/><circle cx="1019.4" cy="2109.4" r="3.4"/><circle cx="1020.3" cy="2109.3" r="3.4"/><circle cx="1027.9" cy="2112.0" r="3.4"/><circle cx="1040.9" cy="2111.2" r="3.4"/><circle cx="1012.4" cy="2105.4" r="3.4"/><circle cx="1067.6" cy="2110.9" r="3.4"/><circle cx="1042.0" cy="2112.7" r="3.4"/><circle cx="1037.8" cy="2112.1" r="3.4"/><circle cx="1027.4" cy="2110.2" r="3.4"/><circle cx="1046.5" cy="2107.2" r="3.4"/><circle cx="1064.0" cy="2108.3" r="3.4"/><circle cx="1015.1" cy="2110.2" r="3.4"/><circle cx="1014.3" cy="2110.9" r="3.4"/><circle cx="1065.8" cy="2108.2" r="3.4"/><circle cx="1030.8" cy="2104.7" r="3.4"/><circle cx="1070.0" cy="2113.2" r="3.4"/><circle cx="1023.2" cy="2109.2" r="3.4"/><circle cx="1054.3" cy="2107.0" r="3.4"/><circle cx="1049.5" cy="2107.3" r="3.4"/><circle cx="1061.6" cy="2111.5" r="3.4"/><circle cx="1048.5" cy="2112.1" r="3.4"/><circle cx="1070.7" cy="2112.5" r="3.4"/><circle cx="1035.2" cy="2110.2" r="3.4"/><circle cx="1035.9" cy="2111.4" r="3.4"/><circle cx="1046.7" cy="2110.7" r="3.4"/><circle cx="1030.4" cy="2111.3" r="3.4"/><circle cx="1029.3" cy="2111.6" r="3.4"/><circle cx="1045.2" cy="2105.7" r="3.4"/><circle cx="1050.6" cy="2109.2" r="3.4"/><circle cx="1018.9" cy="2107.7" r="3.4"/><circle cx="1074.2" cy="2107.5" r="3.4"/><circle cx="1042.5" cy="2107.2" r="3.4"/><circle cx="1074.1" cy="2105.6" r="3.4"/><circle cx="1030.1" cy="2107.1" r="3.4"/><circle cx="1045.1" cy="2108.1" r="3.4"/><circle cx="1074.7" cy="2110.2" r="3.4"/><circle cx="1047.4" cy="2110.7" r="3.4"/><circle cx="1044.7" cy="2107.5" r="3.4"/><circle cx="1023.3" cy="2106.3" r="3.4"/><circle cx="1050.4" cy="2108.0" r="3.4"/><circle cx="1012.1" cy="2101.1" r="3.4"/><circle cx="1013.5" cy="2107.0" r="3.4"/><circle cx="1065.4" cy="2109.6" r="3.4"/><circle cx="1062.4" cy="2113.0" r="3.4"/><circle cx="1033.0" cy="2108.9" r="3.4"/><circle cx="1047.3" cy="2109.4" r="3.4"/><circle cx="1024.7" cy="2108.2" r="3.4"/><circle cx="1029.7" cy="2109.3" r="3.4"/><circle cx="1043.9" cy="2107.4" r="3.4"/><circle cx="1032.4" cy="2112.7" r="3.4"/><circle cx="1033.5" cy="2109.1" r="3.4"/><circle cx="1057.6" cy="2109.7" r="3.4"/><circle cx="1023.1" cy="2108.0" r="3.4"/><circle cx="1032.8" cy="2106.9" r="3.4"/><circle cx="1069.7" cy="2113.9" r="3.4"/><circle cx="1062.2" cy="2108.6" r="3.4"/><circle cx="1051.5" cy="2107.6" r="3.4"/><circle cx="1068.2" cy="2108.5" r="3.4"/><circle cx="1061.4" cy="2109.8" r="3.4"/><circle cx="1038.1" cy="2108.9" r="3.4"/><circle cx="1030.9" cy="2104.1" r="3.4"/><circle cx="1057.7" cy="2108.9" r="3.4"/><circle cx="1025.1" cy="2111.3" r="3.4"/><circle cx="1055.2" cy="2111.6" r="3.4"/><circle cx="1034.3" cy="2104.0" r="3.4"/><circle cx="1073.1" cy="2110.8" r="3.4"/><circle cx="1074.0" cy="2111.6" r="3.4"/><circle cx="1051.5" cy="2111.6" r="3.4"/><circle cx="1036.5" cy="2106.4" r="3.4"/><circle cx="1049.5" cy="2112.5" r="3.4"/><circle cx="1056.4" cy="2106.9" r="3.4"/><circle cx="1031.8" cy="2111.4" r="3.4"/><circle cx="1043.3" cy="2109.9" r="3.4"/><circle cx="1027.0" cy="2102.7" r="3.4"/><circle cx="1025.6" cy="2110.4" r="3.4"/><circle cx="1031.0" cy="2112.1" r="3.4"/><circle cx="1061.0" cy="2113.1" r="3.4"/><circle cx="1069.5" cy="2110.2" r="3.4"/><circle cx="1042.4" cy="2109.6" r="3.4"/><circle cx="1043.5" cy="2111.5" r="3.4"/><circle cx="1058.1" cy="2115.4" r="3.4"/><circle cx="1045.0" cy="2109.7" r="3.4"/><circle cx="1066.9" cy="2109.2" r="3.4"/><circle cx="1063.8" cy="2113.9" r="3.4"/><circle cx="1020.4" cy="2106.8" r="3.4"/><circle cx="1057.6" cy="2106.3" r="3.4"/><circle cx="1044.9" cy="2110.5" r="3.4"/><circle cx="1012.3" cy="2111.3" r="3.4"/><circle cx="1049.4" cy="2108.2" r="3.4"/><circle cx="1017.5" cy="2107.4" r="3.4"/><circle cx="1044.8" cy="2109.6" r="3.4"/><circle cx="1053.5" cy="2108.7" r="3.4"/><circle cx="1031.7" cy="2111.9" r="3.4"/><circle cx="1068.2" cy="2110.0" r="3.4"/><circle cx="1029.4" cy="2110.2" r="3.4"/><circle cx="1032.1" cy="2107.7" r="3.4"/><circle cx="1021.4" cy="2108.8" r="3.4"/><circle cx="1029.2" cy="2112.2" r="3.4"/><circle cx="1044.4" cy="2109.8" r="3.4"/><circle cx="1025.0" cy="2107.2" r="3.4"/><circle cx="1020.9" cy="2110.1" r="3.4"/><circle cx="1056.4" cy="2109.7" r="3.4"/><circle cx="1016.5" cy="2109.9" r="3.4"/><circle cx="1050.6" cy="2108.3" r="3.4"/><circle cx="1020.2" cy="2110.6" r="3.4"/><circle cx="1041.7" cy="2108.8" r="3.4"/><circle cx="1015.4" cy="2107.0" r="3.4"/><circle cx="1038.9" cy="2110.6" r="3.4"/><circle cx="1049.3" cy="2112.8" r="3.4"/><circle cx="1064.7" cy="2109.4" r="3.4"/><circle cx="1031.7" cy="2105.5" r="3.4"/><circle cx="1063.5" cy="2109.6" r="3.4"/><circle cx="1045.6" cy="2105.9" r="3.4"/><circle cx="1073.3" cy="2111.0" r="3.4"/><circle cx="1020.3" cy="2105.5" r="3.4"/><circle cx="1063.2" cy="2112.9" r="3.4"/><circle cx="1040.7" cy="2107.9" r="3.4"/><circle cx="1055.1" cy="2109.3" r="3.4"/><circle cx="1026.6" cy="2105.9" r="3.4"/><circle cx="1026.1" cy="2110.8" r="3.4"/><circle cx="1069.5" cy="2108.1" r="3.4"/><circle cx="1036.7" cy="2107.9" r="3.4"/><circle cx="1061.7" cy="2106.8" r="3.4"/><circle cx="1067.6" cy="2110.0" r="3.4"/><circle cx="1041.9" cy="2109.5" r="3.4"/><circle cx="1034.1" cy="2107.5" r="3.4"/><circle cx="1060.4" cy="2110.6" r="3.4"/><circle cx="1050.1" cy="2110.6" r="3.4"/><circle cx="1063.5" cy="2111.3" r="3.4"/><circle cx="1062.2" cy="2108.7" r="3.4"/><circle cx="1061.9" cy="2113.6" r="3.4"/><circle cx="1045.6" cy="2107.4" r="3.4"/><circle cx="1051.1" cy="2111.3" r="3.4"/><circle cx="1046.5" cy="2112.0" r="3.4"/><circle cx="1033.5" cy="2108.5" r="3.4"/><circle cx="1063.3" cy="2106.7" r="3.4"/><circle cx="1039.4" cy="2106.9" r="3.4"/><circle cx="1061.6" cy="2108.6" r="3.4"/><circle cx="1053.7" cy="2109.4" r="3.4"/><circle cx="1016.9" cy="2111.1" r="3.4"/><circle cx="1042.7" cy="2108.0" r="3.4"/><circle cx="1049.3" cy="2106.6" r="3.4"/><circle cx="1063.8" cy="2111.2" r="3.4"/><circle cx="1023.1" cy="2109.3" r="3.4"/><circle cx="1018.9" cy="2107.9" r="3.4"/><circle cx="1063.3" cy="2110.7" r="3.4"/><circle cx="1043.1" cy="2107.0" r="3.4"/><circle cx="1053.6" cy="2113.8" r="3.4"/><circle cx="1067.9" cy="2113.1" r="3.4"/><circle cx="1068.9" cy="2110.7" r="3.4"/><circle cx="1021.2" cy="2108.3" r="3.4"/><circle cx="1021.4" cy="2105.9" r="3.4"/><circle cx="1048.4" cy="2109.2" r="3.4"/><circle cx="1024.3" cy="2107.6" r="3.4"/><circle cx="1047.9" cy="2107.7" r="3.4"/><circle cx="1069.5" cy="2108.7" r="3.4"/><circle cx="1039.4" cy="2114.9" r="3.4"/><circle cx="1073.9" cy="2110.3" r="3.4"/><circle cx="1012.5" cy="2108.8" r="3.4"/><circle cx="1074.1" cy="2109.9" r="3.4"/><circle cx="1030.5" cy="2109.5" r="3.4"/><circle cx="1035.3" cy="2108.2" r="3.4"/><circle cx="1056.3" cy="2109.8" r="3.4"/><circle cx="1063.7" cy="2107.3" r="3.4"/><circle cx="1066.5" cy="2114.4" r="3.4"/><circle cx="1026.8" cy="2107.9" r="3.4"/><circle cx="1032.0" cy="2106.5" r="3.4"/><circle cx="1036.1" cy="2106.7" r="3.4"/><circle cx="1053.7" cy="2112.1" r="3.4"/><circle cx="1041.9" cy="2110.3" r="3.4"/><circle cx="1070.2" cy="2113.0" r="3.4"/><circle cx="1064.9" cy="2115.4" r="3.4"/><circle cx="1054.2" cy="2117.1" r="3.4"/><circle cx="1020.5" cy="2108.7" r="3.4"/><circle cx="1057.4" cy="2110.3" r="3.4"/><circle cx="1042.7" cy="2102.4" r="3.4"/><circle cx="1017.3" cy="2111.1" r="3.4"/><circle cx="1052.5" cy="2107.5" r="3.4"/><circle cx="1061.7" cy="2111.7" r="3.4"/><circle cx="1050.1" cy="2108.3" r="3.4"/><circle cx="1044.1" cy="2110.2" r="3.4"/><circle cx="1046.8" cy="2107.4" r="3.4"/><circle cx="1023.7" cy="2109.2" r="3.4"/><circle cx="1050.1" cy="2105.5" r="3.4"/><circle cx="1026.9" cy="2106.3" r="3.4"/><circle cx="1043.6" cy="2106.8" r="3.4"/><circle cx="1035.1" cy="2110.7" r="3.4"/><circle cx="1073.6" cy="2107.4" r="3.4"/><circle cx="1019.1" cy="2106.6" r="3.4"/><circle cx="1042.3" cy="2108.9" r="3.4"/><circle cx="1058.1" cy="2108.9" r="3.4"/><circle cx="1074.0" cy="2115.3" r="3.4"/><circle cx="1041.3" cy="2108.9" r="3.4"/><circle cx="1016.9" cy="2108.9" r="3.4"/><circle cx="1041.8" cy="2108.7" r="3.4"/><circle cx="1058.7" cy="2111.2" r="3.4"/><circle cx="1051.9" cy="2109.6" r="3.4"/><circle cx="1062.3" cy="2110.0" r="3.4"/><circle cx="1033.6" cy="2109.7" r="3.4"/><circle cx="1061.0" cy="2107.4" r="3.4"/><circle cx="1041.6" cy="2109.9" r="3.4"/><circle cx="1058.2" cy="2104.6" r="3.4"/><circle cx="1062.3" cy="2113.4" r="3.4"/><circle cx="1030.2" cy="2114.3" r="3.4"/><circle cx="1059.2" cy="2111.5" r="3.4"/><circle cx="1057.8" cy="2109.3" r="3.4"/><circle cx="1041.8" cy="2109.0" r="3.4"/><circle cx="1022.7" cy="2115.6" r="3.4"/><circle cx="1063.0" cy="2112.8" r="3.4"/><circle cx="1051.3" cy="2109.6" r="3.4"/><circle cx="1043.9" cy="2110.5" r="3.4"/><circle cx="1065.6" cy="2110.3" r="3.4"/><circle cx="1029.7" cy="2110.0" r="3.4"/><circle cx="1066.0" cy="2111.8" r="3.4"/><circle cx="1023.0" cy="2108.5" r="3.4"/><circle cx="1049.3" cy="2111.3" r="3.4"/><circle cx="1062.9" cy="2112.6" r="3.4"/><circle cx="1028.5" cy="2107.8" r="3.4"/><circle cx="1062.4" cy="2107.6" r="3.4"/><circle cx="1066.3" cy="2110.0" r="3.4"/><circle cx="1021.1" cy="2109.2" r="3.4"/><circle cx="1070.8" cy="2112.4" r="3.4"/><circle cx="1074.6" cy="2113.4" r="3.4"/><circle cx="1060.5" cy="2110.5" r="3.4"/><circle cx="1052.2" cy="2112.5" r="3.4"/><circle cx="1025.3" cy="2108.3" r="3.4"/><circle cx="1052.5" cy="2107.6" r="3.4"/><circle cx="1059.6" cy="2111.4" r="3.4"/><circle cx="1037.1" cy="2110.1" r="3.4"/><circle cx="1031.0" cy="2108.7" r="3.4"/><circle cx="1045.5" cy="2105.4" r="3.4"/><circle cx="1035.9" cy="2108.3" r="3.4"/><circle cx="1021.1" cy="2105.6" r="3.4"/><circle cx="1066.8" cy="2116.3" r="3.4"/><circle cx="1040.3" cy="2109.7" r="3.4"/><circle cx="1054.7" cy="2113.7" r="3.4"/><circle cx="1014.6" cy="2107.1" r="3.4"/><circle cx="1069.8" cy="2106.7" r="3.4"/><circle cx="1039.2" cy="2104.5" r="3.4"/><circle cx="1069.8" cy="2112.2" r="3.4"/><circle cx="1028.8" cy="2106.9" r="3.4"/><circle cx="1018.2" cy="2106.8" r="3.4"/><circle cx="1060.7" cy="2108.2" r="3.4"/><circle cx="1059.2" cy="2109.9" r="3.4"/><circle cx="1024.3" cy="2105.1" r="3.4"/><circle cx="1033.3" cy="2108.3" r="3.4"/><circle cx="1046.5" cy="2108.1" r="3.4"/><circle cx="1151.1" cy="2110.4" r="3.4"/><circle cx="1114.3" cy="2110.5" r="3.4"/><circle cx="1114.7" cy="2109.0" r="3.4"/><circle cx="1126.1" cy="2111.3" r="3.4"/><circle cx="1120.4" cy="2112.0" r="3.4"/><circle cx="1168.1" cy="2110.0" r="3.4"/><circle cx="1150.0" cy="2113.7" r="3.4"/><circle cx="1148.8" cy="2104.3" r="3.4"/><circle cx="1153.3" cy="2114.1" r="3.4"/><circle cx="1116.3" cy="2114.6" r="3.4"/><circle cx="1150.0" cy="2113.1" r="3.4"/><circle cx="1169.9" cy="2107.6" r="3.4"/><circle cx="1165.3" cy="2109.1" r="3.4"/><circle cx="1137.9" cy="2108.4" r="3.4"/><circle cx="1167.9" cy="2105.7" r="3.4"/><circle cx="1125.7" cy="2105.8" r="3.4"/><circle cx="1135.3" cy="2114.4" r="3.4"/><circle cx="1128.7" cy="2107.8" r="3.4"/><circle cx="1118.4" cy="2115.1" r="3.4"/><circle cx="1132.5" cy="2112.7" r="3.4"/><circle cx="1129.3" cy="2117.1" r="3.4"/><circle cx="1124.9" cy="2113.2" r="3.4"/><circle cx="1136.2" cy="2104.0" r="3.4"/><circle cx="1147.1" cy="2110.6" r="3.4"/><circle cx="1119.4" cy="2109.2" r="3.4"/><circle cx="1157.2" cy="2110.1" r="3.4"/><circle cx="1122.0" cy="2106.9" r="3.4"/><circle cx="1153.8" cy="2105.2" r="3.4"/><circle cx="1114.6" cy="2114.1" r="3.4"/><circle cx="1124.0" cy="2112.3" r="3.4"/><circle cx="1136.5" cy="2111.7" r="3.4"/><circle cx="1149.0" cy="2109.2" r="3.4"/><circle cx="1167.7" cy="2108.7" r="3.4"/><circle cx="1152.8" cy="2108.2" r="3.4"/><circle cx="1165.9" cy="2106.8" r="3.4"/><circle cx="1168.2" cy="2108.3" r="3.4"/><circle cx="1139.4" cy="2105.4" r="3.4"/><circle cx="1158.0" cy="2112.1" r="3.4"/><circle cx="1158.3" cy="2109.8" r="3.4"/><circle cx="1169.1" cy="2109.7" r="3.4"/><circle cx="1160.4" cy="2106.4" r="3.4"/><circle cx="1167.8" cy="2110.2" r="3.4"/><circle cx="1131.0" cy="2109.4" r="3.4"/><circle cx="1148.5" cy="2107.6" r="3.4"/><circle cx="1169.4" cy="2112.7" r="3.4"/><circle cx="1169.5" cy="2111.6" r="3.4"/><circle cx="1113.1" cy="2106.3" r="3.4"/><circle cx="1149.5" cy="2111.4" r="3.4"/><circle cx="1119.3" cy="2113.4" r="3.4"/><circle cx="1120.2" cy="2111.4" r="3.4"/><circle cx="1152.5" cy="2113.3" r="3.4"/><circle cx="1131.0" cy="2108.1" r="3.4"/><circle cx="1113.4" cy="2107.8" r="3.4"/><circle cx="1117.0" cy="2107.4" r="3.4"/><circle cx="1120.4" cy="2110.0" r="3.4"/><circle cx="1139.3" cy="2106.7" r="3.4"/><circle cx="1112.0" cy="2108.6" r="3.4"/><circle cx="1142.2" cy="2109.7" r="3.4"/><circle cx="1161.4" cy="2101.1" r="3.4"/><circle cx="1110.4" cy="2113.9" r="3.4"/><circle cx="1111.6" cy="2111.1" r="3.4"/><circle cx="1115.6" cy="2110.0" r="3.4"/><circle cx="1159.7" cy="2108.4" r="3.4"/><circle cx="1151.4" cy="2107.4" r="3.4"/><circle cx="1164.0" cy="2112.1" r="3.4"/><circle cx="1167.2" cy="2112.8" r="3.4"/><circle cx="1110.4" cy="2113.5" r="3.4"/><circle cx="1138.2" cy="2113.6" r="3.4"/><circle cx="1166.8" cy="2114.0" r="3.4"/><circle cx="1116.4" cy="2112.1" r="3.4"/><circle cx="1119.0" cy="2113.1" r="3.4"/><circle cx="1158.8" cy="2110.7" r="3.4"/><circle cx="1137.2" cy="2112.2" r="3.4"/><circle cx="1160.3" cy="2113.2" r="3.4"/><circle cx="1114.8" cy="2105.8" r="3.4"/><circle cx="1122.1" cy="2110.8" r="3.4"/><circle cx="1159.5" cy="2105.4" r="3.4"/><circle cx="1170.9" cy="2112.0" r="3.4"/><circle cx="1151.4" cy="2106.7" r="3.4"/><circle cx="1144.9" cy="2117.1" r="3.4"/><circle cx="1116.8" cy="2113.4" r="3.4"/><circle cx="1156.9" cy="2105.8" r="3.4"/><circle cx="1146.0" cy="2109.5" r="3.4"/><circle cx="1117.0" cy="2112.0" r="3.4"/><circle cx="1134.6" cy="2109.3" r="3.4"/><circle cx="1136.1" cy="2107.1" r="3.4"/><circle cx="1167.2" cy="2111.1" r="3.4"/><circle cx="1162.2" cy="2110.2" r="3.4"/><circle cx="1147.2" cy="2110.3" r="3.4"/><circle cx="1139.2" cy="2109.9" r="3.4"/><circle cx="1108.4" cy="2111.5" r="3.4"/><circle cx="1149.7" cy="2111.3" r="3.4"/><circle cx="1164.8" cy="2105.5" r="3.4"/><circle cx="1157.4" cy="2112.6" r="3.4"/><circle cx="1152.3" cy="2111.2" r="3.4"/><circle cx="1141.5" cy="2114.2" r="3.4"/><circle cx="1134.4" cy="2114.0" r="3.4"/><circle cx="1110.4" cy="2109.5" r="3.4"/><circle cx="1119.5" cy="2103.9" r="3.4"/><circle cx="1148.1" cy="2110.2" r="3.4"/><circle cx="1158.1" cy="2109.8" r="3.4"/><circle cx="1123.1" cy="2110.9" r="3.4"/><circle cx="1115.5" cy="2109.6" r="3.4"/><circle cx="1131.2" cy="2110.3" r="3.4"/><circle cx="1156.7" cy="2108.1" r="3.4"/><circle cx="1157.3" cy="2109.5" r="3.4"/><circle cx="1150.2" cy="2109.9" r="3.4"/><circle cx="1159.0" cy="2111.8" r="3.4"/><circle cx="1151.9" cy="2113.2" r="3.4"/><circle cx="1119.3" cy="2110.2" r="3.4"/><circle cx="1150.9" cy="2114.0" r="3.4"/><circle cx="1126.2" cy="2111.7" r="3.4"/><circle cx="1135.8" cy="2107.9" r="3.4"/><circle cx="1156.5" cy="2114.4" r="3.4"/><circle cx="1110.8" cy="2110.6" r="3.4"/><circle cx="1119.3" cy="2104.4" r="3.4"/><circle cx="1158.3" cy="2108.6" r="3.4"/><circle cx="1165.3" cy="2110.0" r="3.4"/><circle cx="1154.2" cy="2108.0" r="3.4"/><circle cx="1120.7" cy="2109.4" r="3.4"/><circle cx="1151.3" cy="2107.9" r="3.4"/><circle cx="1128.9" cy="2114.9" r="3.4"/><circle cx="1114.3" cy="2110.4" r="3.4"/><circle cx="1132.0" cy="2104.9" r="3.4"/><circle cx="1122.1" cy="2107.5" r="3.4"/><circle cx="1165.0" cy="2110.4" r="3.4"/><circle cx="1117.3" cy="2113.6" r="3.4"/><circle cx="1132.8" cy="2109.2" r="3.4"/><circle cx="1116.7" cy="2110.1" r="3.4"/><circle cx="1170.4" cy="2105.9" r="3.4"/><circle cx="1120.9" cy="2113.7" r="3.4"/><circle cx="1111.8" cy="2114.0" r="3.4"/><circle cx="1116.7" cy="2112.7" r="3.4"/><circle cx="1119.0" cy="2108.3" r="3.4"/><circle cx="1130.0" cy="2113.4" r="3.4"/><circle cx="1158.5" cy="2107.5" r="3.4"/><circle cx="1148.8" cy="2108.9" r="3.4"/><circle cx="1170.1" cy="2108.7" r="3.4"/><circle cx="1162.7" cy="2114.6" r="3.4"/><circle cx="1139.3" cy="2113.2" r="3.4"/><circle cx="1171.7" cy="2105.3" r="3.4"/><circle cx="1125.9" cy="2107.7" r="3.4"/><circle cx="1154.7" cy="2109.9" r="3.4"/><circle cx="1128.9" cy="2108.5" r="3.4"/><circle cx="1145.1" cy="2113.2" r="3.4"/><circle cx="1117.5" cy="2108.5" r="3.4"/><circle cx="1144.7" cy="2118.1" r="3.4"/><circle cx="1110.6" cy="2111.2" r="3.4"/><circle cx="1138.1" cy="2110.5" r="3.4"/><circle cx="1142.0" cy="2109.6" r="3.4"/><circle cx="1138.7" cy="2111.9" r="3.4"/><circle cx="1137.0" cy="2105.5" r="3.4"/><circle cx="1123.4" cy="2110.3" r="3.4"/><circle cx="1154.8" cy="2109.9" r="3.4"/><circle cx="1168.8" cy="2111.4" r="3.4"/><circle cx="1149.4" cy="2111.9" r="3.4"/><circle cx="1113.8" cy="2108.5" r="3.4"/><circle cx="1153.0" cy="2110.4" r="3.4"/><circle cx="1162.9" cy="2109.9" r="3.4"/><circle cx="1137.1" cy="2109.8" r="3.4"/><circle cx="1157.4" cy="2112.0" r="3.4"/><circle cx="1158.6" cy="2108.0" r="3.4"/><circle cx="1131.7" cy="2106.7" r="3.4"/><circle cx="1163.1" cy="2110.8" r="3.4"/><circle cx="1112.5" cy="2112.9" r="3.4"/><circle cx="1110.1" cy="2109.4" r="3.4"/><circle cx="1135.3" cy="2109.6" r="3.4"/><circle cx="1142.7" cy="2117.0" r="3.4"/><circle cx="1158.8" cy="2110.3" r="3.4"/><circle cx="1164.4" cy="2108.8" r="3.4"/><circle cx="1155.1" cy="2116.4" r="3.4"/><circle cx="1151.2" cy="2112.4" r="3.4"/><circle cx="1164.8" cy="2111.9" r="3.4"/><circle cx="1147.6" cy="2111.9" r="3.4"/><circle cx="1131.4" cy="2112.2" r="3.4"/><circle cx="1112.3" cy="2114.1" r="3.4"/><circle cx="1153.4" cy="2112.3" r="3.4"/><circle cx="1123.3" cy="2118.3" r="3.4"/><circle cx="1115.3" cy="2104.3" r="3.4"/><circle cx="1145.1" cy="2111.1" r="3.4"/><circle cx="1169.4" cy="2110.9" r="3.4"/><circle cx="1122.4" cy="2115.2" r="3.4"/><circle cx="1130.6" cy="2110.1" r="3.4"/><circle cx="1125.7" cy="2114.8" r="3.4"/><circle cx="1112.1" cy="2109.1" r="3.4"/><circle cx="1141.7" cy="2113.0" r="3.4"/><circle cx="1115.9" cy="2109.8" r="3.4"/><circle cx="1142.1" cy="2106.2" r="3.4"/><circle cx="1126.7" cy="2107.0" r="3.4"/><circle cx="1168.5" cy="2106.3" r="3.4"/><circle cx="1159.8" cy="2110.9" r="3.4"/><circle cx="1165.1" cy="2109.5" r="3.4"/><circle cx="1137.3" cy="2115.7" r="3.4"/><circle cx="1126.5" cy="2113.5" r="3.4"/><circle cx="1169.2" cy="2111.5" r="3.4"/><circle cx="1152.6" cy="2111.5" r="3.4"/><circle cx="1139.8" cy="2112.8" r="3.4"/><circle cx="1148.1" cy="2107.8" r="3.4"/><circle cx="1126.8" cy="2114.1" r="3.4"/><circle cx="1116.4" cy="2110.2" r="3.4"/><circle cx="1130.2" cy="2106.8" r="3.4"/><circle cx="1126.7" cy="2112.0" r="3.4"/><circle cx="1112.0" cy="2112.3" r="3.4"/><circle cx="1168.6" cy="2108.3" r="3.4"/><circle cx="1149.3" cy="2108.0" r="3.4"/><circle cx="1149.3" cy="2111.5" r="3.4"/><circle cx="1128.9" cy="2107.0" r="3.4"/><circle cx="1161.9" cy="2107.5" r="3.4"/><circle cx="1136.5" cy="2109.9" r="3.4"/><circle cx="1158.5" cy="2111.4" r="3.4"/><circle cx="1119.0" cy="2110.6" r="3.4"/><circle cx="1170.1" cy="2113.0" r="3.4"/><circle cx="1157.3" cy="2112.5" r="3.4"/><circle cx="1137.2" cy="2111.2" r="3.4"/><circle cx="1118.6" cy="2114.7" r="3.4"/><circle cx="1126.3" cy="2108.6" r="3.4"/><circle cx="1170.3" cy="2112.0" r="3.4"/><circle cx="1150.6" cy="2106.5" r="3.4"/><circle cx="1117.8" cy="2110.9" r="3.4"/><circle cx="1128.3" cy="2111.4" r="3.4"/><circle cx="1116.1" cy="2110.7" r="3.4"/><circle cx="1144.0" cy="2112.1" r="3.4"/><circle cx="1110.2" cy="2109.9" r="3.4"/><circle cx="1131.9" cy="2112.9" r="3.4"/><circle cx="1142.6" cy="2111.5" r="3.4"/><circle cx="1166.9" cy="2111.8" r="3.4"/><circle cx="1133.9" cy="2108.9" r="3.4"/><circle cx="1137.3" cy="2110.4" r="3.4"/><circle cx="1128.5" cy="2115.2" r="3.4"/><circle cx="1170.4" cy="2109.9" r="3.4"/><circle cx="1129.2" cy="2109.7" r="3.4"/><circle cx="1126.5" cy="2107.6" r="3.4"/><circle cx="1168.4" cy="2113.4" r="3.4"/><circle cx="1117.4" cy="2110.4" r="3.4"/><circle cx="1144.2" cy="2112.8" r="3.4"/><circle cx="1152.1" cy="2108.4" r="3.4"/><circle cx="1154.8" cy="2111.3" r="3.4"/><circle cx="1143.3" cy="2109.4" r="3.4"/><circle cx="1127.7" cy="2106.2" r="3.4"/><circle cx="1136.5" cy="2113.5" r="3.4"/><circle cx="1113.9" cy="2114.7" r="3.4"/><circle cx="1145.3" cy="2111.6" r="3.4"/><circle cx="1122.2" cy="2112.8" r="3.4"/><circle cx="1109.4" cy="2110.1" r="3.4"/><circle cx="1142.5" cy="2106.4" r="3.4"/><circle cx="1113.6" cy="2112.3" r="3.4"/><circle cx="1140.8" cy="2111.2" r="3.4"/><circle cx="1146.7" cy="2112.5" r="3.4"/><circle cx="1168.4" cy="2112.0" r="3.4"/><circle cx="1117.5" cy="2109.4" r="3.4"/><circle cx="1162.6" cy="2108.1" r="3.4"/><circle cx="1126.2" cy="2112.6" r="3.4"/><circle cx="1130.5" cy="2116.2" r="3.4"/><circle cx="1113.6" cy="2110.1" r="3.4"/><circle cx="1154.6" cy="2101.8" r="3.4"/><circle cx="1159.4" cy="2113.0" r="3.4"/><circle cx="1126.5" cy="2113.2" r="3.4"/><circle cx="1135.1" cy="2103.5" r="3.4"/><circle cx="1165.4" cy="2112.2" r="3.4"/><circle cx="1113.5" cy="2113.8" r="3.4"/><circle cx="1121.3" cy="2105.2" r="3.4"/><circle cx="1171.1" cy="2110.6" r="3.4"/><circle cx="1112.2" cy="2115.5" r="3.4"/><circle cx="1113.7" cy="2109.7" r="3.4"/><circle cx="1134.2" cy="2113.0" r="3.4"/><circle cx="1143.6" cy="2108.8" r="3.4"/><circle cx="1153.5" cy="2110.1" r="3.4"/><circle cx="1119.9" cy="2109.2" r="3.4"/><circle cx="1132.4" cy="2109.7" r="3.4"/><circle cx="1160.9" cy="2109.7" r="3.4"/><circle cx="1161.4" cy="2108.7" r="3.4"/><circle cx="1137.7" cy="2113.8" r="3.4"/><circle cx="1109.7" cy="2113.2" r="3.4"/><circle cx="1169.2" cy="2109.8" r="3.4"/><circle cx="1161.4" cy="2105.9" r="3.4"/><circle cx="1165.1" cy="2110.6" r="3.4"/><circle cx="1134.7" cy="2106.2" r="3.4"/><circle cx="1123.7" cy="2110.9" r="3.4"/><circle cx="1115.6" cy="2109.3" r="3.4"/><circle cx="1112.3" cy="2119.8" r="3.4"/><circle cx="1155.7" cy="2106.9" r="3.4"/><circle cx="1163.6" cy="2108.1" r="3.4"/><circle cx="1148.2" cy="2105.9" r="3.4"/><circle cx="1115.7" cy="2111.5" r="3.4"/><circle cx="1140.8" cy="2105.5" r="3.4"/><circle cx="1118.4" cy="2108.3" r="3.4"/><circle cx="1111.7" cy="2108.5" r="3.4"/><circle cx="1116.7" cy="2116.0" r="3.4"/><circle cx="1118.5" cy="2110.4" r="3.4"/><circle cx="1166.4" cy="2112.7" r="3.4"/><circle cx="1130.8" cy="2109.7" r="3.4"/><circle cx="1167.9" cy="2113.1" r="3.4"/><circle cx="1140.9" cy="2110.5" r="3.4"/><circle cx="1114.0" cy="2109.1" r="3.4"/><circle cx="1156.2" cy="2104.6" r="3.4"/><circle cx="1160.9" cy="2108.4" r="3.4"/><circle cx="1151.8" cy="2108.8" r="3.4"/><circle cx="1152.1" cy="2114.2" r="3.4"/><circle cx="1114.1" cy="2106.3" r="3.4"/><circle cx="1108.8" cy="2108.5" r="3.4"/><circle cx="1141.2" cy="2108.1" r="3.4"/><circle cx="1129.8" cy="2112.9" r="3.4"/><circle cx="1166.3" cy="2111.1" r="3.4"/><circle cx="1122.2" cy="2111.7" r="3.4"/><circle cx="1120.1" cy="2113.8" r="3.4"/><circle cx="1161.2" cy="2107.6" r="3.4"/><circle cx="1141.6" cy="2106.9" r="3.4"/><circle cx="1156.4" cy="2109.3" r="3.4"/><circle cx="1115.3" cy="2109.8" r="3.4"/><circle cx="1160.4" cy="2110.2" r="3.4"/><circle cx="1167.1" cy="2107.4" r="3.4"/><circle cx="1131.2" cy="2110.8" r="3.4"/><circle cx="1160.3" cy="2112.9" r="3.4"/><circle cx="1156.9" cy="2107.6" r="3.4"/><circle cx="1129.9" cy="2110.4" r="3.4"/><circle cx="1160.1" cy="2109.3" r="3.4"/><circle cx="1122.2" cy="2111.7" r="3.4"/><circle cx="1122.5" cy="2109.5" r="3.4"/><circle cx="1116.0" cy="2111.6" r="3.4"/><circle cx="1152.2" cy="2110.9" r="3.4"/><circle cx="1158.2" cy="2114.3" r="3.4"/><circle cx="1156.5" cy="2112.3" r="3.4"/><circle cx="1110.7" cy="2114.8" r="3.4"/><circle cx="1140.9" cy="2113.5" r="3.4"/><circle cx="1111.8" cy="2112.5" r="3.4"/><circle cx="1112.2" cy="2112.4" r="3.4"/><circle cx="1150.7" cy="2110.3" r="3.4"/><circle cx="1166.9" cy="2104.9" r="3.4"/><circle cx="1121.1" cy="2112.2" r="3.4"/><circle cx="1130.5" cy="2109.5" r="3.4"/><circle cx="1113.8" cy="2114.7" r="3.4"/><circle cx="1168.7" cy="2104.3" r="3.4"/><circle cx="1130.3" cy="2112.3" r="3.4"/><circle cx="1154.6" cy="2112.9" r="3.4"/><circle cx="1123.5" cy="2109.5" r="3.4"/><circle cx="1145.0" cy="2109.7" r="3.4"/><circle cx="1108.9" cy="2111.4" r="3.4"/><circle cx="1126.0" cy="2112.4" r="3.4"/><circle cx="1165.7" cy="2102.5" r="3.4"/><circle cx="1114.3" cy="2109.1" r="3.4"/><circle cx="1121.7" cy="2106.3" r="3.4"/><circle cx="1131.5" cy="2110.4" r="3.4"/><circle cx="1145.7" cy="2103.7" r="3.4"/><circle cx="1119.6" cy="2113.4" r="3.4"/><circle cx="1130.7" cy="2109.1" r="3.4"/><circle cx="1122.6" cy="2112.0" r="3.4"/><circle cx="1115.2" cy="2112.3" r="3.4"/><circle cx="1115.1" cy="2110.7" r="3.4"/><circle cx="1116.7" cy="2111.2" r="3.4"/><circle cx="1143.7" cy="2105.9" r="3.4"/><circle cx="1110.6" cy="2110.3" r="3.4"/><circle cx="1126.2" cy="2111.9" r="3.4"/><circle cx="1146.4" cy="2107.3" r="3.4"/><circle cx="1136.4" cy="2117.5" r="3.4"/><circle cx="1143.5" cy="2108.9" r="3.4"/><circle cx="1120.1" cy="2116.1" r="3.4"/><circle cx="1112.5" cy="2112.6" r="3.4"/><circle cx="1151.5" cy="2107.5" r="3.4"/><circle cx="1119.5" cy="2114.0" r="3.4"/><circle cx="1114.7" cy="2110.8" r="3.4"/><circle cx="1136.0" cy="2109.8" r="3.4"/><circle cx="1117.2" cy="2109.8" r="3.4"/><circle cx="1133.6" cy="2109.4" r="3.4"/><circle cx="1167.2" cy="2109.1" r="3.4"/><circle cx="1170.6" cy="2116.7" r="3.4"/><circle cx="1129.7" cy="2113.6" r="3.4"/><circle cx="1146.1" cy="2111.7" r="3.4"/><circle cx="1161.6" cy="2109.8" r="3.4"/><circle cx="1154.4" cy="2109.3" r="3.4"/><circle cx="1145.2" cy="2114.6" r="3.4"/><circle cx="1125.5" cy="2111.6" r="3.4"/><circle cx="1133.6" cy="2106.6" r="3.4"/><circle cx="1138.5" cy="2108.1" r="3.4"/><circle cx="1139.0" cy="2108.7" r="3.4"/><circle cx="1125.8" cy="2110.8" r="3.4"/><circle cx="1124.0" cy="2109.3" r="3.4"/><circle cx="1139.8" cy="2109.3" r="3.4"/><circle cx="1114.4" cy="2109.8" r="3.4"/><circle cx="1111.4" cy="2114.8" r="3.4"/><circle cx="1170.2" cy="2111.5" r="3.4"/><circle cx="1132.5" cy="2109.8" r="3.4"/><circle cx="1147.8" cy="2108.7" r="3.4"/><circle cx="1114.2" cy="2115.0" r="3.4"/><circle cx="1157.1" cy="2112.2" r="3.4"/><circle cx="1158.7" cy="2111.2" r="3.4"/><circle cx="1139.4" cy="2114.3" r="3.4"/><circle cx="1124.7" cy="2107.6" r="3.4"/><circle cx="1143.0" cy="2114.9" r="3.4"/><circle cx="1169.0" cy="2112.7" r="3.4"/><circle cx="1166.6" cy="2110.4" r="3.4"/><circle cx="1132.6" cy="2109.4" r="3.4"/><circle cx="1137.4" cy="2112.9" r="3.4"/><circle cx="1110.1" cy="2105.8" r="3.4"/><circle cx="1127.4" cy="2108.7" r="3.4"/><circle cx="1153.2" cy="2108.6" r="3.4"/><circle cx="1153.8" cy="2110.2" r="3.4"/><circle cx="1139.2" cy="2113.6" r="3.4"/><circle cx="1150.2" cy="2112.8" r="3.4"/><circle cx="1151.9" cy="2107.3" r="3.4"/><circle cx="1162.7" cy="2108.5" r="3.4"/><circle cx="1140.4" cy="2107.8" r="3.4"/><circle cx="1170.1" cy="2111.8" r="3.4"/><circle cx="1147.5" cy="2105.6" r="3.4"/><circle cx="1128.5" cy="2116.8" r="3.4"/><circle cx="1109.8" cy="2116.1" r="3.4"/><circle cx="1130.3" cy="2112.0" r="3.4"/><circle cx="1155.5" cy="2115.9" r="3.4"/><circle cx="1129.8" cy="2111.6" r="3.4"/><circle cx="1114.2" cy="2109.4" r="3.4"/><circle cx="1130.5" cy="2112.7" r="3.4"/><circle cx="1150.3" cy="2110.2" r="3.4"/><circle cx="1145.9" cy="2114.3" r="3.4"/><circle cx="1166.3" cy="2112.0" r="3.4"/><circle cx="1129.6" cy="2111.5" r="3.4"/><circle cx="1109.3" cy="2109.5" r="3.4"/><circle cx="1163.3" cy="2112.7" r="3.4"/><circle cx="1144.4" cy="2112.1" r="3.4"/><circle cx="1152.5" cy="2108.8" r="3.4"/><circle cx="1145.6" cy="2113.0" r="3.4"/><circle cx="1133.0" cy="2110.3" r="3.4"/><circle cx="1144.6" cy="2110.7" r="3.4"/><circle cx="1151.2" cy="2108.9" r="3.4"/><circle cx="1129.5" cy="2105.8" r="3.4"/><circle cx="1129.7" cy="2110.5" r="3.4"/><circle cx="1147.3" cy="2108.3" r="3.4"/><circle cx="1139.8" cy="2112.6" r="3.4"/><circle cx="1162.2" cy="2111.2" r="3.4"/><circle cx="1142.3" cy="2105.1" r="3.4"/><circle cx="1126.4" cy="2119.6" r="3.4"/><circle cx="1133.7" cy="2113.2" r="3.4"/><circle cx="1122.5" cy="2110.7" r="3.4"/><circle cx="1162.0" cy="2108.7" r="3.4"/><circle cx="1114.1" cy="2110.3" r="3.4"/><circle cx="1159.3" cy="2110.9" r="3.4"/><circle cx="1138.4" cy="2111.6" r="3.4"/><circle cx="1149.7" cy="2115.0" r="3.4"/><circle cx="1127.3" cy="2111.6" r="3.4"/><circle cx="1142.6" cy="2107.5" r="3.4"/><circle cx="1120.8" cy="2107.5" r="3.4"/><circle cx="1137.0" cy="2112.7" r="3.4"/><circle cx="1156.9" cy="2110.3" r="3.4"/><circle cx="1153.0" cy="2110.6" r="3.4"/><circle cx="1163.2" cy="2108.2" r="3.4"/><circle cx="1169.6" cy="2108.9" r="3.4"/><circle cx="1155.5" cy="2103.6" r="3.4"/><circle cx="1142.1" cy="2111.7" r="3.4"/><circle cx="1147.3" cy="2110.6" r="3.4"/><circle cx="1144.2" cy="2107.3" r="3.4"/><circle cx="1148.1" cy="2107.6" r="3.4"/><circle cx="1117.5" cy="2110.4" r="3.4"/><circle cx="1117.6" cy="2109.9" r="3.4"/><circle cx="1135.9" cy="2108.3" r="3.4"/><circle cx="1128.4" cy="2111.1" r="3.4"/><circle cx="1121.0" cy="2109.8" r="3.4"/><circle cx="1134.4" cy="2112.3" r="3.4"/><circle cx="1124.4" cy="2107.1" r="3.4"/><circle cx="1146.5" cy="2109.1" r="3.4"/><circle cx="1120.3" cy="2111.5" r="3.4"/><circle cx="1123.7" cy="2112.1" r="3.4"/><circle cx="1143.8" cy="2107.5" r="3.4"/><circle cx="1135.9" cy="2110.0" r="3.4"/><circle cx="1118.2" cy="2110.2" r="3.4"/><circle cx="1116.7" cy="2110.6" r="3.4"/><circle cx="1150.2" cy="2115.2" r="3.4"/><circle cx="1119.3" cy="2115.1" r="3.4"/><circle cx="1139.1" cy="2104.6" r="3.4"/><circle cx="1109.3" cy="2111.7" r="3.4"/><circle cx="1146.5" cy="2109.3" r="3.4"/><circle cx="1163.5" cy="2112.2" r="3.4"/><circle cx="1131.3" cy="2108.9" r="3.4"/><circle cx="1150.1" cy="2115.8" r="3.4"/><circle cx="1154.4" cy="2113.7" r="3.4"/><circle cx="1117.0" cy="2114.3" r="3.4"/><circle cx="1167.7" cy="2112.8" r="3.4"/><circle cx="1141.4" cy="2113.6" r="3.4"/><circle cx="1167.6" cy="2103.8" r="3.4"/><circle cx="1124.1" cy="2112.2" r="3.4"/><circle cx="1115.8" cy="2109.5" r="3.4"/><circle cx="1159.6" cy="2108.2" r="3.4"/><circle cx="1133.0" cy="2113.8" r="3.4"/><circle cx="1155.9" cy="2110.3" r="3.4"/><circle cx="1117.2" cy="2113.7" r="3.4"/><circle cx="1119.2" cy="2113.7" r="3.4"/><circle cx="1124.3" cy="2110.1" r="3.4"/><circle cx="1145.7" cy="2107.5" r="3.4"/><circle cx="1168.7" cy="2109.9" r="3.4"/><circle cx="1128.3" cy="2106.8" r="3.4"/><circle cx="1169.7" cy="2111.7" r="3.4"/><circle cx="1164.3" cy="2112.3" r="3.4"/><circle cx="1153.8" cy="2109.1" r="3.4"/><circle cx="1160.6" cy="2117.2" r="3.4"/><circle cx="1146.8" cy="2111.2" r="3.4"/><circle cx="1161.9" cy="2106.4" r="3.4"/><circle cx="1152.2" cy="2104.4" r="3.4"/><circle cx="1158.5" cy="2110.2" r="3.4"/><circle cx="1127.8" cy="2114.1" r="3.4"/><circle cx="1169.3" cy="2106.4" r="3.4"/><circle cx="1115.8" cy="2114.7" r="3.4"/><circle cx="1163.5" cy="2111.6" r="3.4"/><circle cx="1166.2" cy="2107.7" r="3.4"/><circle cx="1133.2" cy="2112.6" r="3.4"/><circle cx="1113.8" cy="2110.6" r="3.4"/><circle cx="1160.7" cy="2110.1" r="3.4"/><circle cx="1165.0" cy="2111.8" r="3.4"/><circle cx="1166.6" cy="2105.9" r="3.4"/><circle cx="1157.1" cy="2105.8" r="3.4"/><circle cx="1134.0" cy="2116.0" r="3.4"/><circle cx="1160.7" cy="2111.1" r="3.4"/><circle cx="1168.2" cy="2107.0" r="3.4"/><circle cx="1161.8" cy="2110.4" r="3.4"/><circle cx="1153.9" cy="2113.8" r="3.4"/><circle cx="1160.8" cy="2106.3" r="3.4"/><circle cx="1152.7" cy="2107.5" r="3.4"/><circle cx="1146.5" cy="2110.1" r="3.4"/><circle cx="1160.1" cy="2109.7" r="3.4"/><circle cx="1109.8" cy="2107.9" r="3.4"/><circle cx="1111.3" cy="2108.4" r="3.4"/><circle cx="1158.6" cy="2106.9" r="3.4"/><circle cx="1116.7" cy="2107.6" r="3.4"/><circle cx="1128.1" cy="2112.9" r="3.4"/><circle cx="1113.3" cy="2112.7" r="3.4"/><circle cx="1170.1" cy="2112.6" r="3.4"/><circle cx="1161.2" cy="2110.4" r="3.4"/><circle cx="1151.9" cy="2104.7" r="3.4"/><circle cx="1158.7" cy="2108.6" r="3.4"/><circle cx="1155.1" cy="2113.0" r="3.4"/><circle cx="1124.7" cy="2108.7" r="3.4"/><circle cx="1159.2" cy="2105.1" r="3.4"/><circle cx="1120.7" cy="2109.2" r="3.4"/><circle cx="1164.1" cy="2110.8" r="3.4"/><circle cx="1168.5" cy="2111.3" r="3.4"/><circle cx="1168.7" cy="2108.5" r="3.4"/><circle cx="1167.1" cy="2107.5" r="3.4"/><circle cx="1166.0" cy="2106.7" r="3.4"/><circle cx="1170.3" cy="2111.1" r="3.4"/><circle cx="1118.8" cy="2114.9" r="3.4"/><circle cx="1133.7" cy="2108.5" r="3.4"/><circle cx="1113.7" cy="2111.8" r="3.4"/><circle cx="1131.5" cy="2111.9" r="3.4"/><circle cx="1154.0" cy="2109.6" r="3.4"/><circle cx="1135.9" cy="2113.1" r="3.4"/><circle cx="1151.1" cy="2108.7" r="3.4"/><circle cx="1115.6" cy="2110.4" r="3.4"/><circle cx="1163.2" cy="2108.1" r="3.4"/><circle cx="1158.1" cy="2109.2" r="3.4"/><circle cx="1116.3" cy="2114.0" r="3.4"/><circle cx="1162.8" cy="2102.5" r="3.4"/><circle cx="1126.1" cy="2105.3" r="3.4"/><circle cx="1151.3" cy="2107.6" r="3.4"/><circle cx="1117.3" cy="2112.2" r="3.4"/><circle cx="1126.6" cy="2110.3" r="3.4"/><circle cx="1166.1" cy="2113.7" r="3.4"/><circle cx="1131.7" cy="2109.3" r="3.4"/><circle cx="1108.7" cy="2108.1" r="3.4"/><circle cx="1116.5" cy="2108.9" r="3.4"/><circle cx="1152.0" cy="2114.0" r="3.4"/><circle cx="1153.7" cy="2108.9" r="3.4"/><circle cx="1124.4" cy="2106.3" r="3.4"/><circle cx="1114.1" cy="2113.2" r="3.4"/><circle cx="1123.0" cy="2111.6" r="3.4"/><circle cx="1166.1" cy="2116.5" r="3.4"/><circle cx="1169.9" cy="2109.6" r="3.4"/><circle cx="1146.3" cy="2110.2" r="3.4"/><circle cx="1124.2" cy="2109.8" r="3.4"/><circle cx="1147.7" cy="2109.3" r="3.4"/><circle cx="1131.7" cy="2113.2" r="3.4"/><circle cx="1170.0" cy="2106.3" r="3.4"/><circle cx="1124.7" cy="2109.3" r="3.4"/><circle cx="1140.2" cy="2115.6" r="3.4"/><circle cx="1116.4" cy="2108.4" r="3.4"/><circle cx="1128.3" cy="2109.1" r="3.4"/><circle cx="1115.5" cy="2110.6" r="3.4"/><circle cx="1110.8" cy="2114.9" r="3.4"/><circle cx="1161.4" cy="2114.0" r="3.4"/><circle cx="1155.9" cy="2112.1" r="3.4"/><circle cx="1164.1" cy="2108.9" r="3.4"/><circle cx="1147.2" cy="2110.4" r="3.4"/><circle cx="1128.0" cy="2108.4" r="3.4"/><circle cx="1165.1" cy="2106.2" r="3.4"/><circle cx="1156.9" cy="2118.3" r="3.4"/><circle cx="1117.7" cy="2113.3" r="3.4"/><circle cx="1159.1" cy="2106.7" r="3.4"/><circle cx="1111.4" cy="2112.1" r="3.4"/><circle cx="1110.3" cy="2112.6" r="3.4"/><circle cx="1124.7" cy="2109.8" r="3.4"/><circle cx="1171.7" cy="2106.8" r="3.4"/><circle cx="1167.3" cy="2112.4" r="3.4"/><circle cx="1153.4" cy="2110.8" r="3.4"/><circle cx="1139.1" cy="2105.0" r="3.4"/><circle cx="1163.5" cy="2110.1" r="3.4"/><circle cx="1115.9" cy="2115.5" r="3.4"/><circle cx="1119.6" cy="2113.9" r="3.4"/><circle cx="1118.8" cy="2108.6" r="3.4"/><circle cx="1165.0" cy="2109.7" r="3.4"/><circle cx="1145.5" cy="2103.8" r="3.4"/><circle cx="1141.7" cy="2106.6" r="3.4"/><circle cx="1144.5" cy="2109.3" r="3.4"/><circle cx="1157.2" cy="2110.6" r="3.4"/><circle cx="1151.3" cy="2110.6" r="3.4"/><circle cx="1151.6" cy="2109.7" r="3.4"/><circle cx="1151.6" cy="2107.2" r="3.4"/><circle cx="1168.9" cy="2112.1" r="3.4"/><circle cx="1161.6" cy="2110.6" r="3.4"/><circle cx="1161.2" cy="2110.9" r="3.4"/><circle cx="1150.2" cy="2103.5" r="3.4"/><circle cx="1146.0" cy="2112.2" r="3.4"/><circle cx="1108.4" cy="2115.0" r="3.4"/><circle cx="1168.9" cy="2109.0" r="3.4"/><circle cx="1128.8" cy="2110.1" r="3.4"/><circle cx="1169.3" cy="2105.2" r="3.4"/><circle cx="1144.4" cy="2110.5" r="3.4"/><circle cx="1149.2" cy="2111.0" r="3.4"/><circle cx="1128.7" cy="2111.6" r="3.4"/><circle cx="1168.9" cy="2110.1" r="3.4"/><circle cx="1132.4" cy="2109.1" r="3.4"/><circle cx="1169.8" cy="2110.8" r="3.4"/><circle cx="1163.4" cy="2114.5" r="3.4"/><circle cx="1118.4" cy="2113.7" r="3.4"/><circle cx="1157.9" cy="2109.0" r="3.4"/><circle cx="1149.9" cy="2114.7" r="3.4"/><circle cx="1115.7" cy="2107.9" r="3.4"/><circle cx="1159.6" cy="2110.1" r="3.4"/><circle cx="1127.8" cy="2110.0" r="3.4"/><circle cx="1150.6" cy="2108.8" r="3.4"/><circle cx="1161.3" cy="2106.7" r="3.4"/><circle cx="1164.7" cy="2109.6" r="3.4"/><circle cx="1138.5" cy="2107.7" r="3.4"/><circle cx="1156.4" cy="2108.9" r="3.4"/><circle cx="1159.9" cy="2107.7" r="3.4"/><circle cx="1135.3" cy="2108.5" r="3.4"/><circle cx="1110.6" cy="2109.2" r="3.4"/><circle cx="1122.4" cy="2113.3" r="3.4"/><circle cx="1151.9" cy="2112.0" r="3.4"/><circle cx="1148.3" cy="2112.9" r="3.4"/><circle cx="1141.6" cy="2109.6" r="3.4"/><circle cx="1166.1" cy="2112.7" r="3.4"/><circle cx="1138.6" cy="2111.3" r="3.4"/><circle cx="1165.8" cy="2111.0" r="3.4"/><circle cx="1161.9" cy="2107.6" r="3.4"/><circle cx="1111.1" cy="2110.6" r="3.4"/><circle cx="1112.9" cy="2112.2" r="3.4"/><circle cx="1135.2" cy="2110.8" r="3.4"/><circle cx="1114.0" cy="2109.0" r="3.4"/><circle cx="1124.2" cy="2107.6" r="3.4"/><circle cx="1124.3" cy="2113.6" r="3.4"/><circle cx="1115.3" cy="2112.5" r="3.4"/><circle cx="1150.3" cy="2110.9" r="3.4"/><circle cx="1133.1" cy="2112.1" r="3.4"/><circle cx="1113.3" cy="2112.6" r="3.4"/><circle cx="1145.6" cy="2108.6" r="3.4"/><circle cx="1137.1" cy="2108.5" r="3.4"/><circle cx="1125.0" cy="2107.2" r="3.4"/><circle cx="1169.9" cy="2111.0" r="3.4"/><circle cx="1119.8" cy="2109.5" r="3.4"/><circle cx="1155.8" cy="2105.5" r="3.4"/><circle cx="1114.8" cy="2107.4" r="3.4"/><circle cx="1142.2" cy="2111.7" r="3.4"/><circle cx="1119.0" cy="2110.8" r="3.4"/><circle cx="1138.5" cy="2108.4" r="3.4"/><circle cx="1169.8" cy="2104.5" r="3.4"/><circle cx="1146.5" cy="2106.4" r="3.4"/><circle cx="1170.3" cy="2110.1" r="3.4"/><circle cx="1131.1" cy="2108.6" r="3.4"/><circle cx="1133.3" cy="2106.7" r="3.4"/><circle cx="1127.4" cy="2110.9" r="3.4"/><circle cx="1115.2" cy="2111.2" r="3.4"/><circle cx="1109.0" cy="2116.4" r="3.4"/><circle cx="1121.4" cy="2109.7" r="3.4"/><circle cx="1149.5" cy="2108.4" r="3.4"/><circle cx="1148.1" cy="2107.8" r="3.4"/><circle cx="1158.6" cy="2110.8" r="3.4"/><circle cx="1137.7" cy="2112.6" r="3.4"/><circle cx="1138.3" cy="2112.1" r="3.4"/><circle cx="1117.8" cy="2111.0" r="3.4"/><circle cx="1153.0" cy="2113.2" r="3.4"/><circle cx="1163.0" cy="2109.2" r="3.4"/><circle cx="1145.5" cy="2111.3" r="3.4"/><circle cx="1161.4" cy="2113.4" r="3.4"/><circle cx="1111.3" cy="2114.9" r="3.4"/><circle cx="1153.6" cy="2110.3" r="3.4"/><circle cx="1170.7" cy="2112.4" r="3.4"/><circle cx="1146.1" cy="2106.5" r="3.4"/><circle cx="1143.5" cy="2109.5" r="3.4"/><circle cx="1139.1" cy="2113.5" r="3.4"/><circle cx="1145.8" cy="2107.0" r="3.4"/><circle cx="1160.3" cy="2107.2" r="3.4"/><circle cx="1139.2" cy="2109.6" r="3.4"/><circle cx="1135.0" cy="2107.1" r="3.4"/><circle cx="1128.2" cy="2116.0" r="3.4"/><circle cx="1134.7" cy="2112.8" r="3.4"/><circle cx="1138.3" cy="2103.8" r="3.4"/><circle cx="1130.2" cy="2110.8" r="3.4"/><circle cx="1152.6" cy="2112.4" r="3.4"/><circle cx="1120.3" cy="2111.1" r="3.4"/><circle cx="1130.0" cy="2110.8" r="3.4"/><circle cx="1166.2" cy="2111.8" r="3.4"/><circle cx="1129.7" cy="2106.3" r="3.4"/><circle cx="1150.0" cy="2106.9" r="3.4"/><circle cx="1116.4" cy="2109.6" r="3.4"/><circle cx="1169.4" cy="2114.0" r="3.4"/></g>
<g fill="#228b22" fill-opacity="0.50"><circle cx="998.7" cy="2111.6" r="3.2"/><circle cx="995.7" cy="2109.2" r="3.2"/><circle cx="992.7" cy="2113.0" r="3.2"/><circle cx="1008.4" cy="2107.3" r="3.2"/><circle cx="996.3" cy="2109.1" r="3.2"/><circle cx="997.9" cy="2109.2" r="3.2"/><circle cx="969.9" cy="2107.5" r="3.2"/><circle cx="963.8" cy="2107.7" r="3.2"/><circle cx="993.3" cy="2113.0" r="3.2"/><circle cx="998.5" cy="2109.6" r="3.2"/><circle cx="993.9" cy="2110.2" r="3.2"/><circle cx="971.7" cy="2107.8" r="3.2"/><circle cx="994.0" cy="2110.4" r="3.2"/><circle cx="964.4" cy="2106.4" r="3.2"/><circle cx="968.1" cy="2106.3" r="3.2"/><circle cx="963.1" cy="2113.1" r="3.2"/><circle cx="1006.0" cy="2108.2" r="3.2"/><circle cx="998.5" cy="2111.1" r="3.2"/><circle cx="968.7" cy="2112.6" r="3.2"/><circle cx="984.4" cy="2106.0" r="3.2"/><circle cx="974.1" cy="2110.8" r="3.2"/><circle cx="975.3" cy="2106.7" r="3.2"/><circle cx="993.8" cy="2110.4" r="3.2"/><circle cx="994.7" cy="2109.3" r="3.2"/><circle cx="988.6" cy="2108.6" r="3.2"/><circle cx="958.1" cy="2112.5" r="3.2"/><circle cx="1000.3" cy="2107.8" r="3.2"/><circle cx="1008.1" cy="2107.4" r="3.2"/><circle cx="1008.4" cy="2110.3" r="3.2"/><circle cx="1008.8" cy="2112.2" r="3.2"/><circle cx="997.9" cy="2106.9" r="3.2"/><circle cx="996.0" cy="2109.1" r="3.2"/><circle cx="991.0" cy="2113.0" r="3.2"/><circle cx="989.9" cy="2110.4" r="3.2"/><circle cx="999.9" cy="2107.8" r="3.2"/><circle cx="969.8" cy="2110.7" r="3.2"/><circle cx="999.4" cy="2112.0" r="3.2"/><circle cx="963.6" cy="2107.9" r="3.2"/><circle cx="994.9" cy="2108.9" r="3.2"/><circle cx="1004.6" cy="2106.7" r="3.2"/><circle cx="1179.8" cy="2107.5" r="3.2"/><circle cx="1209.1" cy="2107.5" r="3.2"/><circle cx="1193.1" cy="2111.8" r="3.2"/><circle cx="1199.8" cy="2106.2" r="3.2"/><circle cx="1179.0" cy="2107.4" r="3.2"/><circle cx="1189.0" cy="2110.9" r="3.2"/><circle cx="1175.0" cy="2106.6" r="3.2"/><circle cx="1182.5" cy="2113.3" r="3.2"/><circle cx="1213.7" cy="2106.8" r="3.2"/><circle cx="1194.7" cy="2111.8" r="3.2"/><circle cx="1206.7" cy="2110.8" r="3.2"/><circle cx="1188.2" cy="2106.2" r="3.2"/><circle cx="1207.5" cy="2112.1" r="3.2"/><circle cx="1199.7" cy="2106.3" r="3.2"/><circle cx="1182.7" cy="2106.7" r="3.2"/><circle cx="1178.1" cy="2111.0" r="3.2"/><circle cx="1172.6" cy="2113.7" r="3.2"/><circle cx="1213.2" cy="2106.9" r="3.2"/><circle cx="1203.7" cy="2108.7" r="3.2"/><circle cx="1202.4" cy="2107.6" r="3.2"/><circle cx="1192.7" cy="2110.5" r="3.2"/><circle cx="1191.1" cy="2107.3" r="3.2"/><circle cx="1186.3" cy="2107.2" r="3.2"/><circle cx="1174.4" cy="2111.5" r="3.2"/><circle cx="1199.0" cy="2107.0" r="3.2"/><circle cx="1207.5" cy="2106.8" r="3.2"/><circle cx="1184.8" cy="2110.1" r="3.2"/><circle cx="1208.0" cy="2107.1" r="3.2"/><circle cx="1211.2" cy="2106.2" r="3.2"/><circle cx="1190.4" cy="2107.2" r="3.2"/><circle cx="1200.2" cy="2107.8" r="3.2"/><circle cx="1209.8" cy="2109.1" r="3.2"/><circle cx="1210.0" cy="2112.6" r="3.2"/><circle cx="1176.8" cy="2107.4" r="3.2"/><circle cx="1176.7" cy="2106.8" r="3.2"/><circle cx="1213.1" cy="2108.9" r="3.2"/><circle cx="1198.5" cy="2106.9" r="3.2"/><circle cx="1211.7" cy="2113.4" r="3.2"/><circle cx="1210.5" cy="2110.8" r="3.2"/><circle cx="1179.7" cy="2110.2" r="3.2"/></g>
<g fill="#4169e1" fill-opacity="0.50"><circle cx="1160.5" cy="2091.5" r="3.4"/><circle cx="1154.3" cy="2087.7" r="3.4"/><circle cx="1158.4" cy="2085.0" r="3.4"/><circle cx="1147.2" cy="2100.6" r="3.4"/><circle cx="1155.2" cy="2092.2" r="3.4"/><circle cx="1116.1" cy="2101.6" r="3.4"/><circle cx="1146.2" cy="2101.9" r="3.4"/><circle cx="1134.2" cy="2083.7" r="3.4"/><circle cx="1127.1" cy="2101.5" r="3.4"/><circle cx="1111.0" cy="2102.0" r="3.4"/><circle cx="1163.5" cy="2099.3" r="3.4"/><circle cx="1118.0" cy="2092.4" r="3.4"/><circle cx="1164.4" cy="2102.0" r="3.4"/><circle cx="1112.0" cy="2100.0" r="3.4"/><circle cx="1146.9" cy="2101.8" r="3.4"/><circle cx="1122.1" cy="2101.2" r="3.4"/><circle cx="1129.4" cy="2100.2" r="3.4"/><circle cx="1110.9" cy="2092.4" r="3.4"/><circle cx="1124.9" cy="2101.7" r="3.4"/><circle cx="1151.5" cy="2096.7" r="3.4"/><circle cx="1150.2" cy="2091.5" r="3.4"/><circle cx="1166.4" cy="2097.7" r="3.4"/><circle cx="1136.8" cy="2088.9" r="3.4"/><circle cx="1115.0" cy="2101.9" r="3.4"/><circle cx="1146.5" cy="2089.4" r="3.4"/><circle cx="1167.7" cy="2084.4" r="3.4"/><circle cx="1110.6" cy="2101.9" r="3.4"/><circle cx="1147.7" cy="2085.8" r="3.4"/><circle cx="1165.4" cy="2101.6" r="3.4"/><circle cx="1126.4" cy="2099.3" r="3.4"/><circle cx="1139.9" cy="2091.9" r="3.4"/><circle cx="1114.3" cy="2096.8" r="3.4"/><circle cx="1129.1" cy="2101.8" r="3.4"/><circle cx="1161.5" cy="2097.9" r="3.4"/><circle cx="1134.2" cy="2091.6" r="3.4"/><circle cx="1123.5" cy="2092.0" r="3.4"/><circle cx="1129.5" cy="2098.1" r="3.4"/><circle cx="1113.4" cy="2100.5" r="3.4"/><circle cx="1155.6" cy="2099.5" r="3.4"/><circle cx="1149.9" cy="2101.6" r="3.4"/><circle cx="1155.5" cy="2098.4" r="3.4"/><circle cx="1122.4" cy="2092.4" r="3.4"/><circle cx="1134.0" cy="2099.4" r="3.4"/><circle cx="1136.9" cy="2088.5" r="3.4"/><circle cx="1158.1" cy="2099.4" r="3.4"/><circle cx="1109.9" cy="2101.8" r="3.4"/><circle cx="1108.6" cy="2094.4" r="3.4"/><circle cx="1167.4" cy="2101.9" r="3.4"/><circle cx="1127.8" cy="2085.7" r="3.4"/><circle cx="1118.4" cy="2102.0" r="3.4"/><circle cx="1155.8" cy="2092.4" r="3.4"/><circle cx="1148.4" cy="2084.4" r="3.4"/><circle cx="1111.6" cy="2097.3" r="3.4"/><circle cx="1152.9" cy="2092.7" r="3.4"/><circle cx="1140.7" cy="2100.6" r="3.4"/><circle cx="1133.3" cy="2094.1" r="3.4"/><circle cx="1142.9" cy="2100.5" r="3.4"/><circle cx="1154.8" cy="2082.8" r="3.4"/><circle cx="1108.5" cy="2101.3" r="3.4"/><circle cx="1141.3" cy="2085.1" r="3.4"/><circle cx="1152.1" cy="2098.1" r="3.4"/><circle cx="1120.9" cy="2098.0" r="3.4"/><circle cx="1157.7" cy="2092.5" r="3.4"/><circle cx="1151.9" cy="2084.3" r="3.4"/><circle cx="1157.2" cy="2098.7" r="3.4"/><circle cx="1120.4" cy="2100.9" r="3.4"/><circle cx="1110.3" cy="2100.9" r="3.4"/><circle cx="1153.7" cy="2089.9" r="3.4"/><circle cx="1115.9" cy="2088.3" r="3.4"/><circle cx="1125.9" cy="2101.9" r="3.4"/><circle cx="1142.8" cy="2097.1" r="3.4"/><circle cx="1155.7" cy="2101.6" r="3.4"/><circle cx="1109.8" cy="2094.5" r="3.4"/><circle cx="1145.3" cy="2101.1" r="3.4"/><circle cx="1156.8" cy="2090.0" r="3.4"/><circle cx="1170.2" cy="2101.8" r="3.4"/><circle cx="1111.8" cy="2100.5" r="3.4"/><circle cx="1147.5" cy="2099.8" r="3.4"/><circle cx="1111.0" cy="2097.0" r="3.4"/><circle cx="1115.9" cy="2101.0" r="3.4"/><circle cx="1154.4" cy="2097.9" r="3.4"/><circle cx="1169.9" cy="2084.9" r="3.4"/><circle cx="1170.3" cy="2094.1" r="3.4"/><circle cx="1164.3" cy="2092.6" r="3.4"/><circle cx="1141.6" cy="2095.5" r="3.4"/><circle cx="1130.1" cy="2100.9" r="3.4"/><circle cx="1157.4" cy="2090.4" r="3.4"/><circle cx="1150.4" cy="2091.2" r="3.4"/><circle cx="1140.7" cy="2101.1" r="3.4"/><circle cx="1128.7" cy="2096.8" r="3.4"/><circle cx="1159.8" cy="2099.3" r="3.4"/><circle cx="1114.2" cy="2095.6" r="3.4"/><circle cx="1160.2" cy="2101.9" r="3.4"/><circle cx="1111.9" cy="2092.0" r="3.4"/><circle cx="1138.0" cy="2098.7" r="3.4"/><circle cx="1131.3" cy="2097.7" r="3.4"/><circle cx="1145.1" cy="2097.0" r="3.4"/><circle cx="1132.9" cy="2101.0" r="3.4"/><circle cx="1139.4" cy="2099.0" r="3.4"/><circle cx="1135.7" cy="2085.8" r="3.4"/><circle cx="1138.8" cy="2083.4" r="3.4"/><circle cx="1159.9" cy="2101.6" r="3.4"/><circle cx="1116.0" cy="2095.4" r="3.4"/><circle cx="1116.2" cy="2095.5" r="3.4"/><circle cx="1162.4" cy="2101.8" r="3.4"/><circle cx="1121.4" cy="2099.0" r="3.4"/><circle cx="1155.0" cy="2081.1" r="3.4"/><circle cx="1131.3" cy="2086.0" r="3.4"/><circle cx="1145.9" cy="2099.0" r="3.4"/><circle cx="1115.6" cy="2097.9" r="3.4"/><circle cx="1110.5" cy="2101.8" r="3.4"/><circle cx="1131.4" cy="2084.5" r="3.4"/><circle cx="1127.1" cy="2098.6" r="3.4"/><circle cx="1157.8" cy="2101.7" r="3.4"/><circle cx="1145.1" cy="2102.0" r="3.4"/><circle cx="1164.3" cy="2081.9" r="3.4"/><circle cx="1121.6" cy="2092.1" r="3.4"/><circle cx="1138.8" cy="2101.8" r="3.4"/><circle cx="1130.0" cy="2089.1" r="3.4"/><circle cx="1134.3" cy="2096.5" r="3.4"/><circle cx="1143.6" cy="2085.4" r="3.4"/><circle cx="1157.2" cy="2097.3" r="3.4"/><circle cx="1153.4" cy="2094.3" r="3.4"/><circle cx="1156.0" cy="2096.7" r="3.4"/><circle cx="1137.0" cy="2098.7" r="3.4"/><circle cx="1136.3" cy="2088.1" r="3.4"/><circle cx="1128.5" cy="2091.5" r="3.4"/><circle cx="1149.9" cy="2098.8" r="3.4"/><circle cx="1122.7" cy="2100.0" r="3.4"/><circle cx="1142.1" cy="2083.3" r="3.4"/><circle cx="1164.1" cy="2088.7" r="3.4"/><circle cx="1148.7" cy="2085.8" r="3.4"/><circle cx="1152.6" cy="2095.2" r="3.4"/><circle cx="1158.2" cy="2090.5" r="3.4"/><circle cx="1143.3" cy="2101.8" r="3.4"/><circle cx="1143.2" cy="2101.4" r="3.4"/><circle cx="1147.0" cy="2095.5" r="3.4"/><circle cx="1111.3" cy="2098.3" r="3.4"/><circle cx="1119.9" cy="2099.1" r="3.4"/><circle cx="1164.5" cy="2101.8" r="3.4"/><circle cx="1167.0" cy="2101.4" r="3.4"/><circle cx="1109.2" cy="2094.7" r="3.4"/><circle cx="1123.5" cy="2094.6" r="3.4"/><circle cx="1163.9" cy="2097.6" r="3.4"/><circle cx="1158.8" cy="2093.8" r="3.4"/><circle cx="1133.3" cy="2102.0" r="3.4"/><circle cx="1162.3" cy="2102.0" r="3.4"/><circle cx="1135.5" cy="2099.3" r="3.4"/><circle cx="1162.2" cy="2100.0" r="3.4"/><circle cx="1124.2" cy="2101.9" r="3.4"/><circle cx="1114.3" cy="2101.7" r="3.4"/><circle cx="1117.1" cy="2101.3" r="3.4"/><circle cx="1113.6" cy="2101.0" r="3.4"/><circle cx="1133.7" cy="2101.6" r="3.4"/><circle cx="1146.7" cy="2100.2" r="3.4"/><circle cx="1109.7" cy="2102.0" r="3.4"/><circle cx="1132.6" cy="2100.5" r="3.4"/><circle cx="1134.0" cy="2100.4" r="3.4"/><circle cx="1131.7" cy="2090.2" r="3.4"/><circle cx="1115.6" cy="2101.6" r="3.4"/><circle cx="1155.4" cy="2094.6" r="3.4"/><circle cx="1139.1" cy="2091.4" r="3.4"/><circle cx="1132.3" cy="2101.8" r="3.4"/><circle cx="1111.8" cy="2099.6" r="3.4"/><circle cx="1133.6" cy="2098.3" r="3.4"/><circle cx="1133.7" cy="2101.2" r="3.4"/><circle cx="1163.8" cy="2100.6" r="3.4"/><circle cx="1168.7" cy="2090.6" r="3.4"/><circle cx="1123.5" cy="2097.7" r="3.4"/><circle cx="1157.5" cy="2100.2" r="3.4"/><circle cx="1133.6" cy="2101.9" r="3.4"/><circle cx="1148.1" cy="2101.3" r="3.4"/><circle cx="1169.0" cy="2098.9" r="3.4"/><circle cx="1170.1" cy="2086.0" r="3.4"/><circle cx="1141.9" cy="2098.9" r="3.4"/><circle cx="1165.4" cy="2097.4" r="3.4"/><circle cx="1108.1" cy="2099.8" r="3.4"/><circle cx="1160.3" cy="2100.4" r="3.4"/><circle cx="1169.2" cy="2102.0" r="3.4"/><circle cx="1166.8" cy="2096.6" r="3.4"/><circle cx="1145.7" cy="2087.4" r="3.4"/><circle cx="1131.9" cy="2100.2" r="3.4"/><circle cx="1147.8" cy="2095.2" r="3.4"/><circle cx="1140.2" cy="2102.0" r="3.4"/><circle cx="1154.6" cy="2095.3" r="3.4"/><circle cx="1126.9" cy="2099.8" r="3.4"/><circle cx="1115.7" cy="2101.8" r="3.4"/><circle cx="1143.1" cy="2100.7" r="3.4"/><circle cx="1135.2" cy="2095.7" r="3.4"/><circle cx="1168.3" cy="2099.8" r="3.4"/><circle cx="1151.0" cy="2099.8" r="3.4"/><circle cx="1124.5" cy="2093.4" r="3.4"/><circle cx="1136.5" cy="2101.1" r="3.4"/><circle cx="1169.9" cy="2099.4" r="3.4"/><circle cx="1137.0" cy="2095.8" r="3.4"/><circle cx="1109.0" cy="2096.6" r="3.4"/><circle cx="1148.7" cy="2102.0" r="3.4"/><circle cx="1138.0" cy="2086.5" r="3.4"/><circle cx="1150.4" cy="2098.8" r="3.4"/><circle cx="1164.4" cy="2090.0" r="3.4"/><circle cx="1156.0" cy="2095.9" r="3.4"/><circle cx="1157.6" cy="2092.6" r="3.4"/><circle cx="1112.9" cy="2102.0" r="3.4"/><circle cx="1160.4" cy="2091.5" r="3.4"/><circle cx="1150.4" cy="2099.7" r="3.4"/><circle cx="1159.2" cy="2085.6" r="3.4"/><circle cx="1130.6" cy="2101.6" r="3.4"/><circle cx="1156.4" cy="2091.1" r="3.4"/><circle cx="1108.5" cy="2099.8" r="3.4"/><circle cx="1167.0" cy="2097.5" r="3.4"/><circle cx="1122.0" cy="2102.0" r="3.4"/><circle cx="1125.7" cy="2088.3" r="3.4"/><circle cx="1130.5" cy="2101.9" r="3.4"/><circle cx="1146.6" cy="2100.4" r="3.4"/><circle cx="1153.2" cy="2101.0" r="3.4"/><circle cx="1139.1" cy="2099.9" r="3.4"/><circle cx="1125.7" cy="2088.8" r="3.4"/><circle cx="1152.5" cy="2101.3" r="3.4"/><circle cx="1120.4" cy="2092.2" r="3.4"/><circle cx="1133.0" cy="2088.6" r="3.4"/><circle cx="1143.9" cy="2097.6" r="3.4"/><circle cx="1142.8" cy="2093.7" r="3.4"/><circle cx="1143.6" cy="2093.0" r="3.4"/><circle cx="1143.6" cy="2101.9" r="3.4"/><circle cx="1116.1" cy="2102.0" r="3.4"/><circle cx="1124.4" cy="2097.3" r="3.4"/><circle cx="1122.4" cy="2098.3" r="3.4"/><circle cx="1157.3" cy="2101.4" r="3.4"/><circle cx="1150.7" cy="2079.7" r="3.4"/><circle cx="1151.7" cy="2096.3" r="3.4"/><circle cx="1123.9" cy="2097.5" r="3.4"/><circle cx="1136.6" cy="2085.4" r="3.4"/><circle cx="1148.4" cy="2082.6" r="3.4"/><circle cx="1111.3" cy="2090.8" r="3.4"/><circle cx="1135.3" cy="2083.4" r="3.4"/><circle cx="1125.3" cy="2095.0" r="3.4"/><circle cx="1137.4" cy="2099.9" r="3.4"/><circle cx="1155.8" cy="2083.7" r="3.4"/><circle cx="1122.1" cy="2101.1" r="3.4"/><circle cx="1134.5" cy="2098.8" r="3.4"/><circle cx="1108.3" cy="2101.7" r="3.4"/><circle cx="1113.2" cy="2098.1" r="3.4"/><circle cx="1109.6" cy="2095.7" r="3.4"/><circle cx="1169.6" cy="2097.9" r="3.4"/><circle cx="1112.7" cy="2101.4" r="3.4"/><circle cx="1118.4" cy="2100.9" r="3.4"/><circle cx="1147.4" cy="2101.9" r="3.4"/><circle cx="1138.2" cy="2089.8" r="3.4"/><circle cx="1145.3" cy="2094.4" r="3.4"/><circle cx="1129.1" cy="2101.2" r="3.4"/><circle cx="1114.8" cy="2101.4" r="3.4"/><circle cx="1129.5" cy="2102.0" r="3.4"/><circle cx="1129.0" cy="2091.6" r="3.4"/><circle cx="1167.4" cy="2086.6" r="3.4"/><circle cx="1147.0" cy="2090.0" r="3.4"/><circle cx="1147.4" cy="2095.4" r="3.4"/><circle cx="1113.4" cy="2102.0" r="3.4"/><circle cx="1110.1" cy="2101.0" r="3.4"/><circle cx="1161.4" cy="2101.9" r="3.4"/><circle cx="1116.0" cy="2090.4" r="3.4"/><circle cx="1135.8" cy="2100.6" r="3.4"/><circle cx="1147.4" cy="2101.9" r="3.4"/><circle cx="1150.7" cy="2095.7" r="3.4"/><circle cx="1126.6" cy="2100.0" r="3.4"/><circle cx="1114.0" cy="2094.8" r="3.4"/><circle cx="1122.7" cy="2096.9" r="3.4"/><circle cx="1149.6" cy="2102.0" r="3.4"/><circle cx="1132.2" cy="2091.1" r="3.4"/><circle cx="1163.4" cy="2093.0" r="3.4"/><circle cx="1129.4" cy="2086.9" r="3.4"/><circle cx="1157.3" cy="2097.7" r="3.4"/><circle cx="1128.7" cy="2101.5" r="3.4"/><circle cx="1114.5" cy="2097.7" r="3.4"/><circle cx="1112.3" cy="2094.2" r="3.4"/><circle cx="1120.2" cy="2097.6" r="3.4"/><circle cx="1148.2" cy="2100.9" r="3.4"/><circle cx="1134.5" cy="2092.8" r="3.4"/><circle cx="1136.0" cy="2101.2" r="3.4"/><circle cx="1158.2" cy="2101.9" r="3.4"/><circle cx="1127.6" cy="2099.3" r="3.4"/><circle cx="1168.5" cy="2087.4" r="3.4"/><circle cx="1127.6" cy="2089.1" r="3.4"/><circle cx="1156.9" cy="2101.6" r="3.4"/><circle cx="1127.4" cy="2100.4" r="3.4"/><circle cx="1131.2" cy="2102.0" r="3.4"/><circle cx="1144.9" cy="2093.0" r="3.4"/><circle cx="1111.6" cy="2099.1" r="3.4"/><circle cx="1160.6" cy="2084.0" r="3.4"/><circle cx="1134.6" cy="2101.5" r="3.4"/><circle cx="1120.6" cy="2089.7" r="3.4"/><circle cx="1157.5" cy="2099.7" r="3.4"/><circle cx="1150.1" cy="2091.9" r="3.4"/><circle cx="1169.9" cy="2093.1" r="3.4"/><circle cx="1128.9" cy="2096.8" r="3.4"/><circle cx="1168.7" cy="2092.6" r="3.4"/><circle cx="1134.4" cy="2101.7" r="3.4"/><circle cx="1136.6" cy="2090.6" r="3.4"/><circle cx="1110.7" cy="2101.5" r="3.4"/><circle cx="1108.2" cy="2101.6" r="3.4"/><circle cx="1122.5" cy="2096.5" r="3.4"/><circle cx="1123.1" cy="2094.0" r="3.4"/><circle cx="1168.0" cy="2099.6" r="3.4"/><circle cx="1154.6" cy="2101.3" r="3.4"/><circle cx="1119.6" cy="2087.4" r="3.4"/><circle cx="1130.9" cy="2101.9" r="3.4"/><circle cx="1109.9" cy="2101.9" r="3.4"/><circle cx="1126.3" cy="2101.5" r="3.4"/><circle cx="1144.9" cy="2090.2" r="3.4"/><circle cx="1110.8" cy="2102.0" r="3.4"/><circle cx="1120.5" cy="2101.7" r="3.4"/><circle cx="1163.8" cy="2089.5" r="3.4"/><circle cx="1129.4" cy="2097.3" r="3.4"/><circle cx="1119.2" cy="2102.0" r="3.4"/><circle cx="1161.1" cy="2081.4" r="3.4"/><circle cx="1109.3" cy="2096.8" r="3.4"/><circle cx="1131.9" cy="2091.4" r="3.4"/><circle cx="1115.0" cy="2090.1" r="3.4"/><circle cx="1127.2" cy="2101.3" r="3.4"/><circle cx="1159.0" cy="2092.0" r="3.4"/><circle cx="1167.3" cy="2076.5" r="3.4"/><circle cx="1170.9" cy="2081.0" r="3.4"/><circle cx="1163.3" cy="2101.9" r="3.4"/><circle cx="1117.1" cy="2090.0" r="3.4"/><circle cx="1158.1" cy="2101.4" r="3.4"/><circle cx="1131.8" cy="2099.9" r="3.4"/><circle cx="1145.8" cy="2081.6" r="3.4"/><circle cx="1123.4" cy="2102.0" r="3.4"/><circle cx="1146.8" cy="2101.4" r="3.4"/><circle cx="1141.7" cy="2089.8" r="3.4"/><circle cx="1128.6" cy="2102.0" r="3.4"/><circle cx="1158.1" cy="2083.8" r="3.4"/><circle cx="1161.6" cy="2078.3" r="3.4"/><circle cx="1163.8" cy="2101.2" r="3.4"/><circle cx="1113.1" cy="2099.5" r="3.4"/><circle cx="1149.8" cy="2101.9" r="3.4"/><circle cx="1140.0" cy="2091.3" r="3.4"/><circle cx="1148.6" cy="2097.0" r="3.4"/><circle cx="1139.4" cy="2098.3" r="3.4"/><circle cx="1128.3" cy="2100.0" r="3.4"/><circle cx="1151.8" cy="2091.0" r="3.4"/><circle cx="1139.2" cy="2100.9" r="3.4"/><circle cx="1133.3" cy="2086.7" r="3.4"/><circle cx="1144.8" cy="2102.0" r="3.4"/><circle cx="1121.8" cy="2101.5" r="3.4"/><circle cx="1162.4" cy="2098.7" r="3.4"/><circle cx="1127.3" cy="2089.0" r="3.4"/><circle cx="1144.0" cy="2083.9" r="3.4"/><circle cx="1131.6" cy="2097.2" r="3.4"/><circle cx="1116.5" cy="2101.9" r="3.4"/><circle cx="1136.0" cy="2100.1" r="3.4"/><circle cx="1144.8" cy="2098.1" r="3.4"/><circle cx="1147.1" cy="2098.7" r="3.4"/><circle cx="1137.5" cy="2099.3" r="3.4"/><circle cx="1158.7" cy="2100.0" r="3.4"/><circle cx="1132.1" cy="2101.6" r="3.4"/><circle cx="1122.7" cy="2096.0" r="3.4"/><circle cx="1130.6" cy="2101.9" r="3.4"/><circle cx="1161.1" cy="2096.2" r="3.4"/><circle cx="1148.6" cy="2089.0" r="3.4"/><circle cx="1166.4" cy="2101.8" r="3.4"/><circle cx="1112.5" cy="2102.0" r="3.4"/><circle cx="1120.6" cy="2101.6" r="3.4"/><circle cx="1128.7" cy="2100.8" r="3.4"/><circle cx="1159.4" cy="2091.2" r="3.4"/><circle cx="1125.3" cy="2094.4" r="3.4"/><circle cx="1170.9" cy="2074.4" r="3.4"/><circle cx="1155.4" cy="2089.7" r="3.4"/><circle cx="1165.5" cy="2102.0" r="3.4"/><circle cx="1126.9" cy="2091.1" r="3.4"/><circle cx="1157.3" cy="2098.7" r="3.4"/><circle cx="1133.6" cy="2096.5" r="3.4"/><circle cx="1149.3" cy="2097.7" r="3.4"/><circle cx="1140.3" cy="2091.0" r="3.4"/><circle cx="1117.4" cy="2100.1" r="3.4"/><circle cx="1122.3" cy="2093.8" r="3.4"/><circle cx="1137.9" cy="2097.5" r="3.4"/><circle cx="1157.5" cy="2088.8" r="3.4"/><circle cx="1153.5" cy="2097.7" r="3.4"/><circle cx="1157.9" cy="2100.1" r="3.4"/><circle cx="1119.8" cy="2093.6" r="3.4"/><circle cx="1152.0" cy="2101.3" r="3.4"/><circle cx="1136.3" cy="2096.7" r="3.4"/><circle cx="1131.6" cy="2096.7" r="3.4"/><circle cx="1116.1" cy="2089.7" r="3.4"/><circle cx="1108.6" cy="2094.3" r="3.4"/><circle cx="1160.6" cy="2099.7" r="3.4"/><circle cx="1134.4" cy="2093.9" r="3.4"/><circle cx="1133.4" cy="2091.4" r="3.4"/><circle cx="1141.9" cy="2100.3" r="3.4"/><circle cx="1109.5" cy="2094.7" r="3.4"/><circle cx="1166.1" cy="2101.6" r="3.4"/><circle cx="1168.0" cy="2099.6" r="3.4"/><circle cx="1147.7" cy="2094.8" r="3.4"/><circle cx="1146.3" cy="2086.2" r="3.4"/><circle cx="1169.8" cy="2101.2" r="3.4"/><circle cx="1132.6" cy="2097.4" r="3.4"/><circle cx="1119.9" cy="2101.9" r="3.4"/><circle cx="1143.9" cy="2098.4" r="3.4"/><circle cx="1164.4" cy="2101.9" r="3.4"/><circle cx="1114.6" cy="2098.3" r="3.4"/><circle cx="1110.0" cy="2096.5" r="3.4"/><circle cx="1138.8" cy="2101.5" r="3.4"/><circle cx="1112.4" cy="2089.9" r="3.4"/><circle cx="1125.9" cy="2101.3" r="3.4"/><circle cx="1149.6" cy="2101.9" r="3.4"/><circle cx="1111.6" cy="2099.0" r="3.4"/><circle cx="1118.8" cy="2091.5" r="3.4"/><circle cx="1133.9" cy="2101.7" r="3.4"/><circle cx="1115.0" cy="2098.5" r="3.4"/><circle cx="1138.1" cy="2101.9" r="3.4"/><circle cx="1168.2" cy="2082.3" r="3.4"/><circle cx="1116.2" cy="2101.6" r="3.4"/><circle cx="1135.2" cy="2093.2" r="3.4"/><circle cx="1137.9" cy="2095.6" r="3.4"/><circle cx="1167.2" cy="2093.7" r="3.4"/><circle cx="1139.7" cy="2093.3" r="3.4"/><circle cx="1125.4" cy="2102.0" r="3.4"/><circle cx="1117.0" cy="2102.0" r="3.4"/><circle cx="1133.2" cy="2090.6" r="3.4"/><circle cx="1141.1" cy="2085.5" r="3.4"/><circle cx="1163.4" cy="2097.3" r="3.4"/><circle cx="1144.3" cy="2091.2" r="3.4"/><circle cx="1126.1" cy="2089.5" r="3.4"/><circle cx="1136.7" cy="2093.2" r="3.4"/><circle cx="1152.8" cy="2100.4" r="3.4"/><circle cx="1146.6" cy="2088.4" r="3.4"/><circle cx="1119.0" cy="2101.3" r="3.4"/><circle cx="1164.7" cy="2088.8" r="3.4"/><circle cx="1136.8" cy="2086.4" r="3.4"/><circle cx="1119.6" cy="2097.7" r="3.4"/><circle cx="1132.8" cy="2085.9" r="3.4"/><circle cx="1123.1" cy="2090.4" r="3.4"/><circle cx="1125.2" cy="2096.1" r="3.4"/><circle cx="1126.4" cy="2088.3" r="3.4"/><circle cx="1152.0" cy="2090.8" r="3.4"/><circle cx="1121.7" cy="2098.7" r="3.4"/><circle cx="1170.5" cy="2094.5" r="3.4"/><circle cx="1170.7" cy="2101.9" r="3.4"/><circle cx="1114.6" cy="2094.4" r="3.4"/><circle cx="1128.5" cy="2099.0" r="3.4"/><circle cx="1123.9" cy="2098.4" r="3.4"/><circle cx="1137.1" cy="2101.9" r="3.4"/><circle cx="1151.8" cy="2089.8" r="3.4"/><circle cx="1132.0" cy="2092.6" r="3.4"/><circle cx="1161.9" cy="2098.7" r="3.4"/><circle cx="1108.7" cy="2101.9" r="3.4"/><circle cx="1165.8" cy="2099.7" r="3.4"/><circle cx="1155.2" cy="2097.2" r="3.4"/><circle cx="1112.3" cy="2098.5" r="3.4"/><circle cx="1123.3" cy="2087.9" r="3.4"/><circle cx="1116.8" cy="2092.8" r="3.4"/><circle cx="1161.0" cy="2101.5" r="3.4"/><circle cx="1109.1" cy="2101.9" r="3.4"/><circle cx="1126.5" cy="2097.8" r="3.4"/><circle cx="1132.6" cy="2101.9" r="3.4"/><circle cx="1156.1" cy="2091.8" r="3.4"/><circle cx="1117.7" cy="2100.5" r="3.4"/><circle cx="1121.7" cy="2102.0" r="3.4"/><circle cx="1150.5" cy="2101.2" r="3.4"/><circle cx="1151.9" cy="2086.5" r="3.4"/><circle cx="1159.1" cy="2092.7" r="3.4"/><circle cx="1153.1" cy="2083.7" r="3.4"/><circle cx="1132.6" cy="2100.6" r="3.4"/><circle cx="1111.3" cy="2102.0" r="3.4"/><circle cx="1156.7" cy="2088.5" r="3.4"/><circle cx="1166.5" cy="2098.9" r="3.4"/><circle cx="1123.0" cy="2101.9" r="3.4"/><circle cx="1134.6" cy="2083.8" r="3.4"/><circle cx="1129.2" cy="2101.5" r="3.4"/><circle cx="1150.1" cy="2101.2" r="3.4"/><circle cx="1163.6" cy="2086.3" r="3.4"/><circle cx="1160.3" cy="2101.5" r="3.4"/><circle cx="1118.5" cy="2099.9" r="3.4"/><circle cx="1114.8" cy="2100.8" r="3.4"/><circle cx="1143.4" cy="2101.5" r="3.4"/><circle cx="1121.0" cy="2098.0" r="3.4"/><circle cx="1167.2" cy="2101.7" r="3.4"/><circle cx="1121.5" cy="2100.4" r="3.4"/><circle cx="1118.9" cy="2100.0" r="3.4"/><circle cx="1127.9" cy="2099.9" r="3.4"/><circle cx="1136.9" cy="2102.0" r="3.4"/><circle cx="1159.4" cy="2092.4" r="3.4"/><circle cx="1131.2" cy="2102.0" r="3.4"/><circle cx="1121.8" cy="2100.9" r="3.4"/><circle cx="1145.7" cy="2081.4" r="3.4"/><circle cx="1114.4" cy="2098.5" r="3.4"/><circle cx="1170.4" cy="2082.7" r="3.4"/><circle cx="1118.8" cy="2088.6" r="3.4"/><circle cx="1145.8" cy="2081.4" r="3.4"/><circle cx="1151.9" cy="2092.2" r="3.4"/><circle cx="1169.3" cy="2089.8" r="3.4"/><circle cx="1128.9" cy="2095.6" r="3.4"/><circle cx="1163.7" cy="2099.9" r="3.4"/><circle cx="1161.6" cy="2096.9" r="3.4"/><circle cx="1129.1" cy="2096.2" r="3.4"/><circle cx="1144.9" cy="2099.4" r="3.4"/><circle cx="1148.4" cy="2101.1" r="3.4"/><circle cx="1145.0" cy="2081.3" r="3.4"/><circle cx="1122.7" cy="2096.6" r="3.4"/><circle cx="1164.5" cy="2100.0" r="3.4"/><circle cx="1154.5" cy="2089.2" r="3.4"/><circle cx="1147.0" cy="2102.0" r="3.4"/><circle cx="1131.6" cy="2100.8" r="3.4"/><circle cx="1117.6" cy="2101.6" r="3.4"/><circle cx="1110.4" cy="2091.4" r="3.4"/><circle cx="1145.7" cy="2083.0" r="3.4"/><circle cx="1154.6" cy="2100.0" r="3.4"/><circle cx="1125.5" cy="2095.8" r="3.4"/><circle cx="1155.9" cy="2096.3" r="3.4"/><circle cx="1169.6" cy="2091.5" r="3.4"/><circle cx="1126.2" cy="2102.0" r="3.4"/><circle cx="1161.4" cy="2099.8" r="3.4"/><circle cx="1123.3" cy="2097.9" r="3.4"/><circle cx="1165.1" cy="2091.3" r="3.4"/><circle cx="1123.6" cy="2095.0" r="3.4"/><circle cx="1153.3" cy="2094.2" r="3.4"/><circle cx="1132.0" cy="2100.5" r="3.4"/><circle cx="1135.9" cy="2102.0" r="3.4"/><circle cx="1162.8" cy="2101.9" r="3.4"/><circle cx="1120.1" cy="2096.5" r="3.4"/><circle cx="1113.1" cy="2079.2" r="3.4"/><circle cx="1113.5" cy="2090.2" r="3.4"/><circle cx="1113.8" cy="2055.4" r="3.4"/><circle cx="1112.6" cy="2085.3" r="3.4"/><circle cx="1112.3" cy="2063.1" r="3.4"/><circle cx="1114.8" cy="2060.0" r="3.4"/><circle cx="1113.0" cy="2072.5" r="3.4"/><circle cx="1114.0" cy="2081.2" r="3.4"/><circle cx="1112.7" cy="2055.5" r="3.4"/><circle cx="1122.1" cy="2083.7" r="3.4"/><circle cx="1120.6" cy="2086.3" r="3.4"/><circle cx="1121.1" cy="2091.7" r="3.4"/><circle cx="1120.1" cy="2093.1" r="3.4"/><circle cx="1117.8" cy="2074.7" r="3.4"/><circle cx="1118.3" cy="2092.3" r="3.4"/><circle cx="1121.6" cy="2096.1" r="3.4"/><circle cx="1119.4" cy="2091.5" r="3.4"/><circle cx="1119.6" cy="2080.4" r="3.4"/><circle cx="1128.9" cy="2083.2" r="3.4"/><circle cx="1130.3" cy="2063.2" r="3.4"/><circle cx="1130.9" cy="2066.3" r="3.4"/><circle cx="1131.0" cy="2067.6" r="3.4"/><circle cx="1131.4" cy="2087.7" r="3.4"/><circle cx="1130.1" cy="2078.9" r="3.4"/><circle cx="1132.5" cy="2096.9" r="3.4"/><circle cx="1128.7" cy="2074.5" r="3.4"/><circle cx="1128.3" cy="2082.6" r="3.4"/><circle cx="1133.1" cy="2060.6" r="3.4"/><circle cx="1134.0" cy="2081.1" r="3.4"/><circle cx="1132.4" cy="2066.6" r="3.4"/><circle cx="1132.2" cy="2094.6" r="3.4"/><circle cx="1133.4" cy="2087.2" r="3.4"/><circle cx="1131.6" cy="2085.9" r="3.4"/><circle cx="1132.9" cy="2086.2" r="3.4"/><circle cx="1131.4" cy="2087.7" r="3.4"/><circle cx="1130.8" cy="2068.5" r="3.4"/><circle cx="1141.7" cy="2082.1" r="3.4"/><circle cx="1139.4" cy="2083.2" r="3.4"/><circle cx="1140.4" cy="2071.3" r="3.4"/><circle cx="1140.3" cy="2082.4" r="3.4"/><circle cx="1141.0" cy="2095.6" r="3.4"/><circle cx="1142.6" cy="2090.2" r="3.4"/><circle cx="1143.1" cy="2080.6" r="3.4"/><circle cx="1141.2" cy="2093.9" r="3.4"/><circle cx="1139.7" cy="2093.1" r="3.4"/><circle cx="1148.0" cy="2068.8" r="3.4"/><circle cx="1145.0" cy="2071.1" r="3.4"/><circle cx="1148.1" cy="2072.9" r="3.4"/><circle cx="1148.7" cy="2075.8" r="3.4"/><circle cx="1146.6" cy="2073.1" r="3.4"/><circle cx="1144.9" cy="2088.2" r="3.4"/><circle cx="1148.3" cy="2065.2" r="3.4"/><circle cx="1145.6" cy="2074.4" r="3.4"/><circle cx="1145.4" cy="2067.1" r="3.4"/><circle cx="1157.1" cy="2077.4" r="3.4"/><circle cx="1155.5" cy="2097.6" r="3.4"/><circle cx="1156.0" cy="2070.3" r="3.4"/><circle cx="1155.9" cy="2089.0" r="3.4"/><circle cx="1154.3" cy="2090.0" r="3.4"/><circle cx="1155.7" cy="2073.3" r="3.4"/><circle cx="1154.7" cy="2074.1" r="3.4"/><circle cx="1157.3" cy="2073.6" r="3.4"/><circle cx="1157.2" cy="2092.5" r="3.4"/><circle cx="1163.6" cy="2055.7" r="3.4"/><circle cx="1164.8" cy="2064.7" r="3.4"/><circle cx="1165.8" cy="2093.6" r="3.4"/><circle cx="1162.6" cy="2081.1" r="3.4"/><circle cx="1164.9" cy="2092.1" r="3.4"/><circle cx="1164.5" cy="2070.0" r="3.4"/><circle cx="1164.9" cy="2065.5" r="3.4"/><circle cx="1163.1" cy="2074.5" r="3.4"/><circle cx="1165.3" cy="2083.3" r="3.4"/><circle cx="1169.9" cy="2051.1" r="3.4"/><circle cx="1168.7" cy="2078.3" r="3.4"/><circle cx="1168.5" cy="2075.4" r="3.4"/><circle cx="1168.0" cy="2051.1" r="3.4"/><circle cx="1165.2" cy="2086.7" r="3.4"/><circle cx="1165.9" cy="2094.8" r="3.4"/><circle cx="1166.9" cy="2071.0" r="3.4"/><circle cx="1168.2" cy="2068.3" r="3.4"/><circle cx="1171.6" cy="2089.3" r="3.4"/><circle cx="1132.0" cy="2025.0" r="3.4"/><circle cx="1145.0" cy="2035.0" r="3.4"/><circle cx="1131.0" cy="2043.0" r="3.4"/><circle cx="1144.0" cy="2050.0" r="3.4"/><circle cx="1132.0" cy="2056.0" r="3.4"/><circle cx="1166.0" cy="2037.0" r="3.4"/><circle cx="1166.0" cy="2047.0" r="3.4"/><circle cx="1166.0" cy="2055.0" r="3.4"/><circle cx="1118.0" cy="2060.0" r="3.4"/><circle cx="1154.0" cy="2053.0" r="3.4"/><circle cx="1146.5" cy="1761.4" r="3.4"/><circle cx="1144.6" cy="1955.0" r="3.4"/><circle cx="1071.3" cy="2101.7" r="3.4"/><circle cx="1035.8" cy="2097.4" r="3.4"/><circle cx="1034.4" cy="2099.3" r="3.4"/><circle cx="1018.3" cy="2100.2" r="3.4"/><circle cx="1056.0" cy="2102.1" r="3.4"/><circle cx="1067.9" cy="2098.0" r="3.4"/><circle cx="1049.9" cy="2103.1" r="3.4"/><circle cx="1029.6" cy="2101.9" r="3.4"/><circle cx="1063.3" cy="2099.6" r="3.4"/><circle cx="1051.0" cy="2101.6" r="3.4"/><circle cx="1041.9" cy="2099.9" r="3.4"/><circle cx="1023.8" cy="2103.9" r="3.4"/><circle cx="1072.3" cy="2102.7" r="3.4"/><circle cx="1013.0" cy="2099.5" r="3.4"/><circle cx="1014.9" cy="2102.7" r="3.4"/><circle cx="1032.5" cy="2100.1" r="3.4"/><circle cx="1050.2" cy="2099.8" r="3.4"/><circle cx="1050.6" cy="2097.6" r="3.4"/><circle cx="1039.0" cy="2103.5" r="3.4"/><circle cx="1070.6" cy="2103.9" r="3.4"/><circle cx="1066.0" cy="2103.3" r="3.4"/><circle cx="1058.3" cy="2099.1" r="3.4"/><circle cx="1024.3" cy="2098.0" r="3.4"/><circle cx="1044.8" cy="2101.0" r="3.4"/><circle cx="1066.0" cy="2100.5" r="3.4"/><circle cx="1020.1" cy="2102.6" r="3.4"/><circle cx="1031.0" cy="2101.7" r="3.4"/><circle cx="1046.6" cy="2103.1" r="3.4"/><circle cx="1022.6" cy="2100.1" r="3.4"/><circle cx="1019.3" cy="2101.6" r="3.4"/><circle cx="1027.2" cy="2098.5" r="3.4"/><circle cx="1059.5" cy="2101.6" r="3.4"/><circle cx="1017.6" cy="2100.0" r="3.4"/><circle cx="1057.1" cy="2098.1" r="3.4"/><circle cx="1070.5" cy="2103.3" r="3.4"/><circle cx="1060.3" cy="2098.5" r="3.4"/><circle cx="1028.2" cy="2100.3" r="3.4"/><circle cx="1068.5" cy="2097.9" r="3.4"/><circle cx="1020.6" cy="2100.7" r="3.4"/><circle cx="1057.7" cy="2097.6" r="3.4"/></g>
<g fill="#ee0000" fill-opacity="0.55"><circle cx="1201.7" cy="2088.8" r="3.4"/><circle cx="1215.8" cy="2098.7" r="3.4"/><circle cx="1196.7" cy="2091.6" r="3.4"/><circle cx="1185.5" cy="2084.3" r="3.4"/><circle cx="1204.2" cy="2098.6" r="3.4"/><circle cx="1199.0" cy="2094.2" r="3.4"/><circle cx="1211.2" cy="2095.7" r="3.4"/><circle cx="1178.8" cy="2100.6" r="3.4"/><circle cx="1174.0" cy="2101.0" r="3.4"/><circle cx="1204.5" cy="2089.3" r="3.4"/><circle cx="1204.7" cy="2101.5" r="3.4"/><circle cx="1185.1" cy="2078.7" r="3.4"/><circle cx="1217.2" cy="2100.2" r="3.4"/><circle cx="1172.0" cy="2101.4" r="3.4"/><circle cx="1193.3" cy="2084.1" r="3.4"/><circle cx="1218.7" cy="2101.3" r="3.4"/><circle cx="1184.9" cy="2085.4" r="3.4"/><circle cx="1207.7" cy="2097.7" r="3.4"/><circle cx="1196.8" cy="2099.9" r="3.4"/><circle cx="1186.4" cy="2090.7" r="3.4"/><circle cx="1189.5" cy="2100.6" r="3.4"/><circle cx="1216.5" cy="2098.6" r="3.4"/><circle cx="1191.5" cy="2094.5" r="3.4"/><circle cx="1196.8" cy="2100.9" r="3.4"/><circle cx="1200.3" cy="2089.5" r="3.4"/><circle cx="1202.4" cy="2094.7" r="3.4"/><circle cx="1182.4" cy="2070.8" r="3.4"/><circle cx="1175.2" cy="2064.7" r="3.4"/><circle cx="1202.6" cy="2096.9" r="3.4"/><circle cx="1209.6" cy="2098.5" r="3.4"/><circle cx="1202.4" cy="2098.4" r="3.4"/><circle cx="1218.8" cy="2101.2" r="3.4"/><circle cx="1209.5" cy="2101.0" r="3.4"/><circle cx="1204.0" cy="2091.5" r="3.4"/><circle cx="1202.2" cy="2101.8" r="3.4"/><circle cx="1211.8" cy="2101.4" r="3.4"/><circle cx="1190.9" cy="2095.9" r="3.4"/><circle cx="1219.0" cy="2099.9" r="3.4"/><circle cx="1210.8" cy="2093.1" r="3.4"/><circle cx="1194.0" cy="2097.6" r="3.4"/><circle cx="1201.0" cy="2085.4" r="3.4"/><circle cx="1205.5" cy="2098.8" r="3.4"/><circle cx="1192.9" cy="2098.5" r="3.4"/><circle cx="1202.0" cy="2100.6" r="3.4"/><circle cx="1211.2" cy="2099.9" r="3.4"/><circle cx="1175.4" cy="2077.7" r="3.4"/><circle cx="1195.7" cy="2086.8" r="3.4"/><circle cx="1210.8" cy="2096.7" r="3.4"/><circle cx="1189.4" cy="2100.3" r="3.4"/><circle cx="1175.6" cy="2080.5" r="3.4"/><circle cx="1181.6" cy="2100.2" r="3.4"/><circle cx="1178.6" cy="2079.5" r="3.4"/><circle cx="1204.2" cy="2102.0" r="3.4"/><circle cx="1203.7" cy="2095.6" r="3.4"/><circle cx="1201.0" cy="2085.5" r="3.4"/><circle cx="1176.0" cy="2067.9" r="3.4"/><circle cx="1187.9" cy="2080.9" r="3.4"/><circle cx="1215.4" cy="2101.8" r="3.4"/><circle cx="1218.4" cy="2101.7" r="3.4"/><circle cx="1173.0" cy="2064.0" r="3.4"/><circle cx="1199.4" cy="2093.7" r="3.4"/><circle cx="1218.1" cy="2100.0" r="3.4"/><circle cx="1186.8" cy="2101.8" r="3.4"/><circle cx="1179.5" cy="2090.4" r="3.4"/><circle cx="1201.5" cy="2086.7" r="3.4"/><circle cx="1199.6" cy="2097.9" r="3.4"/><circle cx="1201.7" cy="2090.5" r="3.4"/><circle cx="1199.9" cy="2089.9" r="3.4"/><circle cx="1211.7" cy="2097.7" r="3.4"/><circle cx="1181.0" cy="2084.7" r="3.4"/><circle cx="1185.1" cy="2100.8" r="3.4"/><circle cx="1173.9" cy="2088.8" r="3.4"/><circle cx="1200.5" cy="2095.7" r="3.4"/><circle cx="1172.4" cy="2084.8" r="3.4"/><circle cx="1195.3" cy="2098.9" r="3.4"/><circle cx="1204.8" cy="2092.2" r="3.4"/><circle cx="1177.2" cy="2089.9" r="3.4"/><circle cx="1199.1" cy="2096.8" r="3.4"/><circle cx="1195.2" cy="2101.3" r="3.4"/><circle cx="1173.3" cy="2068.3" r="3.4"/><circle cx="1207.6" cy="2101.1" r="3.4"/><circle cx="1208.7" cy="2102.0" r="3.4"/><circle cx="1194.4" cy="2093.3" r="3.4"/><circle cx="1208.6" cy="2098.3" r="3.4"/><circle cx="1192.5" cy="2091.4" r="3.4"/><circle cx="1203.0" cy="2091.3" r="3.4"/><circle cx="1175.2" cy="2077.5" r="3.4"/><circle cx="1217.9" cy="2098.6" r="3.4"/><circle cx="1177.2" cy="2085.4" r="3.4"/><circle cx="1177.2" cy="2087.2" r="3.4"/><circle cx="1207.9" cy="2101.5" r="3.4"/><circle cx="1175.3" cy="2098.5" r="3.4"/><circle cx="1176.5" cy="2086.6" r="3.4"/><circle cx="1210.9" cy="2101.9" r="3.4"/><circle cx="1218.8" cy="2100.6" r="3.4"/><circle cx="1184.9" cy="2090.1" r="3.4"/><circle cx="1187.7" cy="2076.8" r="3.4"/><circle cx="1172.0" cy="2095.4" r="3.4"/><circle cx="1216.7" cy="2100.4" r="3.4"/><circle cx="1206.9" cy="2095.5" r="3.4"/><circle cx="1188.7" cy="2090.3" r="3.4"/><circle cx="1201.9" cy="2095.9" r="3.4"/><circle cx="1219.1" cy="2101.2" r="3.4"/><circle cx="1193.5" cy="2099.8" r="3.4"/><circle cx="1174.4" cy="2073.7" r="3.4"/><circle cx="1179.4" cy="2099.2" r="3.4"/><circle cx="1182.0" cy="2077.7" r="3.4"/><circle cx="1217.4" cy="2100.1" r="3.4"/><circle cx="1178.5" cy="2094.5" r="3.4"/><circle cx="1175.3" cy="2083.7" r="3.4"/><circle cx="1173.6" cy="2097.0" r="3.4"/><circle cx="1185.7" cy="2077.1" r="3.4"/><circle cx="1186.6" cy="2101.3" r="3.4"/><circle cx="1180.1" cy="2092.7" r="3.4"/><circle cx="1201.9" cy="2095.7" r="3.4"/><circle cx="1173.5" cy="2077.7" r="3.4"/><circle cx="1219.7" cy="2099.7" r="3.4"/><circle cx="1177.6" cy="2093.9" r="3.4"/><circle cx="1199.8" cy="2088.8" r="3.4"/><circle cx="1197.0" cy="2096.6" r="3.4"/><circle cx="1176.2" cy="2065.8" r="3.4"/><circle cx="1188.2" cy="2101.9" r="3.4"/><circle cx="1196.9" cy="2101.6" r="3.4"/><circle cx="1175.2" cy="2100.6" r="3.4"/><circle cx="1194.0" cy="2101.6" r="3.4"/><circle cx="1198.9" cy="2098.0" r="3.4"/><circle cx="1183.5" cy="2097.6" r="3.4"/><circle cx="1212.0" cy="2101.1" r="3.4"/><circle cx="1172.1" cy="2092.8" r="3.4"/><circle cx="1218.1" cy="2101.1" r="3.4"/><circle cx="1174.6" cy="2068.2" r="3.4"/><circle cx="1177.0" cy="2079.6" r="3.4"/><circle cx="1182.3" cy="2078.4" r="3.4"/><circle cx="1191.0" cy="2092.4" r="3.4"/><circle cx="1202.2" cy="2089.3" r="3.4"/><circle cx="1194.1" cy="2091.4" r="3.4"/><circle cx="1213.6" cy="2101.5" r="3.4"/><circle cx="1216.7" cy="2101.0" r="3.4"/><circle cx="1184.0" cy="2082.6" r="3.4"/><circle cx="1218.0" cy="2100.4" r="3.4"/><circle cx="1196.4" cy="2086.0" r="3.4"/><circle cx="1190.3" cy="2100.8" r="3.4"/><circle cx="1172.1" cy="2087.3" r="3.4"/><circle cx="1176.3" cy="2100.4" r="3.4"/><circle cx="1185.6" cy="2083.6" r="3.4"/><circle cx="1173.1" cy="2077.8" r="3.4"/><circle cx="1218.4" cy="2099.6" r="3.4"/><circle cx="1179.9" cy="2086.0" r="3.4"/><circle cx="1202.6" cy="2100.8" r="3.4"/><circle cx="1219.1" cy="2099.1" r="3.4"/><circle cx="1191.6" cy="2098.5" r="3.4"/><circle cx="1187.9" cy="2077.1" r="3.4"/><circle cx="1212.7" cy="2096.6" r="3.4"/><circle cx="1182.3" cy="2076.7" r="3.4"/><circle cx="1216.7" cy="2100.9" r="3.4"/><circle cx="1182.6" cy="2101.1" r="3.4"/><circle cx="1173.8" cy="2077.9" r="3.4"/><circle cx="1216.6" cy="2101.7" r="3.4"/><circle cx="1173.2" cy="2077.0" r="3.4"/><circle cx="1194.3" cy="2094.3" r="3.4"/><circle cx="1212.3" cy="2094.7" r="3.4"/><circle cx="1187.7" cy="2092.1" r="3.4"/><circle cx="1203.9" cy="2097.2" r="3.4"/><circle cx="1192.3" cy="2078.3" r="3.4"/><circle cx="1213.1" cy="2097.9" r="3.4"/><circle cx="1186.8" cy="2088.4" r="3.4"/><circle cx="1214.5" cy="2098.1" r="3.4"/><circle cx="1203.0" cy="2093.0" r="3.4"/><circle cx="1205.0" cy="2100.4" r="3.4"/><circle cx="1204.4" cy="2088.9" r="3.4"/><circle cx="1209.3" cy="2093.6" r="3.4"/><circle cx="1192.9" cy="2090.9" r="3.4"/><circle cx="1197.1" cy="2083.1" r="3.4"/><circle cx="1200.8" cy="2087.9" r="3.4"/><circle cx="1192.7" cy="2099.5" r="3.4"/><circle cx="1173.7" cy="2072.3" r="3.4"/><circle cx="1192.2" cy="2079.8" r="3.4"/><circle cx="1187.7" cy="2095.6" r="3.4"/><circle cx="1185.3" cy="2100.9" r="3.4"/><circle cx="1214.7" cy="2101.3" r="3.4"/><circle cx="1193.5" cy="2086.7" r="3.4"/><circle cx="1175.0" cy="2095.8" r="3.4"/><circle cx="1181.8" cy="2098.8" r="3.4"/><circle cx="1204.3" cy="2095.9" r="3.4"/><circle cx="1178.6" cy="2096.2" r="3.4"/><circle cx="1215.9" cy="2099.5" r="3.4"/><circle cx="1209.4" cy="2101.9" r="3.4"/><circle cx="1189.6" cy="2089.4" r="3.4"/><circle cx="1190.9" cy="2096.7" r="3.4"/><circle cx="1197.5" cy="2098.3" r="3.4"/><circle cx="1184.4" cy="2102.0" r="3.4"/><circle cx="1213.3" cy="2101.4" r="3.4"/><circle cx="1184.5" cy="2101.0" r="3.4"/><circle cx="1191.1" cy="2101.4" r="3.4"/><circle cx="1192.2" cy="2100.6" r="3.4"/><circle cx="1175.2" cy="2089.3" r="3.4"/><circle cx="1176.3" cy="2082.5" r="3.4"/><circle cx="1178.9" cy="2093.4" r="3.4"/><circle cx="1182.0" cy="2093.0" r="3.4"/><circle cx="1177.2" cy="2075.8" r="3.4"/><circle cx="1174.7" cy="2091.0" r="3.4"/><circle cx="1210.2" cy="2101.4" r="3.4"/><circle cx="1184.4" cy="2093.4" r="3.4"/><circle cx="1184.7" cy="2077.8" r="3.4"/><circle cx="1177.9" cy="2099.1" r="3.4"/><circle cx="1172.7" cy="2092.2" r="3.4"/><circle cx="1204.7" cy="2090.1" r="3.4"/><circle cx="1176.4" cy="2098.8" r="3.4"/><circle cx="1190.5" cy="2088.3" r="3.4"/><circle cx="1180.6" cy="2092.9" r="3.4"/><circle cx="1194.1" cy="2086.0" r="3.4"/><circle cx="1203.0" cy="2099.2" r="3.4"/><circle cx="1205.8" cy="2091.3" r="3.4"/><circle cx="1191.6" cy="2080.4" r="3.4"/><circle cx="1210.4" cy="2099.8" r="3.4"/><circle cx="1174.7" cy="2100.7" r="3.4"/><circle cx="1172.3" cy="2099.6" r="3.4"/><circle cx="1191.5" cy="2085.6" r="3.4"/><circle cx="1179.4" cy="2082.9" r="3.4"/><circle cx="1183.9" cy="2072.6" r="3.4"/><circle cx="1204.3" cy="2097.9" r="3.4"/><circle cx="1181.6" cy="2091.0" r="3.4"/><circle cx="1205.6" cy="2100.4" r="3.4"/><circle cx="1176.2" cy="2088.6" r="3.4"/><circle cx="1179.9" cy="2079.4" r="3.4"/><circle cx="1211.7" cy="2093.8" r="3.4"/><circle cx="1179.8" cy="2076.9" r="3.4"/><circle cx="1177.9" cy="2081.0" r="3.4"/><circle cx="1208.5" cy="2095.7" r="3.4"/><circle cx="1191.6" cy="2100.1" r="3.4"/><circle cx="1219.5" cy="2100.2" r="3.4"/><circle cx="1198.6" cy="2099.9" r="3.4"/><circle cx="1175.5" cy="2101.7" r="3.4"/><circle cx="1219.4" cy="2098.4" r="3.4"/><circle cx="1187.8" cy="2088.8" r="3.4"/><circle cx="1174.1" cy="2101.6" r="3.4"/><circle cx="1186.9" cy="2097.2" r="3.4"/><circle cx="1198.5" cy="2099.9" r="3.4"/><circle cx="1183.6" cy="2091.8" r="3.4"/><circle cx="1192.0" cy="2089.6" r="3.4"/><circle cx="1194.0" cy="2054.0" r="3.4"/><circle cx="1228.0" cy="2045.0" r="3.4"/><circle cx="1244.0" cy="2051.0" r="3.4"/><circle cx="1231.0" cy="2083.0" r="3.4"/><circle cx="1249.0" cy="2085.0" r="3.4"/><circle cx="1259.0" cy="2084.0" r="3.4"/><circle cx="1263.0" cy="2089.0" r="3.4"/><circle cx="1295.0" cy="2081.0" r="3.4"/><circle cx="1257.0" cy="2102.0" r="3.4"/><circle cx="1230.0" cy="2098.0" r="3.4"/><circle cx="1234.0" cy="2096.0" r="3.4"/><circle cx="1180.0" cy="2062.0" r="3.4"/><circle cx="1185.0" cy="2068.0" r="3.4"/><circle cx="1205.0" cy="2075.0" r="3.4"/><circle cx="1215.0" cy="2080.0" r="3.4"/><circle cx="1220.0" cy="2090.0" r="3.4"/><circle cx="1240.0" cy="2094.0" r="3.4"/><circle cx="945.4" cy="2097.2" r="3.4"/><circle cx="943.3" cy="2098.2" r="3.4"/><circle cx="955.6" cy="2097.8" r="3.4"/><circle cx="922.3" cy="2094.5" r="3.4"/><circle cx="922.7" cy="2102.9" r="3.4"/><circle cx="937.1" cy="2099.7" r="3.4"/><circle cx="999.8" cy="2095.2" r="3.4"/><circle cx="934.6" cy="2105.4" r="3.4"/><circle cx="950.7" cy="2097.7" r="3.4"/><circle cx="926.7" cy="2094.2" r="3.4"/><circle cx="967.7" cy="2104.3" r="3.4"/><circle cx="947.8" cy="2102.9" r="3.4"/><circle cx="950.5" cy="2103.3" r="3.4"/><circle cx="965.6" cy="2098.5" r="3.4"/><circle cx="976.5" cy="2096.5" r="3.4"/><circle cx="952.6" cy="2104.6" r="3.4"/><circle cx="929.7" cy="2102.9" r="3.4"/><circle cx="928.8" cy="2101.0" r="3.4"/><circle cx="1000.1" cy="2101.9" r="3.4"/><circle cx="935.1" cy="2102.5" r="3.4"/><circle cx="1001.3" cy="2094.9" r="3.4"/><circle cx="967.2" cy="2098.1" r="3.4"/><circle cx="983.3" cy="2105.9" r="3.4"/><circle cx="936.2" cy="2102.6" r="3.4"/><circle cx="921.9" cy="2096.3" r="3.4"/><circle cx="967.5" cy="2097.0" r="3.4"/><circle cx="996.9" cy="2104.2" r="3.4"/><circle cx="999.6" cy="2105.7" r="3.4"/><circle cx="998.5" cy="2099.4" r="3.4"/><circle cx="982.6" cy="2104.9" r="3.4"/><circle cx="924.1" cy="2099.0" r="3.4"/><circle cx="1001.8" cy="2100.0" r="3.4"/><circle cx="920.0" cy="2101.2" r="3.4"/><circle cx="980.7" cy="2095.5" r="3.4"/><circle cx="922.1" cy="2100.8" r="3.4"/></g>
<line x1="1009.6" y1="1716.0" x2="1009.6" y2="2134.2" stroke="#000" stroke-width="2.00" stroke-dasharray="14,8"/>
<line x1="1171.8" y1="1716.0" x2="1171.8" y2="2134.2" stroke="#000" stroke-width="2.00" stroke-dasharray="14,8"/>
<line x1="785.8" y1="2105.1" x2="1395.1" y2="2105.1" stroke="#000" stroke-width="2.00" stroke-dasharray="14,8"/>
<line x1="785.8" y1="1710.2" x2="785.8" y2="2135.2" stroke="#000" stroke-width="2.00" />
<line x1="784.8" y1="2134.2" x2="1395.1" y2="2134.2" stroke="#000" stroke-width="2.00" />
<line x1="780.3" y1="2113.1" x2="785.8" y2="2113.1" stroke="#333" stroke-width="1.60" />
<text x="776.5" y="2118.9" font-size="22.50" text-anchor="end" fill="#3d3d3d" stroke="#3d3d3d" stroke-width="0.4">0</text>
<line x1="780.3" y1="1985.5" x2="785.8" y2="1985.5" stroke="#333" stroke-width="1.60" />
<text x="776.5" y="1991.3" font-size="22.50" text-anchor="end" fill="#3d3d3d" stroke="#3d3d3d" stroke-width="0.4">20</text>
<line x1="780.3" y1="1857.9" x2="785.8" y2="1857.9" stroke="#333" stroke-width="1.60" />
<text x="776.5" y="1863.7" font-size="22.50" text-anchor="end" fill="#3d3d3d" stroke="#3d3d3d" stroke-width="0.4">40</text>
<line x1="780.3" y1="1730.3" x2="785.8" y2="1730.3" stroke="#333" stroke-width="1.60" />
<text x="776.5" y="1736.1" font-size="22.50" text-anchor="end" fill="#3d3d3d" stroke="#3d3d3d" stroke-width="0.4">60</text>
<line x1="785.8" y1="2134.2" x2="785.8" y2="2141.2" stroke="#333" stroke-width="1.60" />
<text x="785.8" y="2162.8" font-size="23.00" text-anchor="middle" fill="#3d3d3d" stroke="#3d3d3d" stroke-width="0.4">−2</text>
<line x1="887.2" y1="2134.2" x2="887.2" y2="2141.2" stroke="#333" stroke-width="1.60" />
<text x="887.2" y="2162.8" font-size="23.00" text-anchor="middle" fill="#3d3d3d" stroke="#3d3d3d" stroke-width="0.4">−1</text>
<line x1="988.6" y1="2134.2" x2="988.6" y2="2141.2" stroke="#333" stroke-width="1.60" />
<text x="988.6" y="2162.8" font-size="23.00" text-anchor="middle" fill="#3d3d3d" stroke="#3d3d3d" stroke-width="0.4">−0.5</text>
<line x1="1090.0" y1="2134.2" x2="1090.0" y2="2141.2" stroke="#333" stroke-width="1.60" />
<text x="1090.0" y="2162.8" font-size="23.00" text-anchor="middle" fill="#3d3d3d" stroke="#3d3d3d" stroke-width="0.4">0</text>
<line x1="1191.4" y1="2134.2" x2="1191.4" y2="2141.2" stroke="#333" stroke-width="1.60" />
<text x="1191.4" y="2162.8" font-size="23.00" text-anchor="middle" fill="#3d3d3d" stroke="#3d3d3d" stroke-width="0.4">0.5</text>
<line x1="1292.8" y1="2134.2" x2="1292.8" y2="2141.2" stroke="#333" stroke-width="1.60" />
<text x="1292.8" y="2162.8" font-size="23.00" text-anchor="middle" fill="#3d3d3d" stroke="#3d3d3d" stroke-width="0.4">1</text>
<line x1="1394.2" y1="2134.2" x2="1394.2" y2="2141.2" stroke="#333" stroke-width="1.60" />
<text x="1394.2" y="2162.8" font-size="23.00" text-anchor="middle" fill="#3d3d3d" stroke="#3d3d3d" stroke-width="0.4">1.5</text>
<text x="1001.6" y="2191.0" font-size="22.5" stroke="#000" stroke-width="0.4" textLength="181.5" lengthAdjust="spacingAndGlyphs">Log<tspan font-size="16.9" dy="6">2</tspan><tspan dy="-6"> Fold Change</tspan></text>
<text x="737.5" y="2008.0" font-size="26.0" stroke="#000" stroke-width="0.4" textLength="180.0" lengthAdjust="spacingAndGlyphs" transform="rotate(-90 737.5 2008.0)">−Log<tspan font-size="18.7" dy="7">10</tspan><tspan dy="-7"> P-Value</tspan></text>
<text x="1333.2" y="1753.4" font-size="17.80" text-anchor="middle" stroke="#000" stroke-width="0.4">Total</text>
<text x="1274.6" y="1775.0" font-size="18.02" stroke="#000" stroke-width="0.4">2153 variables</text>
<text x="919.5" y="1970.0" font-size="17.80" text-anchor="middle" stroke="#000" stroke-width="0.4">Cck</text>
<text x="960.3" y="2002.9" font-size="17.80" text-anchor="middle" fill="#e3262b" stroke="#e3262b" stroke-width="0.4">Calm2</text>
<text x="890.0" y="2020.7" font-size="17.80" text-anchor="middle" fill="#e3262b" stroke="#e3262b" stroke-width="0.4">Nrgn</text>
<text x="982.8" y="2037.1" font-size="17.80" text-anchor="middle" fill="#e3262b" stroke="#e3262b" stroke-width="0.4">Calm1</text>
<text x="856.2" y="2064.3" font-size="17.80" text-anchor="middle" fill="#e3262b" stroke="#e3262b" stroke-width="0.4">Ubb</text>
<text x="845.4" y="2098.1" font-size="17.80" text-anchor="middle" stroke="#000" stroke-width="0.4">Fau</text>
<text x="948.6" y="2127.2" font-size="17.80" text-anchor="middle" stroke="#000" stroke-width="0.4">Vsnl1</text>
<text x="1177.5" y="1973.8" font-size="17.80" stroke="#000" stroke-width="0.4">Gpd1</text>
<text x="1216.9" y="1945.7" font-size="17.80" stroke="#000" stroke-width="0.4">AC149090.1</text>
<text x="1255.8" y="1977.1" font-size="17.80" stroke="#000" stroke-width="0.4">Kif5a</text>
<text x="1286.3" y="2005.7" font-size="17.80" stroke="#000" stroke-width="0.4">AY036118</text>
<text x="1299.0" y="2030.1" font-size="17.80" stroke="#000" stroke-width="0.4">Ankrd28</text>
<text x="1339.3" y="2055.9" font-size="17.80" stroke="#000" stroke-width="0.4">Cmss1</text>
<text x="1190.1" y="2072.3" font-size="17.80" stroke="#000" stroke-width="0.4">Nfia</text>
<text x="1346.3" y="2088.7" font-size="17.80" stroke="#000" stroke-width="0.4">Shtn1</text>
<text x="1304.1" y="2100.5" font-size="17.80" stroke="#000" stroke-width="0.4">Trf</text>
<text x="1215.0" y="2127.2" font-size="17.80" stroke="#000" stroke-width="0.4">Meg3</text>
<text x="1308.3" y="2127.2" font-size="17.80" stroke="#000" stroke-width="0.4">Fth1</text>
<line x1="918.0" y1="1973.8" x2="936.0" y2="2098.0" stroke="#000" stroke-width="1.60" />
<line x1="947.2" y1="2009.0" x2="958.0" y2="2095.8" stroke="#000" stroke-width="1.60" />
<line x1="894.6" y1="2030.0" x2="921.4" y2="2094.8" stroke="#000" stroke-width="1.60" />
<line x1="973.5" y1="2044.0" x2="968.8" y2="2094.8" stroke="#000" stroke-width="1.60" />
<line x1="877.3" y1="2065.3" x2="918.1" y2="2093.4" stroke="#000" stroke-width="1.60" />
<line x1="861.8" y1="2093.4" x2="918.0" y2="2096.7" stroke="#000" stroke-width="1.60" />
<line x1="929.8" y1="2112.2" x2="923.7" y2="2098.1" stroke="#000" stroke-width="1.60" />
<line x1="1194.2" y1="1983.2" x2="1194.2" y2="2054.5" stroke="#000" stroke-width="1.60" />
<line x1="1231.4" y1="1952.7" x2="1227.7" y2="2045.1" stroke="#000" stroke-width="1.60" />
<line x1="1255.8" y1="1985.5" x2="1244.1" y2="2051.2" stroke="#000" stroke-width="1.60" />
<line x1="1288.6" y1="2010.4" x2="1231.4" y2="2082.6" stroke="#000" stroke-width="1.60" />
<line x1="1300.4" y1="2037.1" x2="1248.8" y2="2085.0" stroke="#000" stroke-width="1.60" />
<line x1="1337.9" y1="2060.6" x2="1294.7" y2="2080.8" stroke="#000" stroke-width="1.60" />
<line x1="1216.0" y1="2077.0" x2="1230.0" y2="2088.7" stroke="#000" stroke-width="1.60" />
<line x1="1340.2" y1="2085.4" x2="1259.1" y2="2084.0" stroke="#000" stroke-width="1.60" />
<line x1="1302.7" y1="2095.8" x2="1262.8" y2="2088.7" stroke="#000" stroke-width="1.60" />
<line x1="1234.7" y1="2113.6" x2="1234.7" y2="2098.1" stroke="#000" stroke-width="1.60" />
<line x1="1305.0" y1="2117.8" x2="1257.2" y2="2101.9" stroke="#000" stroke-width="1.60" />
<text x="153.5" y="2326.4" font-size="31.47" stroke="#000" stroke-width="0.4">PS19-fE4</text>
<text x="434.2" y="2326.4" font-size="31.75" stroke="#000" stroke-width="0.4">PS19-fE4/Syn1-Cre</text>
<text x="860.7" y="2326.4" font-size="31.24" stroke="#000" stroke-width="0.4">PS19-fE3</text>
<text x="35" y="2470.5" font-size="28" text-anchor="middle" textLength="213.8" lengthAdjust="spacingAndGlyphs" stroke="#000" stroke-width="0.4" transform="rotate(-90 35 2470.5)"><tspan fill="#1c2ec0" stroke="#1c2ec0">Olig2</tspan>/<tspan fill="#1ec81e" stroke="#1ec81e">Hsp90</tspan>/<tspan fill="#dd2020" stroke="#dd2020">Ubb</tspan></text>
<defs>
<filter id="bl2" x="-50%" y="-50%" width="200%" height="200%"><feGaussianBlur stdDeviation="2"/></filter>
<filter id="bl1" x="-50%" y="-50%" width="200%" height="200%"><feGaussianBlur stdDeviation="1"/></filter>
<filter id="bl4" x="-50%" y="-50%" width="200%" height="200%"><feGaussianBlur stdDeviation="4"/></filter>
<clipPath id="cp1"><rect x="60.4" y="2347.7" width="333.2" height="240.2"/></clipPath>
<clipPath id="cp2"><rect x="404.5" y="2347.7" width="331.7" height="240.2"/></clipPath>
<clipPath id="cp3"><rect x="750.5" y="2347.7" width="345.3" height="240.3"/></clipPath>
</defs>
<defs>
<radialGradient id="cellg" cx="0.55" cy="0.5" r="0.5">
<stop offset="0" stop-color="#1a2cff"/><stop offset="0.38" stop-color="#1a3cff"/>
<stop offset="0.52" stop-color="#22b8d8"/><stop offset="0.66" stop-color="#44ff33"/>
<stop offset="0.9" stop-color="#2ee02e"/><stop offset="1" stop-color="#1a9a1a" stop-opacity="0"/>
</radialGradient>
<radialGradient id="cellg2" cx="0.5" cy="0.5" r="0.5">
<stop offset="0" stop-color="#1a2cff"/><stop offset="0.3" stop-color="#1a2cff"/>
<stop offset="0.55" stop-color="#1a5a90" stop-opacity="0.6"/><stop offset="0.8" stop-color="#1fb01f" stop-opacity="0.7"/>
<stop offset="1" stop-color="#0a500a" stop-opacity="0"/>
</radialGradient>
</defs>
<rect x="60.4" y="2347.7" width="333.2" height="240.2" fill="#000" stroke="none" stroke-width="1.00" />
<g clip-path="url(#cp1)">
<g fill="#178f17"><circle cx="108.5" cy="2501.9" r="0.8"/><circle cx="333.1" cy="2424.8" r="0.8"/><circle cx="99.9" cy="2464.5" r="0.8"/><circle cx="278.5" cy="2564.8" r="0.8"/><circle cx="126.3" cy="2376.3" r="0.8"/><circle cx="307.7" cy="2514.4" r="0.8"/><circle cx="358.8" cy="2540.1" r="0.8"/><circle cx="217.9" cy="2442.3" r="0.8"/><circle cx="395.9" cy="2454.2" r="0.8"/><circle cx="154.3" cy="2376.7" r="0.8"/><circle cx="241.4" cy="2484.8" r="0.8"/><circle cx="189.2" cy="2463.7" r="0.8"/><circle cx="260.7" cy="2536.1" r="0.8"/><circle cx="343.7" cy="2488.5" r="0.8"/><circle cx="84.7" cy="2518.4" r="0.8"/><circle cx="94.9" cy="2456.1" r="0.8"/><circle cx="91.6" cy="2470.2" r="0.8"/><circle cx="143.5" cy="2490.2" r="0.8"/><circle cx="399.6" cy="2467.9" r="0.8"/><circle cx="306.8" cy="2367.4" r="0.8"/><circle cx="197.5" cy="2533.5" r="0.8"/><circle cx="219.1" cy="2507.1" r="0.8"/><circle cx="241.0" cy="2379.0" r="0.8"/><circle cx="290.3" cy="2396.2" r="0.8"/><circle cx="381.1" cy="2435.3" r="0.8"/><circle cx="307.9" cy="2470.2" r="0.8"/><circle cx="328.5" cy="2417.1" r="0.8"/><circle cx="336.4" cy="2458.8" r="0.8"/><circle cx="350.9" cy="2520.8" r="0.8"/><circle cx="245.7" cy="2396.1" r="0.8"/><circle cx="313.7" cy="2513.4" r="0.8"/><circle cx="374.3" cy="2441.8" r="0.8"/><circle cx="292.2" cy="2518.4" r="0.8"/><circle cx="263.5" cy="2491.0" r="0.8"/><circle cx="250.9" cy="2411.7" r="0.8"/><circle cx="124.1" cy="2434.8" r="0.8"/><circle cx="283.0" cy="2585.1" r="0.8"/><circle cx="322.8" cy="2555.0" r="0.8"/><circle cx="312.0" cy="2532.6" r="0.8"/><circle cx="250.4" cy="2543.0" r="0.8"/><circle cx="379.8" cy="2446.5" r="0.8"/><circle cx="176.6" cy="2598.1" r="0.8"/><circle cx="256.1" cy="2558.0" r="0.8"/><circle cx="313.1" cy="2378.3" r="0.8"/><circle cx="366.6" cy="2554.7" r="0.8"/><circle cx="249.8" cy="2541.5" r="0.8"/><circle cx="243.9" cy="2388.0" r="0.8"/><circle cx="216.8" cy="2507.5" r="0.8"/><circle cx="339.5" cy="2529.2" r="0.8"/><circle cx="235.8" cy="2581.9" r="0.8"/><circle cx="150.8" cy="2540.2" r="0.8"/><circle cx="344.4" cy="2444.5" r="0.8"/><circle cx="88.8" cy="2409.3" r="0.8"/><circle cx="257.3" cy="2521.8" r="0.8"/><circle cx="359.0" cy="2398.9" r="0.8"/><circle cx="230.2" cy="2533.0" r="0.8"/><circle cx="219.1" cy="2330.2" r="0.8"/><circle cx="284.6" cy="2603.0" r="0.8"/><circle cx="327.5" cy="2394.3" r="0.8"/><circle cx="181.8" cy="2492.1" r="0.8"/><circle cx="391.9" cy="2504.1" r="0.8"/><circle cx="240.4" cy="2591.0" r="0.8"/><circle cx="223.2" cy="2601.0" r="0.8"/><circle cx="154.3" cy="2425.4" r="0.8"/><circle cx="295.2" cy="2579.4" r="0.8"/><circle cx="303.8" cy="2498.9" r="0.8"/><circle cx="83.8" cy="2421.4" r="0.8"/><circle cx="162.2" cy="2419.7" r="0.8"/><circle cx="296.7" cy="2437.6" r="0.8"/><circle cx="317.7" cy="2477.8" r="0.8"/><circle cx="190.6" cy="2481.9" r="0.8"/><circle cx="276.1" cy="2548.5" r="0.8"/><circle cx="174.6" cy="2447.0" r="0.8"/><circle cx="126.1" cy="2573.9" r="0.8"/><circle cx="366.8" cy="2455.7" r="0.8"/><circle cx="183.1" cy="2367.0" r="0.8"/><circle cx="250.2" cy="2490.9" r="0.8"/><circle cx="391.2" cy="2485.5" r="0.8"/><circle cx="179.4" cy="2334.9" r="0.8"/><circle cx="364.4" cy="2485.3" r="0.8"/><circle cx="85.6" cy="2483.8" r="0.8"/><circle cx="158.7" cy="2601.1" r="0.8"/><circle cx="341.8" cy="2518.6" r="0.8"/><circle cx="216.8" cy="2333.4" r="0.8"/><circle cx="218.4" cy="2349.2" r="0.8"/><circle cx="273.7" cy="2336.9" r="0.8"/><circle cx="146.0" cy="2565.9" r="0.8"/><circle cx="358.9" cy="2391.3" r="0.8"/><circle cx="98.9" cy="2533.9" r="0.8"/><circle cx="314.2" cy="2387.3" r="0.8"/><circle cx="155.7" cy="2406.8" r="0.8"/><circle cx="114.8" cy="2414.0" r="0.8"/><circle cx="349.0" cy="2525.8" r="0.8"/><circle cx="389.3" cy="2464.3" r="0.8"/><circle cx="215.5" cy="2380.8" r="0.8"/><circle cx="217.8" cy="2360.3" r="0.8"/><circle cx="85.1" cy="2518.3" r="0.8"/><circle cx="357.3" cy="2532.9" r="0.8"/><circle cx="359.5" cy="2490.9" r="0.8"/><circle cx="149.0" cy="2478.3" r="0.8"/><circle cx="191.8" cy="2373.4" r="0.8"/><circle cx="107.3" cy="2378.6" r="0.8"/><circle cx="229.3" cy="2485.4" r="0.8"/><circle cx="185.9" cy="2582.9" r="0.8"/><circle cx="250.6" cy="2526.9" r="0.8"/><circle cx="344.6" cy="2404.5" r="0.8"/><circle cx="80.0" cy="2518.7" r="0.8"/><circle cx="165.5" cy="2574.4" r="0.8"/><circle cx="265.5" cy="2559.9" r="0.8"/><circle cx="286.0" cy="2340.3" r="0.8"/><circle cx="307.0" cy="2408.8" r="0.8"/><circle cx="147.1" cy="2429.5" r="0.8"/><circle cx="308.5" cy="2546.9" r="0.8"/><circle cx="311.5" cy="2356.3" r="0.8"/><circle cx="190.0" cy="2333.3" r="0.8"/><circle cx="218.3" cy="2528.6" r="0.8"/><circle cx="145.1" cy="2493.1" r="0.8"/><circle cx="254.5" cy="2560.6" r="0.8"/><circle cx="145.9" cy="2397.9" r="0.8"/><circle cx="167.8" cy="2591.4" r="0.8"/><circle cx="343.6" cy="2459.1" r="0.8"/><circle cx="256.9" cy="2481.6" r="0.8"/><circle cx="254.1" cy="2448.9" r="0.8"/><circle cx="197.0" cy="2364.5" r="0.8"/><circle cx="175.2" cy="2589.8" r="0.8"/><circle cx="292.2" cy="2476.4" r="0.8"/><circle cx="204.3" cy="2476.4" r="0.8"/><circle cx="269.8" cy="2408.2" r="0.8"/><circle cx="253.3" cy="2494.2" r="0.8"/><circle cx="151.8" cy="2400.0" r="0.8"/><circle cx="135.8" cy="2384.8" r="0.8"/><circle cx="288.7" cy="2337.6" r="0.8"/><circle cx="199.6" cy="2410.9" r="0.8"/><circle cx="159.0" cy="2479.5" r="0.8"/><circle cx="346.6" cy="2476.7" r="0.8"/><circle cx="213.9" cy="2410.4" r="0.8"/><circle cx="216.0" cy="2554.1" r="0.8"/><circle cx="190.1" cy="2371.4" r="0.8"/><circle cx="118.8" cy="2387.2" r="0.8"/><circle cx="111.3" cy="2549.8" r="0.8"/><circle cx="271.7" cy="2446.3" r="0.8"/><circle cx="361.7" cy="2419.5" r="0.8"/><circle cx="308.4" cy="2540.9" r="0.8"/><circle cx="115.7" cy="2372.2" r="0.8"/><circle cx="138.3" cy="2546.2" r="0.8"/><circle cx="340.2" cy="2381.3" r="0.8"/><circle cx="338.7" cy="2436.2" r="0.8"/><circle cx="185.3" cy="2416.8" r="0.8"/><circle cx="203.0" cy="2341.3" r="0.8"/><circle cx="139.3" cy="2374.9" r="0.8"/><circle cx="266.9" cy="2603.5" r="0.8"/><circle cx="396.8" cy="2452.5" r="0.8"/><circle cx="82.9" cy="2440.4" r="0.8"/><circle cx="160.6" cy="2594.6" r="0.8"/><circle cx="291.9" cy="2402.9" r="0.8"/><circle cx="328.0" cy="2517.7" r="0.8"/><circle cx="88.4" cy="2430.6" r="0.8"/><circle cx="201.4" cy="2471.9" r="0.8"/><circle cx="245.6" cy="2435.9" r="0.8"/><circle cx="251.8" cy="2412.8" r="0.8"/></g>
<ellipse cx="247.2" cy="2369.2" rx="14.6" ry="16.9" fill="#1a1aff" filter="url(#bl1)" opacity="1.00"/>
<ellipse cx="194.4" cy="2371.5" rx="8.0" ry="5.6" fill="#1a1aff" filter="url(#bl1)" opacity="1.00"/>
<ellipse cx="207.8" cy="2391.7" rx="5.6" ry="5.6" fill="#1a1aff" filter="url(#bl1)" opacity="1.00"/>
<ellipse cx="64.0" cy="2378.2" rx="4.5" ry="4.5" fill="#1a1aff" filter="url(#bl1)" opacity="1.00"/>
<ellipse cx="70.7" cy="2397.3" rx="9.0" ry="5.6" fill="#1a1aff" filter="url(#bl1)" opacity="1.00"/>
<ellipse cx="239.3" cy="2418.7" rx="6.7" ry="5.0" fill="#1a1aff" filter="url(#bl1)" opacity="1.00"/>
<ellipse cx="232.6" cy="2449.0" rx="6.7" ry="6.7" fill="#1a1aff" filter="url(#bl1)" opacity="1.00"/>
<ellipse cx="148.3" cy="2519.8" rx="6.7" ry="6.7" fill="#1a1aff" filter="url(#bl1)" opacity="1.00"/>
<ellipse cx="304.5" cy="2497.3" rx="6.7" ry="6.7" fill="#1a1aff" filter="url(#bl1)" opacity="1.00"/>
<ellipse cx="381.0" cy="2385.0" rx="9.0" ry="18.0" fill="#1a1aff" filter="url(#bl1)" opacity="1.00"/>
<ellipse cx="328.0" cy="2353.5" rx="4.0" ry="4.0" fill="#1a1aff" filter="url(#bl1)" opacity="1.00"/>
<ellipse cx="235.0" cy="2372.0" rx="6.0" ry="9.0" fill="#1a1aff" filter="url(#bl1)" opacity="1.00"/>
<ellipse cx="77.5" cy="2578.3" rx="11.0" ry="7.0" fill="#1a1ad0" filter="url(#bl2)" opacity="0.80"/>
<ellipse cx="113.4" cy="2576.0" rx="13.0" ry="7.0" fill="#1a1ad0" filter="url(#bl2)" opacity="0.80"/>
<ellipse cx="198.9" cy="2578.3" rx="17.0" ry="8.0" fill="#1a1ad0" filter="url(#bl2)" opacity="0.80"/>
<ellipse cx="313.5" cy="2567.0" rx="10.0" ry="10.0" fill="#1a1ad0" filter="url(#bl2)" opacity="0.80"/>
<ellipse cx="369.7" cy="2573.8" rx="13.0" ry="7.0" fill="#1a1ad0" filter="url(#bl2)" opacity="0.80"/>
<ellipse cx="345.0" cy="2450.0" rx="10.5" ry="7.4" fill="#1a1aff" filter="url(#bl1)" opacity="0.90"/>
<g fill="#22dd22"><circle cx="335.6" cy="2461.3" r="0.8"/><circle cx="353.9" cy="2458.6" r="1.2"/><circle cx="354.3" cy="2439.6" r="1.4"/><circle cx="324.7" cy="2450.7" r="0.8"/><circle cx="347.7" cy="2460.6" r="0.9"/><circle cx="342.8" cy="2438.2" r="1.1"/><circle cx="353.7" cy="2440.8" r="0.9"/><circle cx="330.9" cy="2459.3" r="1.3"/><circle cx="350.0" cy="2463.2" r="1.4"/><circle cx="329.4" cy="2448.3" r="0.8"/><circle cx="330.6" cy="2447.6" r="1.1"/><circle cx="365.3" cy="2452.5" r="1.1"/><circle cx="329.8" cy="2457.8" r="1.1"/><circle cx="327.7" cy="2450.7" r="0.7"/><circle cx="332.0" cy="2447.7" r="1.4"/><circle cx="354.6" cy="2446.4" r="1.0"/><circle cx="354.6" cy="2457.0" r="1.3"/><circle cx="356.7" cy="2444.0" r="0.9"/><circle cx="350.9" cy="2460.9" r="1.3"/><circle cx="357.7" cy="2459.5" r="0.7"/><circle cx="348.4" cy="2456.6" r="1.2"/><circle cx="339.5" cy="2458.0" r="1.1"/><circle cx="359.1" cy="2457.8" r="0.8"/><circle cx="334.6" cy="2449.5" r="0.8"/><circle cx="331.4" cy="2448.1" r="1.0"/><circle cx="332.0" cy="2455.6" r="0.8"/><circle cx="349.7" cy="2461.3" r="1.1"/><circle cx="326.0" cy="2447.5" r="1.1"/><circle cx="351.3" cy="2444.4" r="1.2"/><circle cx="352.4" cy="2436.9" r="0.9"/><circle cx="337.0" cy="2463.1" r="0.9"/><circle cx="364.7" cy="2449.9" r="0.8"/><circle cx="346.2" cy="2462.6" r="0.9"/><circle cx="360.6" cy="2457.8" r="1.0"/><circle cx="346.8" cy="2444.9" r="1.0"/><circle cx="343.9" cy="2448.2" r="0.8"/><circle cx="336.8" cy="2437.1" r="1.4"/><circle cx="356.1" cy="2457.0" r="1.2"/><circle cx="327.7" cy="2449.8" r="0.8"/><circle cx="351.2" cy="2452.1" r="0.7"/><circle cx="330.8" cy="2446.6" r="1.1"/><circle cx="350.4" cy="2455.1" r="0.8"/><circle cx="356.2" cy="2437.5" r="1.3"/><circle cx="349.3" cy="2452.1" r="1.4"/><circle cx="327.2" cy="2453.1" r="0.9"/><circle cx="330.3" cy="2452.2" r="1.0"/><circle cx="343.1" cy="2449.0" r="1.2"/><circle cx="350.0" cy="2444.8" r="1.0"/><circle cx="344.1" cy="2440.6" r="0.8"/><circle cx="352.6" cy="2459.2" r="0.7"/><circle cx="359.7" cy="2441.7" r="1.2"/><circle cx="355.6" cy="2441.0" r="1.0"/><circle cx="333.0" cy="2443.8" r="1.4"/><circle cx="348.6" cy="2442.9" r="1.3"/><circle cx="344.4" cy="2436.9" r="1.3"/><circle cx="328.6" cy="2457.9" r="1.3"/><circle cx="338.8" cy="2437.8" r="1.2"/><circle cx="330.3" cy="2457.0" r="0.7"/><circle cx="337.2" cy="2458.5" r="0.7"/><circle cx="334.7" cy="2459.3" r="1.1"/><circle cx="347.3" cy="2464.3" r="1.2"/><circle cx="336.1" cy="2460.3" r="1.1"/><circle cx="332.2" cy="2448.1" r="1.4"/><circle cx="334.0" cy="2440.3" r="1.2"/><circle cx="348.1" cy="2449.7" r="1.1"/><circle cx="344.3" cy="2442.5" r="1.0"/><circle cx="353.8" cy="2452.0" r="1.0"/><circle cx="353.5" cy="2454.3" r="1.3"/><circle cx="330.8" cy="2446.7" r="1.4"/><circle cx="326.0" cy="2443.9" r="1.1"/><circle cx="347.1" cy="2446.2" r="1.1"/><circle cx="345.3" cy="2446.9" r="1.4"/><circle cx="352.7" cy="2458.6" r="0.8"/><circle cx="328.7" cy="2450.3" r="0.7"/><circle cx="357.8" cy="2446.8" r="1.1"/><circle cx="334.7" cy="2444.8" r="0.9"/><circle cx="336.2" cy="2440.8" r="0.9"/><circle cx="342.6" cy="2442.1" r="0.7"/><circle cx="345.1" cy="2453.1" r="0.8"/><circle cx="345.4" cy="2440.7" r="1.3"/><circle cx="345.0" cy="2446.7" r="1.4"/><circle cx="350.3" cy="2448.6" r="1.3"/><circle cx="331.9" cy="2454.4" r="1.4"/><circle cx="345.6" cy="2460.7" r="1.4"/><circle cx="342.6" cy="2440.0" r="1.4"/><circle cx="351.6" cy="2439.5" r="0.8"/><circle cx="335.0" cy="2442.9" r="0.8"/><circle cx="359.4" cy="2453.5" r="0.8"/><circle cx="329.0" cy="2454.3" r="1.0"/><circle cx="343.8" cy="2461.3" r="1.0"/><circle cx="347.7" cy="2439.3" r="1.4"/><circle cx="362.1" cy="2446.3" r="0.9"/><circle cx="359.9" cy="2459.2" r="1.2"/><circle cx="336.1" cy="2443.7" r="0.9"/><circle cx="338.8" cy="2439.8" r="1.1"/><circle cx="332.8" cy="2440.4" r="0.8"/><circle cx="345.1" cy="2464.7" r="1.3"/><circle cx="348.0" cy="2448.0" r="0.7"/><circle cx="343.2" cy="2459.6" r="1.1"/><circle cx="357.3" cy="2456.6" r="0.8"/><circle cx="359.7" cy="2456.3" r="1.1"/><circle cx="336.3" cy="2443.3" r="1.0"/><circle cx="348.0" cy="2458.4" r="1.2"/><circle cx="348.0" cy="2446.6" r="0.8"/><circle cx="351.0" cy="2439.1" r="1.2"/><circle cx="348.1" cy="2459.4" r="0.9"/><circle cx="349.7" cy="2441.6" r="1.2"/><circle cx="356.9" cy="2449.4" r="1.1"/><circle cx="344.5" cy="2435.8" r="1.0"/><circle cx="340.6" cy="2453.4" r="1.3"/><circle cx="350.3" cy="2452.0" r="1.1"/><circle cx="327.8" cy="2451.2" r="0.9"/><circle cx="345.9" cy="2446.0" r="0.8"/><circle cx="341.9" cy="2446.4" r="0.9"/><circle cx="342.3" cy="2437.8" r="0.9"/><circle cx="352.8" cy="2456.9" r="1.2"/><circle cx="340.2" cy="2453.8" r="1.2"/><circle cx="326.8" cy="2444.0" r="1.4"/><circle cx="356.8" cy="2444.9" r="1.3"/><circle cx="341.0" cy="2457.9" r="1.0"/><circle cx="363.1" cy="2444.4" r="0.9"/><circle cx="336.8" cy="2456.9" r="1.0"/><circle cx="334.7" cy="2455.6" r="0.8"/><circle cx="327.8" cy="2444.8" r="1.1"/><circle cx="353.1" cy="2440.5" r="0.8"/><circle cx="346.1" cy="2436.1" r="0.9"/><circle cx="359.9" cy="2451.5" r="1.1"/><circle cx="326.3" cy="2444.0" r="1.2"/><circle cx="346.8" cy="2446.5" r="1.1"/><circle cx="346.4" cy="2445.8" r="0.8"/></g>
<ellipse cx="122.4" cy="2519.8" rx="7.4" ry="8.6" fill="#1a1aff" filter="url(#bl1)" opacity="0.90"/>
<g fill="#22dd22"><circle cx="121.3" cy="2503.5" r="0.8"/><circle cx="118.7" cy="2514.9" r="1.2"/><circle cx="118.0" cy="2512.9" r="0.9"/><circle cx="123.4" cy="2507.4" r="1.2"/><circle cx="115.6" cy="2526.0" r="1.4"/><circle cx="117.5" cy="2509.1" r="1.1"/><circle cx="120.1" cy="2505.5" r="1.3"/><circle cx="111.0" cy="2528.2" r="1.2"/><circle cx="130.5" cy="2507.5" r="1.3"/><circle cx="133.5" cy="2508.9" r="1.1"/><circle cx="110.0" cy="2517.6" r="1.3"/><circle cx="113.9" cy="2525.1" r="0.8"/><circle cx="121.6" cy="2502.6" r="1.0"/><circle cx="125.7" cy="2526.6" r="1.0"/><circle cx="118.6" cy="2536.2" r="0.7"/><circle cx="120.6" cy="2525.3" r="1.2"/><circle cx="123.4" cy="2512.6" r="0.7"/><circle cx="111.4" cy="2523.2" r="1.3"/><circle cx="127.2" cy="2521.1" r="0.8"/><circle cx="123.9" cy="2528.0" r="1.2"/><circle cx="116.6" cy="2515.2" r="0.8"/><circle cx="121.2" cy="2526.8" r="1.2"/><circle cx="118.2" cy="2531.6" r="1.3"/><circle cx="114.9" cy="2520.9" r="1.3"/><circle cx="129.9" cy="2514.6" r="1.1"/><circle cx="132.3" cy="2516.6" r="0.9"/><circle cx="136.2" cy="2525.0" r="1.3"/><circle cx="114.3" cy="2528.1" r="1.1"/><circle cx="120.1" cy="2536.8" r="1.2"/><circle cx="122.5" cy="2521.6" r="1.0"/><circle cx="113.2" cy="2530.9" r="1.2"/><circle cx="117.8" cy="2515.6" r="0.8"/><circle cx="119.1" cy="2527.7" r="1.3"/><circle cx="110.6" cy="2518.4" r="1.4"/><circle cx="121.3" cy="2532.4" r="0.8"/><circle cx="122.5" cy="2519.2" r="1.3"/><circle cx="130.1" cy="2506.9" r="0.8"/><circle cx="120.8" cy="2534.3" r="0.8"/><circle cx="112.3" cy="2521.3" r="1.4"/><circle cx="110.6" cy="2511.5" r="0.9"/><circle cx="124.7" cy="2509.0" r="1.3"/><circle cx="133.8" cy="2528.3" r="0.8"/><circle cx="112.0" cy="2516.4" r="0.8"/><circle cx="126.5" cy="2511.4" r="0.9"/><circle cx="129.7" cy="2524.2" r="1.0"/><circle cx="120.5" cy="2509.7" r="1.2"/><circle cx="129.7" cy="2526.5" r="1.0"/><circle cx="135.6" cy="2516.6" r="1.2"/><circle cx="131.5" cy="2520.6" r="1.2"/><circle cx="123.3" cy="2532.7" r="1.0"/><circle cx="137.2" cy="2520.9" r="1.3"/><circle cx="125.5" cy="2532.9" r="0.9"/><circle cx="114.6" cy="2528.7" r="0.9"/><circle cx="117.5" cy="2529.0" r="1.2"/><circle cx="122.1" cy="2527.5" r="1.2"/><circle cx="115.5" cy="2534.5" r="1.1"/><circle cx="121.0" cy="2510.0" r="1.3"/><circle cx="127.1" cy="2523.4" r="0.8"/><circle cx="116.9" cy="2506.7" r="0.8"/><circle cx="111.3" cy="2528.9" r="1.1"/><circle cx="128.4" cy="2524.2" r="0.8"/><circle cx="129.1" cy="2527.5" r="0.8"/><circle cx="130.9" cy="2514.4" r="1.1"/><circle cx="114.6" cy="2507.7" r="1.3"/><circle cx="116.0" cy="2526.3" r="1.0"/><circle cx="131.8" cy="2520.9" r="1.2"/><circle cx="135.5" cy="2518.1" r="1.2"/><circle cx="120.8" cy="2518.3" r="0.9"/><circle cx="115.8" cy="2531.5" r="0.8"/><circle cx="114.8" cy="2528.4" r="1.3"/><circle cx="127.7" cy="2507.8" r="0.8"/><circle cx="123.9" cy="2503.5" r="1.1"/><circle cx="116.1" cy="2529.6" r="0.8"/><circle cx="119.0" cy="2503.1" r="1.1"/><circle cx="119.5" cy="2504.4" r="0.8"/><circle cx="133.5" cy="2515.2" r="0.8"/><circle cx="128.8" cy="2524.1" r="1.1"/><circle cx="119.6" cy="2510.4" r="1.4"/><circle cx="115.9" cy="2528.8" r="0.8"/><circle cx="127.8" cy="2518.7" r="1.3"/><circle cx="111.7" cy="2516.3" r="1.1"/><circle cx="121.1" cy="2536.2" r="1.4"/><circle cx="127.1" cy="2507.6" r="0.8"/><circle cx="126.0" cy="2511.5" r="1.3"/><circle cx="123.0" cy="2532.9" r="1.3"/><circle cx="126.7" cy="2531.5" r="0.8"/><circle cx="128.6" cy="2521.3" r="1.4"/><circle cx="133.6" cy="2514.6" r="0.9"/><circle cx="116.3" cy="2506.7" r="1.0"/><circle cx="111.2" cy="2511.3" r="0.7"/><circle cx="125.6" cy="2531.0" r="0.8"/><circle cx="113.9" cy="2528.3" r="0.8"/><circle cx="114.8" cy="2518.7" r="1.1"/><circle cx="116.5" cy="2531.8" r="0.7"/><circle cx="119.7" cy="2514.0" r="1.4"/><circle cx="114.2" cy="2512.8" r="1.0"/><circle cx="113.6" cy="2509.7" r="1.2"/><circle cx="122.5" cy="2507.8" r="1.4"/><circle cx="129.6" cy="2506.2" r="1.0"/><circle cx="112.2" cy="2525.0" r="1.3"/><circle cx="111.8" cy="2517.8" r="1.0"/><circle cx="129.3" cy="2514.3" r="0.7"/><circle cx="120.2" cy="2503.6" r="1.2"/><circle cx="111.9" cy="2511.2" r="0.9"/><circle cx="119.1" cy="2517.3" r="0.8"/><circle cx="112.5" cy="2523.8" r="1.0"/><circle cx="134.1" cy="2524.4" r="1.1"/><circle cx="123.0" cy="2529.3" r="1.0"/><circle cx="122.7" cy="2524.3" r="1.3"/><circle cx="134.2" cy="2516.9" r="1.3"/></g>
<ellipse cx="118.0" cy="2434.4" rx="6.1" ry="5.5" fill="#1a1aff" filter="url(#bl1)" opacity="0.90"/>
<g fill="#22dd22"><circle cx="108.4" cy="2439.1" r="0.9"/><circle cx="117.8" cy="2426.1" r="1.3"/><circle cx="126.8" cy="2440.1" r="0.8"/><circle cx="106.5" cy="2431.9" r="0.7"/><circle cx="118.3" cy="2440.4" r="0.9"/><circle cx="128.6" cy="2438.4" r="1.3"/><circle cx="112.2" cy="2438.4" r="1.1"/><circle cx="120.0" cy="2435.0" r="1.3"/><circle cx="115.0" cy="2441.7" r="1.4"/><circle cx="126.2" cy="2433.3" r="0.8"/><circle cx="114.7" cy="2444.5" r="1.3"/><circle cx="121.7" cy="2443.9" r="0.9"/><circle cx="113.1" cy="2435.2" r="1.3"/><circle cx="123.4" cy="2434.3" r="1.1"/><circle cx="122.1" cy="2444.0" r="0.7"/><circle cx="126.1" cy="2440.2" r="0.9"/><circle cx="127.1" cy="2428.4" r="1.2"/><circle cx="124.7" cy="2441.3" r="1.4"/><circle cx="114.8" cy="2435.4" r="0.9"/><circle cx="114.4" cy="2443.1" r="0.8"/><circle cx="120.5" cy="2439.2" r="1.2"/><circle cx="119.9" cy="2427.9" r="1.2"/><circle cx="124.9" cy="2428.8" r="0.9"/><circle cx="114.3" cy="2444.5" r="1.2"/><circle cx="116.4" cy="2443.1" r="0.8"/><circle cx="126.0" cy="2433.6" r="1.1"/><circle cx="115.5" cy="2433.9" r="1.1"/><circle cx="116.7" cy="2439.8" r="1.3"/><circle cx="123.5" cy="2437.5" r="1.2"/><circle cx="118.2" cy="2440.2" r="1.1"/><circle cx="122.5" cy="2444.0" r="1.4"/><circle cx="126.0" cy="2436.0" r="1.2"/><circle cx="109.3" cy="2441.4" r="1.0"/><circle cx="121.8" cy="2441.8" r="1.2"/><circle cx="111.8" cy="2441.3" r="1.2"/><circle cx="109.4" cy="2433.6" r="1.3"/><circle cx="114.5" cy="2427.1" r="1.4"/><circle cx="122.9" cy="2443.0" r="0.8"/><circle cx="113.4" cy="2431.0" r="1.0"/><circle cx="119.5" cy="2424.7" r="1.3"/><circle cx="118.7" cy="2442.1" r="0.9"/><circle cx="110.5" cy="2430.7" r="0.7"/><circle cx="109.6" cy="2429.1" r="1.1"/><circle cx="121.6" cy="2431.1" r="0.8"/><circle cx="126.5" cy="2435.3" r="1.0"/><circle cx="112.2" cy="2436.4" r="1.3"/><circle cx="128.3" cy="2439.0" r="1.1"/><circle cx="107.6" cy="2431.8" r="0.9"/><circle cx="122.1" cy="2439.3" r="0.7"/><circle cx="114.2" cy="2442.4" r="1.1"/><circle cx="117.1" cy="2442.8" r="0.8"/><circle cx="120.2" cy="2430.3" r="0.9"/><circle cx="123.4" cy="2442.1" r="1.3"/><circle cx="118.7" cy="2431.8" r="1.0"/><circle cx="114.3" cy="2438.3" r="1.4"/><circle cx="126.2" cy="2436.4" r="1.2"/><circle cx="122.6" cy="2434.0" r="1.0"/><circle cx="117.9" cy="2432.2" r="0.9"/><circle cx="121.5" cy="2431.8" r="1.0"/><circle cx="115.7" cy="2441.2" r="0.8"/></g>
<ellipse cx="88.7" cy="2407.4" rx="11.0" ry="7.2" fill="#1a1aff" filter="url(#bl1)" opacity="0.90"/>
<g fill="#22dd22"><circle cx="110.2" cy="2410.4" r="1.2"/><circle cx="87.6" cy="2400.6" r="0.9"/><circle cx="78.5" cy="2405.1" r="1.0"/><circle cx="100.8" cy="2403.8" r="0.9"/><circle cx="105.8" cy="2406.1" r="0.7"/><circle cx="74.2" cy="2414.0" r="0.7"/><circle cx="78.6" cy="2417.3" r="1.3"/><circle cx="71.3" cy="2400.1" r="1.0"/><circle cx="72.9" cy="2415.6" r="1.0"/><circle cx="90.7" cy="2400.9" r="0.9"/><circle cx="95.3" cy="2417.1" r="0.8"/><circle cx="91.6" cy="2413.7" r="1.0"/><circle cx="83.4" cy="2416.3" r="1.4"/><circle cx="79.9" cy="2395.4" r="0.8"/><circle cx="84.3" cy="2410.0" r="1.2"/><circle cx="81.2" cy="2413.1" r="0.7"/><circle cx="93.4" cy="2414.1" r="1.0"/><circle cx="105.2" cy="2401.8" r="0.9"/><circle cx="83.2" cy="2411.7" r="1.4"/><circle cx="76.5" cy="2417.1" r="1.2"/><circle cx="91.3" cy="2406.3" r="0.9"/><circle cx="84.0" cy="2410.1" r="1.3"/><circle cx="79.9" cy="2418.6" r="1.1"/><circle cx="101.7" cy="2410.4" r="0.9"/><circle cx="97.0" cy="2408.8" r="1.1"/><circle cx="100.7" cy="2409.0" r="1.0"/><circle cx="80.9" cy="2406.0" r="1.2"/><circle cx="87.5" cy="2419.6" r="1.2"/><circle cx="94.7" cy="2412.6" r="0.9"/><circle cx="85.5" cy="2398.5" r="1.0"/><circle cx="95.7" cy="2402.3" r="0.9"/><circle cx="83.0" cy="2412.9" r="0.7"/><circle cx="106.0" cy="2409.1" r="1.1"/><circle cx="96.5" cy="2394.2" r="0.9"/><circle cx="78.6" cy="2395.4" r="0.9"/><circle cx="82.0" cy="2396.6" r="1.4"/><circle cx="95.9" cy="2402.3" r="1.1"/><circle cx="100.9" cy="2412.4" r="1.0"/><circle cx="101.4" cy="2410.7" r="0.9"/><circle cx="77.1" cy="2407.5" r="0.8"/><circle cx="76.3" cy="2413.1" r="0.8"/><circle cx="83.2" cy="2401.4" r="0.8"/><circle cx="80.9" cy="2415.2" r="0.8"/><circle cx="72.7" cy="2401.5" r="1.1"/><circle cx="87.7" cy="2405.3" r="1.0"/><circle cx="85.1" cy="2410.1" r="1.0"/><circle cx="103.3" cy="2410.8" r="1.1"/><circle cx="76.4" cy="2409.0" r="0.9"/><circle cx="101.5" cy="2408.6" r="1.3"/><circle cx="78.4" cy="2404.5" r="1.2"/><circle cx="94.6" cy="2416.4" r="1.1"/><circle cx="101.4" cy="2405.0" r="1.1"/><circle cx="106.8" cy="2403.0" r="1.1"/><circle cx="78.5" cy="2401.1" r="1.0"/><circle cx="85.4" cy="2420.2" r="1.3"/><circle cx="73.2" cy="2416.6" r="0.7"/><circle cx="99.0" cy="2415.1" r="0.9"/><circle cx="74.8" cy="2418.3" r="0.8"/><circle cx="92.4" cy="2413.8" r="1.2"/><circle cx="88.8" cy="2407.8" r="1.1"/><circle cx="80.2" cy="2411.7" r="1.0"/><circle cx="79.1" cy="2398.8" r="1.1"/><circle cx="70.1" cy="2402.5" r="1.4"/><circle cx="82.2" cy="2414.7" r="1.3"/><circle cx="81.5" cy="2418.6" r="1.2"/><circle cx="80.3" cy="2394.5" r="1.3"/><circle cx="98.0" cy="2416.9" r="1.0"/><circle cx="76.4" cy="2404.0" r="0.9"/><circle cx="88.6" cy="2397.0" r="0.9"/><circle cx="88.8" cy="2415.6" r="0.8"/></g>
<ellipse cx="282.0" cy="2376.0" rx="6.1" ry="6.1" fill="#1a1aff" filter="url(#bl1)" opacity="0.90"/>
<g fill="#22dd22"><circle cx="277.7" cy="2375.6" r="0.7"/><circle cx="285.5" cy="2377.6" r="1.2"/><circle cx="288.2" cy="2381.3" r="1.2"/><circle cx="277.2" cy="2376.6" r="1.3"/><circle cx="283.9" cy="2374.0" r="0.9"/><circle cx="271.2" cy="2375.5" r="1.0"/><circle cx="280.7" cy="2370.1" r="1.2"/><circle cx="278.8" cy="2382.2" r="1.2"/><circle cx="288.1" cy="2366.8" r="1.1"/><circle cx="273.1" cy="2380.9" r="1.1"/><circle cx="287.3" cy="2366.5" r="0.8"/><circle cx="274.9" cy="2382.9" r="0.9"/><circle cx="282.6" cy="2377.3" r="1.1"/><circle cx="293.1" cy="2371.7" r="0.8"/><circle cx="279.0" cy="2368.8" r="1.1"/><circle cx="272.7" cy="2383.1" r="1.4"/><circle cx="291.7" cy="2379.1" r="0.8"/><circle cx="288.2" cy="2377.7" r="1.2"/><circle cx="286.2" cy="2375.8" r="0.9"/><circle cx="290.8" cy="2377.5" r="1.0"/><circle cx="277.3" cy="2380.8" r="1.3"/><circle cx="285.4" cy="2370.5" r="1.0"/><circle cx="274.2" cy="2368.9" r="1.4"/><circle cx="274.3" cy="2382.5" r="1.1"/><circle cx="283.4" cy="2371.6" r="0.8"/><circle cx="291.1" cy="2383.3" r="0.9"/><circle cx="277.8" cy="2376.3" r="0.9"/><circle cx="291.0" cy="2377.1" r="0.8"/><circle cx="277.5" cy="2371.5" r="0.9"/><circle cx="274.7" cy="2376.8" r="0.9"/><circle cx="284.9" cy="2377.0" r="1.3"/><circle cx="280.8" cy="2379.2" r="0.8"/><circle cx="270.0" cy="2377.3" r="0.8"/><circle cx="287.7" cy="2369.8" r="1.0"/><circle cx="284.7" cy="2368.9" r="0.7"/><circle cx="272.7" cy="2372.9" r="1.1"/><circle cx="280.0" cy="2387.6" r="1.3"/><circle cx="290.1" cy="2375.7" r="1.3"/><circle cx="281.2" cy="2371.0" r="0.7"/><circle cx="284.0" cy="2379.6" r="0.8"/><circle cx="275.4" cy="2384.1" r="0.9"/><circle cx="280.8" cy="2375.9" r="0.8"/><circle cx="283.2" cy="2375.7" r="1.1"/><circle cx="286.0" cy="2366.0" r="1.2"/><circle cx="273.3" cy="2382.4" r="1.3"/></g>
<ellipse cx="246.0" cy="2466.0" rx="7.2" ry="14.3" fill="#1a1aff" filter="url(#bl1)" opacity="0.90"/>
<g fill="#22dd22"><circle cx="247.6" cy="2437.8" r="0.8"/><circle cx="254.6" cy="2460.4" r="1.2"/><circle cx="246.0" cy="2493.3" r="0.7"/><circle cx="240.0" cy="2459.7" r="1.0"/><circle cx="238.1" cy="2483.0" r="1.3"/><circle cx="238.5" cy="2483.2" r="0.9"/><circle cx="243.5" cy="2492.8" r="0.9"/><circle cx="252.9" cy="2475.2" r="1.2"/><circle cx="249.0" cy="2489.9" r="1.1"/><circle cx="243.4" cy="2455.1" r="0.8"/><circle cx="251.3" cy="2479.2" r="1.0"/><circle cx="256.1" cy="2467.2" r="1.0"/><circle cx="241.4" cy="2484.9" r="1.4"/><circle cx="249.8" cy="2491.8" r="0.9"/><circle cx="246.1" cy="2456.6" r="1.4"/><circle cx="233.3" cy="2477.9" r="0.9"/><circle cx="235.9" cy="2479.1" r="0.8"/><circle cx="244.3" cy="2489.3" r="1.4"/><circle cx="243.3" cy="2477.0" r="1.0"/><circle cx="251.5" cy="2465.3" r="1.1"/><circle cx="237.7" cy="2481.9" r="0.8"/><circle cx="236.0" cy="2448.0" r="1.3"/><circle cx="239.0" cy="2451.3" r="1.1"/><circle cx="255.9" cy="2483.2" r="1.2"/><circle cx="234.8" cy="2472.8" r="1.0"/><circle cx="240.9" cy="2475.1" r="1.1"/><circle cx="236.8" cy="2456.9" r="0.7"/><circle cx="239.3" cy="2452.3" r="1.1"/><circle cx="234.6" cy="2450.5" r="0.8"/><circle cx="232.0" cy="2471.6" r="1.2"/><circle cx="241.3" cy="2488.7" r="1.4"/><circle cx="235.1" cy="2481.4" r="0.8"/><circle cx="256.0" cy="2464.8" r="0.9"/><circle cx="252.2" cy="2446.6" r="1.4"/><circle cx="252.1" cy="2443.6" r="1.1"/><circle cx="249.6" cy="2465.7" r="1.3"/><circle cx="244.3" cy="2452.1" r="1.3"/><circle cx="236.0" cy="2472.0" r="1.3"/><circle cx="248.5" cy="2480.3" r="1.2"/><circle cx="255.5" cy="2475.5" r="1.3"/><circle cx="239.0" cy="2466.8" r="1.3"/><circle cx="253.7" cy="2446.2" r="1.1"/><circle cx="256.6" cy="2451.7" r="0.8"/><circle cx="243.0" cy="2472.8" r="0.7"/><circle cx="238.5" cy="2487.9" r="1.3"/><circle cx="250.5" cy="2474.2" r="1.0"/><circle cx="252.6" cy="2447.8" r="1.3"/><circle cx="258.8" cy="2478.4" r="0.8"/><circle cx="236.8" cy="2446.6" r="1.2"/><circle cx="249.8" cy="2488.1" r="1.0"/><circle cx="254.3" cy="2467.6" r="0.9"/><circle cx="240.8" cy="2455.0" r="1.1"/><circle cx="243.9" cy="2454.6" r="0.8"/><circle cx="242.6" cy="2447.7" r="0.8"/><circle cx="256.3" cy="2484.5" r="1.1"/><circle cx="242.0" cy="2475.9" r="1.4"/><circle cx="241.6" cy="2443.1" r="1.0"/><circle cx="242.6" cy="2483.0" r="0.8"/><circle cx="239.7" cy="2452.3" r="1.3"/><circle cx="237.9" cy="2476.5" r="1.1"/><circle cx="253.9" cy="2460.0" r="1.2"/><circle cx="247.0" cy="2487.7" r="0.9"/><circle cx="251.3" cy="2455.0" r="1.3"/><circle cx="241.7" cy="2448.7" r="1.4"/><circle cx="236.6" cy="2482.0" r="1.1"/><circle cx="242.6" cy="2468.3" r="1.0"/><circle cx="244.1" cy="2484.6" r="1.4"/><circle cx="242.8" cy="2489.0" r="1.2"/><circle cx="246.3" cy="2484.3" r="0.8"/><circle cx="251.7" cy="2457.2" r="1.0"/></g>
<ellipse cx="201.0" cy="2526.6" rx="5.5" ry="5.5" fill="#1a1aff" filter="url(#bl1)" opacity="0.90"/>
<g fill="#22dd22"><circle cx="195.6" cy="2535.0" r="1.3"/><circle cx="194.2" cy="2522.2" r="0.8"/><circle cx="203.6" cy="2524.6" r="1.0"/><circle cx="194.4" cy="2533.2" r="1.2"/><circle cx="195.2" cy="2535.3" r="1.4"/><circle cx="209.7" cy="2527.9" r="1.0"/><circle cx="196.2" cy="2532.3" r="0.9"/><circle cx="196.9" cy="2519.1" r="1.4"/><circle cx="211.8" cy="2525.0" r="1.0"/><circle cx="205.2" cy="2518.8" r="1.2"/><circle cx="203.8" cy="2526.6" r="1.0"/><circle cx="193.7" cy="2531.8" r="0.9"/><circle cx="206.0" cy="2526.3" r="1.0"/><circle cx="205.3" cy="2532.0" r="1.2"/><circle cx="204.9" cy="2528.9" r="1.2"/><circle cx="194.2" cy="2520.0" r="0.9"/><circle cx="204.5" cy="2517.9" r="1.2"/><circle cx="206.5" cy="2531.7" r="0.7"/><circle cx="207.8" cy="2518.3" r="1.3"/><circle cx="207.4" cy="2527.6" r="1.1"/><circle cx="197.4" cy="2525.8" r="1.3"/><circle cx="198.5" cy="2534.0" r="0.8"/><circle cx="197.4" cy="2525.0" r="0.8"/><circle cx="195.1" cy="2526.1" r="1.2"/><circle cx="201.1" cy="2533.7" r="0.7"/><circle cx="202.5" cy="2533.8" r="1.1"/><circle cx="191.2" cy="2529.2" r="0.8"/><circle cx="203.5" cy="2523.1" r="1.4"/><circle cx="194.1" cy="2525.5" r="1.1"/><circle cx="208.1" cy="2518.4" r="1.0"/><circle cx="205.3" cy="2526.9" r="1.3"/><circle cx="200.1" cy="2517.4" r="0.8"/><circle cx="199.2" cy="2526.2" r="0.8"/><circle cx="197.6" cy="2536.9" r="1.2"/><circle cx="202.4" cy="2524.7" r="1.0"/></g>
<ellipse cx="313.5" cy="2562.5" rx="5.5" ry="5.5" fill="#1a1aff" filter="url(#bl1)" opacity="0.90"/>
<g fill="#22dd22"><circle cx="318.5" cy="2565.2" r="0.8"/><circle cx="319.0" cy="2559.4" r="1.0"/><circle cx="307.6" cy="2554.0" r="1.4"/><circle cx="306.4" cy="2559.3" r="1.3"/><circle cx="308.8" cy="2566.2" r="1.2"/><circle cx="313.2" cy="2569.2" r="1.0"/><circle cx="307.0" cy="2563.5" r="1.0"/><circle cx="311.2" cy="2563.2" r="1.3"/><circle cx="320.9" cy="2565.5" r="1.1"/><circle cx="309.3" cy="2565.6" r="0.8"/><circle cx="309.2" cy="2566.9" r="1.0"/><circle cx="314.7" cy="2572.0" r="1.0"/><circle cx="320.5" cy="2562.9" r="1.4"/><circle cx="322.0" cy="2562.9" r="1.4"/><circle cx="307.8" cy="2568.9" r="1.0"/><circle cx="310.8" cy="2570.6" r="1.1"/><circle cx="310.4" cy="2569.6" r="1.1"/><circle cx="313.6" cy="2560.0" r="0.8"/><circle cx="313.4" cy="2568.2" r="1.3"/><circle cx="304.4" cy="2567.1" r="1.0"/><circle cx="311.5" cy="2571.3" r="0.8"/><circle cx="323.5" cy="2561.5" r="0.9"/><circle cx="309.4" cy="2571.6" r="1.3"/><circle cx="311.9" cy="2560.5" r="1.2"/><circle cx="321.8" cy="2565.1" r="1.1"/><circle cx="321.4" cy="2558.6" r="0.7"/><circle cx="322.2" cy="2558.7" r="1.1"/><circle cx="322.9" cy="2562.8" r="1.0"/><circle cx="308.8" cy="2552.6" r="1.3"/><circle cx="322.2" cy="2566.9" r="1.0"/><circle cx="313.6" cy="2555.7" r="1.0"/><circle cx="310.0" cy="2564.0" r="0.9"/><circle cx="313.2" cy="2559.6" r="0.8"/><circle cx="318.0" cy="2554.7" r="1.1"/><circle cx="316.4" cy="2565.0" r="0.9"/><circle cx="321.4" cy="2560.1" r="1.3"/><circle cx="315.2" cy="2569.4" r="1.1"/><circle cx="315.6" cy="2559.2" r="1.3"/><circle cx="311.6" cy="2562.8" r="1.0"/><circle cx="307.0" cy="2568.8" r="1.3"/></g>
<ellipse cx="372.0" cy="2565.0" rx="4.4" ry="5.5" fill="#1a1aff" filter="url(#bl1)" opacity="0.90"/>
<g fill="#22dd22"><circle cx="364.7" cy="2565.4" r="1.0"/><circle cx="372.5" cy="2561.5" r="1.2"/><circle cx="375.4" cy="2572.3" r="0.8"/><circle cx="370.0" cy="2568.7" r="0.9"/><circle cx="366.7" cy="2560.7" r="1.0"/><circle cx="364.8" cy="2560.5" r="1.0"/><circle cx="366.7" cy="2561.2" r="1.4"/><circle cx="368.5" cy="2573.1" r="0.9"/><circle cx="371.5" cy="2574.4" r="1.1"/><circle cx="371.9" cy="2567.8" r="1.3"/><circle cx="366.6" cy="2571.5" r="1.0"/><circle cx="367.1" cy="2559.5" r="1.4"/><circle cx="377.0" cy="2561.0" r="1.0"/><circle cx="372.9" cy="2574.5" r="0.8"/><circle cx="369.2" cy="2574.5" r="0.7"/><circle cx="369.9" cy="2557.1" r="1.1"/><circle cx="370.3" cy="2568.7" r="1.4"/><circle cx="372.7" cy="2555.2" r="0.8"/><circle cx="372.9" cy="2560.0" r="0.8"/><circle cx="365.3" cy="2563.1" r="0.8"/><circle cx="372.6" cy="2556.6" r="1.3"/><circle cx="378.5" cy="2560.8" r="1.0"/><circle cx="379.1" cy="2562.2" r="0.9"/><circle cx="376.7" cy="2557.7" r="0.9"/><circle cx="372.0" cy="2566.6" r="1.1"/><circle cx="371.9" cy="2571.0" r="0.9"/><circle cx="376.2" cy="2570.6" r="0.9"/><circle cx="371.0" cy="2570.7" r="1.1"/><circle cx="374.5" cy="2561.9" r="1.3"/><circle cx="376.2" cy="2558.2" r="1.1"/></g>
<ellipse cx="140.0" cy="2570.0" rx="9.9" ry="5.5" fill="#1a1aff" filter="url(#bl1)" opacity="0.90"/>
<g fill="#22dd22"><circle cx="138.5" cy="2562.0" r="1.2"/><circle cx="155.2" cy="2565.3" r="0.9"/><circle cx="158.1" cy="2573.6" r="1.0"/><circle cx="142.2" cy="2564.8" r="1.0"/><circle cx="128.4" cy="2576.8" r="1.4"/><circle cx="125.1" cy="2569.7" r="0.9"/><circle cx="142.2" cy="2580.7" r="0.8"/><circle cx="154.9" cy="2566.7" r="0.8"/><circle cx="145.2" cy="2568.0" r="1.1"/><circle cx="154.4" cy="2577.5" r="0.9"/><circle cx="143.4" cy="2568.0" r="1.2"/><circle cx="143.1" cy="2570.8" r="1.1"/><circle cx="156.3" cy="2569.0" r="1.3"/><circle cx="143.1" cy="2562.2" r="0.8"/><circle cx="131.6" cy="2569.2" r="1.1"/><circle cx="131.5" cy="2576.2" r="0.8"/><circle cx="136.4" cy="2563.2" r="1.0"/><circle cx="152.2" cy="2573.6" r="1.1"/><circle cx="154.6" cy="2568.6" r="0.8"/><circle cx="136.4" cy="2576.1" r="1.2"/><circle cx="158.1" cy="2565.9" r="1.4"/><circle cx="156.4" cy="2565.4" r="1.4"/><circle cx="153.7" cy="2571.0" r="1.1"/><circle cx="133.9" cy="2562.1" r="1.1"/><circle cx="145.3" cy="2568.7" r="1.1"/><circle cx="143.4" cy="2569.5" r="0.8"/><circle cx="153.2" cy="2562.1" r="0.7"/><circle cx="157.7" cy="2572.0" r="1.2"/><circle cx="125.0" cy="2569.0" r="1.2"/><circle cx="140.2" cy="2569.7" r="0.7"/><circle cx="145.4" cy="2559.6" r="1.3"/><circle cx="130.4" cy="2573.5" r="0.9"/><circle cx="157.3" cy="2570.9" r="0.9"/><circle cx="127.7" cy="2565.9" r="0.9"/><circle cx="133.9" cy="2563.4" r="0.9"/><circle cx="146.1" cy="2566.9" r="0.8"/><circle cx="139.7" cy="2577.6" r="1.2"/><circle cx="135.2" cy="2574.7" r="1.2"/><circle cx="139.1" cy="2577.9" r="0.9"/><circle cx="146.1" cy="2566.7" r="0.9"/></g>
<ellipse cx="381.0" cy="2385.0" rx="5.0" ry="9.9" fill="#1a1aff" filter="url(#bl1)" opacity="0.90"/>
<g fill="#22dd22"><circle cx="379.2" cy="2395.8" r="1.2"/><circle cx="377.0" cy="2369.4" r="1.1"/><circle cx="388.6" cy="2393.2" r="0.9"/><circle cx="382.3" cy="2397.5" r="1.4"/><circle cx="376.9" cy="2393.6" r="1.3"/><circle cx="387.1" cy="2384.3" r="0.8"/><circle cx="383.2" cy="2368.0" r="0.9"/><circle cx="382.5" cy="2373.2" r="0.9"/><circle cx="373.9" cy="2375.6" r="1.0"/><circle cx="381.5" cy="2382.9" r="1.0"/><circle cx="379.2" cy="2388.4" r="1.3"/><circle cx="383.8" cy="2392.0" r="1.3"/><circle cx="390.3" cy="2380.3" r="0.9"/><circle cx="384.4" cy="2381.9" r="1.2"/><circle cx="385.1" cy="2382.1" r="0.8"/><circle cx="376.9" cy="2368.3" r="1.2"/><circle cx="387.3" cy="2380.8" r="1.0"/><circle cx="384.8" cy="2392.1" r="1.4"/><circle cx="384.8" cy="2388.7" r="0.9"/><circle cx="386.2" cy="2388.3" r="0.8"/><circle cx="386.2" cy="2395.0" r="1.1"/><circle cx="373.1" cy="2377.9" r="1.1"/><circle cx="383.7" cy="2383.2" r="0.9"/><circle cx="385.9" cy="2390.1" r="1.2"/><circle cx="387.2" cy="2378.6" r="0.8"/><circle cx="377.4" cy="2398.1" r="0.9"/><circle cx="383.6" cy="2366.2" r="1.0"/><circle cx="373.7" cy="2374.0" r="1.0"/><circle cx="384.5" cy="2402.9" r="1.4"/><circle cx="389.5" cy="2387.6" r="1.0"/><circle cx="384.8" cy="2387.6" r="0.8"/><circle cx="380.6" cy="2375.9" r="0.7"/><circle cx="382.7" cy="2402.4" r="1.0"/><circle cx="377.1" cy="2373.9" r="0.8"/><circle cx="386.4" cy="2386.0" r="0.7"/><circle cx="380.5" cy="2400.5" r="1.0"/><circle cx="373.3" cy="2387.6" r="0.9"/><circle cx="375.2" cy="2399.6" r="1.1"/><circle cx="374.7" cy="2392.3" r="1.0"/><circle cx="376.3" cy="2401.4" r="0.9"/></g>
<ellipse cx="165.1" cy="2433.3" rx="23.6" ry="14.6" fill="url(#cellg)" filter="url(#bl1)"/>
<g fill="#56ff46"><circle cx="184.1" cy="2426.4" r="0.9"/><circle cx="171.8" cy="2428.1" r="0.9"/><circle cx="142.9" cy="2432.2" r="0.9"/><circle cx="162.9" cy="2440.9" r="0.9"/><circle cx="163.3" cy="2424.2" r="0.9"/><circle cx="157.4" cy="2429.5" r="0.9"/><circle cx="176.4" cy="2430.0" r="0.9"/><circle cx="180.3" cy="2442.3" r="0.9"/><circle cx="155.5" cy="2445.0" r="0.9"/><circle cx="143.6" cy="2433.6" r="0.9"/><circle cx="151.4" cy="2432.3" r="0.9"/><circle cx="180.9" cy="2433.4" r="0.9"/><circle cx="163.1" cy="2447.6" r="0.9"/><circle cx="154.8" cy="2423.8" r="0.9"/><circle cx="178.5" cy="2440.5" r="0.9"/><circle cx="147.3" cy="2435.0" r="0.9"/><circle cx="176.8" cy="2431.4" r="0.9"/><circle cx="159.0" cy="2435.3" r="0.9"/><circle cx="168.5" cy="2424.5" r="0.9"/><circle cx="174.6" cy="2418.3" r="0.9"/><circle cx="164.5" cy="2451.4" r="0.9"/><circle cx="150.5" cy="2433.0" r="0.9"/><circle cx="144.6" cy="2427.0" r="0.9"/><circle cx="149.6" cy="2434.1" r="0.9"/><circle cx="159.9" cy="2450.2" r="0.9"/><circle cx="152.0" cy="2433.1" r="0.9"/><circle cx="168.5" cy="2441.6" r="0.9"/><circle cx="175.2" cy="2418.6" r="0.9"/><circle cx="186.4" cy="2430.9" r="0.9"/><circle cx="157.2" cy="2417.7" r="0.9"/><circle cx="160.3" cy="2416.6" r="0.9"/><circle cx="168.1" cy="2425.7" r="0.9"/><circle cx="170.0" cy="2423.7" r="0.9"/><circle cx="165.9" cy="2451.6" r="0.9"/><circle cx="181.0" cy="2435.3" r="0.9"/><circle cx="154.1" cy="2447.4" r="0.9"/><circle cx="148.7" cy="2421.7" r="0.9"/><circle cx="181.5" cy="2427.0" r="0.9"/><circle cx="181.9" cy="2439.4" r="0.9"/><circle cx="182.3" cy="2445.3" r="0.9"/><circle cx="173.7" cy="2425.6" r="0.9"/><circle cx="172.4" cy="2447.9" r="0.9"/><circle cx="166.2" cy="2414.4" r="0.9"/><circle cx="159.4" cy="2428.6" r="0.9"/><circle cx="164.3" cy="2428.7" r="0.9"/></g>
<ellipse cx="355.1" cy="2507.5" rx="19.0" ry="15.5" fill="url(#cellg)" filter="url(#bl1)"/>
<g fill="#56ff46"><circle cx="365.8" cy="2497.6" r="0.9"/><circle cx="358.8" cy="2493.5" r="0.9"/><circle cx="339.2" cy="2501.2" r="0.9"/><circle cx="347.0" cy="2499.2" r="0.9"/><circle cx="347.1" cy="2513.6" r="0.9"/><circle cx="362.3" cy="2508.4" r="0.9"/><circle cx="357.5" cy="2500.5" r="0.9"/><circle cx="346.1" cy="2496.4" r="0.9"/><circle cx="350.7" cy="2497.1" r="0.9"/><circle cx="351.3" cy="2514.8" r="0.9"/><circle cx="360.7" cy="2518.9" r="0.9"/><circle cx="348.3" cy="2493.8" r="0.9"/><circle cx="346.7" cy="2520.4" r="0.9"/><circle cx="363.4" cy="2503.1" r="0.9"/><circle cx="368.7" cy="2503.9" r="0.9"/><circle cx="370.5" cy="2504.4" r="0.9"/><circle cx="350.3" cy="2514.5" r="0.9"/><circle cx="342.6" cy="2506.0" r="0.9"/><circle cx="371.5" cy="2510.6" r="0.9"/><circle cx="343.0" cy="2505.2" r="0.9"/><circle cx="354.8" cy="2499.8" r="0.9"/><circle cx="359.4" cy="2518.6" r="0.9"/><circle cx="355.7" cy="2516.3" r="0.9"/><circle cx="358.8" cy="2509.0" r="0.9"/><circle cx="347.0" cy="2516.3" r="0.9"/><circle cx="368.8" cy="2503.6" r="0.9"/><circle cx="345.2" cy="2512.5" r="0.9"/><circle cx="356.2" cy="2518.0" r="0.9"/><circle cx="361.2" cy="2506.1" r="0.9"/><circle cx="341.5" cy="2512.7" r="0.9"/><circle cx="356.1" cy="2496.1" r="0.9"/><circle cx="344.1" cy="2496.0" r="0.9"/><circle cx="362.5" cy="2503.1" r="0.9"/><circle cx="337.7" cy="2503.6" r="0.9"/><circle cx="347.4" cy="2506.3" r="0.9"/><circle cx="355.5" cy="2503.9" r="0.9"/><circle cx="363.0" cy="2516.7" r="0.9"/><circle cx="352.9" cy="2520.4" r="0.9"/><circle cx="353.6" cy="2498.9" r="0.9"/><circle cx="356.6" cy="2495.2" r="0.9"/><circle cx="351.8" cy="2497.5" r="0.9"/><circle cx="349.7" cy="2509.6" r="0.9"/><circle cx="337.7" cy="2509.9" r="0.9"/><circle cx="358.4" cy="2505.2" r="0.9"/><circle cx="363.6" cy="2510.9" r="0.9"/></g>
<ellipse cx="243.8" cy="2563.6" rx="17.0" ry="19.0" fill="url(#cellg)" filter="url(#bl1)"/>
<g fill="#56ff46"><circle cx="240.1" cy="2555.1" r="0.9"/><circle cx="251.1" cy="2570.0" r="0.9"/><circle cx="231.3" cy="2558.3" r="0.9"/><circle cx="233.1" cy="2569.9" r="0.9"/><circle cx="238.5" cy="2553.8" r="0.9"/><circle cx="256.8" cy="2566.9" r="0.9"/><circle cx="246.4" cy="2565.9" r="0.9"/><circle cx="241.7" cy="2563.9" r="0.9"/><circle cx="252.9" cy="2567.4" r="0.9"/><circle cx="238.7" cy="2564.5" r="0.9"/><circle cx="258.1" cy="2560.0" r="0.9"/><circle cx="231.5" cy="2564.5" r="0.9"/><circle cx="237.4" cy="2576.1" r="0.9"/><circle cx="250.3" cy="2568.8" r="0.9"/><circle cx="246.5" cy="2576.2" r="0.9"/><circle cx="233.5" cy="2563.1" r="0.9"/><circle cx="231.6" cy="2571.3" r="0.9"/><circle cx="243.1" cy="2575.8" r="0.9"/><circle cx="241.0" cy="2554.7" r="0.9"/><circle cx="236.7" cy="2570.4" r="0.9"/><circle cx="235.1" cy="2565.8" r="0.9"/><circle cx="236.4" cy="2557.4" r="0.9"/><circle cx="239.1" cy="2575.0" r="0.9"/><circle cx="233.1" cy="2566.2" r="0.9"/><circle cx="251.7" cy="2557.2" r="0.9"/><circle cx="232.9" cy="2572.7" r="0.9"/><circle cx="258.0" cy="2561.8" r="0.9"/><circle cx="233.0" cy="2570.1" r="0.9"/><circle cx="243.3" cy="2556.1" r="0.9"/><circle cx="241.2" cy="2550.4" r="0.9"/><circle cx="236.4" cy="2554.3" r="0.9"/><circle cx="231.8" cy="2568.0" r="0.9"/><circle cx="245.9" cy="2575.5" r="0.9"/><circle cx="228.3" cy="2560.3" r="0.9"/><circle cx="236.4" cy="2573.3" r="0.9"/><circle cx="254.2" cy="2564.5" r="0.9"/><circle cx="244.6" cy="2556.6" r="0.9"/><circle cx="238.1" cy="2559.4" r="0.9"/><circle cx="230.9" cy="2571.8" r="0.9"/><circle cx="248.9" cy="2576.0" r="0.9"/><circle cx="255.3" cy="2567.4" r="0.9"/><circle cx="250.2" cy="2552.3" r="0.9"/><circle cx="234.2" cy="2570.3" r="0.9"/><circle cx="240.5" cy="2552.0" r="0.9"/><circle cx="243.5" cy="2553.2" r="0.9"/></g>
<ellipse cx="151.6" cy="2432.2" rx="3.5" ry="4.0" fill="#ffee00" filter="url(#bl1)" opacity="1.00"/>
<ellipse cx="153.0" cy="2432.0" rx="1.8" ry="2.0" fill="#ff2200" filter="url(#bl1)" opacity="1.00"/>
<ellipse cx="345.0" cy="2515.0" rx="5.0" ry="3.0" fill="#d8ff20" filter="url(#bl1)" opacity="0.80"/>
<ellipse cx="258.4" cy="2561.4" rx="3.0" ry="3.0" fill="#ff1a1a" filter="url(#bl1)" opacity="1.00"/>
<path d="M187,2521 C195,2516 205,2518 210,2522 C213,2528 214,2535 210,2538 C205,2533 199,2528 190,2526 Z" fill="#ff1414" filter="url(#bl1)"/>
<ellipse cx="156.1" cy="2351.2" rx="17.0" ry="2.5" fill="#ff1414" filter="url(#bl1)" opacity="1.00"/>
<ellipse cx="266.3" cy="2399.6" rx="4.0" ry="1.5" fill="#ff1414" filter="url(#bl1)" opacity="1.00"/>
<ellipse cx="385.4" cy="2418.7" rx="2.0" ry="8.0" fill="#ff1414" filter="url(#bl1)" opacity="1.00"/>
<ellipse cx="340.5" cy="2530.0" rx="2.2" ry="2.2" fill="#ff1414" filter="url(#bl1)" opacity="1.00"/>
<ellipse cx="280.0" cy="2414.0" rx="1.8" ry="1.8" fill="#ff1414" filter="url(#bl1)" opacity="1.00"/>
<ellipse cx="388.0" cy="2582.0" rx="2.0" ry="2.0" fill="#ff1414" filter="url(#bl1)" opacity="1.00"/>
</g>
<line x1="205.6" y1="2396.2" x2="187.3" y2="2409.5" stroke="#fff" stroke-width="2.6"/>
<polygon points="176.4,2417.5 183.5,2404.3 184.9,2411.3 191.1,2414.8" fill="#fff"/>
<line x1="310.1" y1="2477.1" x2="328.0" y2="2488.8" stroke="#fff" stroke-width="2.6"/>
<polygon points="339.3,2496.2 324.4,2494.2 330.5,2490.5 331.6,2483.4" fill="#fff"/>
<line x1="291.0" y1="2530.6" x2="272.8" y2="2543.5" stroke="#fff" stroke-width="2.6"/>
<polygon points="261.8,2551.3 269.1,2538.2 270.4,2545.2 276.6,2548.8" fill="#fff"/>
<line x1="349.4" y1="2580.5" x2="383.2" y2="2580.5" stroke="#fff" stroke-width="2.70" />
<rect x="404.5" y="2347.7" width="331.7" height="240.2" fill="#000" stroke="none" stroke-width="1.00" />
<g clip-path="url(#cp2)">
<ellipse cx="490.5" cy="2517.2" rx="11.2" ry="3.6" fill="#1212b0" filter="url(#bl4)" opacity="0.45"/>
<ellipse cx="725.9" cy="2386.4" rx="13.6" ry="3.0" fill="#1212b0" filter="url(#bl4)" opacity="0.45"/>
<ellipse cx="642.5" cy="2573.6" rx="8.0" ry="3.7" fill="#1212b0" filter="url(#bl4)" opacity="0.45"/>
<ellipse cx="579.1" cy="2468.9" rx="6.8" ry="3.9" fill="#1212b0" filter="url(#bl4)" opacity="0.45"/>
<ellipse cx="695.9" cy="2507.6" rx="8.2" ry="4.4" fill="#1212b0" filter="url(#bl4)" opacity="0.45"/>
<ellipse cx="544.4" cy="2388.4" rx="11.7" ry="3.4" fill="#1212b0" filter="url(#bl4)" opacity="0.45"/>
<ellipse cx="579.5" cy="2583.0" rx="11.3" ry="4.9" fill="#1212b0" filter="url(#bl4)" opacity="0.45"/>
<ellipse cx="522.8" cy="2529.6" rx="5.8" ry="2.9" fill="#1212b0" filter="url(#bl4)" opacity="0.45"/>
<ellipse cx="631.4" cy="2513.7" rx="14.1" ry="3.1" fill="#1212b0" filter="url(#bl4)" opacity="0.45"/>
<ellipse cx="497.6" cy="2437.4" rx="10.9" ry="2.1" fill="#1212b0" filter="url(#bl4)" opacity="0.45"/>
<ellipse cx="529.9" cy="2506.2" rx="6.6" ry="2.9" fill="#1212b0" filter="url(#bl4)" opacity="0.45"/>
<ellipse cx="689.2" cy="2569.7" rx="7.7" ry="2.5" fill="#1212b0" filter="url(#bl4)" opacity="0.45"/>
<ellipse cx="447.7" cy="2374.7" rx="13.7" ry="4.2" fill="#1212b0" filter="url(#bl4)" opacity="0.45"/>
<ellipse cx="494.6" cy="2467.5" rx="12.6" ry="2.1" fill="#1212b0" filter="url(#bl4)" opacity="0.45"/>
<ellipse cx="672.0" cy="2552.7" rx="7.3" ry="4.1" fill="#1212b0" filter="url(#bl4)" opacity="0.45"/>
<ellipse cx="633.8" cy="2432.5" rx="14.7" ry="2.7" fill="#1212b0" filter="url(#bl4)" opacity="0.45"/>
<ellipse cx="561.7" cy="2427.2" rx="9.9" ry="4.4" fill="#1212b0" filter="url(#bl4)" opacity="0.45"/>
<ellipse cx="592.4" cy="2495.1" rx="15.9" ry="2.7" fill="#1212b0" filter="url(#bl4)" opacity="0.45"/>
<ellipse cx="481.3" cy="2497.5" rx="6.7" ry="4.9" fill="#1212b0" filter="url(#bl4)" opacity="0.45"/>
<ellipse cx="519.2" cy="2456.2" rx="9.7" ry="4.5" fill="#1212b0" filter="url(#bl4)" opacity="0.45"/>
<ellipse cx="702.9" cy="2510.7" rx="6.9" ry="3.1" fill="#1212b0" filter="url(#bl4)" opacity="0.45"/>
<ellipse cx="636.0" cy="2404.7" rx="14.7" ry="4.6" fill="#1212b0" filter="url(#bl4)" opacity="0.45"/>
<ellipse cx="482.5" cy="2438.8" rx="7.5" ry="4.2" fill="#1212b0" filter="url(#bl4)" opacity="0.45"/>
<ellipse cx="425.1" cy="2515.0" rx="5.7" ry="4.5" fill="#1212b0" filter="url(#bl4)" opacity="0.45"/>
<ellipse cx="583.8" cy="2489.1" rx="6.0" ry="2.1" fill="#1212b0" filter="url(#bl4)" opacity="0.45"/>
<ellipse cx="523.0" cy="2581.5" rx="11.6" ry="4.6" fill="#1212b0" filter="url(#bl4)" opacity="0.45"/>
<ellipse cx="430.0" cy="2378.4" rx="5.2" ry="4.1" fill="#1212b0" filter="url(#bl4)" opacity="0.45"/>
<ellipse cx="466.4" cy="2417.7" rx="12.3" ry="4.1" fill="#1212b0" filter="url(#bl4)" opacity="0.45"/>
<ellipse cx="513.2" cy="2462.5" rx="8.2" ry="3.7" fill="#1212b0" filter="url(#bl4)" opacity="0.45"/>
<ellipse cx="523.9" cy="2437.8" rx="7.7" ry="2.9" fill="#1212b0" filter="url(#bl4)" opacity="0.45"/>
<ellipse cx="438.2" cy="2531.0" rx="10.0" ry="9.0" fill="#1a1aff" filter="url(#bl1)" opacity="1.00"/>
<ellipse cx="549.5" cy="2571.5" rx="10.0" ry="11.0" fill="#1a1aff" filter="url(#bl1)" opacity="1.00"/>
<ellipse cx="555.1" cy="2505.2" rx="8.0" ry="5.0" fill="#1a1aff" filter="url(#bl1)" opacity="1.00"/>
<ellipse cx="459.6" cy="2401.8" rx="8.0" ry="6.0" fill="#1a1aff" filter="url(#bl1)" opacity="1.00"/>
<ellipse cx="532.6" cy="2377.1" rx="5.6" ry="5.6" fill="#1a1aff" filter="url(#bl1)" opacity="1.00"/>
<ellipse cx="416.9" cy="2362.5" rx="4.5" ry="4.5" fill="#1a1aff" filter="url(#bl1)" opacity="1.00"/>
<ellipse cx="663.0" cy="2350.0" rx="8.0" ry="4.0" fill="#1a1aff" filter="url(#bl1)" opacity="1.00"/>
<ellipse cx="604.5" cy="2403.0" rx="3.4" ry="3.4" fill="#1a1aff" filter="url(#bl1)" opacity="1.00"/>
<ellipse cx="651.7" cy="2583.9" rx="7.0" ry="4.0" fill="#1a1aff" filter="url(#bl1)" opacity="1.00"/>
<ellipse cx="534.9" cy="2583.9" rx="5.0" ry="3.0" fill="#1a1aff" filter="url(#bl1)" opacity="1.00"/>
<ellipse cx="560.0" cy="2357.0" rx="4.0" ry="4.0" fill="#1a1aff" filter="url(#bl1)" opacity="1.00"/>
<ellipse cx="465.0" cy="2380.0" rx="3.0" ry="3.0" fill="#1a1aff" filter="url(#bl1)" opacity="1.00"/>
<path d="M668,2418 C685,2414 700,2409 716,2405" stroke="#1a2aff" stroke-width="6" fill="none" filter="url(#bl1)"/>
<path d="M494,2446 C510,2438 528,2430 544,2421" stroke="#2a7aff" stroke-width="5" fill="none" filter="url(#bl1)"/>
<path d="M605,2420 C620,2425 635,2428 648,2430" stroke="#1515a0" stroke-width="6" fill="none" filter="url(#bl2)"/>
<path d="M692,2520 C705,2530 718,2542 735,2556" stroke="#1515a0" stroke-width="6" fill="none" filter="url(#bl2)"/>
<ellipse cx="730.4" cy="2412.0" rx="5.0" ry="4.0" fill="#20a0ff" filter="url(#bl1)" opacity="1.00"/>
<path d="M474,2456 C482,2452 492,2449 502,2451 M484,2451 C486,2455 490,2458 498,2458" stroke="#ff1a1a" stroke-width="3.5" fill="none" filter="url(#bl1)"/>
<path d="M518,2518 C519,2510 522,2505 527,2506 C531,2510 534,2515 537,2521" stroke="#ff1a1a" stroke-width="3.5" fill="none" filter="url(#bl1)"/>
<ellipse cx="521.4" cy="2483.9" rx="2.0" ry="3.0" fill="#ff1a1a" filter="url(#bl1)" opacity="1.00"/>
<ellipse cx="539.4" cy="2450.0" rx="3.0" ry="2.0" fill="#ff1a1a" filter="url(#bl1)" opacity="1.00"/>
<ellipse cx="420.2" cy="2391.7" rx="2.5" ry="2.5" fill="#ff1a1a" filter="url(#bl1)" opacity="1.00"/>
<ellipse cx="536.0" cy="2449.0" rx="3.0" ry="1.5" fill="#ff1a1a" filter="url(#bl1)" opacity="1.00"/>
<g fill="#1dbb1d"><circle cx="568.6" cy="2487.3" r="0.8"/><circle cx="524.4" cy="2567.2" r="0.8"/><circle cx="563.7" cy="2515.4" r="0.8"/><circle cx="632.2" cy="2393.3" r="0.8"/><circle cx="480.9" cy="2464.4" r="0.8"/><circle cx="675.4" cy="2393.1" r="0.8"/><circle cx="476.8" cy="2393.1" r="0.8"/><circle cx="529.9" cy="2380.0" r="0.8"/><circle cx="484.6" cy="2514.1" r="0.8"/><circle cx="460.5" cy="2467.6" r="0.8"/><circle cx="455.1" cy="2452.1" r="0.8"/><circle cx="606.3" cy="2345.3" r="0.8"/><circle cx="573.9" cy="2490.0" r="0.8"/><circle cx="561.0" cy="2493.0" r="0.8"/><circle cx="606.2" cy="2367.4" r="0.8"/><circle cx="554.5" cy="2528.0" r="0.8"/><circle cx="669.2" cy="2378.6" r="0.8"/><circle cx="516.1" cy="2366.6" r="0.8"/><circle cx="566.3" cy="2378.4" r="0.8"/><circle cx="474.9" cy="2530.8" r="0.8"/><circle cx="686.4" cy="2377.6" r="0.8"/><circle cx="696.8" cy="2408.1" r="0.8"/><circle cx="641.0" cy="2500.4" r="0.8"/><circle cx="686.0" cy="2451.8" r="0.8"/><circle cx="481.3" cy="2463.0" r="0.8"/><circle cx="644.4" cy="2395.4" r="0.8"/><circle cx="613.9" cy="2467.7" r="0.8"/><circle cx="588.5" cy="2469.3" r="0.8"/><circle cx="629.6" cy="2538.1" r="0.8"/><circle cx="536.0" cy="2435.2" r="0.8"/><circle cx="426.7" cy="2419.6" r="0.8"/><circle cx="441.6" cy="2516.8" r="0.8"/><circle cx="467.7" cy="2413.3" r="0.8"/><circle cx="620.6" cy="2552.1" r="0.8"/><circle cx="676.5" cy="2404.6" r="0.8"/><circle cx="592.2" cy="2559.0" r="0.8"/><circle cx="480.6" cy="2448.7" r="0.8"/><circle cx="457.7" cy="2419.3" r="0.8"/><circle cx="644.6" cy="2477.1" r="0.8"/><circle cx="529.0" cy="2417.6" r="0.8"/><circle cx="695.3" cy="2522.4" r="0.8"/><circle cx="491.2" cy="2585.0" r="0.8"/><circle cx="522.5" cy="2454.4" r="0.8"/><circle cx="516.5" cy="2417.2" r="0.8"/><circle cx="623.6" cy="2363.6" r="0.8"/><circle cx="572.0" cy="2437.5" r="0.8"/><circle cx="709.6" cy="2495.9" r="0.8"/><circle cx="615.6" cy="2517.2" r="0.8"/><circle cx="633.6" cy="2480.3" r="0.8"/><circle cx="415.5" cy="2492.0" r="0.8"/><circle cx="534.7" cy="2532.4" r="0.8"/><circle cx="602.3" cy="2418.5" r="0.8"/><circle cx="487.1" cy="2389.9" r="0.8"/><circle cx="600.7" cy="2458.8" r="0.8"/><circle cx="478.7" cy="2437.5" r="0.8"/><circle cx="605.9" cy="2408.9" r="0.8"/><circle cx="555.0" cy="2412.9" r="0.8"/><circle cx="412.6" cy="2474.1" r="0.8"/><circle cx="575.3" cy="2541.7" r="0.8"/><circle cx="684.1" cy="2414.7" r="0.8"/><circle cx="633.3" cy="2493.6" r="0.8"/><circle cx="576.9" cy="2543.0" r="0.8"/><circle cx="645.0" cy="2375.7" r="0.8"/><circle cx="699.9" cy="2455.9" r="0.8"/><circle cx="501.2" cy="2409.4" r="0.8"/><circle cx="547.1" cy="2376.5" r="0.8"/><circle cx="674.6" cy="2504.5" r="0.8"/><circle cx="483.0" cy="2536.0" r="0.8"/><circle cx="595.5" cy="2476.9" r="0.8"/><circle cx="666.9" cy="2461.1" r="0.8"/></g>
<g fill="#bb2222"><circle cx="540.3" cy="2515.9" r="0.9"/><circle cx="442.1" cy="2398.6" r="0.9"/><circle cx="617.9" cy="2557.1" r="0.9"/><circle cx="430.0" cy="2470.2" r="0.9"/><circle cx="498.2" cy="2443.6" r="0.9"/><circle cx="620.4" cy="2577.5" r="0.9"/><circle cx="701.2" cy="2529.6" r="0.9"/><circle cx="638.1" cy="2482.4" r="0.9"/><circle cx="426.0" cy="2495.1" r="0.9"/><circle cx="469.1" cy="2389.8" r="0.9"/><circle cx="579.4" cy="2354.7" r="0.9"/><circle cx="707.8" cy="2509.4" r="0.9"/><circle cx="608.6" cy="2513.9" r="0.9"/><circle cx="596.2" cy="2475.4" r="0.9"/><circle cx="640.7" cy="2411.4" r="0.9"/><circle cx="599.6" cy="2485.2" r="0.9"/><circle cx="640.6" cy="2383.3" r="0.9"/><circle cx="596.8" cy="2456.8" r="0.9"/><circle cx="635.1" cy="2517.3" r="0.9"/><circle cx="589.4" cy="2512.5" r="0.9"/><circle cx="609.1" cy="2573.6" r="0.9"/><circle cx="602.3" cy="2518.6" r="0.9"/><circle cx="474.4" cy="2451.6" r="0.9"/><circle cx="641.1" cy="2552.8" r="0.9"/><circle cx="470.5" cy="2465.8" r="0.9"/><circle cx="538.5" cy="2474.4" r="0.9"/><circle cx="517.2" cy="2430.4" r="0.9"/><circle cx="562.1" cy="2481.3" r="0.9"/><circle cx="663.4" cy="2402.4" r="0.9"/><circle cx="478.2" cy="2532.8" r="0.9"/><circle cx="624.0" cy="2451.8" r="0.9"/><circle cx="469.9" cy="2546.5" r="0.9"/><circle cx="476.6" cy="2552.3" r="0.9"/><circle cx="597.1" cy="2455.0" r="0.9"/><circle cx="551.4" cy="2541.9" r="0.9"/><circle cx="570.2" cy="2349.6" r="0.9"/><circle cx="522.0" cy="2345.8" r="0.9"/><circle cx="609.4" cy="2548.4" r="0.9"/><circle cx="654.3" cy="2375.0" r="0.9"/><circle cx="690.3" cy="2557.5" r="0.9"/><circle cx="561.1" cy="2343.7" r="0.9"/><circle cx="489.4" cy="2550.6" r="0.9"/><circle cx="716.5" cy="2437.0" r="0.9"/><circle cx="436.4" cy="2410.3" r="0.9"/><circle cx="716.6" cy="2469.2" r="0.9"/><circle cx="482.6" cy="2359.4" r="0.9"/><circle cx="632.9" cy="2537.9" r="0.9"/><circle cx="516.6" cy="2450.7" r="0.9"/><circle cx="577.7" cy="2436.7" r="0.9"/><circle cx="511.6" cy="2418.0" r="0.9"/></g>
</g>
<line x1="690.6" y1="2580.4" x2="725.3" y2="2580.4" stroke="#fff" stroke-width="2.70" />
<rect x="750.5" y="2347.7" width="345.3" height="240.2" fill="#000" stroke="none" stroke-width="1.00" />
<g clip-path="url(#cp3)">
<ellipse cx="839.9" cy="2369.8" rx="10.0" ry="8.0" fill="#1a1aff" filter="url(#bl1)" opacity="1.00"/>
<ellipse cx="1077.0" cy="2368.5" rx="9.0" ry="9.0" fill="#1a1aff" filter="url(#bl1)" opacity="1.00"/>
<ellipse cx="1061.4" cy="2384.2" rx="8.0" ry="5.0" fill="#1a1aff" filter="url(#bl1)" opacity="1.00"/>
<ellipse cx="899.8" cy="2410.2" rx="6.0" ry="6.0" fill="#1a1aff" filter="url(#bl1)" opacity="1.00"/>
<ellipse cx="839.9" cy="2416.7" rx="6.0" ry="6.0" fill="#1a1aff" filter="url(#bl1)" opacity="1.00"/>
<ellipse cx="888.1" cy="2433.7" rx="7.0" ry="6.0" fill="#1a1aff" filter="url(#bl1)" opacity="1.00"/>
<ellipse cx="778.6" cy="2435.0" rx="5.0" ry="5.0" fill="#1a1aff" filter="url(#bl1)" opacity="1.00"/>
<ellipse cx="920.7" cy="2449.3" rx="8.0" ry="6.0" fill="#1a1aff" filter="url(#bl1)" opacity="1.00"/>
<ellipse cx="1037.9" cy="2446.7" rx="10.0" ry="6.0" fill="#1a1aff" filter="url(#bl1)" opacity="1.00"/>
<ellipse cx="764.3" cy="2458.4" rx="8.0" ry="6.0" fill="#1a1aff" filter="url(#bl1)" opacity="1.00"/>
<ellipse cx="770.8" cy="2484.5" rx="4.0" ry="5.0" fill="#1a1aff" filter="url(#bl1)" opacity="1.00"/>
<ellipse cx="811.2" cy="2485.8" rx="15.0" ry="4.0" fill="#1a1aff" filter="url(#bl1)" opacity="1.00"/>
<ellipse cx="1057.5" cy="2496.2" rx="10.0" ry="6.0" fill="#1a1aff" filter="url(#bl1)" opacity="1.00"/>
<ellipse cx="937.6" cy="2513.2" rx="8.0" ry="6.0" fill="#1a1aff" filter="url(#bl1)" opacity="1.00"/>
<ellipse cx="935.0" cy="2580.9" rx="13.0" ry="7.0" fill="#1a1aff" filter="url(#bl1)" opacity="1.00"/>
<ellipse cx="760.0" cy="2585.0" rx="6.0" ry="3.0" fill="#1a1aff" filter="url(#bl1)" opacity="1.00"/>
<ellipse cx="880.0" cy="2560.0" rx="4.0" ry="4.0" fill="#1a1aff" filter="url(#bl1)" opacity="1.00"/>
<ellipse cx="1000.0" cy="2400.0" rx="4.0" ry="4.0" fill="#1a1aff" filter="url(#bl1)" opacity="1.00"/>
<ellipse cx="860.0" cy="2470.0" rx="4.0" ry="4.0" fill="#1a1aff" filter="url(#bl1)" opacity="1.00"/>
<ellipse cx="816.4" cy="2371.1" rx="13.0" ry="9.0" fill="#18b418" opacity="0.55" filter="url(#bl2)"/>
<ellipse cx="819.4" cy="2373.1" rx="6.5" ry="4.5" fill="#1a1aff" filter="url(#bl1)" opacity="1.00"/>
<g fill="#22dd22"><circle cx="811.9" cy="2377.4" r="0.9"/><circle cx="805.0" cy="2373.8" r="1.5"/><circle cx="815.8" cy="2376.5" r="1.3"/><circle cx="820.8" cy="2378.8" r="0.9"/><circle cx="809.3" cy="2369.3" r="0.8"/><circle cx="817.0" cy="2371.1" r="1.0"/><circle cx="814.4" cy="2379.9" r="1.2"/><circle cx="826.5" cy="2374.1" r="1.0"/><circle cx="805.4" cy="2372.0" r="1.4"/><circle cx="824.1" cy="2368.8" r="1.0"/><circle cx="810.6" cy="2374.1" r="1.3"/><circle cx="805.9" cy="2372.8" r="0.9"/><circle cx="819.0" cy="2362.4" r="0.9"/><circle cx="812.5" cy="2368.7" r="0.8"/><circle cx="811.6" cy="2373.1" r="1.3"/><circle cx="806.8" cy="2367.9" r="1.5"/><circle cx="820.2" cy="2372.1" r="0.8"/><circle cx="805.0" cy="2373.2" r="1.3"/><circle cx="804.9" cy="2368.6" r="1.1"/><circle cx="824.3" cy="2375.8" r="0.8"/><circle cx="816.7" cy="2372.6" r="0.9"/><circle cx="825.1" cy="2373.7" r="0.9"/><circle cx="807.0" cy="2366.2" r="1.0"/><circle cx="824.1" cy="2376.2" r="1.3"/><circle cx="823.6" cy="2366.6" r="1.2"/><circle cx="823.4" cy="2365.5" r="1.5"/><circle cx="813.8" cy="2378.8" r="1.2"/><circle cx="815.1" cy="2371.3" r="1.1"/><circle cx="815.6" cy="2378.1" r="1.2"/><circle cx="813.3" cy="2371.0" r="0.9"/><circle cx="808.0" cy="2366.5" r="1.5"/><circle cx="818.3" cy="2366.4" r="1.1"/><circle cx="804.8" cy="2370.8" r="1.1"/><circle cx="824.3" cy="2368.1" r="1.1"/><circle cx="808.7" cy="2371.8" r="1.5"/><circle cx="824.3" cy="2372.7" r="0.9"/><circle cx="814.2" cy="2368.0" r="0.9"/><circle cx="807.5" cy="2374.3" r="1.3"/><circle cx="809.8" cy="2372.8" r="1.1"/><circle cx="821.0" cy="2368.4" r="0.8"/><circle cx="823.2" cy="2367.0" r="0.9"/><circle cx="824.5" cy="2377.5" r="1.3"/><circle cx="826.2" cy="2374.0" r="0.9"/><circle cx="806.9" cy="2373.4" r="0.8"/><circle cx="823.3" cy="2369.0" r="0.9"/><circle cx="817.2" cy="2368.2" r="0.8"/><circle cx="811.3" cy="2366.1" r="1.4"/><circle cx="817.9" cy="2367.1" r="0.8"/><circle cx="809.3" cy="2367.4" r="1.0"/><circle cx="821.5" cy="2369.0" r="1.3"/><circle cx="827.6" cy="2375.0" r="1.5"/><circle cx="811.0" cy="2367.7" r="1.3"/><circle cx="825.9" cy="2366.5" r="0.8"/><circle cx="811.5" cy="2371.0" r="1.2"/><circle cx="827.9" cy="2368.5" r="1.0"/><circle cx="809.5" cy="2369.5" r="0.9"/><circle cx="816.0" cy="2363.3" r="1.0"/><circle cx="806.9" cy="2374.7" r="1.3"/><circle cx="812.0" cy="2371.8" r="0.9"/><circle cx="822.1" cy="2378.3" r="1.1"/><circle cx="811.6" cy="2366.8" r="1.1"/><circle cx="822.2" cy="2379.0" r="1.2"/><circle cx="823.9" cy="2376.6" r="1.2"/><circle cx="807.8" cy="2365.9" r="1.2"/><circle cx="825.5" cy="2364.9" r="1.1"/><circle cx="811.7" cy="2366.7" r="1.1"/><circle cx="809.4" cy="2376.5" r="1.0"/><circle cx="809.2" cy="2377.7" r="1.4"/><circle cx="811.1" cy="2363.7" r="1.1"/><circle cx="812.3" cy="2367.6" r="1.0"/><circle cx="825.8" cy="2375.9" r="1.4"/><circle cx="813.8" cy="2376.3" r="0.9"/><circle cx="822.9" cy="2376.7" r="1.4"/><circle cx="822.1" cy="2373.4" r="1.3"/><circle cx="818.2" cy="2379.4" r="1.0"/><circle cx="810.6" cy="2371.8" r="1.0"/><circle cx="810.3" cy="2373.3" r="1.3"/><circle cx="826.6" cy="2372.5" r="1.4"/><circle cx="813.8" cy="2374.6" r="0.9"/><circle cx="826.6" cy="2374.8" r="1.2"/><circle cx="825.1" cy="2371.7" r="1.2"/><circle cx="815.4" cy="2372.6" r="1.1"/><circle cx="808.6" cy="2378.2" r="1.1"/><circle cx="827.1" cy="2367.2" r="1.2"/><circle cx="824.6" cy="2376.9" r="0.9"/><circle cx="812.6" cy="2370.1" r="0.9"/><circle cx="812.1" cy="2373.0" r="1.5"/><circle cx="805.5" cy="2367.1" r="1.5"/><circle cx="816.9" cy="2363.9" r="1.1"/><circle cx="818.2" cy="2363.8" r="0.9"/></g>
<ellipse cx="1001.5" cy="2433.4" rx="17.0" ry="15.0" fill="#18b418" opacity="0.55" filter="url(#bl2)"/>
<ellipse cx="1004.5" cy="2435.4" rx="8.5" ry="7.5" fill="#1a1aff" filter="url(#bl1)" opacity="1.00"/>
<g fill="#22dd22"><circle cx="990.8" cy="2431.6" r="1.2"/><circle cx="998.3" cy="2421.3" r="1.2"/><circle cx="1005.2" cy="2420.2" r="0.9"/><circle cx="1003.8" cy="2436.0" r="0.9"/><circle cx="1010.6" cy="2431.3" r="1.1"/><circle cx="989.0" cy="2435.8" r="1.0"/><circle cx="1003.3" cy="2424.9" r="1.4"/><circle cx="1001.7" cy="2432.9" r="1.2"/><circle cx="1014.8" cy="2441.2" r="0.8"/><circle cx="999.9" cy="2446.5" r="1.2"/><circle cx="996.1" cy="2425.0" r="1.2"/><circle cx="1004.8" cy="2443.2" r="1.0"/><circle cx="999.0" cy="2429.0" r="0.9"/><circle cx="1005.5" cy="2443.8" r="1.2"/><circle cx="1018.4" cy="2433.7" r="1.4"/><circle cx="996.6" cy="2437.5" r="1.4"/><circle cx="1008.6" cy="2432.5" r="1.3"/><circle cx="1008.3" cy="2420.2" r="0.9"/><circle cx="1006.5" cy="2437.6" r="1.0"/><circle cx="1014.6" cy="2425.0" r="1.1"/><circle cx="1008.5" cy="2439.8" r="1.0"/><circle cx="992.9" cy="2423.2" r="1.3"/><circle cx="990.9" cy="2437.3" r="1.1"/><circle cx="993.6" cy="2440.8" r="1.3"/><circle cx="999.2" cy="2425.1" r="1.2"/><circle cx="1003.7" cy="2435.9" r="1.1"/><circle cx="999.6" cy="2435.5" r="0.9"/><circle cx="986.8" cy="2439.9" r="1.4"/><circle cx="1010.9" cy="2435.0" r="1.1"/><circle cx="999.1" cy="2438.5" r="1.2"/><circle cx="1007.1" cy="2425.5" r="0.9"/><circle cx="1003.2" cy="2434.5" r="1.3"/><circle cx="1003.2" cy="2446.1" r="1.4"/><circle cx="1007.9" cy="2436.7" r="1.0"/><circle cx="1003.2" cy="2420.6" r="1.0"/><circle cx="991.8" cy="2436.1" r="1.1"/><circle cx="1003.9" cy="2426.0" r="1.4"/><circle cx="1013.0" cy="2427.8" r="1.5"/><circle cx="1008.0" cy="2431.0" r="1.5"/><circle cx="1006.2" cy="2446.2" r="0.9"/><circle cx="997.8" cy="2442.8" r="1.4"/><circle cx="998.3" cy="2427.3" r="1.4"/><circle cx="1009.6" cy="2425.4" r="0.8"/><circle cx="999.5" cy="2441.3" r="1.1"/><circle cx="1013.8" cy="2429.3" r="1.4"/><circle cx="1009.1" cy="2436.6" r="1.3"/><circle cx="997.1" cy="2439.4" r="0.8"/><circle cx="1011.9" cy="2436.4" r="1.2"/><circle cx="991.2" cy="2440.0" r="1.0"/><circle cx="1015.4" cy="2434.7" r="1.0"/><circle cx="991.1" cy="2433.9" r="1.0"/><circle cx="1010.3" cy="2436.0" r="1.0"/><circle cx="1003.7" cy="2435.1" r="1.1"/><circle cx="1017.3" cy="2435.1" r="1.1"/><circle cx="989.9" cy="2437.2" r="0.8"/><circle cx="1013.6" cy="2441.3" r="1.2"/><circle cx="991.5" cy="2433.8" r="1.3"/><circle cx="986.4" cy="2433.1" r="1.4"/><circle cx="1012.9" cy="2425.5" r="1.3"/><circle cx="989.4" cy="2436.0" r="1.2"/><circle cx="986.3" cy="2431.3" r="1.4"/><circle cx="1015.5" cy="2437.6" r="1.2"/><circle cx="988.3" cy="2425.1" r="0.8"/><circle cx="991.2" cy="2434.8" r="1.5"/><circle cx="1008.0" cy="2443.1" r="0.9"/><circle cx="1001.8" cy="2422.9" r="1.3"/><circle cx="995.9" cy="2446.6" r="0.8"/><circle cx="1003.8" cy="2446.1" r="1.4"/><circle cx="1003.0" cy="2425.6" r="0.9"/><circle cx="997.8" cy="2421.0" r="0.8"/><circle cx="1012.8" cy="2429.1" r="0.8"/><circle cx="991.7" cy="2434.5" r="0.9"/><circle cx="1013.9" cy="2423.8" r="0.9"/><circle cx="993.1" cy="2436.0" r="1.3"/><circle cx="1009.1" cy="2438.9" r="1.1"/><circle cx="990.4" cy="2435.1" r="1.2"/><circle cx="1016.8" cy="2428.1" r="1.4"/><circle cx="1005.4" cy="2427.1" r="1.0"/><circle cx="988.3" cy="2436.4" r="1.2"/><circle cx="991.6" cy="2445.5" r="1.0"/><circle cx="1006.6" cy="2433.9" r="0.9"/><circle cx="999.6" cy="2419.7" r="0.8"/><circle cx="1002.2" cy="2440.8" r="1.4"/><circle cx="1008.5" cy="2428.8" r="0.9"/><circle cx="1017.9" cy="2430.3" r="1.3"/><circle cx="987.0" cy="2435.6" r="1.3"/><circle cx="992.7" cy="2432.9" r="1.2"/><circle cx="996.4" cy="2426.1" r="1.2"/><circle cx="1011.6" cy="2445.2" r="0.9"/><circle cx="1004.0" cy="2447.9" r="1.5"/><circle cx="1015.4" cy="2427.2" r="1.4"/><circle cx="1007.0" cy="2423.2" r="0.9"/><circle cx="999.7" cy="2419.8" r="1.4"/><circle cx="1005.6" cy="2434.4" r="1.3"/><circle cx="985.5" cy="2434.5" r="1.5"/><circle cx="988.3" cy="2437.4" r="1.3"/><circle cx="997.9" cy="2424.9" r="1.2"/><circle cx="1016.2" cy="2439.3" r="1.3"/><circle cx="1005.2" cy="2423.8" r="0.9"/><circle cx="988.1" cy="2437.1" r="1.2"/><circle cx="1002.3" cy="2434.0" r="1.1"/><circle cx="1001.8" cy="2440.5" r="1.0"/><circle cx="989.3" cy="2439.7" r="1.4"/><circle cx="1000.4" cy="2431.5" r="1.4"/><circle cx="990.2" cy="2425.3" r="1.2"/><circle cx="995.5" cy="2440.3" r="0.8"/><circle cx="999.5" cy="2430.4" r="1.3"/><circle cx="1013.3" cy="2426.9" r="1.2"/><circle cx="1007.4" cy="2419.7" r="1.4"/><circle cx="1013.0" cy="2432.8" r="0.8"/><circle cx="991.3" cy="2425.5" r="1.4"/><circle cx="993.7" cy="2427.5" r="0.8"/><circle cx="1008.0" cy="2423.0" r="1.5"/><circle cx="988.4" cy="2425.7" r="1.3"/><circle cx="1013.0" cy="2432.8" r="1.4"/><circle cx="1000.1" cy="2434.4" r="1.0"/><circle cx="991.4" cy="2445.4" r="1.1"/><circle cx="999.3" cy="2445.7" r="0.9"/><circle cx="997.8" cy="2442.3" r="0.9"/><circle cx="992.5" cy="2427.8" r="1.4"/><circle cx="992.5" cy="2445.9" r="0.9"/><circle cx="993.6" cy="2432.0" r="0.8"/><circle cx="996.4" cy="2446.9" r="1.0"/><circle cx="989.2" cy="2434.2" r="1.0"/><circle cx="997.3" cy="2432.6" r="1.0"/><circle cx="998.2" cy="2446.6" r="1.3"/><circle cx="997.5" cy="2422.4" r="1.4"/><circle cx="1001.3" cy="2429.9" r="0.9"/><circle cx="1001.3" cy="2419.7" r="1.5"/><circle cx="1002.6" cy="2427.5" r="1.2"/><circle cx="992.1" cy="2425.2" r="0.9"/><circle cx="1013.4" cy="2431.3" r="1.0"/><circle cx="1012.0" cy="2432.3" r="0.8"/><circle cx="997.3" cy="2426.7" r="1.0"/><circle cx="997.2" cy="2444.5" r="1.0"/><circle cx="993.2" cy="2421.1" r="1.5"/><circle cx="1014.0" cy="2424.1" r="1.0"/><circle cx="1003.8" cy="2429.4" r="1.2"/><circle cx="1006.3" cy="2435.6" r="1.5"/><circle cx="1011.6" cy="2442.5" r="1.2"/><circle cx="1016.6" cy="2433.5" r="0.8"/><circle cx="1013.1" cy="2424.5" r="1.1"/><circle cx="998.8" cy="2434.2" r="1.3"/><circle cx="1013.5" cy="2436.0" r="1.4"/><circle cx="999.0" cy="2428.8" r="1.3"/><circle cx="998.6" cy="2425.2" r="1.3"/><circle cx="991.9" cy="2428.8" r="1.2"/><circle cx="1000.0" cy="2441.3" r="1.4"/><circle cx="992.8" cy="2444.1" r="1.1"/><circle cx="1001.7" cy="2433.9" r="1.5"/><circle cx="1001.7" cy="2418.5" r="1.2"/><circle cx="1007.8" cy="2435.7" r="0.8"/><circle cx="991.3" cy="2425.7" r="1.5"/><circle cx="999.2" cy="2440.3" r="1.0"/><circle cx="1003.2" cy="2435.4" r="1.1"/><circle cx="992.5" cy="2437.8" r="1.5"/><circle cx="995.5" cy="2446.0" r="1.2"/><circle cx="1003.8" cy="2435.0" r="1.2"/><circle cx="1004.2" cy="2431.0" r="1.3"/><circle cx="1003.0" cy="2445.8" r="1.4"/><circle cx="1000.3" cy="2426.1" r="0.9"/><circle cx="1017.4" cy="2430.5" r="1.4"/><circle cx="997.8" cy="2432.5" r="1.1"/><circle cx="1005.2" cy="2431.3" r="1.0"/><circle cx="1016.9" cy="2437.1" r="1.0"/><circle cx="1010.3" cy="2437.8" r="0.9"/><circle cx="989.3" cy="2438.2" r="1.3"/><circle cx="1011.7" cy="2439.6" r="0.8"/><circle cx="987.2" cy="2438.2" r="1.0"/><circle cx="1005.2" cy="2426.7" r="1.1"/><circle cx="1001.8" cy="2432.5" r="1.2"/><circle cx="987.5" cy="2430.5" r="1.5"/><circle cx="998.8" cy="2426.7" r="0.9"/><circle cx="992.5" cy="2434.3" r="1.2"/><circle cx="1013.5" cy="2440.1" r="1.1"/><circle cx="1007.1" cy="2435.0" r="1.5"/><circle cx="1010.8" cy="2422.0" r="1.1"/><circle cx="1008.5" cy="2432.8" r="1.3"/><circle cx="1008.8" cy="2431.0" r="0.8"/><circle cx="1004.9" cy="2436.5" r="1.4"/></g>
<ellipse cx="902.0" cy="2533.7" rx="17.0" ry="11.0" fill="#18b418" opacity="0.55" filter="url(#bl2)"/>
<ellipse cx="905.0" cy="2535.7" rx="8.5" ry="5.5" fill="#1a1aff" filter="url(#bl1)" opacity="1.00"/>
<g fill="#22dd22"><circle cx="892.8" cy="2529.0" r="0.9"/><circle cx="898.1" cy="2530.5" r="0.9"/><circle cx="890.7" cy="2528.8" r="1.4"/><circle cx="904.9" cy="2530.1" r="1.0"/><circle cx="909.4" cy="2539.8" r="0.8"/><circle cx="911.5" cy="2527.0" r="1.4"/><circle cx="885.8" cy="2534.5" r="1.4"/><circle cx="909.3" cy="2525.0" r="1.0"/><circle cx="899.7" cy="2535.9" r="1.3"/><circle cx="885.4" cy="2535.5" r="1.0"/><circle cx="887.6" cy="2538.0" r="1.5"/><circle cx="902.7" cy="2523.4" r="1.4"/><circle cx="900.2" cy="2542.3" r="0.8"/><circle cx="894.6" cy="2524.1" r="1.2"/><circle cx="909.8" cy="2540.3" r="0.8"/><circle cx="897.3" cy="2534.4" r="1.1"/><circle cx="908.0" cy="2525.1" r="1.4"/><circle cx="891.1" cy="2535.6" r="0.8"/><circle cx="905.1" cy="2525.6" r="1.1"/><circle cx="909.0" cy="2539.6" r="0.8"/><circle cx="905.5" cy="2535.8" r="1.1"/><circle cx="912.1" cy="2541.3" r="1.2"/><circle cx="910.5" cy="2527.6" r="0.9"/><circle cx="899.4" cy="2543.6" r="1.2"/><circle cx="893.8" cy="2526.7" r="0.8"/><circle cx="905.5" cy="2540.6" r="1.4"/><circle cx="914.3" cy="2530.8" r="1.0"/><circle cx="914.2" cy="2536.1" r="1.1"/><circle cx="909.0" cy="2531.6" r="0.9"/><circle cx="904.9" cy="2533.9" r="1.4"/><circle cx="906.6" cy="2530.6" r="0.8"/><circle cx="894.5" cy="2531.2" r="1.2"/><circle cx="914.5" cy="2528.7" r="1.0"/><circle cx="894.8" cy="2530.0" r="1.3"/><circle cx="901.2" cy="2543.9" r="1.3"/><circle cx="909.8" cy="2529.6" r="1.5"/><circle cx="894.5" cy="2530.9" r="1.3"/><circle cx="899.9" cy="2537.1" r="0.8"/><circle cx="895.6" cy="2530.2" r="0.9"/><circle cx="903.1" cy="2529.6" r="1.3"/><circle cx="900.5" cy="2540.3" r="1.5"/><circle cx="909.4" cy="2524.9" r="1.5"/><circle cx="888.9" cy="2527.3" r="1.2"/><circle cx="893.6" cy="2530.6" r="1.1"/><circle cx="894.3" cy="2531.4" r="1.2"/><circle cx="911.5" cy="2526.7" r="1.0"/><circle cx="912.1" cy="2534.9" r="1.1"/><circle cx="909.2" cy="2527.0" r="1.2"/><circle cx="892.0" cy="2528.7" r="1.3"/><circle cx="890.2" cy="2530.8" r="1.0"/><circle cx="910.0" cy="2538.8" r="1.4"/><circle cx="910.7" cy="2531.7" r="1.2"/><circle cx="890.6" cy="2532.8" r="0.9"/><circle cx="903.2" cy="2530.6" r="1.0"/><circle cx="900.6" cy="2538.6" r="0.9"/><circle cx="912.8" cy="2537.5" r="0.9"/><circle cx="893.8" cy="2527.0" r="1.2"/><circle cx="888.8" cy="2534.8" r="1.0"/><circle cx="888.3" cy="2535.7" r="1.0"/><circle cx="900.6" cy="2525.3" r="1.5"/><circle cx="892.6" cy="2528.3" r="1.3"/><circle cx="899.5" cy="2540.2" r="1.1"/><circle cx="900.6" cy="2524.4" r="0.9"/><circle cx="918.1" cy="2530.6" r="1.1"/><circle cx="915.4" cy="2533.5" r="1.1"/><circle cx="903.9" cy="2534.5" r="1.2"/><circle cx="899.4" cy="2525.2" r="1.3"/><circle cx="888.5" cy="2537.4" r="1.2"/><circle cx="893.6" cy="2527.6" r="1.3"/><circle cx="897.2" cy="2532.5" r="1.3"/><circle cx="898.8" cy="2526.8" r="1.5"/><circle cx="895.1" cy="2534.2" r="1.2"/><circle cx="897.7" cy="2537.2" r="1.4"/><circle cx="908.3" cy="2542.0" r="0.9"/><circle cx="885.1" cy="2532.5" r="0.9"/><circle cx="902.8" cy="2533.0" r="1.5"/><circle cx="911.6" cy="2529.7" r="1.2"/><circle cx="895.3" cy="2534.8" r="1.0"/><circle cx="887.2" cy="2537.4" r="0.9"/><circle cx="890.7" cy="2531.9" r="1.2"/><circle cx="905.5" cy="2525.5" r="1.0"/><circle cx="914.6" cy="2531.3" r="1.0"/><circle cx="886.9" cy="2530.7" r="0.8"/><circle cx="894.9" cy="2527.5" r="1.0"/><circle cx="906.4" cy="2538.2" r="1.1"/><circle cx="890.4" cy="2537.7" r="1.0"/><circle cx="893.5" cy="2528.5" r="1.4"/><circle cx="904.8" cy="2528.7" r="1.5"/><circle cx="892.6" cy="2531.9" r="1.0"/><circle cx="899.4" cy="2526.6" r="1.3"/><circle cx="901.4" cy="2543.9" r="1.0"/><circle cx="909.7" cy="2528.4" r="1.1"/><circle cx="891.1" cy="2530.0" r="1.2"/><circle cx="886.6" cy="2529.7" r="1.3"/><circle cx="916.1" cy="2539.7" r="0.8"/><circle cx="916.5" cy="2536.9" r="1.0"/><circle cx="909.0" cy="2534.5" r="1.1"/><circle cx="903.3" cy="2532.4" r="0.9"/><circle cx="905.9" cy="2533.9" r="1.0"/><circle cx="885.3" cy="2534.3" r="1.3"/><circle cx="910.0" cy="2527.0" r="1.4"/><circle cx="898.1" cy="2528.9" r="1.1"/><circle cx="896.4" cy="2534.2" r="1.4"/><circle cx="894.4" cy="2534.2" r="1.1"/><circle cx="905.0" cy="2528.3" r="1.2"/><circle cx="909.0" cy="2536.6" r="0.9"/><circle cx="887.9" cy="2533.4" r="1.0"/><circle cx="897.1" cy="2525.9" r="1.3"/><circle cx="911.8" cy="2533.5" r="1.5"/><circle cx="890.3" cy="2535.9" r="0.9"/><circle cx="913.8" cy="2538.2" r="0.9"/><circle cx="906.8" cy="2534.4" r="1.2"/><circle cx="904.9" cy="2539.0" r="1.3"/><circle cx="895.8" cy="2535.1" r="1.3"/><circle cx="915.4" cy="2533.4" r="1.1"/><circle cx="888.2" cy="2531.5" r="1.4"/><circle cx="903.9" cy="2528.4" r="1.3"/><circle cx="906.8" cy="2536.1" r="1.2"/><circle cx="907.1" cy="2541.3" r="1.0"/><circle cx="912.5" cy="2531.2" r="1.4"/><circle cx="912.8" cy="2531.2" r="1.3"/><circle cx="891.3" cy="2534.0" r="0.9"/><circle cx="893.1" cy="2524.8" r="1.3"/><circle cx="897.0" cy="2541.0" r="1.0"/><circle cx="890.4" cy="2539.8" r="0.8"/><circle cx="889.9" cy="2534.6" r="0.9"/><circle cx="901.0" cy="2528.2" r="1.1"/><circle cx="902.2" cy="2542.2" r="1.1"/><circle cx="897.5" cy="2527.1" r="1.3"/><circle cx="896.8" cy="2532.6" r="1.1"/><circle cx="901.8" cy="2539.7" r="1.5"/><circle cx="887.5" cy="2534.9" r="0.9"/><circle cx="898.0" cy="2530.9" r="1.0"/><circle cx="903.9" cy="2534.9" r="1.4"/><circle cx="912.1" cy="2532.2" r="0.8"/><circle cx="900.6" cy="2524.8" r="0.8"/><circle cx="902.5" cy="2530.9" r="1.0"/><circle cx="904.7" cy="2524.2" r="1.0"/><circle cx="886.8" cy="2533.2" r="1.2"/><circle cx="894.8" cy="2533.0" r="0.8"/><circle cx="906.7" cy="2541.1" r="1.2"/><circle cx="888.9" cy="2535.9" r="1.2"/><circle cx="895.4" cy="2528.1" r="1.4"/><circle cx="886.4" cy="2531.7" r="1.5"/><circle cx="909.0" cy="2525.2" r="1.3"/><circle cx="894.0" cy="2531.9" r="0.9"/><circle cx="897.5" cy="2529.1" r="1.2"/><circle cx="889.4" cy="2531.1" r="1.1"/><circle cx="902.6" cy="2539.7" r="1.3"/><circle cx="909.2" cy="2529.6" r="1.0"/></g>
<ellipse cx="1069.2" cy="2376.4" rx="12.0" ry="7.0" fill="#18b418" opacity="0.55" filter="url(#bl2)"/>
<ellipse cx="1072.2" cy="2378.4" rx="6.0" ry="3.5" fill="#1a1aff" filter="url(#bl1)" opacity="1.00"/>
<g fill="#22dd22"><circle cx="1061.8" cy="2377.9" r="1.2"/><circle cx="1069.6" cy="2370.3" r="1.4"/><circle cx="1067.4" cy="2369.6" r="1.1"/><circle cx="1060.1" cy="2378.3" r="1.0"/><circle cx="1072.9" cy="2372.4" r="1.2"/><circle cx="1062.0" cy="2375.9" r="0.8"/><circle cx="1067.7" cy="2381.2" r="1.5"/><circle cx="1076.6" cy="2381.4" r="1.5"/><circle cx="1070.8" cy="2372.8" r="0.8"/><circle cx="1071.5" cy="2375.2" r="1.0"/><circle cx="1078.3" cy="2374.2" r="1.4"/><circle cx="1071.7" cy="2373.8" r="1.2"/><circle cx="1075.3" cy="2378.8" r="1.1"/><circle cx="1071.8" cy="2373.0" r="1.3"/><circle cx="1073.0" cy="2379.1" r="0.8"/><circle cx="1061.2" cy="2373.8" r="1.3"/><circle cx="1059.0" cy="2379.7" r="1.3"/><circle cx="1059.0" cy="2373.7" r="0.9"/><circle cx="1066.9" cy="2381.4" r="1.2"/><circle cx="1078.7" cy="2374.8" r="0.8"/><circle cx="1076.9" cy="2374.8" r="0.9"/><circle cx="1069.9" cy="2370.9" r="1.4"/><circle cx="1063.4" cy="2375.3" r="1.1"/><circle cx="1062.2" cy="2377.3" r="1.2"/><circle cx="1072.8" cy="2379.2" r="0.9"/><circle cx="1077.8" cy="2377.3" r="1.3"/><circle cx="1059.9" cy="2380.2" r="1.2"/><circle cx="1065.7" cy="2373.3" r="1.4"/><circle cx="1062.8" cy="2381.7" r="1.0"/><circle cx="1078.7" cy="2374.7" r="0.9"/><circle cx="1068.7" cy="2373.7" r="1.1"/><circle cx="1064.2" cy="2379.2" r="1.1"/><circle cx="1073.2" cy="2380.1" r="0.9"/><circle cx="1071.2" cy="2372.4" r="1.3"/><circle cx="1058.5" cy="2379.4" r="1.4"/><circle cx="1066.2" cy="2370.2" r="1.4"/><circle cx="1076.2" cy="2374.5" r="1.2"/><circle cx="1075.8" cy="2378.2" r="1.0"/><circle cx="1068.5" cy="2376.0" r="1.3"/><circle cx="1076.2" cy="2378.5" r="1.1"/><circle cx="1074.4" cy="2371.7" r="0.9"/><circle cx="1066.3" cy="2373.5" r="1.2"/><circle cx="1059.2" cy="2379.9" r="1.1"/><circle cx="1068.3" cy="2380.3" r="1.5"/><circle cx="1065.8" cy="2379.2" r="1.2"/><circle cx="1063.6" cy="2370.5" r="0.9"/><circle cx="1064.3" cy="2381.6" r="1.1"/><circle cx="1065.6" cy="2371.0" r="0.9"/><circle cx="1074.0" cy="2377.3" r="1.0"/><circle cx="1071.9" cy="2379.8" r="0.9"/><circle cx="1077.8" cy="2377.2" r="1.3"/><circle cx="1071.2" cy="2378.2" r="1.3"/><circle cx="1073.1" cy="2377.7" r="1.1"/><circle cx="1066.1" cy="2382.3" r="1.2"/><circle cx="1061.9" cy="2375.8" r="0.8"/><circle cx="1072.4" cy="2372.5" r="1.4"/><circle cx="1075.4" cy="2379.2" r="1.2"/><circle cx="1071.0" cy="2378.0" r="1.5"/><circle cx="1080.3" cy="2373.8" r="1.2"/><circle cx="1068.2" cy="2371.0" r="1.1"/><circle cx="1073.7" cy="2381.3" r="1.1"/><circle cx="1068.1" cy="2375.1" r="1.0"/><circle cx="1077.2" cy="2380.4" r="1.1"/><circle cx="1066.8" cy="2382.4" r="1.2"/><circle cx="1067.3" cy="2380.6" r="0.8"/><circle cx="1071.3" cy="2376.9" r="1.5"/><circle cx="1075.6" cy="2372.8" r="1.5"/><circle cx="1059.6" cy="2375.0" r="0.9"/><circle cx="1060.6" cy="2378.5" r="1.1"/><circle cx="1065.2" cy="2373.0" r="1.3"/></g>
<ellipse cx="812.0" cy="2372.0" rx="3.0" ry="4.0" fill="#ff2020" filter="url(#bl1)" opacity="1.00"/>
<ellipse cx="998.0" cy="2430.0" rx="3.0" ry="5.0" fill="#ffcc00" filter="url(#bl1)" opacity="1.00"/>
<ellipse cx="899.0" cy="2524.0" rx="4.0" ry="3.0" fill="#ff6600" filter="url(#bl1)" opacity="1.00"/>
<g fill="#444444"><circle cx="954.9" cy="2568.5" r="0.7"/><circle cx="808.8" cy="2515.2" r="0.7"/><circle cx="1004.1" cy="2492.8" r="0.7"/><circle cx="907.7" cy="2408.8" r="0.7"/><circle cx="750.4" cy="2489.8" r="0.7"/><circle cx="807.3" cy="2386.9" r="0.7"/><circle cx="945.5" cy="2322.9" r="0.7"/><circle cx="839.2" cy="2528.7" r="0.7"/><circle cx="923.8" cy="2444.3" r="0.7"/><circle cx="833.6" cy="2483.1" r="0.7"/><circle cx="782.6" cy="2423.6" r="0.7"/><circle cx="1003.1" cy="2386.9" r="0.7"/><circle cx="905.4" cy="2428.9" r="0.7"/><circle cx="832.3" cy="2347.1" r="0.7"/><circle cx="831.3" cy="2398.9" r="0.7"/><circle cx="811.0" cy="2461.4" r="0.7"/><circle cx="956.5" cy="2527.6" r="0.7"/><circle cx="957.8" cy="2365.4" r="0.7"/><circle cx="1056.3" cy="2495.9" r="0.7"/><circle cx="991.5" cy="2363.0" r="0.7"/><circle cx="995.5" cy="2599.4" r="0.7"/><circle cx="974.7" cy="2564.5" r="0.7"/><circle cx="854.0" cy="2483.1" r="0.7"/><circle cx="915.0" cy="2531.9" r="0.7"/><circle cx="940.6" cy="2494.2" r="0.7"/><circle cx="835.8" cy="2371.8" r="0.7"/><circle cx="921.3" cy="2613.1" r="0.7"/><circle cx="818.2" cy="2514.6" r="0.7"/><circle cx="1049.6" cy="2415.2" r="0.7"/><circle cx="775.2" cy="2495.4" r="0.7"/><circle cx="917.1" cy="2385.6" r="0.7"/><circle cx="1058.6" cy="2522.0" r="0.7"/><circle cx="921.3" cy="2352.7" r="0.7"/><circle cx="1035.0" cy="2554.1" r="0.7"/><circle cx="993.7" cy="2586.5" r="0.7"/><circle cx="822.3" cy="2385.8" r="0.7"/><circle cx="1017.2" cy="2508.8" r="0.7"/><circle cx="916.7" cy="2418.7" r="0.7"/><circle cx="1032.2" cy="2491.0" r="0.7"/><circle cx="1006.5" cy="2373.7" r="0.7"/><circle cx="929.3" cy="2510.2" r="0.7"/><circle cx="1006.4" cy="2351.3" r="0.7"/><circle cx="899.0" cy="2403.5" r="0.7"/><circle cx="923.1" cy="2453.3" r="0.7"/><circle cx="969.4" cy="2542.3" r="0.7"/><circle cx="954.8" cy="2460.5" r="0.7"/><circle cx="1002.7" cy="2575.9" r="0.7"/><circle cx="930.0" cy="2391.2" r="0.7"/><circle cx="1066.5" cy="2531.4" r="0.7"/><circle cx="1086.9" cy="2441.7" r="0.7"/><circle cx="876.3" cy="2450.5" r="0.7"/><circle cx="914.3" cy="2348.4" r="0.7"/><circle cx="997.7" cy="2355.0" r="0.7"/><circle cx="750.1" cy="2465.5" r="0.7"/><circle cx="809.5" cy="2491.6" r="0.7"/><circle cx="821.9" cy="2367.7" r="0.7"/><circle cx="778.3" cy="2392.5" r="0.7"/><circle cx="900.6" cy="2607.5" r="0.7"/><circle cx="997.3" cy="2407.4" r="0.7"/><circle cx="1056.5" cy="2488.6" r="0.7"/><circle cx="797.8" cy="2368.4" r="0.7"/><circle cx="783.9" cy="2422.8" r="0.7"/><circle cx="927.3" cy="2407.0" r="0.7"/><circle cx="865.2" cy="2382.7" r="0.7"/><circle cx="942.3" cy="2544.2" r="0.7"/><circle cx="825.4" cy="2564.9" r="0.7"/><circle cx="829.2" cy="2440.9" r="0.7"/><circle cx="1069.0" cy="2512.9" r="0.7"/><circle cx="926.9" cy="2332.0" r="0.7"/><circle cx="932.9" cy="2431.6" r="0.7"/><circle cx="899.8" cy="2567.2" r="0.7"/><circle cx="876.8" cy="2597.2" r="0.7"/><circle cx="928.9" cy="2485.2" r="0.7"/><circle cx="885.5" cy="2478.1" r="0.7"/><circle cx="1057.1" cy="2488.7" r="0.7"/><circle cx="820.9" cy="2401.2" r="0.7"/><circle cx="1041.4" cy="2515.6" r="0.7"/><circle cx="827.4" cy="2456.2" r="0.7"/><circle cx="934.6" cy="2525.9" r="0.7"/><circle cx="817.6" cy="2477.5" r="0.7"/><circle cx="799.5" cy="2405.5" r="0.7"/><circle cx="900.7" cy="2582.4" r="0.7"/><circle cx="915.1" cy="2596.3" r="0.7"/><circle cx="961.4" cy="2577.9" r="0.7"/><circle cx="909.5" cy="2335.5" r="0.7"/><circle cx="759.0" cy="2440.7" r="0.7"/><circle cx="1078.2" cy="2456.5" r="0.7"/><circle cx="866.0" cy="2527.6" r="0.7"/><circle cx="879.1" cy="2430.0" r="0.7"/><circle cx="946.8" cy="2509.0" r="0.7"/><circle cx="859.5" cy="2392.8" r="0.7"/><circle cx="1061.4" cy="2404.7" r="0.7"/><circle cx="822.9" cy="2450.9" r="0.7"/><circle cx="905.8" cy="2498.8" r="0.7"/><circle cx="1048.3" cy="2557.1" r="0.7"/><circle cx="918.3" cy="2480.9" r="0.7"/><circle cx="1030.1" cy="2456.6" r="0.7"/><circle cx="941.2" cy="2369.1" r="0.7"/><circle cx="971.7" cy="2459.7" r="0.7"/><circle cx="784.2" cy="2488.0" r="0.7"/><circle cx="1088.6" cy="2489.8" r="0.7"/><circle cx="847.1" cy="2572.1" r="0.7"/><circle cx="966.1" cy="2487.8" r="0.7"/><circle cx="1056.0" cy="2536.3" r="0.7"/><circle cx="1079.5" cy="2417.4" r="0.7"/><circle cx="871.1" cy="2459.4" r="0.7"/><circle cx="944.2" cy="2363.6" r="0.7"/><circle cx="951.2" cy="2352.0" r="0.7"/><circle cx="856.8" cy="2443.1" r="0.7"/><circle cx="954.2" cy="2501.2" r="0.7"/><circle cx="837.3" cy="2501.0" r="0.7"/><circle cx="960.1" cy="2458.7" r="0.7"/><circle cx="926.5" cy="2416.6" r="0.7"/><circle cx="1057.0" cy="2554.3" r="0.7"/><circle cx="948.6" cy="2580.7" r="0.7"/><circle cx="827.8" cy="2420.2" r="0.7"/><circle cx="884.4" cy="2513.1" r="0.7"/><circle cx="887.3" cy="2382.5" r="0.7"/><circle cx="795.4" cy="2388.3" r="0.7"/><circle cx="1024.2" cy="2512.4" r="0.7"/></g>
</g>
<line x1="856.8" y1="2403.7" x2="838.1" y2="2391.6" stroke="#fff" stroke-width="2.6"/>
<polygon points="826.8,2384.2 841.7,2386.1 835.6,2389.9 834.6,2397.0" fill="#fff"/>
<line x1="954.5" y1="2399.8" x2="973.3" y2="2412.5" stroke="#fff" stroke-width="2.6"/>
<polygon points="984.5,2420.1 969.7,2417.9 975.8,2414.2 977.0,2407.2" fill="#fff"/>
<line x1="855.5" y1="2503.5" x2="874.1" y2="2515.1" stroke="#fff" stroke-width="2.6"/>
<polygon points="885.5,2522.3 870.6,2520.6 876.6,2516.7 877.5,2509.6" fill="#fff"/>
<line x1="1055.4" y1="2580.4" x2="1089.3" y2="2580.4" stroke="#fff" stroke-width="2.60" />
<line x1="1262.0" y1="2245.0" x2="1262.0" y2="2592.5" stroke="#000" stroke-width="2.00" />
<line x1="1261.0" y1="2591.5" x2="1688.1" y2="2591.5" stroke="#000" stroke-width="2.00" />
<line x1="1251.3" y1="2591.5" x2="1262.0" y2="2591.5" stroke="#000" stroke-width="2.00" />
<text x="1249.4" y="2599.5" font-size="22.50" text-anchor="end" stroke="#000" stroke-width="0.4">0</text>
<line x1="1251.3" y1="2505.1" x2="1262.0" y2="2505.1" stroke="#000" stroke-width="2.00" />
<text x="1249.4" y="2513.1" font-size="22.50" text-anchor="end" stroke="#000" stroke-width="0.4">50</text>
<line x1="1251.3" y1="2418.8" x2="1262.0" y2="2418.8" stroke="#000" stroke-width="2.00" />
<text x="1249.4" y="2426.8" font-size="22.50" text-anchor="end" stroke="#000" stroke-width="0.4">100</text>
<line x1="1251.3" y1="2332.4" x2="1262.0" y2="2332.4" stroke="#000" stroke-width="2.00" />
<text x="1249.4" y="2340.4" font-size="22.50" text-anchor="end" stroke="#000" stroke-width="0.4">150</text>
<line x1="1251.3" y1="2246.0" x2="1262.0" y2="2246.0" stroke="#000" stroke-width="2.00" />
<text x="1249.4" y="2254.0" font-size="22.50" text-anchor="end" stroke="#000" stroke-width="0.4">200</text>
<line x1="1256.0" y1="2548.3" x2="1262.0" y2="2548.3" stroke="#000" stroke-width="2.00" />
<line x1="1256.0" y1="2461.9" x2="1262.0" y2="2461.9" stroke="#000" stroke-width="2.00" />
<line x1="1256.0" y1="2375.6" x2="1262.0" y2="2375.6" stroke="#000" stroke-width="2.00" />
<line x1="1256.0" y1="2289.2" x2="1262.0" y2="2289.2" stroke="#000" stroke-width="2.00" />
<rect x="1326.9" y="2436.0" width="59.4" height="155.5" fill="#ff0000" stroke="#000" stroke-width="1.80" />
<rect x="1454.0" y="2563.0" width="59.0" height="28.5" fill="#f5a3b5" stroke="#000" stroke-width="1.80" />
<rect x="1581.0" y="2445.5" width="59.1" height="146.0" fill="#0a7af2" stroke="#000" stroke-width="1.80" />
<line x1="1356.8" y1="2414.5" x2="1356.8" y2="2436.1" stroke="#000" stroke-width="1.80" />
<line x1="1341.8" y1="2414.5" x2="1372.5" y2="2414.5" stroke="#000" stroke-width="1.80" />
<line x1="1483.5" y1="2553.0" x2="1483.5" y2="2562.8" stroke="#000" stroke-width="1.80" />
<line x1="1467.7" y1="2553.0" x2="1499.2" y2="2553.0" stroke="#000" stroke-width="1.80" />
<line x1="1610.6" y1="2426.3" x2="1610.6" y2="2445.1" stroke="#000" stroke-width="1.80" />
<line x1="1595.6" y1="2426.3" x2="1626.3" y2="2426.3" stroke="#000" stroke-width="1.80" />
<circle cx="1356.8" cy="2327.1" r="3.60" fill="#000" />
<circle cx="1349.7" cy="2397.5" r="3.60" fill="#000" />
<circle cx="1363.5" cy="2396.0" r="3.60" fill="#000" />
<circle cx="1356.8" cy="2439.2" r="3.60" fill="#000" />
<circle cx="1356.8" cy="2463.6" r="3.60" fill="#000" />
<circle cx="1349.7" cy="2479.4" r="3.60" fill="#000" />
<circle cx="1363.5" cy="2482.5" r="3.60" fill="#000" />
<circle cx="1349.7" cy="2488.0" r="3.60" fill="#000" />
<polygon points="1483.5,2521.8 1487.5,2525.8 1483.5,2529.8 1479.5,2525.8" fill="#000"/>
<polygon points="1476.8,2535.2 1480.8,2539.2 1476.8,2543.2 1472.8,2539.2" fill="#000"/>
<polygon points="1490.6,2536.8 1494.6,2540.8 1490.6,2544.8 1486.6,2540.8" fill="#000"/>
<polygon points="1483.5,2556.0 1487.5,2560.0 1483.5,2564.0 1479.5,2560.0" fill="#000"/>
<polygon points="1483.5,2566.7 1487.5,2570.7 1483.5,2574.7 1479.5,2570.7" fill="#000"/>
<polygon points="1469.7,2581.6 1473.7,2585.6 1469.7,2589.6 1465.7,2585.6" fill="#000"/>
<polygon points="1483.5,2578.5 1487.5,2582.5 1483.5,2586.5 1479.5,2582.5" fill="#000"/>
<polygon points="1497.3,2580.4 1501.3,2584.4 1497.3,2588.4 1493.3,2584.4" fill="#000"/>
<polygon points="1610.6,2372.1 1614.8,2379.3 1606.4,2379.3" fill="#000"/>
<polygon points="1610.6,2383.9 1614.8,2391.1 1606.4,2391.1" fill="#000"/>
<polygon points="1610.6,2404.3 1614.8,2411.5 1606.4,2411.5" fill="#000"/>
<polygon points="1610.6,2435.8 1614.8,2443.0 1606.4,2443.0" fill="#000"/>
<polygon points="1610.6,2457.5 1614.8,2464.7 1606.4,2464.7" fill="#000"/>
<polygon points="1610.6,2470.5 1614.8,2477.7 1606.4,2477.7" fill="#000"/>
<polygon points="1610.6,2492.9 1614.8,2500.1 1606.4,2500.1" fill="#000"/>
<polygon points="1610.6,2502.7 1614.8,2509.9 1606.4,2509.9" fill="#000"/>
<polyline points="1356.8,2288.5 1356.8,2277.9 1484.3,2277.9 1484.3,2288.5" fill="none" stroke="#000" stroke-width="1.8"/>
<text x="1419.7" y="2263.7" font-size="18.58" text-anchor="middle" stroke="#000" stroke-width="0.4">p&lt;0.0001</text>
<text x="1358.4" y="2619.0" font-size="23.08" text-anchor="middle" stroke="#000" stroke-width="0.4">PS19-fE4</text>
<text x="1486.6" y="2619.0" font-size="23.08" text-anchor="middle" stroke="#000" stroke-width="0.4">PS19-fE4</text>
<text x="1486.6" y="2646.6" font-size="22.73" text-anchor="middle" stroke="#000" stroke-width="0.4">Syn1-Cre</text>
<text x="1613.3" y="2619.0" font-size="23.08" text-anchor="middle" stroke="#000" stroke-width="0.4">PS19-fE3</text>
<text x="1170.0" y="2422.3" font-size="23.84" text-anchor="middle" stroke="#000" stroke-width="0.4" transform="rotate(-90 1170.0 2422.3)">Number of Hsp90 &amp; Ubb</text>
<text x="1200.5" y="2421.7" font-size="23.86" text-anchor="middle" stroke="#000" stroke-width="0.4" transform="rotate(-90 1200.5 2421.7)">Double-Positive DAOs</text>
</svg>
</body></html>
